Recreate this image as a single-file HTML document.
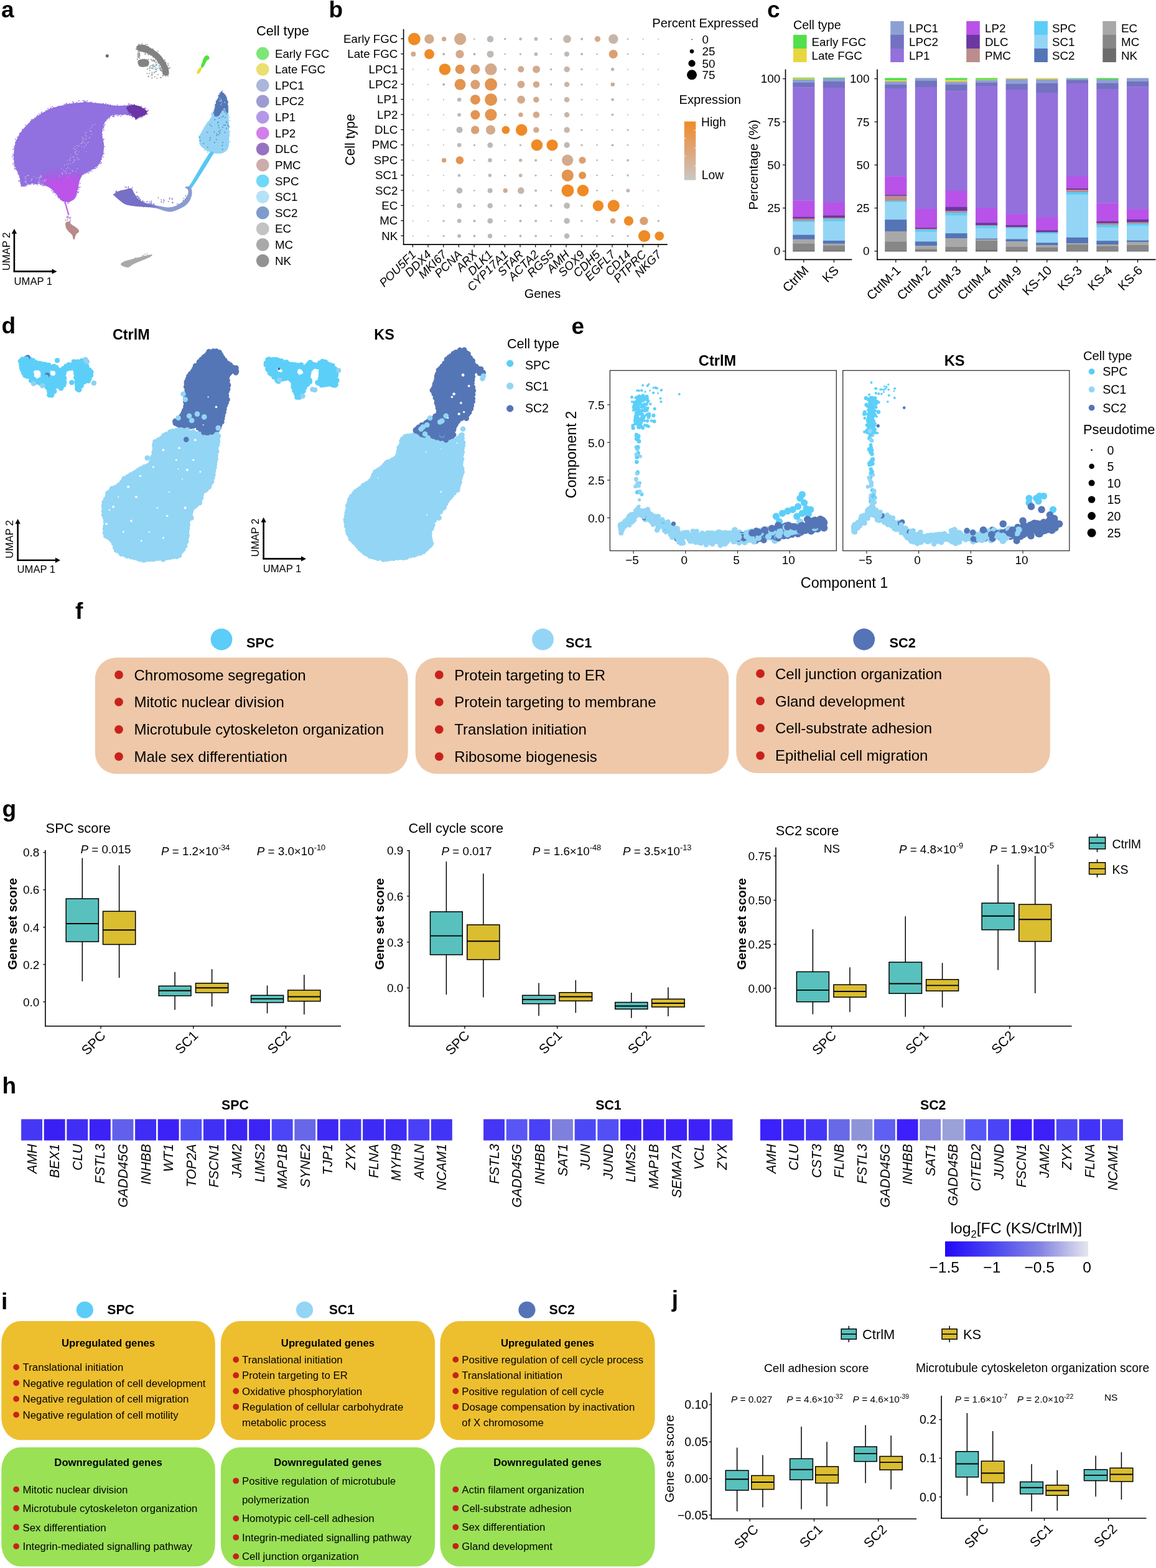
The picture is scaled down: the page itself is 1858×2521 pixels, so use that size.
<!DOCTYPE html>
<html><head><meta charset="utf-8"><title>Figure</title>
<style>html,body{margin:0;padding:0;background:#fff;} svg{display:block;}</style>
</head><body>
<svg width="1858" height="2521" viewBox="0 0 1858 2521" font-family="'Liberation Sans', Arial, sans-serif">
<rect x="0" y="0" width="1858" height="2521" fill="#fff"/>
<text x="2.00" y="28.30" font-size="37.00" font-weight="bold">a</text>
<text x="412.00" y="56.50" font-size="21.80">Cell type</text>
<circle cx="422.20" cy="86.00" r="10.40" fill="#7de678"/>
<text x="442.00" y="92.60" font-size="18.70">Early FGC</text>
<circle cx="422.20" cy="111.62" r="10.40" fill="#ebdf70"/>
<text x="442.00" y="118.22" font-size="18.70">Late FGC</text>
<circle cx="422.20" cy="137.24" r="10.40" fill="#aab6da"/>
<text x="442.00" y="143.84" font-size="18.70">LPC1</text>
<circle cx="422.20" cy="162.86" r="10.40" fill="#9d9bd2"/>
<text x="442.00" y="169.46" font-size="18.70">LPC2</text>
<circle cx="422.20" cy="188.48" r="10.40" fill="#b398e8"/>
<text x="442.00" y="195.08" font-size="18.70">LP1</text>
<circle cx="422.20" cy="214.10" r="10.40" fill="#d27fe9"/>
<text x="442.00" y="220.70" font-size="18.70">LP2</text>
<circle cx="422.20" cy="239.72" r="10.40" fill="#9572bf"/>
<text x="442.00" y="246.32" font-size="18.70">DLC</text>
<circle cx="422.20" cy="265.34" r="10.40" fill="#cdacac"/>
<text x="442.00" y="271.94" font-size="18.70">PMC</text>
<circle cx="422.20" cy="290.96" r="10.40" fill="#6ed8f8"/>
<text x="442.00" y="297.56" font-size="18.70">SPC</text>
<circle cx="422.20" cy="316.58" r="10.40" fill="#b4e2f7"/>
<text x="442.00" y="323.18" font-size="18.70">SC1</text>
<circle cx="422.20" cy="342.20" r="10.40" fill="#7f9bcb"/>
<text x="442.00" y="348.80" font-size="18.70">SC2</text>
<circle cx="422.20" cy="367.82" r="10.40" fill="#c3c3c3"/>
<text x="442.00" y="374.42" font-size="18.70">EC</text>
<circle cx="422.20" cy="393.44" r="10.40" fill="#a9a9a9"/>
<text x="442.00" y="400.04" font-size="18.70">MC</text>
<circle cx="422.20" cy="419.06" r="10.40" fill="#929292"/>
<text x="442.00" y="425.66" font-size="18.70">NK</text>
<line x1="22.90" y1="436.40" x2="22.90" y2="373.80" stroke="#000" stroke-width="2.6"/>
<line x1="21.60" y1="436.40" x2="85.50" y2="436.40" stroke="#000" stroke-width="2.6"/>
<path d="M18.7,375.8 L22.9,367.8 L27.1,375.8 Z" fill="#000"/>
<path d="M83.5,432.2 L91.5,436.4 L83.5,440.6 Z" fill="#000"/>
<text x="22.60" y="457.50" font-size="16.60">UMAP 1</text>
<text x="15.80" y="404.20" font-size="16.60" text-anchor="middle" transform="rotate(-90.00 15.80 404.20)">UMAP 2</text>
<defs><linearGradient id="lp2g" x1="0" y1="0" x2="0" y2="1"><stop offset="0" stop-color="#b952e8" stop-opacity="0"/><stop offset="0.35" stop-color="#b952e8" stop-opacity="0.55"/><stop offset="0.6" stop-color="#bb52e8" stop-opacity="1"/><stop offset="1" stop-color="#bd52e8" stop-opacity="1"/></linearGradient><linearGradient id="lpcg" x1="0" y1="0" x2="1" y2="0"><stop offset="0" stop-color="#7670c6"/><stop offset="0.45" stop-color="#7670c6"/><stop offset="0.62" stop-color="#8a9bd0"/><stop offset="1" stop-color="#8a9dd0"/></linearGradient><filter id="blur1"><feGaussianBlur stdDeviation="2.5"/></filter></defs>
<path d="M22.0,250.0 C22.1,245.7 22.7,240.3 23.5,236.0 C24.3,231.7 24.9,228.5 27.0,224.0 C29.1,219.5 33.0,213.3 36.2,209.0 C39.4,204.7 42.9,201.1 46.0,198.0 C49.1,194.9 51.8,192.9 55.1,190.4 C58.4,187.9 62.1,185.4 66.0,183.0 C69.9,180.6 74.7,178.0 78.7,176.2 C82.7,174.4 86.1,173.2 90.0,172.0 C93.9,170.8 98.3,170.0 102.3,169.1 C106.3,168.2 110.1,167.2 114.0,166.5 C117.9,165.8 122.1,165.5 125.9,165.2 C129.7,164.9 133.1,164.6 137.0,164.6 C140.9,164.6 145.5,164.9 149.5,165.2 C153.5,165.5 157.1,165.8 161.0,166.3 C164.9,166.8 168.4,167.7 173.1,168.3 C177.8,168.9 183.9,169.8 188.9,170.0 C193.9,170.2 198.8,169.7 203.0,169.5 C207.2,169.3 209.8,168.1 214.0,168.8 C218.2,169.5 224.5,172.1 228.2,173.8 C231.9,175.6 235.2,177.7 236.0,179.3 C236.8,180.9 234.7,182.2 233.0,183.5 C231.3,184.8 228.1,185.8 226.0,187.0 C223.9,188.2 222.5,190.3 220.3,190.4 C218.1,190.5 215.6,188.5 213.0,187.5 C210.4,186.5 207.7,185.0 205.0,184.5 C202.3,184.0 199.9,184.5 196.7,184.5 C193.5,184.5 189.1,184.2 186.0,184.5 C182.9,184.8 180.3,185.2 178.0,186.5 C175.7,187.8 173.8,189.8 172.0,192.0 C170.2,194.2 168.3,196.8 167.0,200.0 C165.7,203.2 164.3,207.3 164.0,211.0 C163.7,214.7 164.5,218.5 165.0,222.0 C165.5,225.5 166.8,228.5 167.0,232.0 C167.2,235.5 167.0,239.5 166.5,243.0 C166.0,246.5 165.2,249.5 164.0,253.0 C162.8,256.5 161.2,261.0 159.0,264.0 C156.8,267.0 153.9,269.0 151.0,271.0 C148.1,273.0 144.6,274.3 141.6,276.0 C138.6,277.7 135.3,278.7 133.0,281.0 C130.7,283.3 129.2,287.0 128.0,290.0 C126.8,293.0 126.8,295.7 126.0,299.0 C125.2,302.3 124.6,306.6 123.5,310.0 C122.4,313.4 121.3,317.1 119.6,319.4 C117.8,321.7 115.1,322.8 113.0,323.6 C110.9,324.5 109.2,324.6 107.0,324.5 C104.8,324.4 102.0,324.1 100.0,323.0 C98.0,321.9 96.7,320.0 95.0,318.0 C93.3,316.0 92.0,313.3 90.0,311.0 C88.0,308.7 85.4,305.9 83.0,304.0 C80.6,302.1 78.2,300.8 75.5,299.5 C72.8,298.2 69.6,297.2 67.0,296.5 C64.4,295.8 62.6,295.4 59.8,295.2 C57.0,295.0 53.0,295.1 50.0,295.5 C47.0,295.9 44.3,296.8 42.0,297.5 C39.7,298.2 37.7,299.8 36.2,299.5 C34.7,299.2 33.7,297.9 33.0,296.0 C32.3,294.1 32.4,290.4 32.0,288.0 C31.6,285.6 31.5,284.3 30.5,281.6 C29.5,278.9 27.2,275.3 26.0,272.0 C24.8,268.7 23.7,265.7 23.0,262.0 C22.3,258.3 21.9,254.3 22.0,250.0 Z" fill="#9170df"/>
<g fill="#9170df"><circle cx="182.9" cy="170.8" r="0.9"/><circle cx="35.8" cy="207.8" r="0.9"/><circle cx="31.8" cy="215.6" r="0.9"/><circle cx="227.4" cy="186.8" r="0.9"/><circle cx="232.3" cy="183.4" r="0.9"/><circle cx="116.8" cy="163.7" r="0.9"/><circle cx="162.1" cy="222.9" r="0.9"/><circle cx="29.1" cy="220.9" r="0.9"/><circle cx="72.6" cy="180.6" r="0.9"/><circle cx="92.9" cy="315.6" r="0.9"/><circle cx="160.4" cy="259.7" r="0.9"/><circle cx="34.5" cy="213.4" r="0.9"/><circle cx="141.7" cy="275.9" r="0.9"/><circle cx="164.8" cy="226.3" r="0.9"/><circle cx="101.4" cy="322.4" r="0.9"/><circle cx="162.1" cy="218.7" r="0.9"/><circle cx="125.1" cy="302.6" r="0.9"/><circle cx="55.9" cy="189.6" r="0.9"/><circle cx="75.7" cy="177.6" r="0.9"/><circle cx="149.6" cy="270.1" r="0.9"/><circle cx="60.5" cy="297.3" r="0.9"/><circle cx="165.6" cy="230.7" r="0.9"/><circle cx="83.3" cy="302.8" r="0.9"/><circle cx="153.5" cy="271.2" r="0.9"/><circle cx="161.8" cy="263.1" r="0.9"/><circle cx="156.0" cy="167.2" r="0.9"/><circle cx="22.8" cy="236.1" r="0.9"/><circle cx="59.4" cy="189.7" r="0.9"/><circle cx="63.7" cy="185.9" r="0.9"/><circle cx="65.0" cy="296.6" r="0.9"/><circle cx="167.8" cy="202.1" r="0.9"/><circle cx="68.1" cy="298.3" r="0.9"/><circle cx="206.1" cy="167.3" r="0.9"/><circle cx="75.9" cy="178.8" r="0.9"/><circle cx="123.6" cy="165.4" r="0.9"/><circle cx="145.1" cy="165.0" r="0.9"/><circle cx="207.3" cy="167.7" r="0.9"/><circle cx="135.4" cy="278.4" r="0.9"/><circle cx="147.7" cy="275.1" r="0.9"/><circle cx="112.2" cy="322.3" r="0.9"/><circle cx="223.7" cy="172.7" r="0.9"/><circle cx="163.1" cy="256.0" r="0.9"/><circle cx="110.7" cy="168.4" r="0.9"/><circle cx="31.1" cy="218.5" r="0.9"/><circle cx="49.5" cy="195.2" r="0.9"/><circle cx="61.4" cy="295.1" r="0.9"/><circle cx="136.5" cy="165.6" r="0.9"/><circle cx="62.7" cy="183.5" r="0.9"/><circle cx="207.9" cy="185.8" r="0.9"/><circle cx="49.4" cy="195.5" r="0.9"/><circle cx="87.2" cy="308.2" r="0.9"/><circle cx="28.8" cy="279.4" r="0.9"/><circle cx="168.6" cy="200.2" r="0.9"/><circle cx="24.7" cy="261.9" r="0.9"/><circle cx="142.2" cy="165.5" r="0.9"/><circle cx="113.0" cy="321.8" r="0.9"/><circle cx="185.9" cy="172.0" r="0.9"/><circle cx="24.2" cy="257.5" r="0.9"/><circle cx="91.3" cy="312.0" r="0.9"/><circle cx="176.7" cy="187.8" r="0.9"/><circle cx="24.3" cy="233.7" r="0.9"/><circle cx="137.5" cy="278.8" r="0.9"/><circle cx="35.2" cy="287.6" r="0.9"/><circle cx="207.5" cy="170.1" r="0.9"/><circle cx="103.2" cy="170.8" r="0.9"/><circle cx="46.6" cy="295.3" r="0.9"/><circle cx="157.1" cy="265.3" r="0.9"/><circle cx="155.2" cy="267.8" r="0.9"/><circle cx="122.0" cy="311.7" r="0.9"/><circle cx="103.8" cy="326.1" r="0.9"/><circle cx="23.6" cy="268.3" r="0.9"/><circle cx="30.4" cy="281.1" r="0.9"/><circle cx="64.1" cy="187.7" r="0.9"/><circle cx="97.3" cy="320.8" r="0.9"/><circle cx="22.4" cy="261.3" r="0.9"/><circle cx="166.3" cy="203.4" r="0.9"/><circle cx="23.9" cy="266.7" r="0.9"/><circle cx="29.8" cy="291.0" r="0.9"/><circle cx="88.4" cy="310.2" r="0.9"/><circle cx="162.7" cy="168.3" r="0.9"/><circle cx="141.0" cy="165.2" r="0.9"/><circle cx="39.1" cy="299.3" r="0.9"/><circle cx="166.6" cy="223.9" r="0.9"/><circle cx="34.0" cy="298.9" r="0.9"/><circle cx="175.6" cy="190.2" r="0.9"/><circle cx="96.7" cy="171.0" r="0.9"/><circle cx="85.8" cy="173.1" r="0.9"/><circle cx="164.1" cy="209.4" r="0.9"/><circle cx="165.1" cy="206.8" r="0.9"/><circle cx="164.2" cy="211.3" r="0.9"/><circle cx="113.3" cy="322.2" r="0.9"/><circle cx="121.7" cy="316.6" r="0.9"/><circle cx="165.0" cy="242.7" r="0.9"/><circle cx="134.5" cy="279.7" r="0.9"/><circle cx="203.0" cy="183.8" r="0.9"/><circle cx="61.6" cy="295.0" r="0.9"/><circle cx="166.7" cy="209.0" r="0.9"/><circle cx="68.9" cy="183.0" r="0.9"/><circle cx="37.1" cy="208.5" r="0.9"/><circle cx="149.4" cy="269.5" r="0.9"/><circle cx="77.0" cy="175.0" r="0.9"/><circle cx="73.6" cy="178.0" r="0.9"/><circle cx="118.0" cy="165.8" r="0.9"/><circle cx="197.8" cy="184.3" r="0.9"/><circle cx="80.1" cy="175.8" r="0.9"/><circle cx="191.7" cy="171.0" r="0.9"/><circle cx="128.6" cy="294.8" r="0.9"/><circle cx="224.3" cy="188.8" r="0.9"/><circle cx="164.3" cy="249.7" r="0.9"/><circle cx="23.6" cy="256.0" r="0.9"/><circle cx="51.2" cy="194.0" r="0.9"/><circle cx="111.1" cy="324.6" r="0.9"/><circle cx="235.2" cy="182.0" r="0.9"/><circle cx="142.9" cy="167.2" r="0.9"/><circle cx="164.3" cy="216.2" r="0.9"/><circle cx="31.5" cy="214.6" r="0.9"/><circle cx="38.7" cy="207.4" r="0.9"/><circle cx="100.2" cy="322.3" r="0.9"/><circle cx="35.9" cy="209.9" r="0.9"/><circle cx="188.6" cy="168.9" r="0.9"/><circle cx="148.1" cy="166.2" r="0.9"/><circle cx="129.1" cy="165.5" r="0.9"/><circle cx="30.0" cy="220.8" r="0.9"/><circle cx="170.2" cy="166.7" r="0.9"/><circle cx="187.8" cy="185.6" r="0.9"/><circle cx="23.2" cy="238.9" r="0.9"/><circle cx="124.7" cy="301.0" r="0.9"/><circle cx="203.7" cy="184.3" r="0.9"/><circle cx="89.8" cy="313.3" r="0.9"/><circle cx="83.2" cy="306.4" r="0.9"/><circle cx="139.9" cy="277.5" r="0.9"/><circle cx="85.0" cy="304.7" r="0.9"/><circle cx="230.8" cy="176.1" r="0.9"/><circle cx="65.9" cy="185.3" r="0.9"/><circle cx="139.6" cy="165.2" r="0.9"/><circle cx="82.5" cy="301.5" r="0.9"/><circle cx="155.8" cy="166.9" r="0.9"/><circle cx="213.1" cy="188.4" r="0.9"/><circle cx="147.5" cy="164.1" r="0.9"/><circle cx="166.5" cy="205.7" r="0.9"/><circle cx="172.9" cy="168.3" r="0.9"/><circle cx="216.3" cy="170.4" r="0.9"/><circle cx="105.2" cy="168.4" r="0.9"/><circle cx="145.8" cy="165.7" r="0.9"/><circle cx="28.0" cy="224.6" r="0.9"/><circle cx="123.6" cy="164.5" r="0.9"/><circle cx="121.6" cy="310.1" r="0.9"/><circle cx="58.1" cy="296.0" r="0.9"/><circle cx="24.0" cy="261.2" r="0.9"/><circle cx="162.8" cy="261.6" r="0.9"/><circle cx="49.5" cy="294.0" r="0.9"/><circle cx="94.6" cy="317.3" r="0.9"/><circle cx="185.8" cy="182.8" r="0.9"/><circle cx="85.7" cy="307.7" r="0.9"/><circle cx="141.0" cy="275.3" r="0.9"/><circle cx="25.9" cy="231.7" r="0.9"/><circle cx="52.2" cy="192.1" r="0.9"/><circle cx="162.9" cy="250.7" r="0.9"/><circle cx="196.4" cy="184.5" r="0.9"/><circle cx="121.7" cy="310.5" r="0.9"/><circle cx="155.9" cy="269.3" r="0.9"/><circle cx="138.1" cy="165.1" r="0.9"/><circle cx="126.6" cy="301.0" r="0.9"/><circle cx="22.6" cy="265.1" r="0.9"/><circle cx="199.6" cy="182.5" r="0.9"/><circle cx="165.5" cy="245.1" r="0.9"/><circle cx="73.5" cy="181.1" r="0.9"/><circle cx="169.5" cy="167.7" r="0.9"/><circle cx="32.8" cy="216.1" r="0.9"/><circle cx="135.8" cy="278.1" r="0.9"/><circle cx="176.0" cy="187.4" r="0.9"/><circle cx="58.8" cy="187.8" r="0.9"/><circle cx="23.7" cy="263.5" r="0.9"/><circle cx="214.0" cy="184.2" r="0.9"/><circle cx="218.0" cy="190.4" r="0.9"/><circle cx="31.2" cy="284.3" r="0.9"/><circle cx="67.2" cy="180.2" r="0.9"/><circle cx="66.1" cy="182.0" r="0.9"/><circle cx="53.9" cy="294.5" r="0.9"/><circle cx="47.1" cy="296.2" r="0.9"/><circle cx="20.8" cy="247.8" r="0.9"/><circle cx="169.0" cy="168.4" r="0.9"/><circle cx="177.0" cy="168.7" r="0.9"/><circle cx="123.0" cy="311.4" r="0.9"/><circle cx="32.2" cy="291.8" r="0.9"/><circle cx="159.8" cy="167.2" r="0.9"/><circle cx="21.0" cy="250.1" r="0.9"/><circle cx="229.9" cy="185.4" r="0.9"/><circle cx="50.3" cy="193.9" r="0.9"/><circle cx="32.1" cy="289.8" r="0.9"/><circle cx="181.1" cy="187.0" r="0.9"/><circle cx="29.9" cy="275.0" r="0.9"/><circle cx="166.2" cy="252.3" r="0.9"/><circle cx="165.9" cy="203.2" r="0.9"/><circle cx="123.5" cy="301.5" r="0.9"/><circle cx="160.0" cy="262.1" r="0.9"/><circle cx="33.8" cy="295.3" r="0.9"/><circle cx="193.6" cy="171.8" r="0.9"/><circle cx="23.7" cy="266.6" r="0.9"/><circle cx="166.3" cy="166.9" r="0.9"/><circle cx="85.4" cy="174.6" r="0.9"/><circle cx="41.5" cy="297.4" r="0.9"/><circle cx="43.6" cy="297.4" r="0.9"/><circle cx="69.4" cy="181.8" r="0.9"/><circle cx="193.9" cy="170.4" r="0.9"/><circle cx="138.5" cy="163.6" r="0.9"/><circle cx="121.8" cy="312.0" r="0.9"/><circle cx="173.0" cy="191.1" r="0.9"/><circle cx="32.9" cy="216.8" r="0.9"/><circle cx="60.1" cy="185.7" r="0.9"/><circle cx="69.2" cy="298.2" r="0.9"/><circle cx="133.7" cy="165.6" r="0.9"/><circle cx="30.3" cy="275.7" r="0.9"/><circle cx="25.5" cy="236.8" r="0.9"/><circle cx="46.9" cy="296.1" r="0.9"/><circle cx="19.7" cy="251.8" r="0.9"/><circle cx="90.6" cy="306.7" r="0.9"/><circle cx="135.4" cy="165.2" r="0.9"/><circle cx="173.4" cy="186.7" r="0.9"/><circle cx="125.7" cy="292.5" r="0.9"/><circle cx="213.2" cy="187.6" r="0.9"/><circle cx="109.4" cy="327.1" r="0.9"/><circle cx="159.6" cy="262.9" r="0.9"/><circle cx="135.6" cy="163.1" r="0.9"/><circle cx="56.2" cy="191.3" r="0.9"/><circle cx="164.8" cy="225.0" r="0.9"/><circle cx="167.9" cy="235.7" r="0.9"/><circle cx="213.4" cy="186.5" r="0.9"/><circle cx="55.1" cy="295.5" r="0.9"/><circle cx="135.9" cy="164.3" r="0.9"/><circle cx="173.1" cy="168.3" r="0.9"/><circle cx="145.1" cy="274.1" r="0.9"/><circle cx="150.8" cy="271.1" r="0.9"/><circle cx="24.8" cy="230.1" r="0.9"/><circle cx="142.3" cy="278.2" r="0.9"/><circle cx="123.8" cy="304.9" r="0.9"/><circle cx="24.1" cy="270.8" r="0.9"/><circle cx="124.1" cy="167.6" r="0.9"/><circle cx="165.3" cy="166.3" r="0.9"/><circle cx="97.2" cy="171.7" r="0.9"/><circle cx="151.8" cy="270.7" r="0.9"/><circle cx="225.6" cy="176.0" r="0.9"/><circle cx="70.9" cy="180.7" r="0.9"/><circle cx="226.9" cy="171.0" r="0.9"/><circle cx="128.5" cy="301.0" r="0.9"/><circle cx="186.4" cy="172.4" r="0.9"/><circle cx="125.5" cy="309.7" r="0.9"/><circle cx="215.2" cy="170.3" r="0.9"/><circle cx="87.1" cy="173.5" r="0.9"/><circle cx="199.7" cy="169.5" r="0.9"/><circle cx="26.3" cy="273.1" r="0.9"/><circle cx="90.8" cy="310.0" r="0.9"/><circle cx="28.0" cy="220.5" r="0.9"/><circle cx="35.3" cy="299.2" r="0.9"/><circle cx="49.2" cy="296.3" r="0.9"/><circle cx="93.8" cy="315.9" r="0.9"/><circle cx="28.4" cy="229.6" r="0.9"/><circle cx="140.1" cy="162.0" r="0.9"/><circle cx="190.9" cy="173.2" r="0.9"/><circle cx="165.7" cy="247.6" r="0.9"/><circle cx="177.2" cy="168.9" r="0.9"/><circle cx="123.1" cy="313.9" r="0.9"/><circle cx="32.0" cy="284.2" r="0.9"/><circle cx="206.0" cy="183.6" r="0.9"/><circle cx="220.7" cy="172.5" r="0.9"/><circle cx="192.2" cy="184.1" r="0.9"/><circle cx="97.4" cy="318.2" r="0.9"/><circle cx="113.8" cy="321.8" r="0.9"/><circle cx="177.7" cy="170.7" r="0.9"/><circle cx="40.5" cy="207.0" r="0.9"/><circle cx="134.4" cy="164.9" r="0.9"/><circle cx="163.8" cy="208.9" r="0.9"/><circle cx="57.3" cy="295.2" r="0.9"/><circle cx="43.2" cy="203.5" r="0.9"/><circle cx="128.6" cy="287.6" r="0.9"/><circle cx="233.7" cy="179.2" r="0.9"/><circle cx="124.5" cy="308.8" r="0.9"/><circle cx="60.0" cy="186.5" r="0.9"/><circle cx="162.8" cy="215.9" r="0.9"/><circle cx="104.2" cy="169.7" r="0.9"/><circle cx="78.1" cy="176.1" r="0.9"/><circle cx="180.1" cy="171.9" r="0.9"/><circle cx="183.1" cy="187.6" r="0.9"/><circle cx="157.3" cy="265.9" r="0.9"/><circle cx="204.2" cy="182.2" r="0.9"/><circle cx="38.4" cy="299.4" r="0.9"/><circle cx="59.7" cy="191.4" r="0.9"/><circle cx="166.6" cy="224.0" r="0.9"/><circle cx="66.1" cy="296.8" r="0.9"/><circle cx="112.5" cy="323.6" r="0.9"/><circle cx="166.3" cy="231.9" r="0.9"/><circle cx="210.5" cy="169.7" r="0.9"/><circle cx="137.3" cy="163.6" r="0.9"/><circle cx="108.0" cy="168.2" r="0.9"/><circle cx="144.3" cy="275.8" r="0.9"/><circle cx="107.3" cy="166.5" r="0.9"/><circle cx="34.9" cy="213.6" r="0.9"/><circle cx="165.5" cy="203.7" r="0.9"/><circle cx="82.3" cy="173.4" r="0.9"/><circle cx="155.5" cy="168.9" r="0.9"/><circle cx="173.5" cy="168.0" r="0.9"/><circle cx="238.2" cy="177.0" r="0.9"/><circle cx="207.5" cy="171.2" r="0.9"/><circle cx="109.7" cy="168.2" r="0.9"/><circle cx="233.0" cy="182.6" r="0.9"/><circle cx="55.9" cy="295.5" r="0.9"/><circle cx="21.2" cy="240.2" r="0.9"/><circle cx="41.7" cy="299.1" r="0.9"/><circle cx="210.5" cy="169.0" r="0.9"/><circle cx="153.7" cy="165.5" r="0.9"/><circle cx="50.8" cy="192.1" r="0.9"/><circle cx="25.7" cy="271.0" r="0.9"/><circle cx="32.6" cy="283.9" r="0.9"/><circle cx="31.8" cy="217.5" r="0.9"/><circle cx="41.7" cy="295.5" r="0.9"/><circle cx="81.0" cy="174.5" r="0.9"/><circle cx="232.3" cy="173.7" r="0.9"/><circle cx="94.6" cy="172.3" r="0.9"/><circle cx="176.3" cy="188.1" r="0.9"/><circle cx="133.5" cy="162.0" r="0.9"/><circle cx="24.8" cy="223.9" r="0.9"/><circle cx="26.6" cy="226.0" r="0.9"/><circle cx="165.1" cy="234.1" r="0.9"/><circle cx="169.3" cy="168.8" r="0.9"/><circle cx="230.5" cy="183.2" r="0.9"/><circle cx="226.1" cy="188.3" r="0.9"/><circle cx="194.1" cy="186.7" r="0.9"/><circle cx="109.8" cy="324.2" r="0.9"/><circle cx="204.7" cy="184.9" r="0.9"/><circle cx="229.7" cy="186.5" r="0.9"/><circle cx="182.9" cy="186.2" r="0.9"/><circle cx="40.9" cy="201.2" r="0.9"/><circle cx="181.8" cy="186.4" r="0.9"/><circle cx="216.2" cy="169.1" r="0.9"/><circle cx="74.5" cy="298.4" r="0.9"/><circle cx="93.9" cy="318.1" r="0.9"/><circle cx="195.2" cy="183.7" r="0.9"/><circle cx="84.3" cy="171.5" r="0.9"/><circle cx="33.3" cy="213.4" r="0.9"/><circle cx="80.7" cy="175.1" r="0.9"/><circle cx="93.3" cy="315.5" r="0.9"/><circle cx="35.0" cy="298.9" r="0.9"/><circle cx="183.5" cy="185.4" r="0.9"/><circle cx="95.4" cy="173.7" r="0.9"/><circle cx="143.8" cy="274.7" r="0.9"/><circle cx="108.7" cy="325.5" r="0.9"/><circle cx="160.5" cy="259.1" r="0.9"/><circle cx="162.7" cy="205.9" r="0.9"/><circle cx="53.0" cy="193.6" r="0.9"/><circle cx="225.6" cy="171.8" r="0.9"/><circle cx="21.4" cy="255.4" r="0.9"/><circle cx="118.3" cy="320.0" r="0.9"/><circle cx="126.3" cy="308.4" r="0.9"/><circle cx="135.7" cy="161.8" r="0.9"/><circle cx="165.3" cy="225.2" r="0.9"/><circle cx="22.8" cy="249.0" r="0.9"/><circle cx="164.6" cy="245.6" r="0.9"/><circle cx="49.4" cy="296.5" r="0.9"/><circle cx="156.9" cy="265.9" r="0.9"/><circle cx="202.3" cy="170.3" r="0.9"/><circle cx="118.2" cy="165.0" r="0.9"/><circle cx="106.2" cy="167.0" r="0.9"/><circle cx="67.4" cy="182.3" r="0.9"/><circle cx="76.1" cy="179.4" r="0.9"/><circle cx="64.1" cy="294.6" r="0.9"/><circle cx="146.6" cy="165.1" r="0.9"/><circle cx="162.9" cy="213.1" r="0.9"/><circle cx="223.3" cy="189.0" r="0.9"/><circle cx="135.1" cy="164.5" r="0.9"/><circle cx="170.1" cy="194.3" r="0.9"/><circle cx="32.3" cy="215.2" r="0.9"/><circle cx="166.4" cy="204.4" r="0.9"/><circle cx="103.2" cy="167.7" r="0.9"/><circle cx="161.1" cy="259.3" r="0.9"/><circle cx="172.7" cy="168.6" r="0.9"/><circle cx="53.0" cy="293.4" r="0.9"/><circle cx="23.6" cy="244.3" r="0.9"/><circle cx="208.8" cy="184.5" r="0.9"/><circle cx="121.5" cy="166.3" r="0.9"/><circle cx="25.3" cy="228.0" r="0.9"/><circle cx="135.9" cy="278.3" r="0.9"/><circle cx="144.5" cy="164.6" r="0.9"/><circle cx="104.3" cy="324.0" r="0.9"/><circle cx="161.6" cy="260.1" r="0.9"/><circle cx="59.4" cy="295.3" r="0.9"/><circle cx="126.9" cy="162.0" r="0.9"/><circle cx="122.4" cy="311.6" r="0.9"/><circle cx="185.0" cy="172.4" r="0.9"/><circle cx="163.0" cy="252.0" r="0.9"/><circle cx="20.9" cy="263.6" r="0.9"/><circle cx="134.2" cy="279.7" r="0.9"/><circle cx="125.6" cy="295.6" r="0.9"/><circle cx="111.7" cy="166.6" r="0.9"/><circle cx="39.7" cy="298.6" r="0.9"/><circle cx="53.2" cy="192.3" r="0.9"/><circle cx="70.8" cy="180.7" r="0.9"/><circle cx="134.7" cy="277.7" r="0.9"/><circle cx="126.6" cy="304.2" r="0.9"/><circle cx="207.6" cy="167.1" r="0.9"/><circle cx="53.8" cy="296.5" r="0.9"/><circle cx="38.0" cy="298.9" r="0.9"/><circle cx="108.5" cy="168.0" r="0.9"/><circle cx="78.4" cy="299.1" r="0.9"/><circle cx="88.0" cy="308.9" r="0.9"/><circle cx="50.7" cy="196.8" r="0.9"/><circle cx="107.2" cy="169.1" r="0.9"/><circle cx="23.4" cy="238.0" r="0.9"/><circle cx="127.1" cy="291.5" r="0.9"/><circle cx="23.5" cy="272.0" r="0.9"/><circle cx="167.0" cy="246.6" r="0.9"/><circle cx="225.5" cy="186.2" r="0.9"/><circle cx="130.2" cy="284.3" r="0.9"/><circle cx="71.4" cy="298.6" r="0.9"/><circle cx="87.6" cy="173.2" r="0.9"/><circle cx="120.1" cy="318.6" r="0.9"/><circle cx="190.8" cy="184.6" r="0.9"/><circle cx="94.0" cy="170.8" r="0.9"/><circle cx="85.5" cy="309.8" r="0.9"/><circle cx="157.3" cy="167.9" r="0.9"/><circle cx="189.8" cy="185.7" r="0.9"/></g>
<defs><linearGradient id="lp2g2" x1="0" y1="0" x2="0" y2="1"><stop offset="0" stop-color="#b952e8" stop-opacity="0"/><stop offset="0.28" stop-color="#b952e8" stop-opacity="0.6"/><stop offset="0.5" stop-color="#bb52e8" stop-opacity="1"/><stop offset="1" stop-color="#bd52e8" stop-opacity="1"/></linearGradient></defs>
<defs><clipPath id="blobclip"><path d="M22.0,250.0 C22.1,245.7 22.7,240.3 23.5,236.0 C24.3,231.7 24.9,228.5 27.0,224.0 C29.1,219.5 33.0,213.3 36.2,209.0 C39.4,204.7 42.9,201.1 46.0,198.0 C49.1,194.9 51.8,192.9 55.1,190.4 C58.4,187.9 62.1,185.4 66.0,183.0 C69.9,180.6 74.7,178.0 78.7,176.2 C82.7,174.4 86.1,173.2 90.0,172.0 C93.9,170.8 98.3,170.0 102.3,169.1 C106.3,168.2 110.1,167.2 114.0,166.5 C117.9,165.8 122.1,165.5 125.9,165.2 C129.7,164.9 133.1,164.6 137.0,164.6 C140.9,164.6 145.5,164.9 149.5,165.2 C153.5,165.5 157.1,165.8 161.0,166.3 C164.9,166.8 168.4,167.7 173.1,168.3 C177.8,168.9 183.9,169.8 188.9,170.0 C193.9,170.2 198.8,169.7 203.0,169.5 C207.2,169.3 209.8,168.1 214.0,168.8 C218.2,169.5 224.5,172.1 228.2,173.8 C231.9,175.6 235.2,177.7 236.0,179.3 C236.8,180.9 234.7,182.2 233.0,183.5 C231.3,184.8 228.1,185.8 226.0,187.0 C223.9,188.2 222.5,190.3 220.3,190.4 C218.1,190.5 215.6,188.5 213.0,187.5 C210.4,186.5 207.7,185.0 205.0,184.5 C202.3,184.0 199.9,184.5 196.7,184.5 C193.5,184.5 189.1,184.2 186.0,184.5 C182.9,184.8 180.3,185.2 178.0,186.5 C175.7,187.8 173.8,189.8 172.0,192.0 C170.2,194.2 168.3,196.8 167.0,200.0 C165.7,203.2 164.3,207.3 164.0,211.0 C163.7,214.7 164.5,218.5 165.0,222.0 C165.5,225.5 166.8,228.5 167.0,232.0 C167.2,235.5 167.0,239.5 166.5,243.0 C166.0,246.5 165.2,249.5 164.0,253.0 C162.8,256.5 161.2,261.0 159.0,264.0 C156.8,267.0 153.9,269.0 151.0,271.0 C148.1,273.0 144.6,274.3 141.6,276.0 C138.6,277.7 135.3,278.7 133.0,281.0 C130.7,283.3 129.2,287.0 128.0,290.0 C126.8,293.0 126.8,295.7 126.0,299.0 C125.2,302.3 124.6,306.6 123.5,310.0 C122.4,313.4 121.3,317.1 119.6,319.4 C117.8,321.7 115.1,322.8 113.0,323.6 C110.9,324.5 109.2,324.6 107.0,324.5 C104.8,324.4 102.0,324.1 100.0,323.0 C98.0,321.9 96.7,320.0 95.0,318.0 C93.3,316.0 92.0,313.3 90.0,311.0 C88.0,308.7 85.4,305.9 83.0,304.0 C80.6,302.1 78.2,300.8 75.5,299.5 C72.8,298.2 69.6,297.2 67.0,296.5 C64.4,295.8 62.6,295.4 59.8,295.2 C57.0,295.0 53.0,295.1 50.0,295.5 C47.0,295.9 44.3,296.8 42.0,297.5 C39.7,298.2 37.7,299.8 36.2,299.5 C34.7,299.2 33.7,297.9 33.0,296.0 C32.3,294.1 32.4,290.4 32.0,288.0 C31.6,285.6 31.5,284.3 30.5,281.6 C29.5,278.9 27.2,275.3 26.0,272.0 C24.8,268.7 23.7,265.7 23.0,262.0 C22.3,258.3 21.9,254.3 22.0,250.0 Z"/></clipPath><filter id="blur3" x="-20%" y="-20%" width="140%" height="140%"><feGaussianBlur stdDeviation="3.2"/></filter></defs>
<g clip-path="url(#blobclip)"><path d="M66.0,283.0 C67.3,279.8 73.7,277.9 78.0,276.0 C82.3,274.1 87.3,272.6 92.0,271.5 C96.7,270.4 101.7,269.7 106.0,269.5 C110.3,269.3 114.3,269.6 118.0,270.5 C121.7,271.4 125.4,273.2 128.0,275.0 C130.6,276.8 133.5,278.5 133.5,281.0 C133.5,283.5 129.2,287.0 128.0,290.0 C126.8,293.0 126.8,295.7 126.0,299.0 C125.2,302.3 124.6,306.6 123.5,310.0 C122.4,313.4 121.3,317.1 119.6,319.4 C117.8,321.7 115.1,322.8 113.0,323.6 C110.9,324.5 109.2,324.6 107.0,324.5 C104.8,324.4 102.0,324.1 100.0,323.0 C98.0,321.9 96.7,320.0 95.0,318.0 C93.3,316.0 92.0,313.3 90.0,311.0 C88.0,308.7 85.3,305.9 83.0,304.0 C80.7,302.1 78.2,301.0 76.0,299.5 C73.8,298.0 71.7,297.8 70.0,295.0 C68.3,292.2 64.7,286.2 66.0,283.0 Z" fill="url(#lp2g2)" filter="url(#blur3)"/><path d="M80.0,300.0 C81.2,296.7 89.2,292.5 95.0,290.0 C100.8,287.5 109.7,285.0 115.0,285.0 C120.3,285.0 125.6,285.8 127.0,290.0 C128.4,294.2 125.8,304.3 123.5,310.0 C121.2,315.7 116.9,321.8 113.0,324.0 C109.1,326.2 104.2,325.3 100.0,323.0 C95.8,320.7 91.3,313.8 88.0,310.0 C84.7,306.2 78.8,303.3 80.0,300.0 Z" fill="#bd52e8" filter="url(#blur3)"/></g>
<circle cx="147.78" cy="203.96" r="0.70" fill="#ffffff" opacity="0.55"/>
<circle cx="107.40" cy="264.58" r="0.70" fill="#ffffff" opacity="0.55"/>
<circle cx="121.64" cy="243.57" r="0.70" fill="#ffffff" opacity="0.55"/>
<circle cx="146.55" cy="211.17" r="0.70" fill="#ffffff" opacity="0.55"/>
<circle cx="138.80" cy="232.21" r="0.70" fill="#ffffff" opacity="0.55"/>
<circle cx="117.41" cy="252.23" r="0.70" fill="#ffffff" opacity="0.55"/>
<circle cx="132.35" cy="225.18" r="0.70" fill="#ffffff" opacity="0.55"/>
<circle cx="112.41" cy="258.15" r="0.70" fill="#ffffff" opacity="0.55"/>
<circle cx="131.23" cy="235.45" r="0.70" fill="#ffffff" opacity="0.55"/>
<circle cx="103.53" cy="265.44" r="0.70" fill="#ffffff" opacity="0.55"/>
<circle cx="133.54" cy="221.80" r="0.70" fill="#ffffff" opacity="0.55"/>
<circle cx="124.95" cy="255.30" r="0.70" fill="#ffffff" opacity="0.55"/>
<circle cx="105.99" cy="279.06" r="0.70" fill="#ffffff" opacity="0.55"/>
<circle cx="132.13" cy="219.90" r="0.70" fill="#ffffff" opacity="0.55"/>
<circle cx="144.37" cy="220.50" r="0.70" fill="#ffffff" opacity="0.55"/>
<circle cx="130.74" cy="230.71" r="0.70" fill="#ffffff" opacity="0.55"/>
<circle cx="138.66" cy="243.86" r="0.70" fill="#ffffff" opacity="0.55"/>
<circle cx="123.84" cy="270.94" r="0.70" fill="#ffffff" opacity="0.55"/>
<circle cx="134.19" cy="222.68" r="0.70" fill="#ffffff" opacity="0.55"/>
<circle cx="109.70" cy="263.28" r="0.70" fill="#ffffff" opacity="0.55"/>
<circle cx="138.65" cy="218.88" r="0.70" fill="#ffffff" opacity="0.55"/>
<circle cx="138.67" cy="222.36" r="0.70" fill="#ffffff" opacity="0.55"/>
<circle cx="132.01" cy="229.49" r="0.70" fill="#ffffff" opacity="0.55"/>
<circle cx="121.22" cy="240.92" r="0.70" fill="#ffffff" opacity="0.55"/>
<circle cx="138.86" cy="213.26" r="0.70" fill="#ffffff" opacity="0.55"/>
<circle cx="117.39" cy="261.38" r="0.70" fill="#ffffff" opacity="0.55"/>
<circle cx="121.27" cy="245.69" r="0.70" fill="#ffffff" opacity="0.55"/>
<circle cx="136.78" cy="213.14" r="0.70" fill="#ffffff" opacity="0.55"/>
<circle cx="108.28" cy="257.62" r="0.70" fill="#ffffff" opacity="0.55"/>
<circle cx="112.56" cy="255.10" r="0.70" fill="#ffffff" opacity="0.55"/>
<circle cx="132.78" cy="228.40" r="0.70" fill="#ffffff" opacity="0.55"/>
<circle cx="130.62" cy="230.83" r="0.70" fill="#ffffff" opacity="0.55"/>
<circle cx="118.52" cy="260.62" r="0.70" fill="#ffffff" opacity="0.55"/>
<circle cx="123.53" cy="237.87" r="0.70" fill="#ffffff" opacity="0.55"/>
<circle cx="119.12" cy="257.67" r="0.70" fill="#ffffff" opacity="0.55"/>
<circle cx="118.15" cy="252.48" r="0.70" fill="#ffffff" opacity="0.55"/>
<circle cx="126.88" cy="243.97" r="0.70" fill="#ffffff" opacity="0.55"/>
<circle cx="127.47" cy="255.86" r="0.70" fill="#ffffff" opacity="0.55"/>
<circle cx="100.68" cy="279.97" r="0.70" fill="#ffffff" opacity="0.55"/>
<circle cx="113.59" cy="248.94" r="0.70" fill="#ffffff" opacity="0.55"/>
<circle cx="118.37" cy="238.76" r="0.70" fill="#ffffff" opacity="0.55"/>
<circle cx="113.64" cy="253.23" r="0.70" fill="#ffffff" opacity="0.55"/>
<circle cx="137.49" cy="217.23" r="0.70" fill="#ffffff" opacity="0.55"/>
<circle cx="122.23" cy="276.05" r="0.70" fill="#ffffff" opacity="0.55"/>
<circle cx="135.98" cy="234.83" r="0.70" fill="#ffffff" opacity="0.55"/>
<circle cx="135.20" cy="237.41" r="0.70" fill="#ffffff" opacity="0.55"/>
<circle cx="127.48" cy="234.23" r="0.70" fill="#ffffff" opacity="0.55"/>
<circle cx="138.06" cy="234.33" r="0.70" fill="#ffffff" opacity="0.55"/>
<circle cx="99.54" cy="279.60" r="0.70" fill="#ffffff" opacity="0.55"/>
<circle cx="107.24" cy="271.29" r="0.70" fill="#ffffff" opacity="0.55"/>
<circle cx="145.05" cy="206.36" r="0.70" fill="#ffffff" opacity="0.55"/>
<circle cx="111.98" cy="256.98" r="0.70" fill="#ffffff" opacity="0.55"/>
<circle cx="143.25" cy="222.03" r="0.70" fill="#ffffff" opacity="0.55"/>
<circle cx="121.91" cy="247.75" r="0.70" fill="#ffffff" opacity="0.55"/>
<circle cx="124.86" cy="248.51" r="0.70" fill="#ffffff" opacity="0.55"/>
<circle cx="146.09" cy="210.97" r="0.70" fill="#ffffff" opacity="0.55"/>
<circle cx="106.94" cy="277.88" r="0.70" fill="#ffffff" opacity="0.55"/>
<circle cx="134.46" cy="226.72" r="0.70" fill="#ffffff" opacity="0.55"/>
<circle cx="149.15" cy="201.22" r="0.70" fill="#ffffff" opacity="0.55"/>
<circle cx="135.92" cy="230.01" r="0.70" fill="#ffffff" opacity="0.55"/>
<circle cx="123.80" cy="233.71" r="0.70" fill="#ffffff" opacity="0.55"/>
<circle cx="140.73" cy="229.74" r="0.70" fill="#ffffff" opacity="0.55"/>
<circle cx="152.26" cy="199.97" r="0.70" fill="#ffffff" opacity="0.55"/>
<circle cx="116.79" cy="275.01" r="0.70" fill="#ffffff" opacity="0.55"/>
<circle cx="119.10" cy="255.72" r="0.70" fill="#ffffff" opacity="0.55"/>
<circle cx="100.30" cy="277.99" r="0.70" fill="#ffffff" opacity="0.55"/>
<circle cx="147.20" cy="215.97" r="0.70" fill="#ffffff" opacity="0.55"/>
<circle cx="109.55" cy="269.47" r="0.70" fill="#ffffff" opacity="0.55"/>
<circle cx="105.58" cy="274.40" r="0.70" fill="#ffffff" opacity="0.55"/>
<circle cx="98.67" cy="270.80" r="0.70" fill="#ffffff" opacity="0.55"/>
<circle cx="123.50" cy="253.03" r="0.70" fill="#ffffff" opacity="0.55"/>
<circle cx="110.55" cy="279.37" r="0.70" fill="#ffffff" opacity="0.55"/>
<circle cx="123.19" cy="242.10" r="0.70" fill="#ffffff" opacity="0.55"/>
<circle cx="102.18" cy="274.29" r="0.70" fill="#ffffff" opacity="0.55"/>
<circle cx="142.02" cy="228.21" r="0.70" fill="#ffffff" opacity="0.55"/>
<circle cx="144.34" cy="210.25" r="0.70" fill="#ffffff" opacity="0.55"/>
<circle cx="119.20" cy="244.38" r="0.70" fill="#ffffff" opacity="0.55"/>
<circle cx="116.43" cy="274.43" r="0.70" fill="#ffffff" opacity="0.55"/>
<circle cx="119.77" cy="239.60" r="0.70" fill="#ffffff" opacity="0.55"/>
<circle cx="104.29" cy="275.93" r="0.70" fill="#ffffff" opacity="0.55"/>
<circle cx="108.30" cy="285.10" r="0.70" fill="#ffffff" opacity="0.55"/>
<circle cx="124.94" cy="257.11" r="0.70" fill="#ffffff" opacity="0.55"/>
<circle cx="119.94" cy="257.74" r="0.70" fill="#ffffff" opacity="0.55"/>
<circle cx="95.17" cy="283.15" r="0.70" fill="#ffffff" opacity="0.55"/>
<circle cx="112.90" cy="278.49" r="0.70" fill="#ffffff" opacity="0.55"/>
<circle cx="113.48" cy="263.47" r="0.70" fill="#ffffff" opacity="0.55"/>
<circle cx="125.66" cy="235.27" r="0.70" fill="#ffffff" opacity="0.55"/>
<circle cx="112.78" cy="271.83" r="0.70" fill="#ffffff" opacity="0.55"/>
<circle cx="120.05" cy="235.67" r="0.70" fill="#ffffff" opacity="0.55"/>
<circle cx="137.74" cy="223.94" r="0.70" fill="#ffffff" opacity="0.55"/>
<circle cx="57.63" cy="286.08" r="0.70" fill="#ffffff" opacity="0.5"/>
<circle cx="57.72" cy="296.62" r="0.70" fill="#ffffff" opacity="0.5"/>
<circle cx="62.91" cy="293.88" r="0.70" fill="#ffffff" opacity="0.5"/>
<circle cx="51.58" cy="286.76" r="0.70" fill="#ffffff" opacity="0.5"/>
<circle cx="50.47" cy="290.80" r="0.70" fill="#ffffff" opacity="0.5"/>
<circle cx="62.22" cy="293.76" r="0.70" fill="#ffffff" opacity="0.5"/>
<circle cx="41.40" cy="292.84" r="0.70" fill="#ffffff" opacity="0.5"/>
<circle cx="71.00" cy="290.18" r="0.70" fill="#ffffff" opacity="0.5"/>
<circle cx="41.74" cy="286.51" r="0.70" fill="#ffffff" opacity="0.5"/>
<circle cx="40.22" cy="284.85" r="0.70" fill="#ffffff" opacity="0.5"/>
<circle cx="72.25" cy="291.13" r="0.70" fill="#ffffff" opacity="0.5"/>
<circle cx="63.03" cy="293.84" r="0.70" fill="#ffffff" opacity="0.5"/>
<circle cx="71.84" cy="291.18" r="0.70" fill="#ffffff" opacity="0.5"/>
<circle cx="61.58" cy="291.40" r="0.70" fill="#ffffff" opacity="0.5"/>
<circle cx="64.37" cy="290.94" r="0.70" fill="#ffffff" opacity="0.5"/>
<circle cx="63.83" cy="285.19" r="0.70" fill="#ffffff" opacity="0.5"/>
<circle cx="63.35" cy="288.87" r="0.70" fill="#ffffff" opacity="0.5"/>
<circle cx="66.69" cy="283.52" r="0.70" fill="#ffffff" opacity="0.5"/>
<circle cx="46.35" cy="282.55" r="0.70" fill="#ffffff" opacity="0.5"/>
<circle cx="67.11" cy="295.71" r="0.70" fill="#ffffff" opacity="0.5"/>
<circle cx="62.95" cy="287.53" r="0.70" fill="#ffffff" opacity="0.5"/>
<circle cx="68.79" cy="293.80" r="0.70" fill="#ffffff" opacity="0.5"/>
<circle cx="59.67" cy="285.87" r="0.70" fill="#ffffff" opacity="0.5"/>
<circle cx="50.57" cy="288.33" r="0.70" fill="#ffffff" opacity="0.5"/>
<circle cx="51.15" cy="288.46" r="0.70" fill="#ffffff" opacity="0.5"/>
<circle cx="62.46" cy="296.01" r="0.70" fill="#ffffff" opacity="0.5"/>
<circle cx="41.91" cy="290.51" r="0.70" fill="#ffffff" opacity="0.5"/>
<circle cx="41.38" cy="283.78" r="0.70" fill="#ffffff" opacity="0.5"/>
<circle cx="68.36" cy="290.63" r="0.70" fill="#ffffff" opacity="0.5"/>
<circle cx="72.15" cy="288.70" r="0.70" fill="#ffffff" opacity="0.5"/>
<circle cx="40.49" cy="287.81" r="0.70" fill="#ffffff" opacity="0.5"/>
<circle cx="60.72" cy="296.07" r="0.70" fill="#ffffff" opacity="0.5"/>
<circle cx="74.33" cy="289.13" r="0.70" fill="#ffffff" opacity="0.5"/>
<circle cx="54.43" cy="283.53" r="0.70" fill="#ffffff" opacity="0.5"/>
<circle cx="62.56" cy="285.18" r="0.70" fill="#ffffff" opacity="0.5"/>
<circle cx="45.31" cy="282.23" r="0.70" fill="#ffffff" opacity="0.5"/>
<circle cx="40.17" cy="292.26" r="0.70" fill="#ffffff" opacity="0.5"/>
<circle cx="44.26" cy="296.50" r="0.70" fill="#ffffff" opacity="0.5"/>
<circle cx="43.08" cy="295.04" r="0.70" fill="#ffffff" opacity="0.5"/>
<circle cx="44.51" cy="282.27" r="0.70" fill="#ffffff" opacity="0.5"/>
<circle cx="65.18" cy="285.63" r="0.70" fill="#ffffff" opacity="0.5"/>
<circle cx="65.67" cy="284.81" r="0.70" fill="#ffffff" opacity="0.5"/>
<circle cx="41.75" cy="293.61" r="0.70" fill="#ffffff" opacity="0.5"/>
<circle cx="64.97" cy="294.83" r="0.70" fill="#ffffff" opacity="0.5"/>
<circle cx="65.54" cy="283.26" r="0.70" fill="#ffffff" opacity="0.5"/>
<circle cx="62.00" cy="292.64" r="0.70" fill="#ffffff" opacity="0.5"/>
<circle cx="56.12" cy="295.99" r="0.70" fill="#ffffff" opacity="0.5"/>
<circle cx="48.89" cy="296.46" r="0.70" fill="#ffffff" opacity="0.5"/>
<circle cx="65.10" cy="282.17" r="0.70" fill="#ffffff" opacity="0.5"/>
<circle cx="40.52" cy="291.76" r="0.70" fill="#ffffff" opacity="0.5"/>
<path d="M204.0,172.5 C204.8,171.2 208.2,170.6 210.0,170.0 C211.8,169.4 213.0,168.8 215.0,168.8 C217.0,168.8 219.7,169.5 222.0,170.2 C224.3,170.9 227.0,172.1 229.0,173.2 C231.0,174.2 232.8,175.4 234.0,176.5 C235.2,177.6 236.1,178.8 236.2,180.0 C236.3,181.2 235.7,182.9 234.5,184.0 C233.3,185.1 230.8,185.8 229.0,186.5 C227.2,187.2 224.9,187.2 223.5,188.0 C222.1,188.8 221.5,191.1 220.5,191.5 C219.5,191.9 218.6,191.4 217.5,190.5 C216.4,189.6 215.4,187.5 214.0,186.0 C212.6,184.5 210.5,182.9 209.0,181.5 C207.5,180.1 205.8,179.0 205.0,177.5 C204.2,176.0 203.2,173.8 204.0,172.5 Z" fill="#6c35a5"/>
<g fill="#6c35a5"><circle cx="213.1" cy="184.9" r="0.8"/><circle cx="218.1" cy="191.8" r="0.8"/><circle cx="235.5" cy="184.1" r="0.8"/><circle cx="226.5" cy="187.4" r="0.8"/><circle cx="215.7" cy="168.0" r="0.8"/><circle cx="222.0" cy="188.2" r="0.8"/><circle cx="234.4" cy="174.1" r="0.8"/><circle cx="213.6" cy="186.1" r="0.8"/><circle cx="210.2" cy="170.3" r="0.8"/><circle cx="211.1" cy="185.1" r="0.8"/><circle cx="205.0" cy="173.2" r="0.8"/><circle cx="226.6" cy="173.9" r="0.8"/><circle cx="232.7" cy="174.8" r="0.8"/><circle cx="207.8" cy="179.3" r="0.8"/><circle cx="204.0" cy="173.5" r="0.8"/><circle cx="227.8" cy="185.1" r="0.8"/><circle cx="208.2" cy="169.6" r="0.8"/><circle cx="208.5" cy="181.4" r="0.8"/><circle cx="210.8" cy="181.2" r="0.8"/><circle cx="206.2" cy="179.3" r="0.8"/><circle cx="229.8" cy="185.6" r="0.8"/><circle cx="216.7" cy="188.4" r="0.8"/><circle cx="224.8" cy="186.5" r="0.8"/><circle cx="220.5" cy="171.6" r="0.8"/><circle cx="213.5" cy="186.1" r="0.8"/><circle cx="213.1" cy="184.4" r="0.8"/><circle cx="229.2" cy="185.6" r="0.8"/><circle cx="230.7" cy="185.3" r="0.8"/><circle cx="219.3" cy="170.2" r="0.8"/><circle cx="218.4" cy="192.0" r="0.8"/><circle cx="234.1" cy="177.5" r="0.8"/><circle cx="208.4" cy="171.0" r="0.8"/><circle cx="211.1" cy="168.1" r="0.8"/><circle cx="215.6" cy="168.5" r="0.8"/><circle cx="232.4" cy="185.1" r="0.8"/><circle cx="204.9" cy="172.4" r="0.8"/><circle cx="228.4" cy="188.4" r="0.8"/><circle cx="237.3" cy="178.7" r="0.8"/><circle cx="213.0" cy="184.3" r="0.8"/><circle cx="207.1" cy="171.9" r="0.8"/><circle cx="211.7" cy="170.3" r="0.8"/><circle cx="206.7" cy="182.2" r="0.8"/><circle cx="208.0" cy="179.7" r="0.8"/><circle cx="236.3" cy="178.9" r="0.8"/><circle cx="223.2" cy="170.7" r="0.8"/><circle cx="204.2" cy="175.2" r="0.8"/><circle cx="237.2" cy="183.1" r="0.8"/><circle cx="204.2" cy="173.5" r="0.8"/><circle cx="223.1" cy="173.0" r="0.8"/><circle cx="207.2" cy="179.3" r="0.8"/><circle cx="213.9" cy="184.9" r="0.8"/><circle cx="204.8" cy="173.9" r="0.8"/><circle cx="217.2" cy="187.8" r="0.8"/><circle cx="226.3" cy="171.7" r="0.8"/><circle cx="211.9" cy="170.2" r="0.8"/><circle cx="213.2" cy="169.2" r="0.8"/><circle cx="224.0" cy="171.8" r="0.8"/><circle cx="204.8" cy="171.4" r="0.8"/><circle cx="207.4" cy="171.0" r="0.8"/><circle cx="206.7" cy="176.2" r="0.8"/></g>
<line x1="104.50" y1="325.00" x2="110.50" y2="346.00" stroke="#c56ce6" stroke-width="2.4"/>
<g fill="#b887c8"><circle cx="109.3" cy="349.2" r="0.8"/><circle cx="106.9" cy="349.5" r="0.8"/><circle cx="111.7" cy="357.1" r="0.8"/><circle cx="112.5" cy="355.4" r="0.8"/><circle cx="113.8" cy="349.7" r="0.8"/><circle cx="112.6" cy="357.9" r="0.8"/><circle cx="111.6" cy="350.6" r="0.8"/><circle cx="112.8" cy="349.4" r="0.8"/><circle cx="109.5" cy="349.1" r="0.8"/><circle cx="108.5" cy="353.8" r="0.8"/><circle cx="108.9" cy="347.9" r="0.8"/><circle cx="110.7" cy="349.1" r="0.8"/><circle cx="112.5" cy="351.1" r="0.8"/><circle cx="108.7" cy="349.2" r="0.8"/><circle cx="108.0" cy="351.5" r="0.8"/><circle cx="107.4" cy="348.0" r="0.8"/><circle cx="108.2" cy="349.8" r="0.8"/><circle cx="112.5" cy="352.3" r="0.8"/><circle cx="105.2" cy="353.4" r="0.8"/><circle cx="113.5" cy="354.3" r="0.8"/><circle cx="111.1" cy="356.6" r="0.8"/><circle cx="105.8" cy="354.4" r="0.8"/><circle cx="109.5" cy="349.9" r="0.8"/><circle cx="112.5" cy="356.8" r="0.8"/><circle cx="108.9" cy="353.9" r="0.8"/></g>
<path d="M105.5,358.0 C106.3,356.4 109.4,356.0 111.0,356.5 C112.6,357.0 113.5,359.8 115.0,361.0 C116.5,362.2 118.2,362.8 120.0,364.0 C121.8,365.2 124.3,367.1 125.5,368.5 C126.7,369.9 127.4,371.2 127.0,372.5 C126.6,373.8 124.0,374.8 123.0,376.0 C122.0,377.2 121.6,378.5 121.0,380.0 C120.4,381.5 120.1,384.3 119.5,385.0 C118.9,385.7 118.1,385.2 117.5,384.0 C116.9,382.8 117.2,380.0 116.0,378.0 C114.8,376.0 111.7,374.0 110.0,372.0 C108.3,370.0 106.8,368.3 106.0,366.0 C105.2,363.7 104.7,359.6 105.5,358.0 Z" fill="#b98a8a"/>
<path d="M219.5,74.5 C220.3,73.3 223.1,72.4 225.0,72.0 C226.9,71.6 228.8,71.5 231.0,72.0 C233.2,72.5 235.5,73.5 238.0,74.8 C240.5,76.0 243.3,77.7 246.0,79.5 C248.7,81.3 251.9,83.3 254.4,85.6 C256.9,87.8 259.1,90.5 261.0,93.0 C262.9,95.5 264.5,97.9 266.0,100.5 C267.5,103.1 269.1,105.9 270.0,108.5 C270.9,111.1 271.4,114.0 271.5,116.0 C271.6,118.0 271.9,119.8 270.5,120.5 C269.1,121.2 264.7,121.8 263.0,120.5 C261.3,119.2 261.3,115.4 260.5,113.0 C259.7,110.6 259.2,108.4 258.0,106.0 C256.8,103.6 254.8,100.8 253.0,98.5 C251.2,96.2 249.2,93.8 247.0,92.0 C244.8,90.2 242.3,88.8 240.0,87.5 C237.7,86.2 235.2,85.2 233.0,84.5 C230.8,83.8 228.8,83.4 227.0,83.0 C225.2,82.6 223.7,82.7 222.5,82.0 C221.3,81.3 220.5,80.2 220.0,79.0 C219.5,77.8 218.7,75.7 219.5,74.5 Z" fill="#828282"/>
<path d="M222.0,97.5 C223.2,96.2 226.7,95.3 229.0,95.0 C231.3,94.7 234.2,94.8 236.0,95.5 C237.8,96.2 239.1,97.4 239.5,99.0 C239.9,100.6 239.8,103.6 238.5,105.0 C237.2,106.4 234.2,107.2 232.0,107.5 C229.8,107.8 226.7,107.8 225.0,107.0 C223.3,106.2 222.5,104.6 222.0,103.0 C221.5,101.4 220.8,98.8 222.0,97.5 Z" fill="#838383"/>
<g fill="#838383"><circle cx="262.0" cy="117.6" r="0.9"/><circle cx="249.1" cy="98.0" r="0.9"/><circle cx="228.1" cy="70.7" r="0.9"/><circle cx="239.1" cy="85.2" r="0.9"/><circle cx="223.2" cy="72.5" r="0.9"/><circle cx="233.5" cy="85.8" r="0.9"/><circle cx="238.7" cy="87.9" r="0.9"/><circle cx="265.6" cy="100.0" r="0.9"/><circle cx="267.4" cy="121.1" r="0.9"/><circle cx="236.6" cy="71.6" r="0.9"/><circle cx="233.4" cy="87.4" r="0.9"/><circle cx="266.5" cy="100.9" r="0.9"/><circle cx="235.3" cy="84.2" r="0.9"/><circle cx="268.2" cy="120.1" r="0.9"/><circle cx="223.5" cy="72.9" r="0.9"/><circle cx="246.5" cy="80.0" r="0.9"/><circle cx="242.0" cy="88.5" r="0.9"/><circle cx="254.6" cy="101.0" r="0.9"/><circle cx="259.3" cy="113.7" r="0.9"/><circle cx="256.8" cy="102.2" r="0.9"/><circle cx="253.7" cy="98.7" r="0.9"/><circle cx="269.8" cy="117.8" r="0.9"/><circle cx="236.7" cy="75.0" r="0.9"/><circle cx="262.0" cy="115.1" r="0.9"/><circle cx="262.3" cy="117.6" r="0.9"/><circle cx="241.6" cy="87.0" r="0.9"/><circle cx="270.2" cy="105.2" r="0.9"/><circle cx="270.0" cy="102.4" r="0.9"/><circle cx="263.0" cy="97.3" r="0.9"/><circle cx="273.0" cy="108.7" r="0.9"/><circle cx="228.7" cy="80.3" r="0.9"/><circle cx="223.3" cy="71.6" r="0.9"/><circle cx="224.2" cy="84.1" r="0.9"/><circle cx="258.0" cy="111.2" r="0.9"/><circle cx="228.0" cy="72.8" r="0.9"/><circle cx="225.2" cy="76.4" r="0.9"/><circle cx="248.7" cy="90.9" r="0.9"/><circle cx="244.8" cy="86.8" r="0.9"/><circle cx="223.6" cy="71.3" r="0.9"/><circle cx="256.0" cy="105.4" r="0.9"/><circle cx="224.8" cy="81.9" r="0.9"/><circle cx="265.5" cy="122.1" r="0.9"/><circle cx="257.2" cy="91.8" r="0.9"/><circle cx="233.9" cy="72.2" r="0.9"/><circle cx="269.9" cy="122.3" r="0.9"/><circle cx="267.5" cy="121.2" r="0.9"/><circle cx="238.3" cy="76.8" r="0.9"/><circle cx="258.1" cy="90.4" r="0.9"/><circle cx="266.2" cy="118.6" r="0.9"/><circle cx="261.9" cy="118.1" r="0.9"/><circle cx="251.6" cy="99.8" r="0.9"/><circle cx="259.0" cy="112.9" r="0.9"/><circle cx="253.4" cy="86.5" r="0.9"/><circle cx="266.4" cy="101.5" r="0.9"/><circle cx="264.9" cy="96.7" r="0.9"/><circle cx="262.2" cy="120.6" r="0.9"/><circle cx="218.9" cy="79.1" r="0.9"/><circle cx="245.3" cy="78.7" r="0.9"/><circle cx="271.7" cy="110.3" r="0.9"/><circle cx="270.2" cy="108.9" r="0.9"/><circle cx="253.5" cy="82.4" r="0.9"/><circle cx="241.0" cy="78.3" r="0.9"/><circle cx="254.2" cy="101.7" r="0.9"/><circle cx="238.2" cy="87.7" r="0.9"/><circle cx="250.3" cy="93.6" r="0.9"/><circle cx="244.6" cy="87.6" r="0.9"/><circle cx="238.3" cy="74.8" r="0.9"/><circle cx="246.2" cy="91.9" r="0.9"/><circle cx="219.3" cy="79.2" r="0.9"/><circle cx="247.2" cy="89.6" r="0.9"/></g>
<circle cx="245.87" cy="107.38" r="0.90" fill="#8a8a8a"/>
<circle cx="247.91" cy="116.58" r="0.90" fill="#8a8a8a"/>
<circle cx="243.62" cy="105.28" r="0.90" fill="#8a8a8a"/>
<circle cx="250.44" cy="105.07" r="0.90" fill="#8a8a8a"/>
<circle cx="244.37" cy="118.76" r="0.90" fill="#8a8a8a"/>
<circle cx="258.09" cy="108.98" r="0.90" fill="#8a8a8a"/>
<circle cx="247.54" cy="98.26" r="0.90" fill="#8a8a8a"/>
<circle cx="243.90" cy="96.93" r="0.90" fill="#8a8a8a"/>
<circle cx="250.96" cy="111.77" r="0.90" fill="#8a8a8a"/>
<circle cx="238.29" cy="123.29" r="0.90" fill="#8a8a8a"/>
<circle cx="244.42" cy="120.68" r="0.90" fill="#8a8a8a"/>
<circle cx="257.79" cy="124.60" r="0.90" fill="#8a8a8a"/>
<circle cx="241.31" cy="106.50" r="0.90" fill="#8a8a8a"/>
<circle cx="259.67" cy="92.36" r="0.90" fill="#8a8a8a"/>
<circle cx="237.23" cy="111.21" r="0.90" fill="#8a8a8a"/>
<circle cx="248.93" cy="123.29" r="0.90" fill="#8a8a8a"/>
<circle cx="256.11" cy="110.31" r="0.90" fill="#8a8a8a"/>
<circle cx="261.96" cy="109.59" r="0.90" fill="#8a8a8a"/>
<circle cx="249.45" cy="115.30" r="0.90" fill="#8a8a8a"/>
<circle cx="246.13" cy="104.16" r="0.90" fill="#8a8a8a"/>
<circle cx="251.46" cy="103.94" r="0.90" fill="#8a8a8a"/>
<circle cx="260.65" cy="115.00" r="0.90" fill="#8a8a8a"/>
<circle cx="249.66" cy="95.36" r="0.90" fill="#8a8a8a"/>
<circle cx="245.73" cy="105.63" r="0.90" fill="#8a8a8a"/>
<circle cx="250.59" cy="111.52" r="0.90" fill="#8a8a8a"/>
<circle cx="258.88" cy="124.79" r="0.90" fill="#8a8a8a"/>
<circle cx="248.65" cy="106.97" r="0.90" fill="#8a8a8a"/>
<circle cx="252.24" cy="125.87" r="0.90" fill="#8a8a8a"/>
<circle cx="244.93" cy="110.02" r="0.90" fill="#8a8a8a"/>
<circle cx="257.21" cy="97.80" r="0.90" fill="#8a8a8a"/>
<circle cx="244.27" cy="125.27" r="0.90" fill="#8a8a8a"/>
<circle cx="257.48" cy="109.43" r="0.90" fill="#8a8a8a"/>
<circle cx="238.87" cy="122.41" r="0.90" fill="#8a8a8a"/>
<circle cx="253.94" cy="119.90" r="0.90" fill="#8a8a8a"/>
<circle cx="261.75" cy="122.20" r="0.90" fill="#8a8a8a"/>
<circle cx="246.94" cy="97.32" r="0.90" fill="#8a8a8a"/>
<circle cx="243.54" cy="109.39" r="0.90" fill="#8a8a8a"/>
<circle cx="249.13" cy="98.40" r="0.90" fill="#8a8a8a"/>
<circle cx="240.74" cy="113.42" r="0.90" fill="#8a8a8a"/>
<circle cx="251.68" cy="104.01" r="0.90" fill="#8a8a8a"/>
<circle cx="261.84" cy="113.64" r="0.90" fill="#8a8a8a"/>
<circle cx="237.10" cy="105.99" r="0.90" fill="#8a8a8a"/>
<circle cx="256.48" cy="102.43" r="0.90" fill="#8a8a8a"/>
<circle cx="253.96" cy="92.13" r="0.90" fill="#8a8a8a"/>
<circle cx="243.92" cy="120.63" r="0.90" fill="#8a8a8a"/>
<circle cx="251.24" cy="114.72" r="0.90" fill="#8a8a8a"/>
<circle cx="241.11" cy="108.93" r="0.90" fill="#8a8a8a"/>
<circle cx="250.38" cy="101.04" r="0.90" fill="#8a8a8a"/>
<circle cx="252.82" cy="110.07" r="0.90" fill="#8a8a8a"/>
<circle cx="261.92" cy="111.53" r="0.90" fill="#8a8a8a"/>
<circle cx="246.69" cy="96.13" r="0.90" fill="#8a8a8a"/>
<circle cx="240.08" cy="117.82" r="0.90" fill="#8a8a8a"/>
<circle cx="238.77" cy="95.40" r="0.90" fill="#8a8a8a"/>
<circle cx="240.43" cy="109.76" r="0.90" fill="#8a8a8a"/>
<circle cx="257.40" cy="112.84" r="0.90" fill="#8a8a8a"/>
<circle cx="256.97" cy="94.11" r="0.90" fill="#8a8a8a"/>
<circle cx="236.32" cy="118.20" r="0.90" fill="#8a8a8a"/>
<circle cx="244.39" cy="116.33" r="0.90" fill="#8a8a8a"/>
<circle cx="245.20" cy="97.76" r="0.90" fill="#8a8a8a"/>
<circle cx="242.93" cy="95.38" r="0.90" fill="#8a8a8a"/>
<circle cx="224.12" cy="90.57" r="1.00" fill="#868686"/>
<circle cx="221.90" cy="88.85" r="1.00" fill="#868686"/>
<circle cx="222.04" cy="83.71" r="1.00" fill="#868686"/>
<circle cx="224.06" cy="90.57" r="1.00" fill="#868686"/>
<circle cx="224.34" cy="88.72" r="1.00" fill="#868686"/>
<circle cx="222.98" cy="86.24" r="1.00" fill="#868686"/>
<circle cx="220.68" cy="95.10" r="1.00" fill="#868686"/>
<circle cx="223.92" cy="87.09" r="1.00" fill="#868686"/>
<circle cx="224.10" cy="93.61" r="1.00" fill="#868686"/>
<circle cx="221.71" cy="90.83" r="1.00" fill="#868686"/>
<circle cx="224.34" cy="89.44" r="1.00" fill="#868686"/>
<circle cx="224.30" cy="86.16" r="1.00" fill="#868686"/>
<circle cx="222.06" cy="92.34" r="1.00" fill="#868686"/>
<circle cx="221.39" cy="87.02" r="1.00" fill="#868686"/>
<circle cx="256.38" cy="109.75" r="0.90" fill="#76c8ee"/>
<circle cx="255.31" cy="105.89" r="0.90" fill="#76c8ee"/>
<circle cx="247.26" cy="107.73" r="0.90" fill="#76c8ee"/>
<circle cx="247.43" cy="117.54" r="0.90" fill="#76c8ee"/>
<circle cx="248.78" cy="110.98" r="0.90" fill="#76c8ee"/>
<circle cx="246.49" cy="110.54" r="0.90" fill="#76c8ee"/>
<circle cx="250.01" cy="108.45" r="0.90" fill="#76c8ee"/>
<circle cx="245.85" cy="103.97" r="0.90" fill="#76c8ee"/>
<circle cx="255.74" cy="107.62" r="0.90" fill="#76c8ee"/>
<circle cx="248.18" cy="105.06" r="0.90" fill="#76c8ee"/>
<circle cx="172.30" cy="89.80" r="2.60" fill="#6e6e6e" transform="scale(1 1)"/>
<path d="M327.0,94.0 C327.9,92.4 329.6,89.8 331.0,89.2 C332.4,88.6 334.6,89.6 335.5,90.5 C336.4,91.4 336.9,93.4 336.5,94.5 C336.1,95.6 334.1,95.8 333.0,97.0 C331.9,98.2 331.0,100.2 330.0,102.0 C329.0,103.8 328.1,106.3 327.0,107.5 C325.9,108.7 324.1,109.6 323.5,109.0 C322.9,108.4 323.2,105.7 323.5,104.0 C323.8,102.3 324.9,100.7 325.5,99.0 C326.1,97.3 326.1,95.6 327.0,94.0 Z" fill="#55e040"/>
<path d="M321.5,108.5 C322.7,107.9 324.3,109.0 324.5,110.0 C324.7,111.0 323.3,113.1 322.5,114.5 C321.7,115.9 320.5,117.9 319.5,118.5 C318.5,119.1 316.8,118.8 316.5,118.0 C316.2,117.2 316.7,115.1 317.5,113.5 C318.3,111.9 320.3,109.1 321.5,108.5 Z" fill="#e2dc3a"/>
<path d="M356.0,147.5 C358.0,147.5 361.9,152.2 363.5,155.0 C365.1,157.7 365.1,160.8 365.7,164.1 C366.2,167.4 366.4,169.9 366.7,174.8 C367.1,179.7 367.5,187.7 367.8,193.5 C368.1,199.3 368.2,205.1 368.3,209.6 C368.4,214.0 368.5,215.8 368.3,220.3 C368.2,224.7 368.5,232.3 367.3,236.3 C366.0,240.3 363.2,242.6 360.8,244.4 C358.4,246.1 355.9,246.8 352.8,247.0 C349.7,247.3 345.2,246.6 342.1,246.0 C339.0,245.3 336.3,244.3 334.1,243.3 C331.9,242.3 330.5,241.4 328.7,240.1 C326.9,238.7 324.7,236.8 323.4,235.3 C322.0,233.7 321.2,233.5 320.7,231.0 C320.2,228.5 319.6,223.4 320.2,220.3 C320.7,217.2 322.5,214.9 323.9,212.2 C325.3,209.6 327.0,206.9 328.7,204.2 C330.4,201.5 332.3,198.9 334.1,196.2 C335.9,193.5 337.8,191.5 339.4,188.2 C341.0,184.9 342.4,180.4 343.7,176.4 C345.1,172.4 346.1,167.6 347.5,164.1 C348.8,160.5 350.3,157.7 351.7,155.0 C353.2,152.2 354.1,147.5 356.0,147.5 Z" fill="#94d3f4"/>
<g fill="#94d3f4"><circle cx="368.4" cy="212.7" r="0.9"/><circle cx="320.2" cy="220.1" r="0.9"/><circle cx="325.5" cy="211.1" r="0.9"/><circle cx="341.6" cy="184.8" r="0.9"/><circle cx="341.2" cy="183.3" r="0.9"/><circle cx="367.6" cy="228.2" r="0.9"/><circle cx="351.7" cy="158.4" r="0.9"/><circle cx="342.4" cy="247.0" r="0.9"/><circle cx="366.6" cy="175.0" r="0.9"/><circle cx="345.1" cy="168.9" r="0.9"/><circle cx="367.6" cy="203.0" r="0.9"/><circle cx="344.7" cy="176.4" r="0.9"/><circle cx="333.4" cy="244.5" r="0.9"/><circle cx="366.3" cy="235.7" r="0.9"/><circle cx="368.0" cy="219.2" r="0.9"/><circle cx="367.9" cy="186.1" r="0.9"/><circle cx="321.2" cy="220.7" r="0.9"/><circle cx="366.9" cy="231.2" r="0.9"/><circle cx="364.5" cy="160.7" r="0.9"/><circle cx="366.5" cy="173.8" r="0.9"/><circle cx="365.5" cy="239.3" r="0.9"/><circle cx="345.0" cy="172.9" r="0.9"/><circle cx="369.7" cy="211.0" r="0.9"/><circle cx="319.8" cy="220.6" r="0.9"/><circle cx="320.0" cy="220.2" r="0.9"/><circle cx="341.1" cy="182.5" r="0.9"/><circle cx="369.0" cy="189.2" r="0.9"/><circle cx="328.3" cy="204.6" r="0.9"/><circle cx="363.2" cy="154.8" r="0.9"/><circle cx="368.1" cy="217.3" r="0.9"/><circle cx="368.0" cy="218.6" r="0.9"/><circle cx="340.0" cy="182.5" r="0.9"/><circle cx="366.9" cy="206.0" r="0.9"/><circle cx="369.5" cy="228.2" r="0.9"/><circle cx="333.9" cy="196.6" r="0.9"/><circle cx="342.3" cy="179.6" r="0.9"/><circle cx="369.3" cy="204.0" r="0.9"/><circle cx="369.1" cy="193.9" r="0.9"/><circle cx="365.4" cy="164.1" r="0.9"/><circle cx="330.5" cy="201.5" r="0.9"/><circle cx="366.7" cy="165.5" r="0.9"/><circle cx="347.7" cy="161.0" r="0.9"/><circle cx="339.8" cy="184.5" r="0.9"/><circle cx="363.8" cy="156.5" r="0.9"/><circle cx="341.0" cy="245.3" r="0.9"/><circle cx="333.4" cy="199.6" r="0.9"/><circle cx="337.8" cy="191.6" r="0.9"/><circle cx="351.6" cy="153.0" r="0.9"/><circle cx="368.9" cy="204.6" r="0.9"/><circle cx="363.2" cy="242.5" r="0.9"/><circle cx="366.5" cy="175.7" r="0.9"/><circle cx="368.1" cy="202.5" r="0.9"/><circle cx="357.2" cy="245.5" r="0.9"/><circle cx="368.7" cy="215.9" r="0.9"/><circle cx="328.5" cy="241.9" r="0.9"/><circle cx="332.5" cy="241.8" r="0.9"/><circle cx="319.9" cy="218.6" r="0.9"/><circle cx="332.8" cy="198.0" r="0.9"/><circle cx="367.9" cy="214.3" r="0.9"/><circle cx="364.3" cy="159.4" r="0.9"/></g>
<path d="M356.0,147.5 C358.0,147.5 361.9,152.2 363.5,155.0 C365.1,157.7 365.1,160.8 365.7,164.1 C366.2,167.4 366.6,172.0 366.7,174.8 C366.8,177.6 367.2,180.8 366.2,180.7 C365.2,180.6 362.4,174.6 360.8,174.3 C359.2,173.9 358.1,176.6 356.6,178.5 C355.0,180.5 353.6,184.6 351.7,186.0 C349.9,187.5 346.6,188.0 345.3,187.1 C344.1,186.2 343.9,184.5 344.3,180.7 C344.6,176.8 346.2,168.4 347.5,164.1 C348.7,159.8 350.3,157.7 351.7,155.0 C353.2,152.2 354.1,147.5 356.0,147.5 Z" fill="#5676b5"/>
<g fill="#5676b5"><circle cx="344.5" cy="177.7" r="0.9"/><circle cx="365.6" cy="179.4" r="0.9"/><circle cx="365.4" cy="162.5" r="0.9"/><circle cx="355.6" cy="147.9" r="0.9"/><circle cx="346.2" cy="175.8" r="0.9"/><circle cx="362.9" cy="156.2" r="0.9"/><circle cx="365.6" cy="164.7" r="0.9"/><circle cx="351.0" cy="154.2" r="0.9"/><circle cx="352.2" cy="153.1" r="0.9"/><circle cx="366.5" cy="170.9" r="0.9"/><circle cx="346.7" cy="169.2" r="0.9"/><circle cx="364.7" cy="163.1" r="0.9"/><circle cx="352.8" cy="155.6" r="0.9"/><circle cx="347.5" cy="163.1" r="0.9"/><circle cx="366.0" cy="163.5" r="0.9"/><circle cx="363.3" cy="177.8" r="0.9"/><circle cx="347.6" cy="164.0" r="0.9"/><circle cx="349.1" cy="185.2" r="0.9"/><circle cx="346.5" cy="176.0" r="0.9"/><circle cx="354.7" cy="180.7" r="0.9"/><circle cx="366.3" cy="176.4" r="0.9"/><circle cx="345.0" cy="179.7" r="0.9"/><circle cx="354.6" cy="150.5" r="0.9"/><circle cx="359.4" cy="177.4" r="0.9"/><circle cx="357.1" cy="146.4" r="0.9"/><circle cx="346.0" cy="168.7" r="0.9"/><circle cx="343.6" cy="181.7" r="0.9"/><circle cx="365.0" cy="181.0" r="0.9"/><circle cx="347.8" cy="164.0" r="0.9"/><circle cx="365.6" cy="176.5" r="0.9"/><circle cx="365.6" cy="180.1" r="0.9"/><circle cx="364.3" cy="179.7" r="0.9"/><circle cx="352.6" cy="154.5" r="0.9"/><circle cx="352.9" cy="150.1" r="0.9"/><circle cx="360.1" cy="151.1" r="0.9"/><circle cx="364.8" cy="175.5" r="0.9"/><circle cx="355.5" cy="179.0" r="0.9"/><circle cx="365.9" cy="180.0" r="0.9"/><circle cx="365.3" cy="163.8" r="0.9"/><circle cx="362.2" cy="153.4" r="0.9"/></g>
<circle cx="352.65" cy="189.90" r="0.90" fill="#5676b5"/>
<circle cx="350.67" cy="196.29" r="0.90" fill="#5676b5"/>
<circle cx="345.46" cy="176.91" r="0.90" fill="#5676b5"/>
<circle cx="351.38" cy="176.83" r="0.90" fill="#5676b5"/>
<circle cx="363.62" cy="182.90" r="0.90" fill="#5676b5"/>
<circle cx="351.61" cy="181.74" r="0.90" fill="#5676b5"/>
<circle cx="352.34" cy="176.86" r="0.90" fill="#5676b5"/>
<circle cx="350.01" cy="197.30" r="0.90" fill="#5676b5"/>
<circle cx="363.68" cy="195.67" r="0.90" fill="#5676b5"/>
<circle cx="357.87" cy="204.55" r="0.90" fill="#5676b5"/>
<circle cx="358.14" cy="176.39" r="0.90" fill="#5676b5"/>
<circle cx="362.38" cy="188.85" r="0.90" fill="#5676b5"/>
<circle cx="351.96" cy="205.32" r="0.90" fill="#5676b5"/>
<circle cx="353.18" cy="181.16" r="0.90" fill="#5676b5"/>
<circle cx="354.23" cy="209.50" r="0.90" fill="#5676b5"/>
<circle cx="351.96" cy="211.45" r="0.90" fill="#5676b5"/>
<circle cx="363.96" cy="179.22" r="0.90" fill="#5676b5"/>
<circle cx="359.07" cy="186.68" r="0.90" fill="#5676b5"/>
<circle cx="359.78" cy="201.26" r="0.90" fill="#5676b5"/>
<circle cx="362.20" cy="177.28" r="0.90" fill="#5676b5"/>
<circle cx="366.97" cy="203.04" r="0.90" fill="#5676b5"/>
<circle cx="361.32" cy="176.86" r="0.90" fill="#5676b5"/>
<circle cx="366.09" cy="201.03" r="0.90" fill="#5676b5"/>
<circle cx="352.67" cy="176.88" r="0.90" fill="#5676b5"/>
<circle cx="361.23" cy="179.97" r="0.90" fill="#5676b5"/>
<circle cx="351.62" cy="184.47" r="0.90" fill="#5676b5"/>
<circle cx="356.80" cy="188.38" r="0.90" fill="#5676b5"/>
<circle cx="351.00" cy="201.65" r="0.90" fill="#5676b5"/>
<circle cx="361.52" cy="212.80" r="0.90" fill="#5676b5"/>
<circle cx="364.05" cy="206.42" r="0.90" fill="#5676b5"/>
<circle cx="361.91" cy="201.22" r="0.90" fill="#5676b5"/>
<circle cx="345.31" cy="192.46" r="0.90" fill="#5676b5"/>
<circle cx="353.82" cy="175.26" r="0.90" fill="#5676b5"/>
<circle cx="342.84" cy="181.30" r="0.90" fill="#5676b5"/>
<circle cx="364.87" cy="197.34" r="0.90" fill="#5676b5"/>
<circle cx="337.69" cy="221.52" r="0.90" fill="#5676b5"/>
<circle cx="348.28" cy="217.84" r="0.90" fill="#5676b5"/>
<circle cx="337.33" cy="200.28" r="0.90" fill="#5676b5"/>
<circle cx="348.38" cy="215.35" r="0.90" fill="#5676b5"/>
<circle cx="321.01" cy="221.13" r="0.90" fill="#5676b5"/>
<circle cx="327.15" cy="230.86" r="0.90" fill="#5676b5"/>
<circle cx="333.36" cy="212.57" r="0.90" fill="#5676b5"/>
<circle cx="344.50" cy="212.06" r="0.90" fill="#5676b5"/>
<circle cx="347.88" cy="224.29" r="0.90" fill="#5676b5"/>
<circle cx="321.67" cy="225.79" r="0.90" fill="#5676b5"/>
<circle cx="357.77" cy="240.13" r="0.90" fill="#5676b5"/>
<circle cx="357.94" cy="229.12" r="0.90" fill="#5676b5"/>
<circle cx="351.10" cy="216.69" r="0.90" fill="#5676b5"/>
<circle cx="333.80" cy="236.58" r="0.90" fill="#5676b5"/>
<circle cx="353.39" cy="213.98" r="0.90" fill="#5676b5"/>
<circle cx="357.40" cy="234.02" r="0.90" fill="#5676b5"/>
<circle cx="344.94" cy="229.22" r="0.90" fill="#5676b5"/>
<circle cx="337.17" cy="225.33" r="0.90" fill="#5676b5"/>
<circle cx="339.89" cy="202.78" r="0.90" fill="#5676b5"/>
<circle cx="355.37" cy="162.52" r="0.80" fill="#9fd6f4"/>
<circle cx="361.88" cy="164.74" r="0.80" fill="#9fd6f4"/>
<circle cx="355.67" cy="161.41" r="0.80" fill="#9fd6f4"/>
<circle cx="354.35" cy="162.89" r="0.80" fill="#9fd6f4"/>
<circle cx="353.36" cy="158.10" r="0.80" fill="#9fd6f4"/>
<circle cx="360.71" cy="164.34" r="0.80" fill="#9fd6f4"/>
<circle cx="356.46" cy="165.96" r="0.80" fill="#9fd6f4"/>
<circle cx="355.02" cy="160.36" r="0.80" fill="#9fd6f4"/>
<circle cx="352.66" cy="162.22" r="0.80" fill="#9fd6f4"/>
<circle cx="355.08" cy="168.17" r="0.80" fill="#9fd6f4"/>
<path d="M303.5,300.5 C303.6,298.9 306.2,295.9 308.0,293.0 C309.8,290.1 311.8,286.7 314.0,283.0 C316.2,279.3 318.8,274.7 321.0,271.0 C323.2,267.3 325.0,264.2 327.0,261.0 C329.0,257.8 331.1,254.3 333.0,251.5 C334.9,248.7 336.8,245.0 338.5,244.0 C340.2,243.0 343.3,244.0 343.5,245.5 C343.7,247.0 341.2,250.1 339.5,253.0 C337.8,255.9 335.7,259.5 333.5,263.0 C331.3,266.5 328.9,270.2 326.5,274.0 C324.1,277.8 321.4,282.2 319.0,286.0 C316.6,289.8 313.9,293.8 312.0,296.5 C310.1,299.2 308.9,301.8 307.5,302.5 C306.1,303.2 303.4,302.1 303.5,300.5 Z" fill="#57c7f5"/>
<path d="M183.2,312.3 C184.0,310.9 187.2,308.7 190.0,307.5 C192.8,306.3 196.5,305.8 200.0,305.0 C203.5,304.2 208.1,302.0 210.8,303.0 C213.5,304.0 214.1,308.2 216.0,311.0 C217.9,313.8 219.7,317.5 222.5,320.0 C225.3,322.5 228.9,324.4 233.0,326.0 C237.1,327.6 242.7,328.5 247.2,329.5 C251.7,330.5 256.1,331.3 260.0,332.0 C263.9,332.7 266.9,333.6 270.4,333.5 C273.9,333.4 277.6,332.8 281.0,331.5 C284.4,330.2 288.1,328.2 291.0,326.0 C293.9,323.8 296.6,321.2 298.5,318.5 C300.4,315.8 302.0,312.3 302.5,310.0 C303.0,307.7 302.4,306.0 301.5,304.5 C300.6,303.0 296.9,301.8 297.3,301.0 C297.7,300.2 302.1,299.2 303.8,299.5 C305.5,299.8 306.7,300.9 307.5,303.0 C308.3,305.1 308.9,308.8 308.5,312.0 C308.1,315.2 306.8,319.4 305.0,322.5 C303.2,325.6 301.0,328.2 298.0,330.5 C295.0,332.8 290.8,334.8 287.0,336.5 C283.2,338.2 278.8,340.1 275.0,340.5 C271.2,340.9 268.2,340.0 264.0,339.0 C259.8,338.0 254.8,335.5 250.0,334.5 C245.2,333.5 239.8,333.4 235.0,333.0 C230.2,332.6 225.3,332.4 221.0,332.0 C216.7,331.6 212.4,331.1 209.0,330.5 C205.6,329.9 203.5,329.7 200.7,328.3 C197.9,326.9 194.6,324.1 192.0,322.0 C189.4,319.9 186.5,317.6 185.0,316.0 C183.5,314.4 182.4,313.7 183.2,312.3 Z" fill="url(#lpcg)"/>
<g fill="#7670c6"><circle cx="247.1" cy="328.2" r="0.9"/><circle cx="193.3" cy="314.8" r="0.9"/><circle cx="201.2" cy="300.6" r="0.9"/><circle cx="223.6" cy="318.1" r="0.9"/><circle cx="203.7" cy="318.2" r="0.9"/><circle cx="196.9" cy="317.7" r="0.9"/><circle cx="186.8" cy="311.9" r="0.9"/><circle cx="224.5" cy="325.5" r="0.9"/><circle cx="206.4" cy="300.5" r="0.9"/><circle cx="233.1" cy="328.8" r="0.9"/><circle cx="187.6" cy="313.1" r="0.9"/><circle cx="211.0" cy="318.0" r="0.9"/><circle cx="202.0" cy="307.4" r="0.9"/><circle cx="197.3" cy="313.1" r="0.9"/><circle cx="209.5" cy="306.9" r="0.9"/><circle cx="229.0" cy="327.2" r="0.9"/><circle cx="223.5" cy="319.3" r="0.9"/><circle cx="187.1" cy="307.1" r="0.9"/><circle cx="239.8" cy="327.0" r="0.9"/><circle cx="241.9" cy="327.4" r="0.9"/><circle cx="244.2" cy="328.4" r="0.9"/><circle cx="236.3" cy="324.7" r="0.9"/><circle cx="195.6" cy="307.3" r="0.9"/><circle cx="218.8" cy="323.1" r="0.9"/><circle cx="228.7" cy="324.4" r="0.9"/><circle cx="243.1" cy="326.4" r="0.9"/><circle cx="220.7" cy="316.0" r="0.9"/><circle cx="223.4" cy="319.2" r="0.9"/><circle cx="219.9" cy="309.2" r="0.9"/><circle cx="235.0" cy="329.2" r="0.9"/><circle cx="191.6" cy="314.7" r="0.9"/><circle cx="236.5" cy="324.2" r="0.9"/><circle cx="225.5" cy="320.7" r="0.9"/><circle cx="217.3" cy="321.6" r="0.9"/><circle cx="203.0" cy="305.9" r="0.9"/><circle cx="246.9" cy="333.6" r="0.9"/><circle cx="225.1" cy="322.2" r="0.9"/><circle cx="220.6" cy="321.4" r="0.9"/><circle cx="186.9" cy="308.3" r="0.9"/><circle cx="182.5" cy="313.0" r="0.9"/><circle cx="222.7" cy="316.9" r="0.9"/><circle cx="221.1" cy="316.3" r="0.9"/><circle cx="223.0" cy="323.5" r="0.9"/><circle cx="229.4" cy="323.0" r="0.9"/><circle cx="239.3" cy="331.1" r="0.9"/><circle cx="189.7" cy="313.2" r="0.9"/><circle cx="214.1" cy="310.8" r="0.9"/><circle cx="213.8" cy="309.5" r="0.9"/><circle cx="230.5" cy="332.3" r="0.9"/><circle cx="210.4" cy="303.6" r="0.9"/><circle cx="203.3" cy="316.1" r="0.9"/><circle cx="218.4" cy="319.9" r="0.9"/><circle cx="216.3" cy="318.2" r="0.9"/><circle cx="203.2" cy="301.5" r="0.9"/><circle cx="231.5" cy="324.4" r="0.9"/><circle cx="212.6" cy="302.0" r="0.9"/><circle cx="214.6" cy="319.4" r="0.9"/><circle cx="203.9" cy="317.3" r="0.9"/><circle cx="190.6" cy="314.1" r="0.9"/><circle cx="185.4" cy="310.9" r="0.9"/><circle cx="220.8" cy="322.9" r="0.9"/><circle cx="228.8" cy="325.2" r="0.9"/><circle cx="193.5" cy="310.9" r="0.9"/><circle cx="187.6" cy="313.4" r="0.9"/><circle cx="211.7" cy="319.5" r="0.9"/><circle cx="242.9" cy="330.7" r="0.9"/><circle cx="203.2" cy="306.7" r="0.9"/><circle cx="220.4" cy="315.2" r="0.9"/><circle cx="241.8" cy="329.5" r="0.9"/><circle cx="206.4" cy="302.6" r="0.9"/><circle cx="218.3" cy="322.0" r="0.9"/><circle cx="217.9" cy="320.3" r="0.9"/><circle cx="223.6" cy="325.5" r="0.9"/><circle cx="199.2" cy="314.9" r="0.9"/><circle cx="206.6" cy="304.6" r="0.9"/><circle cx="186.0" cy="308.6" r="0.9"/><circle cx="244.3" cy="329.0" r="0.9"/><circle cx="224.8" cy="321.6" r="0.9"/><circle cx="243.3" cy="323.3" r="0.9"/><circle cx="200.2" cy="314.8" r="0.9"/></g>
<circle cx="259.10" cy="321.29" r="0.90" fill="#7d7ec8"/>
<circle cx="298.38" cy="320.81" r="0.90" fill="#7d7ec8"/>
<circle cx="263.12" cy="321.15" r="0.90" fill="#7d7ec8"/>
<circle cx="248.58" cy="329.98" r="0.90" fill="#7d7ec8"/>
<circle cx="240.32" cy="324.12" r="0.90" fill="#7d7ec8"/>
<circle cx="295.58" cy="318.82" r="0.90" fill="#7d7ec8"/>
<circle cx="276.65" cy="320.65" r="0.90" fill="#7d7ec8"/>
<circle cx="254.45" cy="317.98" r="0.90" fill="#7d7ec8"/>
<circle cx="246.97" cy="327.65" r="0.90" fill="#7d7ec8"/>
<circle cx="287.04" cy="328.63" r="0.90" fill="#7d7ec8"/>
<circle cx="242.97" cy="325.41" r="0.90" fill="#7d7ec8"/>
<circle cx="259.46" cy="324.69" r="0.90" fill="#7d7ec8"/>
<circle cx="272.94" cy="319.73" r="0.90" fill="#7d7ec8"/>
<circle cx="298.30" cy="315.01" r="0.90" fill="#7d7ec8"/>
<circle cx="284.77" cy="327.80" r="0.90" fill="#7d7ec8"/>
<circle cx="270.61" cy="323.88" r="0.90" fill="#7d7ec8"/>
<circle cx="299.68" cy="318.52" r="0.90" fill="#7d7ec8"/>
<circle cx="277.77" cy="326.15" r="0.90" fill="#7d7ec8"/>
<circle cx="262.73" cy="325.68" r="0.90" fill="#7d7ec8"/>
<circle cx="263.61" cy="322.89" r="0.90" fill="#7d7ec8"/>
<circle cx="276.77" cy="325.16" r="0.90" fill="#7d7ec8"/>
<circle cx="259.33" cy="324.43" r="0.90" fill="#7d7ec8"/>
<circle cx="272.58" cy="318.35" r="0.90" fill="#7d7ec8"/>
<circle cx="276.75" cy="318.97" r="0.90" fill="#7d7ec8"/>
<circle cx="294.52" cy="322.10" r="0.90" fill="#7d7ec8"/>
<path d="M194.1,425.0 C194.1,423.7 196.8,421.7 199.0,420.5 C201.2,419.3 204.2,418.8 207.0,418.0 C209.8,417.2 212.8,416.3 216.0,415.5 C219.2,414.7 222.7,413.8 226.0,413.0 C229.3,412.2 232.9,411.1 236.0,410.5 C239.1,409.9 243.1,409.1 244.3,409.3 C245.5,409.6 244.7,410.8 243.0,412.0 C241.3,413.2 237.2,415.1 234.0,416.5 C230.8,417.9 227.3,419.1 224.0,420.5 C220.7,421.9 216.9,423.4 214.0,425.0 C211.1,426.6 209.0,429.2 206.5,429.8 C204.0,430.4 201.1,429.3 199.0,428.5 C196.9,427.7 194.1,426.3 194.1,425.0 Z" fill="#a9a9a9"/>
<g fill="#a9a9a9"><circle cx="221.2" cy="417.1" r="0.9"/><circle cx="217.5" cy="418.4" r="0.9"/><circle cx="241.0" cy="411.8" r="0.9"/><circle cx="213.5" cy="420.8" r="0.9"/><circle cx="210.4" cy="420.6" r="0.9"/><circle cx="214.3" cy="418.4" r="0.9"/><circle cx="195.4" cy="423.8" r="0.9"/><circle cx="213.6" cy="420.6" r="0.9"/><circle cx="219.6" cy="415.7" r="0.9"/><circle cx="212.8" cy="419.4" r="0.9"/><circle cx="197.6" cy="422.8" r="0.9"/><circle cx="224.0" cy="417.2" r="0.9"/><circle cx="215.0" cy="418.6" r="0.9"/><circle cx="225.9" cy="417.6" r="0.9"/><circle cx="216.1" cy="416.2" r="0.9"/><circle cx="232.9" cy="411.6" r="0.9"/><circle cx="239.4" cy="413.5" r="0.9"/><circle cx="223.0" cy="418.6" r="0.9"/><circle cx="217.8" cy="414.6" r="0.9"/><circle cx="232.4" cy="414.2" r="0.9"/><circle cx="236.8" cy="408.5" r="0.9"/><circle cx="232.5" cy="412.2" r="0.9"/><circle cx="230.2" cy="410.7" r="0.9"/><circle cx="233.1" cy="408.6" r="0.9"/><circle cx="227.4" cy="413.6" r="0.9"/><circle cx="203.3" cy="426.7" r="0.9"/><circle cx="222.3" cy="418.7" r="0.9"/><circle cx="228.8" cy="413.9" r="0.9"/><circle cx="230.0" cy="411.3" r="0.9"/><circle cx="204.3" cy="421.9" r="0.9"/></g>
<text x="528.50" y="27.60" font-size="37.00" font-weight="bold">b</text>
<line x1="648.60" y1="46.80" x2="648.60" y2="393.80" stroke="#000" stroke-width="1.6"/>
<line x1="647.80" y1="393.10" x2="1072.80" y2="393.10" stroke="#000" stroke-width="1.6"/>
<line x1="644.20" y1="62.30" x2="648.60" y2="62.30" stroke="#000" stroke-width="1.2"/>
<text x="639.30" y="68.90" font-size="18.70" text-anchor="end">Early FGC</text>
<line x1="644.20" y1="86.67" x2="648.60" y2="86.67" stroke="#000" stroke-width="1.2"/>
<text x="639.30" y="93.27" font-size="18.70" text-anchor="end">Late FGC</text>
<line x1="644.20" y1="111.04" x2="648.60" y2="111.04" stroke="#000" stroke-width="1.2"/>
<text x="639.30" y="117.64" font-size="18.70" text-anchor="end">LPC1</text>
<line x1="644.20" y1="135.41" x2="648.60" y2="135.41" stroke="#000" stroke-width="1.2"/>
<text x="639.30" y="142.01" font-size="18.70" text-anchor="end">LPC2</text>
<line x1="644.20" y1="159.78" x2="648.60" y2="159.78" stroke="#000" stroke-width="1.2"/>
<text x="639.30" y="166.38" font-size="18.70" text-anchor="end">LP1</text>
<line x1="644.20" y1="184.15" x2="648.60" y2="184.15" stroke="#000" stroke-width="1.2"/>
<text x="639.30" y="190.75" font-size="18.70" text-anchor="end">LP2</text>
<line x1="644.20" y1="208.52" x2="648.60" y2="208.52" stroke="#000" stroke-width="1.2"/>
<text x="639.30" y="215.12" font-size="18.70" text-anchor="end">DLC</text>
<line x1="644.20" y1="232.89" x2="648.60" y2="232.89" stroke="#000" stroke-width="1.2"/>
<text x="639.30" y="239.49" font-size="18.70" text-anchor="end">PMC</text>
<line x1="644.20" y1="257.26" x2="648.60" y2="257.26" stroke="#000" stroke-width="1.2"/>
<text x="639.30" y="263.86" font-size="18.70" text-anchor="end">SPC</text>
<line x1="644.20" y1="281.63" x2="648.60" y2="281.63" stroke="#000" stroke-width="1.2"/>
<text x="639.30" y="288.23" font-size="18.70" text-anchor="end">SC1</text>
<line x1="644.20" y1="306.00" x2="648.60" y2="306.00" stroke="#000" stroke-width="1.2"/>
<text x="639.30" y="312.60" font-size="18.70" text-anchor="end">SC2</text>
<line x1="644.20" y1="330.37" x2="648.60" y2="330.37" stroke="#000" stroke-width="1.2"/>
<text x="639.30" y="336.97" font-size="18.70" text-anchor="end">EC</text>
<line x1="644.20" y1="354.74" x2="648.60" y2="354.74" stroke="#000" stroke-width="1.2"/>
<text x="639.30" y="361.34" font-size="18.70" text-anchor="end">MC</text>
<line x1="644.20" y1="379.11" x2="648.60" y2="379.11" stroke="#000" stroke-width="1.2"/>
<text x="639.30" y="385.71" font-size="18.70" text-anchor="end">NK</text>
<line x1="663.40" y1="393.10" x2="663.40" y2="397.60" stroke="#000" stroke-width="1.2"/>
<text x="669.70" y="410.20" font-size="19.00" text-anchor="end" font-style="italic" transform="rotate(-45.00 669.70 410.20)">POU5F1</text>
<line x1="688.06" y1="393.10" x2="688.06" y2="397.60" stroke="#000" stroke-width="1.2"/>
<text x="694.36" y="410.20" font-size="19.00" text-anchor="end" font-style="italic" transform="rotate(-45.00 694.36 410.20)">DDX4</text>
<line x1="712.72" y1="393.10" x2="712.72" y2="397.60" stroke="#000" stroke-width="1.2"/>
<text x="719.02" y="410.20" font-size="19.00" text-anchor="end" font-style="italic" transform="rotate(-45.00 719.02 410.20)">MKI67</text>
<line x1="737.38" y1="393.10" x2="737.38" y2="397.60" stroke="#000" stroke-width="1.2"/>
<text x="743.68" y="410.20" font-size="19.00" text-anchor="end" font-style="italic" transform="rotate(-45.00 743.68 410.20)">PCNA</text>
<line x1="762.04" y1="393.10" x2="762.04" y2="397.60" stroke="#000" stroke-width="1.2"/>
<text x="768.34" y="410.20" font-size="19.00" text-anchor="end" font-style="italic" transform="rotate(-45.00 768.34 410.20)">ARX</text>
<line x1="786.70" y1="393.10" x2="786.70" y2="397.60" stroke="#000" stroke-width="1.2"/>
<text x="793.00" y="410.20" font-size="19.00" text-anchor="end" font-style="italic" transform="rotate(-45.00 793.00 410.20)">DLK1</text>
<line x1="811.36" y1="393.10" x2="811.36" y2="397.60" stroke="#000" stroke-width="1.2"/>
<text x="817.66" y="410.20" font-size="19.00" text-anchor="end" font-style="italic" transform="rotate(-45.00 817.66 410.20)">CYP17A1</text>
<line x1="836.02" y1="393.10" x2="836.02" y2="397.60" stroke="#000" stroke-width="1.2"/>
<text x="842.32" y="410.20" font-size="19.00" text-anchor="end" font-style="italic" transform="rotate(-45.00 842.32 410.20)">STAR</text>
<line x1="860.68" y1="393.10" x2="860.68" y2="397.60" stroke="#000" stroke-width="1.2"/>
<text x="866.98" y="410.20" font-size="19.00" text-anchor="end" font-style="italic" transform="rotate(-45.00 866.98 410.20)">ACTA2</text>
<line x1="885.34" y1="393.10" x2="885.34" y2="397.60" stroke="#000" stroke-width="1.2"/>
<text x="891.64" y="410.20" font-size="19.00" text-anchor="end" font-style="italic" transform="rotate(-45.00 891.64 410.20)">RGS5</text>
<line x1="910.00" y1="393.10" x2="910.00" y2="397.60" stroke="#000" stroke-width="1.2"/>
<text x="916.30" y="410.20" font-size="19.00" text-anchor="end" font-style="italic" transform="rotate(-45.00 916.30 410.20)">AMH</text>
<line x1="934.66" y1="393.10" x2="934.66" y2="397.60" stroke="#000" stroke-width="1.2"/>
<text x="940.96" y="410.20" font-size="19.00" text-anchor="end" font-style="italic" transform="rotate(-45.00 940.96 410.20)">SOX9</text>
<line x1="959.32" y1="393.10" x2="959.32" y2="397.60" stroke="#000" stroke-width="1.2"/>
<text x="965.62" y="410.20" font-size="19.00" text-anchor="end" font-style="italic" transform="rotate(-45.00 965.62 410.20)">CDH5</text>
<line x1="983.98" y1="393.10" x2="983.98" y2="397.60" stroke="#000" stroke-width="1.2"/>
<text x="990.28" y="410.20" font-size="19.00" text-anchor="end" font-style="italic" transform="rotate(-45.00 990.28 410.20)">EGFL7</text>
<line x1="1008.64" y1="393.10" x2="1008.64" y2="397.60" stroke="#000" stroke-width="1.2"/>
<text x="1014.94" y="410.20" font-size="19.00" text-anchor="end" font-style="italic" transform="rotate(-45.00 1014.94 410.20)">CD14</text>
<line x1="1033.30" y1="393.10" x2="1033.30" y2="397.60" stroke="#000" stroke-width="1.2"/>
<text x="1039.60" y="410.20" font-size="19.00" text-anchor="end" font-style="italic" transform="rotate(-45.00 1039.60 410.20)">PTPRC</text>
<line x1="1057.96" y1="393.10" x2="1057.96" y2="397.60" stroke="#000" stroke-width="1.2"/>
<text x="1064.26" y="410.20" font-size="19.00" text-anchor="end" font-style="italic" transform="rotate(-45.00 1064.26 410.20)">NKG7</text>
<text x="872.00" y="478.80" font-size="19.90" text-anchor="middle">Genes</text>
<text x="570.30" y="224.50" font-size="21.30" text-anchor="middle" transform="rotate(-90.00 570.30 224.50)">Cell type</text>
<circle cx="665.80" cy="62.70" r="10.00" fill="#ef8a25"/>
<circle cx="689.88" cy="62.70" r="7.60" fill="#d3aa8c"/>
<circle cx="713.61" cy="62.70" r="3.70" fill="#d3aa8c"/>
<circle cx="739.68" cy="62.70" r="9.60" fill="#d3aa8c"/>
<circle cx="762.35" cy="62.70" r="1.30" fill="#b8b2b0"/>
<circle cx="787.97" cy="62.70" r="5.30" fill="#bdb9b7"/>
<circle cx="811.77" cy="62.70" r="1.70" fill="#b8b2b0"/>
<circle cx="836.60" cy="62.70" r="2.40" fill="#c6b6aa"/>
<circle cx="861.38" cy="62.70" r="2.90" fill="#c6b6aa"/>
<circle cx="885.72" cy="62.70" r="1.60" fill="#b8b2b0"/>
<circle cx="911.54" cy="62.70" r="6.40" fill="#c6b6aa"/>
<circle cx="935.14" cy="62.70" r="2.00" fill="#b8b2b0"/>
<circle cx="960.45" cy="62.70" r="4.70" fill="#d3aa8c"/>
<circle cx="985.83" cy="62.70" r="7.70" fill="#c6b6aa"/>
<circle cx="1008.95" cy="62.70" r="1.30" fill="#b8b2b0"/>
<circle cx="1033.54" cy="62.70" r="1.00" fill="#b8b2b0"/>
<circle cx="1058.20" cy="62.70" r="1.00" fill="#b8b2b0"/>
<circle cx="664.36" cy="87.07" r="4.00" fill="#d3aa8c"/>
<circle cx="689.98" cy="87.07" r="8.00" fill="#ef8a25"/>
<circle cx="713.20" cy="87.07" r="2.00" fill="#b8b2b0"/>
<circle cx="738.99" cy="87.07" r="6.70" fill="#d3aa8c"/>
<circle cx="762.52" cy="87.07" r="2.00" fill="#b8b2b0"/>
<circle cx="788.04" cy="87.07" r="5.60" fill="#bdb9b7"/>
<circle cx="811.67" cy="87.07" r="1.30" fill="#b8b2b0"/>
<circle cx="836.40" cy="87.07" r="1.60" fill="#b8b2b0"/>
<circle cx="861.38" cy="87.07" r="2.90" fill="#c6b6aa"/>
<circle cx="885.65" cy="87.07" r="1.30" fill="#b8b2b0"/>
<circle cx="910.96" cy="87.07" r="4.00" fill="#bdb9b7"/>
<circle cx="935.14" cy="87.07" r="2.00" fill="#b8b2b0"/>
<circle cx="959.63" cy="87.07" r="1.30" fill="#b8b2b0"/>
<circle cx="985.68" cy="87.07" r="7.10" fill="#dba072"/>
<circle cx="1008.95" cy="87.07" r="1.30" fill="#b8b2b0"/>
<circle cx="1033.61" cy="87.07" r="1.30" fill="#b8b2b0"/>
<circle cx="1058.20" cy="87.07" r="1.00" fill="#b8b2b0"/>
<circle cx="663.64" cy="111.44" r="1.00" fill="#b8b2b0"/>
<circle cx="688.30" cy="111.44" r="1.00" fill="#b8b2b0"/>
<circle cx="714.95" cy="111.44" r="9.30" fill="#ef8a25"/>
<circle cx="739.20" cy="111.44" r="7.60" fill="#e3944f"/>
<circle cx="763.86" cy="111.44" r="7.60" fill="#dba072"/>
<circle cx="789.00" cy="111.44" r="9.60" fill="#d3aa8c"/>
<circle cx="811.74" cy="111.44" r="1.60" fill="#b8b2b0"/>
<circle cx="837.24" cy="111.44" r="5.10" fill="#d3aa8c"/>
<circle cx="862.12" cy="111.44" r="6.00" fill="#d3aa8c"/>
<circle cx="885.75" cy="111.44" r="1.70" fill="#b8b2b0"/>
<circle cx="911.13" cy="111.44" r="4.70" fill="#c6b6aa"/>
<circle cx="935.04" cy="111.44" r="1.60" fill="#b8b2b0"/>
<circle cx="959.56" cy="111.44" r="1.00" fill="#b8b2b0"/>
<circle cx="984.63" cy="111.44" r="2.70" fill="#bdb9b7"/>
<circle cx="1008.88" cy="111.44" r="1.00" fill="#b8b2b0"/>
<circle cx="1033.54" cy="111.44" r="1.00" fill="#b8b2b0"/>
<circle cx="1058.20" cy="111.44" r="1.00" fill="#b8b2b0"/>
<circle cx="663.64" cy="135.81" r="1.00" fill="#b8b2b0"/>
<circle cx="688.30" cy="135.81" r="1.00" fill="#b8b2b0"/>
<circle cx="713.20" cy="135.81" r="2.00" fill="#b8b2b0"/>
<circle cx="739.54" cy="135.81" r="9.00" fill="#e3944f"/>
<circle cx="763.86" cy="135.81" r="7.60" fill="#dba072"/>
<circle cx="789.10" cy="135.81" r="10.00" fill="#e3944f"/>
<circle cx="811.74" cy="135.81" r="1.60" fill="#b8b2b0"/>
<circle cx="837.46" cy="135.81" r="6.00" fill="#d3aa8c"/>
<circle cx="861.95" cy="135.81" r="5.30" fill="#d3aa8c"/>
<circle cx="885.75" cy="135.81" r="1.70" fill="#b8b2b0"/>
<circle cx="911.03" cy="135.81" r="4.30" fill="#c6b6aa"/>
<circle cx="935.04" cy="135.81" r="1.60" fill="#b8b2b0"/>
<circle cx="959.56" cy="135.81" r="1.00" fill="#b8b2b0"/>
<circle cx="984.77" cy="135.81" r="3.30" fill="#d3aa8c"/>
<circle cx="1008.88" cy="135.81" r="1.00" fill="#b8b2b0"/>
<circle cx="1033.54" cy="135.81" r="1.00" fill="#b8b2b0"/>
<circle cx="1058.20" cy="135.81" r="1.00" fill="#b8b2b0"/>
<circle cx="663.64" cy="160.18" r="1.00" fill="#b8b2b0"/>
<circle cx="688.30" cy="160.18" r="1.00" fill="#b8b2b0"/>
<circle cx="712.96" cy="160.18" r="1.00" fill="#b8b2b0"/>
<circle cx="738.17" cy="160.18" r="3.30" fill="#bdb9b7"/>
<circle cx="763.96" cy="160.18" r="8.00" fill="#e3944f"/>
<circle cx="789.10" cy="160.18" r="10.00" fill="#e3944f"/>
<circle cx="811.74" cy="160.18" r="1.60" fill="#b8b2b0"/>
<circle cx="837.56" cy="160.18" r="6.40" fill="#d3aa8c"/>
<circle cx="861.81" cy="160.18" r="4.70" fill="#d3aa8c"/>
<circle cx="885.65" cy="160.18" r="1.30" fill="#b8b2b0"/>
<circle cx="911.03" cy="160.18" r="4.30" fill="#c6b6aa"/>
<circle cx="934.97" cy="160.18" r="1.30" fill="#b8b2b0"/>
<circle cx="959.56" cy="160.18" r="1.00" fill="#b8b2b0"/>
<circle cx="984.56" cy="160.18" r="2.40" fill="#c6b6aa"/>
<circle cx="1008.88" cy="160.18" r="1.00" fill="#b8b2b0"/>
<circle cx="1033.54" cy="160.18" r="1.00" fill="#b8b2b0"/>
<circle cx="1058.20" cy="160.18" r="1.00" fill="#b8b2b0"/>
<circle cx="663.64" cy="184.55" r="1.00" fill="#b8b2b0"/>
<circle cx="688.30" cy="184.55" r="1.00" fill="#b8b2b0"/>
<circle cx="712.96" cy="184.55" r="1.00" fill="#b8b2b0"/>
<circle cx="738.08" cy="184.55" r="2.90" fill="#bdb9b7"/>
<circle cx="763.86" cy="184.55" r="7.60" fill="#e3944f"/>
<circle cx="789.00" cy="184.55" r="9.60" fill="#e3944f"/>
<circle cx="811.74" cy="184.55" r="1.60" fill="#b8b2b0"/>
<circle cx="836.91" cy="184.55" r="3.70" fill="#d3aa8c"/>
<circle cx="861.95" cy="184.55" r="5.30" fill="#d3aa8c"/>
<circle cx="885.65" cy="184.55" r="1.30" fill="#b8b2b0"/>
<circle cx="911.03" cy="184.55" r="4.30" fill="#c6b6aa"/>
<circle cx="934.97" cy="184.55" r="1.30" fill="#b8b2b0"/>
<circle cx="959.56" cy="184.55" r="1.00" fill="#b8b2b0"/>
<circle cx="984.46" cy="184.55" r="2.00" fill="#c6b6aa"/>
<circle cx="1008.88" cy="184.55" r="1.00" fill="#b8b2b0"/>
<circle cx="1033.54" cy="184.55" r="1.00" fill="#b8b2b0"/>
<circle cx="1058.20" cy="184.55" r="1.00" fill="#b8b2b0"/>
<circle cx="663.64" cy="208.92" r="1.00" fill="#b8b2b0"/>
<circle cx="688.30" cy="208.92" r="1.00" fill="#b8b2b0"/>
<circle cx="712.96" cy="208.92" r="1.00" fill="#b8b2b0"/>
<circle cx="738.60" cy="208.92" r="5.10" fill="#bdb9b7"/>
<circle cx="763.65" cy="208.92" r="6.70" fill="#dba072"/>
<circle cx="788.52" cy="208.92" r="7.60" fill="#d3aa8c"/>
<circle cx="812.90" cy="208.92" r="6.40" fill="#ef8a25"/>
<circle cx="838.25" cy="208.92" r="9.30" fill="#ef8a25"/>
<circle cx="861.81" cy="208.92" r="4.70" fill="#d3aa8c"/>
<circle cx="885.65" cy="208.92" r="1.30" fill="#b8b2b0"/>
<circle cx="911.13" cy="208.92" r="4.70" fill="#c6b6aa"/>
<circle cx="935.04" cy="208.92" r="1.60" fill="#b8b2b0"/>
<circle cx="959.56" cy="208.92" r="1.00" fill="#b8b2b0"/>
<circle cx="984.29" cy="208.92" r="1.30" fill="#b8b2b0"/>
<circle cx="1009.02" cy="208.92" r="1.60" fill="#b8b2b0"/>
<circle cx="1033.54" cy="208.92" r="1.00" fill="#b8b2b0"/>
<circle cx="1058.20" cy="208.92" r="1.00" fill="#b8b2b0"/>
<circle cx="663.64" cy="233.29" r="1.00" fill="#b8b2b0"/>
<circle cx="688.30" cy="233.29" r="1.00" fill="#b8b2b0"/>
<circle cx="712.96" cy="233.29" r="1.00" fill="#b8b2b0"/>
<circle cx="738.17" cy="233.29" r="3.30" fill="#bdb9b7"/>
<circle cx="762.42" cy="233.29" r="1.60" fill="#b8b2b0"/>
<circle cx="787.76" cy="233.29" r="4.40" fill="#bdb9b7"/>
<circle cx="811.67" cy="233.29" r="1.30" fill="#b8b2b0"/>
<circle cx="836.40" cy="233.29" r="1.60" fill="#b8b2b0"/>
<circle cx="862.91" cy="233.29" r="9.30" fill="#ef8a25"/>
<circle cx="887.52" cy="233.29" r="9.10" fill="#ef8a25"/>
<circle cx="911.13" cy="233.29" r="4.70" fill="#bdb9b7"/>
<circle cx="935.04" cy="233.29" r="1.60" fill="#b8b2b0"/>
<circle cx="959.63" cy="233.29" r="1.30" fill="#b8b2b0"/>
<circle cx="984.44" cy="233.29" r="1.90" fill="#b8b2b0"/>
<circle cx="1008.95" cy="233.29" r="1.30" fill="#b8b2b0"/>
<circle cx="1033.54" cy="233.29" r="1.00" fill="#b8b2b0"/>
<circle cx="1058.20" cy="233.29" r="1.00" fill="#b8b2b0"/>
<circle cx="663.64" cy="257.66" r="1.00" fill="#b8b2b0"/>
<circle cx="688.30" cy="257.66" r="1.00" fill="#b8b2b0"/>
<circle cx="713.61" cy="257.66" r="3.70" fill="#dba072"/>
<circle cx="738.89" cy="257.66" r="6.30" fill="#e3944f"/>
<circle cx="762.35" cy="257.66" r="1.30" fill="#b8b2b0"/>
<circle cx="787.49" cy="257.66" r="3.30" fill="#bdb9b7"/>
<circle cx="811.67" cy="257.66" r="1.30" fill="#b8b2b0"/>
<circle cx="836.67" cy="257.66" r="2.70" fill="#c6b6aa"/>
<circle cx="861.16" cy="257.66" r="2.00" fill="#b8b2b0"/>
<circle cx="885.65" cy="257.66" r="1.30" fill="#b8b2b0"/>
<circle cx="912.18" cy="257.66" r="9.10" fill="#d3aa8c"/>
<circle cx="936.00" cy="257.66" r="5.60" fill="#dba072"/>
<circle cx="959.63" cy="257.66" r="1.30" fill="#b8b2b0"/>
<circle cx="984.29" cy="257.66" r="1.30" fill="#b8b2b0"/>
<circle cx="1009.10" cy="257.66" r="1.90" fill="#b8b2b0"/>
<circle cx="1033.54" cy="257.66" r="1.00" fill="#b8b2b0"/>
<circle cx="1058.20" cy="257.66" r="1.00" fill="#b8b2b0"/>
<circle cx="663.64" cy="282.03" r="1.00" fill="#b8b2b0"/>
<circle cx="688.30" cy="282.03" r="1.00" fill="#b8b2b0"/>
<circle cx="712.96" cy="282.03" r="1.00" fill="#b8b2b0"/>
<circle cx="737.96" cy="282.03" r="2.40" fill="#bdb9b7"/>
<circle cx="762.28" cy="282.03" r="1.00" fill="#b8b2b0"/>
<circle cx="787.35" cy="282.03" r="2.70" fill="#bdb9b7"/>
<circle cx="811.74" cy="282.03" r="1.60" fill="#b8b2b0"/>
<circle cx="836.72" cy="282.03" r="2.90" fill="#c6b6aa"/>
<circle cx="861.06" cy="282.03" r="1.60" fill="#b8b2b0"/>
<circle cx="885.65" cy="282.03" r="1.30" fill="#b8b2b0"/>
<circle cx="912.30" cy="282.03" r="9.60" fill="#e3944f"/>
<circle cx="936.10" cy="282.03" r="6.00" fill="#e3944f"/>
<circle cx="959.63" cy="282.03" r="1.30" fill="#b8b2b0"/>
<circle cx="984.29" cy="282.03" r="1.30" fill="#b8b2b0"/>
<circle cx="1009.05" cy="282.03" r="1.70" fill="#b8b2b0"/>
<circle cx="1033.54" cy="282.03" r="1.00" fill="#b8b2b0"/>
<circle cx="1058.20" cy="282.03" r="1.00" fill="#b8b2b0"/>
<circle cx="663.64" cy="306.40" r="1.00" fill="#b8b2b0"/>
<circle cx="688.30" cy="306.40" r="1.00" fill="#b8b2b0"/>
<circle cx="712.96" cy="306.40" r="1.00" fill="#b8b2b0"/>
<circle cx="738.56" cy="306.40" r="4.90" fill="#bdb9b7"/>
<circle cx="762.35" cy="306.40" r="1.30" fill="#b8b2b0"/>
<circle cx="787.66" cy="306.40" r="4.00" fill="#bdb9b7"/>
<circle cx="812.25" cy="306.40" r="3.70" fill="#d3aa8c"/>
<circle cx="837.29" cy="306.40" r="5.30" fill="#c6b6aa"/>
<circle cx="861.14" cy="306.40" r="1.90" fill="#b8b2b0"/>
<circle cx="885.65" cy="306.40" r="1.30" fill="#b8b2b0"/>
<circle cx="912.40" cy="306.40" r="10.00" fill="#ef8a25"/>
<circle cx="936.89" cy="306.40" r="9.30" fill="#ef8a25"/>
<circle cx="959.63" cy="306.40" r="1.30" fill="#b8b2b0"/>
<circle cx="984.29" cy="306.40" r="1.30" fill="#b8b2b0"/>
<circle cx="1009.34" cy="306.40" r="2.90" fill="#c6b6aa"/>
<circle cx="1033.54" cy="306.40" r="1.00" fill="#b8b2b0"/>
<circle cx="1058.20" cy="306.40" r="1.00" fill="#b8b2b0"/>
<circle cx="663.64" cy="330.77" r="1.00" fill="#b8b2b0"/>
<circle cx="688.30" cy="330.77" r="1.00" fill="#b8b2b0"/>
<circle cx="713.03" cy="330.77" r="1.30" fill="#b8b2b0"/>
<circle cx="738.34" cy="330.77" r="4.00" fill="#bdb9b7"/>
<circle cx="762.42" cy="330.77" r="1.60" fill="#b8b2b0"/>
<circle cx="787.73" cy="330.77" r="4.30" fill="#bdb9b7"/>
<circle cx="811.67" cy="330.77" r="1.30" fill="#b8b2b0"/>
<circle cx="836.50" cy="330.77" r="2.00" fill="#b8b2b0"/>
<circle cx="861.16" cy="330.77" r="2.00" fill="#c6b6aa"/>
<circle cx="885.80" cy="330.77" r="1.90" fill="#b8b2b0"/>
<circle cx="911.18" cy="330.77" r="4.90" fill="#bdb9b7"/>
<circle cx="935.04" cy="330.77" r="1.60" fill="#b8b2b0"/>
<circle cx="961.41" cy="330.77" r="8.70" fill="#ef8a25"/>
<circle cx="986.28" cy="330.77" r="9.60" fill="#ef8a25"/>
<circle cx="1008.95" cy="330.77" r="1.30" fill="#b8b2b0"/>
<circle cx="1033.54" cy="330.77" r="1.00" fill="#b8b2b0"/>
<circle cx="1058.20" cy="330.77" r="1.00" fill="#b8b2b0"/>
<circle cx="663.64" cy="355.14" r="1.00" fill="#b8b2b0"/>
<circle cx="688.30" cy="355.14" r="1.00" fill="#b8b2b0"/>
<circle cx="713.10" cy="355.14" r="1.60" fill="#b8b2b0"/>
<circle cx="738.17" cy="355.14" r="3.30" fill="#bdb9b7"/>
<circle cx="762.52" cy="355.14" r="2.00" fill="#b8b2b0"/>
<circle cx="787.73" cy="355.14" r="4.30" fill="#bdb9b7"/>
<circle cx="811.67" cy="355.14" r="1.30" fill="#b8b2b0"/>
<circle cx="836.50" cy="355.14" r="2.00" fill="#b8b2b0"/>
<circle cx="861.16" cy="355.14" r="2.00" fill="#c6b6aa"/>
<circle cx="885.65" cy="355.14" r="1.30" fill="#b8b2b0"/>
<circle cx="911.13" cy="355.14" r="4.70" fill="#bdb9b7"/>
<circle cx="935.04" cy="355.14" r="1.60" fill="#b8b2b0"/>
<circle cx="959.63" cy="355.14" r="1.30" fill="#b8b2b0"/>
<circle cx="985.01" cy="355.14" r="4.30" fill="#d3aa8c"/>
<circle cx="1010.46" cy="355.14" r="7.60" fill="#ef8a25"/>
<circle cx="1034.91" cy="355.14" r="6.70" fill="#dba072"/>
<circle cx="1058.34" cy="355.14" r="1.60" fill="#b8b2b0"/>
<circle cx="663.64" cy="379.51" r="1.00" fill="#b8b2b0"/>
<circle cx="688.30" cy="379.51" r="1.00" fill="#b8b2b0"/>
<circle cx="713.10" cy="379.51" r="1.60" fill="#b8b2b0"/>
<circle cx="738.08" cy="379.51" r="2.90" fill="#bdb9b7"/>
<circle cx="762.50" cy="379.51" r="1.90" fill="#b8b2b0"/>
<circle cx="787.59" cy="379.51" r="3.70" fill="#bdb9b7"/>
<circle cx="811.67" cy="379.51" r="1.30" fill="#b8b2b0"/>
<circle cx="836.48" cy="379.51" r="1.90" fill="#b8b2b0"/>
<circle cx="861.14" cy="379.51" r="1.90" fill="#c6b6aa"/>
<circle cx="885.65" cy="379.51" r="1.30" fill="#b8b2b0"/>
<circle cx="911.03" cy="379.51" r="4.30" fill="#bdb9b7"/>
<circle cx="935.04" cy="379.51" r="1.60" fill="#b8b2b0"/>
<circle cx="959.63" cy="379.51" r="1.30" fill="#b8b2b0"/>
<circle cx="984.36" cy="379.51" r="1.60" fill="#b8b2b0"/>
<circle cx="1009.02" cy="379.51" r="1.60" fill="#b8b2b0"/>
<circle cx="1035.60" cy="379.51" r="9.60" fill="#ef8a25"/>
<circle cx="1059.71" cy="379.51" r="7.30" fill="#ef8a25"/>
<text x="1048.30" y="43.80" font-size="20.20">Percent Expressed</text>
<circle cx="1112.00" cy="63.50" r="0.80" fill="#000"/>
<text x="1128.60" y="70.20" font-size="18.80">0</text>
<circle cx="1112.00" cy="82.60" r="3.30" fill="#000"/>
<text x="1128.60" y="89.30" font-size="18.80">25</text>
<circle cx="1112.00" cy="101.90" r="5.60" fill="#000"/>
<text x="1128.60" y="108.60" font-size="18.80">50</text>
<circle cx="1112.00" cy="120.30" r="8.00" fill="#000"/>
<text x="1128.60" y="127.00" font-size="18.80">75</text>
<text x="1091.60" y="166.50" font-size="20.10">Expression</text>
<defs><linearGradient id="expg" x1="0" y1="0" x2="0" y2="1"><stop offset="0" stop-color="#f08b26"/><stop offset="0.5" stop-color="#dfa579"/><stop offset="1" stop-color="#c9c7c5"/></linearGradient></defs>
<rect x="1099.80" y="195.30" width="18.50" height="94.30" fill="url(#expg)"/>
<line x1="1115.30" y1="209.30" x2="1118.30" y2="209.30" stroke="#fff" stroke-width="0.8"/>
<line x1="1099.80" y1="222.30" x2="1102.80" y2="222.30" stroke="#fff" stroke-width="0.8"/>
<line x1="1115.30" y1="238.10" x2="1118.30" y2="238.10" stroke="#fff" stroke-width="0.8"/>
<line x1="1099.80" y1="251.20" x2="1102.80" y2="251.20" stroke="#fff" stroke-width="0.8"/>
<line x1="1115.30" y1="266.80" x2="1118.30" y2="266.80" stroke="#fff" stroke-width="0.8"/>
<text x="1127.00" y="203.10" font-size="19.30">High</text>
<text x="1127.80" y="287.60" font-size="19.30">Low</text>
<text x="1233.00" y="27.60" font-size="37.00" font-weight="bold">c</text>
<text x="1275.00" y="46.60" font-size="19.70">Cell type</text>
<rect x="1275.00" y="56.00" width="21.60" height="22.00" fill="#52e04a"/>
<text x="1304.50" y="73.70" font-size="18.80">Early FGC</text>
<rect x="1275.00" y="78.00" width="21.60" height="22.00" fill="#e8d640"/>
<text x="1304.50" y="95.70" font-size="18.80">Late FGC</text>
<rect x="1431.20" y="34.00" width="21.60" height="22.00" fill="#8da0d2"/>
<text x="1461.00" y="51.70" font-size="18.80">LPC1</text>
<rect x="1431.20" y="56.00" width="21.60" height="22.00" fill="#7272c0"/>
<text x="1461.00" y="73.70" font-size="18.80">LPC2</text>
<rect x="1431.20" y="78.00" width="21.60" height="22.00" fill="#9370db"/>
<text x="1461.00" y="95.70" font-size="18.80">LP1</text>
<rect x="1553.20" y="34.00" width="21.60" height="22.00" fill="#b952e8"/>
<text x="1583.00" y="51.70" font-size="18.80">LP2</text>
<rect x="1553.20" y="56.00" width="21.60" height="22.00" fill="#6b37a1"/>
<text x="1583.00" y="73.70" font-size="18.80">DLC</text>
<rect x="1553.20" y="78.00" width="21.60" height="22.00" fill="#bb8d8d"/>
<text x="1583.00" y="95.70" font-size="18.80">PMC</text>
<rect x="1662.30" y="34.00" width="21.60" height="22.00" fill="#5bcdf8"/>
<text x="1691.00" y="51.70" font-size="18.80">SPC</text>
<rect x="1662.30" y="56.00" width="21.60" height="22.00" fill="#94d5f5"/>
<text x="1691.00" y="73.70" font-size="18.80">SC1</text>
<rect x="1662.30" y="78.00" width="21.60" height="22.00" fill="#5474b6"/>
<text x="1691.00" y="95.70" font-size="18.80">SC2</text>
<rect x="1772.30" y="34.00" width="21.60" height="22.00" fill="#a8a8a8"/>
<text x="1802.00" y="51.70" font-size="18.80">EC</text>
<rect x="1772.30" y="56.00" width="21.60" height="22.00" fill="#878787"/>
<text x="1802.00" y="73.70" font-size="18.80">MC</text>
<rect x="1772.30" y="78.00" width="21.60" height="22.00" fill="#6b6b6b"/>
<text x="1802.00" y="95.70" font-size="18.80">NK</text>
<line x1="1262.50" y1="111.50" x2="1262.50" y2="418.20" stroke="#000" stroke-width="1.6"/>
<line x1="1261.70" y1="417.40" x2="1369.30" y2="417.40" stroke="#000" stroke-width="1.6"/>
<line x1="1410.00" y1="111.50" x2="1410.00" y2="418.20" stroke="#000" stroke-width="1.6"/>
<line x1="1409.20" y1="417.40" x2="1857.50" y2="417.40" stroke="#000" stroke-width="1.6"/>
<line x1="1258.00" y1="403.80" x2="1262.50" y2="403.80" stroke="#000" stroke-width="1.2"/>
<line x1="1405.50" y1="403.80" x2="1410.00" y2="403.80" stroke="#000" stroke-width="1.2"/>
<text x="1254.30" y="410.40" font-size="18.90" text-anchor="end">0</text>
<text x="1397.50" y="410.40" font-size="18.90" text-anchor="end">0</text>
<line x1="1258.00" y1="334.50" x2="1262.50" y2="334.50" stroke="#000" stroke-width="1.2"/>
<line x1="1405.50" y1="334.50" x2="1410.00" y2="334.50" stroke="#000" stroke-width="1.2"/>
<text x="1254.30" y="341.10" font-size="18.90" text-anchor="end">25</text>
<text x="1397.50" y="341.10" font-size="18.90" text-anchor="end">25</text>
<line x1="1258.00" y1="265.20" x2="1262.50" y2="265.20" stroke="#000" stroke-width="1.2"/>
<line x1="1405.50" y1="265.20" x2="1410.00" y2="265.20" stroke="#000" stroke-width="1.2"/>
<text x="1254.30" y="271.80" font-size="18.90" text-anchor="end">50</text>
<text x="1397.50" y="271.80" font-size="18.90" text-anchor="end">50</text>
<line x1="1258.00" y1="195.90" x2="1262.50" y2="195.90" stroke="#000" stroke-width="1.2"/>
<line x1="1405.50" y1="195.90" x2="1410.00" y2="195.90" stroke="#000" stroke-width="1.2"/>
<text x="1254.30" y="202.50" font-size="18.90" text-anchor="end">75</text>
<text x="1397.50" y="202.50" font-size="18.90" text-anchor="end">75</text>
<line x1="1258.00" y1="126.60" x2="1262.50" y2="126.60" stroke="#000" stroke-width="1.2"/>
<line x1="1405.50" y1="126.60" x2="1410.00" y2="126.60" stroke="#000" stroke-width="1.2"/>
<text x="1254.30" y="133.20" font-size="18.90" text-anchor="end">100</text>
<text x="1397.50" y="133.20" font-size="18.90" text-anchor="end">100</text>
<text x="1218.40" y="265.00" font-size="20.90" text-anchor="middle" transform="rotate(-90.00 1218.40 265.00)">Percentage (%)</text>
<rect x="1274.20" y="124.80" width="35.20" height="1.35" fill="#52e04a"/>
<rect x="1274.20" y="125.90" width="35.20" height="2.05" fill="#e8d640"/>
<rect x="1274.20" y="127.70" width="35.20" height="5.35" fill="#8da0d2"/>
<rect x="1274.20" y="132.80" width="35.20" height="7.85" fill="#7272c0"/>
<rect x="1274.20" y="140.40" width="35.20" height="182.25" fill="#9370db"/>
<rect x="1274.20" y="322.40" width="35.20" height="26.55" fill="#b952e8"/>
<rect x="1274.20" y="348.70" width="35.20" height="3.15" fill="#6b37a1"/>
<rect x="1274.20" y="351.60" width="35.20" height="3.75" fill="#bb8d8d"/>
<rect x="1274.20" y="355.10" width="35.20" height="2.55" fill="#5bcdf8"/>
<rect x="1274.20" y="357.40" width="35.20" height="20.35" fill="#94d5f5"/>
<rect x="1274.20" y="377.50" width="35.20" height="7.45" fill="#5474b6"/>
<rect x="1274.20" y="384.70" width="35.20" height="7.25" fill="#a8a8a8"/>
<rect x="1274.20" y="391.70" width="35.20" height="11.45" fill="#878787"/>
<rect x="1274.20" y="402.90" width="35.20" height="1.55" fill="#6b6b6b"/>
<line x1="1291.80" y1="417.40" x2="1291.80" y2="422.00" stroke="#000" stroke-width="1.2"/>
<text x="1300.80" y="436.00" font-size="20.50" text-anchor="end" transform="rotate(-45.00 1300.80 436.00)">CtrlM</text>
<rect x="1322.80" y="124.60" width="35.20" height="1.55" fill="#52e04a"/>
<rect x="1322.80" y="125.90" width="35.20" height="5.35" fill="#8da0d2"/>
<rect x="1322.80" y="131.00" width="35.20" height="10.05" fill="#7272c0"/>
<rect x="1322.80" y="140.80" width="35.20" height="185.25" fill="#9370db"/>
<rect x="1322.80" y="325.80" width="35.20" height="20.65" fill="#b952e8"/>
<rect x="1322.80" y="346.20" width="35.20" height="4.05" fill="#6b37a1"/>
<rect x="1322.80" y="350.00" width="35.20" height="2.55" fill="#bb8d8d"/>
<rect x="1322.80" y="352.30" width="35.20" height="3.75" fill="#5bcdf8"/>
<rect x="1322.80" y="355.80" width="35.20" height="31.35" fill="#94d5f5"/>
<rect x="1322.80" y="386.90" width="35.20" height="5.05" fill="#5474b6"/>
<rect x="1322.80" y="391.70" width="35.20" height="3.45" fill="#a8a8a8"/>
<rect x="1322.80" y="394.90" width="35.20" height="8.25" fill="#878787"/>
<rect x="1322.80" y="402.90" width="35.20" height="1.55" fill="#6b6b6b"/>
<line x1="1340.40" y1="417.40" x2="1340.40" y2="422.00" stroke="#000" stroke-width="1.2"/>
<text x="1349.40" y="436.00" font-size="20.50" text-anchor="end" transform="rotate(-45.00 1349.40 436.00)">KS</text>
<rect x="1422.20" y="125.40" width="35.20" height="4.05" fill="#52e04a"/>
<rect x="1422.20" y="129.20" width="35.20" height="2.05" fill="#e8d640"/>
<rect x="1422.20" y="131.00" width="35.20" height="5.15" fill="#8da0d2"/>
<rect x="1422.20" y="135.90" width="35.20" height="6.25" fill="#7272c0"/>
<rect x="1422.20" y="141.90" width="35.20" height="141.95" fill="#9370db"/>
<rect x="1422.20" y="283.60" width="35.20" height="29.85" fill="#b952e8"/>
<rect x="1422.20" y="313.20" width="35.20" height="1.85" fill="#6b37a1"/>
<rect x="1422.20" y="314.80" width="35.20" height="8.65" fill="#bb8d8d"/>
<rect x="1422.20" y="323.20" width="35.20" height="2.45" fill="#5bcdf8"/>
<rect x="1422.20" y="325.40" width="35.20" height="27.95" fill="#94d5f5"/>
<rect x="1422.20" y="353.10" width="35.20" height="19.05" fill="#5474b6"/>
<rect x="1422.20" y="371.90" width="35.20" height="16.65" fill="#a8a8a8"/>
<rect x="1422.20" y="388.30" width="35.20" height="14.45" fill="#878787"/>
<rect x="1422.20" y="402.50" width="35.20" height="1.95" fill="#6b6b6b"/>
<line x1="1439.80" y1="417.40" x2="1439.80" y2="422.00" stroke="#000" stroke-width="1.2"/>
<text x="1448.80" y="436.00" font-size="20.50" text-anchor="end" transform="rotate(-45.00 1448.80 436.00)">CtrlM-1</text>
<rect x="1470.80" y="125.40" width="35.20" height="4.75" fill="#8da0d2"/>
<rect x="1470.80" y="129.90" width="35.20" height="10.25" fill="#7272c0"/>
<rect x="1470.80" y="139.90" width="35.20" height="196.05" fill="#9370db"/>
<rect x="1470.80" y="335.70" width="35.20" height="30.65" fill="#b952e8"/>
<rect x="1470.80" y="366.10" width="35.20" height="2.05" fill="#6b37a1"/>
<rect x="1470.80" y="367.90" width="35.20" height="1.85" fill="#bb8d8d"/>
<rect x="1470.80" y="369.50" width="35.20" height="3.45" fill="#5bcdf8"/>
<rect x="1470.80" y="372.70" width="35.20" height="15.85" fill="#94d5f5"/>
<rect x="1470.80" y="388.30" width="35.20" height="7.25" fill="#5474b6"/>
<rect x="1470.80" y="395.30" width="35.20" height="5.15" fill="#a8a8a8"/>
<rect x="1470.80" y="400.20" width="35.20" height="2.55" fill="#878787"/>
<rect x="1470.80" y="402.50" width="35.20" height="1.95" fill="#6b6b6b"/>
<line x1="1488.40" y1="417.40" x2="1488.40" y2="422.00" stroke="#000" stroke-width="1.2"/>
<text x="1497.40" y="436.00" font-size="20.50" text-anchor="end" transform="rotate(-45.00 1497.40 436.00)">CtrlM-2</text>
<rect x="1519.40" y="125.40" width="35.20" height="3.45" fill="#52e04a"/>
<rect x="1519.40" y="128.60" width="35.20" height="2.95" fill="#e8d640"/>
<rect x="1519.40" y="131.30" width="35.20" height="4.85" fill="#8da0d2"/>
<rect x="1519.40" y="135.90" width="35.20" height="10.55" fill="#7272c0"/>
<rect x="1519.40" y="146.20" width="35.20" height="160.95" fill="#9370db"/>
<rect x="1519.40" y="306.90" width="35.20" height="26.05" fill="#b952e8"/>
<rect x="1519.40" y="332.70" width="35.20" height="6.75" fill="#6b37a1"/>
<rect x="1519.40" y="339.20" width="35.20" height="3.15" fill="#bb8d8d"/>
<rect x="1519.40" y="342.10" width="35.20" height="4.75" fill="#5bcdf8"/>
<rect x="1519.40" y="346.60" width="35.20" height="28.75" fill="#94d5f5"/>
<rect x="1519.40" y="375.10" width="35.20" height="8.25" fill="#5474b6"/>
<rect x="1519.40" y="383.10" width="35.20" height="14.15" fill="#a8a8a8"/>
<rect x="1519.40" y="397.00" width="35.20" height="6.25" fill="#878787"/>
<rect x="1519.40" y="403.00" width="35.20" height="1.45" fill="#6b6b6b"/>
<line x1="1537.00" y1="417.40" x2="1537.00" y2="422.00" stroke="#000" stroke-width="1.2"/>
<text x="1546.00" y="436.00" font-size="20.50" text-anchor="end" transform="rotate(-45.00 1546.00 436.00)">CtrlM-3</text>
<rect x="1568.00" y="125.50" width="35.20" height="2.55" fill="#52e04a"/>
<rect x="1568.00" y="127.80" width="35.20" height="1.25" fill="#e8d640"/>
<rect x="1568.00" y="128.80" width="35.20" height="4.25" fill="#8da0d2"/>
<rect x="1568.00" y="132.80" width="35.20" height="5.35" fill="#7272c0"/>
<rect x="1568.00" y="137.90" width="35.20" height="197.05" fill="#9370db"/>
<rect x="1568.00" y="334.70" width="35.20" height="23.65" fill="#b952e8"/>
<rect x="1568.00" y="358.10" width="35.20" height="4.05" fill="#6b37a1"/>
<rect x="1568.00" y="361.90" width="35.20" height="1.65" fill="#bb8d8d"/>
<rect x="1568.00" y="363.30" width="35.20" height="3.75" fill="#5bcdf8"/>
<rect x="1568.00" y="366.80" width="35.20" height="16.95" fill="#94d5f5"/>
<rect x="1568.00" y="383.50" width="35.20" height="1.65" fill="#5474b6"/>
<rect x="1568.00" y="384.90" width="35.20" height="2.35" fill="#a8a8a8"/>
<rect x="1568.00" y="387.00" width="35.20" height="14.85" fill="#878787"/>
<rect x="1568.00" y="401.60" width="35.20" height="2.85" fill="#6b6b6b"/>
<line x1="1585.60" y1="417.40" x2="1585.60" y2="422.00" stroke="#000" stroke-width="1.2"/>
<text x="1594.60" y="436.00" font-size="20.50" text-anchor="end" transform="rotate(-45.00 1594.60 436.00)">CtrlM-4</text>
<rect x="1616.60" y="125.50" width="35.20" height="1.85" fill="#e8d640"/>
<rect x="1616.60" y="127.10" width="35.20" height="7.75" fill="#8da0d2"/>
<rect x="1616.60" y="134.60" width="35.20" height="9.45" fill="#7272c0"/>
<rect x="1616.60" y="143.80" width="35.20" height="200.55" fill="#9370db"/>
<rect x="1616.60" y="344.10" width="35.20" height="18.05" fill="#b952e8"/>
<rect x="1616.60" y="361.90" width="35.20" height="3.45" fill="#6b37a1"/>
<rect x="1616.60" y="365.10" width="35.20" height="0.95" fill="#bb8d8d"/>
<rect x="1616.60" y="365.80" width="35.20" height="1.95" fill="#5bcdf8"/>
<rect x="1616.60" y="367.50" width="35.20" height="17.15" fill="#94d5f5"/>
<rect x="1616.60" y="384.40" width="35.20" height="4.15" fill="#5474b6"/>
<rect x="1616.60" y="388.30" width="35.20" height="8.65" fill="#a8a8a8"/>
<rect x="1616.60" y="396.70" width="35.20" height="6.55" fill="#878787"/>
<rect x="1616.60" y="403.00" width="35.20" height="1.45" fill="#6b6b6b"/>
<line x1="1634.20" y1="417.40" x2="1634.20" y2="422.00" stroke="#000" stroke-width="1.2"/>
<text x="1643.20" y="436.00" font-size="20.50" text-anchor="end" transform="rotate(-45.00 1643.20 436.00)">CtrlM-9</text>
<rect x="1665.20" y="125.50" width="35.20" height="2.25" fill="#e8d640"/>
<rect x="1665.20" y="127.50" width="35.20" height="6.65" fill="#8da0d2"/>
<rect x="1665.20" y="133.90" width="35.20" height="15.25" fill="#7272c0"/>
<rect x="1665.20" y="148.90" width="35.20" height="200.45" fill="#9370db"/>
<rect x="1665.20" y="349.10" width="35.20" height="21.25" fill="#b952e8"/>
<rect x="1665.20" y="370.10" width="35.20" height="3.65" fill="#6b37a1"/>
<rect x="1665.20" y="373.50" width="35.20" height="0.65" fill="#bb8d8d"/>
<rect x="1665.20" y="373.90" width="35.20" height="2.15" fill="#5bcdf8"/>
<rect x="1665.20" y="375.80" width="35.20" height="14.65" fill="#94d5f5"/>
<rect x="1665.20" y="390.20" width="35.20" height="4.05" fill="#5474b6"/>
<rect x="1665.20" y="394.00" width="35.20" height="4.05" fill="#a8a8a8"/>
<rect x="1665.20" y="397.80" width="35.20" height="5.65" fill="#878787"/>
<rect x="1665.20" y="403.20" width="35.20" height="1.25" fill="#6b6b6b"/>
<line x1="1682.80" y1="417.40" x2="1682.80" y2="422.00" stroke="#000" stroke-width="1.2"/>
<text x="1691.80" y="436.00" font-size="20.50" text-anchor="end" transform="rotate(-45.00 1691.80 436.00)">KS-10</text>
<rect x="1713.80" y="125.50" width="35.20" height="1.15" fill="#52e04a"/>
<rect x="1713.80" y="126.40" width="35.20" height="2.65" fill="#8da0d2"/>
<rect x="1713.80" y="128.80" width="35.20" height="5.35" fill="#7272c0"/>
<rect x="1713.80" y="133.90" width="35.20" height="150.25" fill="#9370db"/>
<rect x="1713.80" y="283.90" width="35.20" height="19.35" fill="#b952e8"/>
<rect x="1713.80" y="303.00" width="35.20" height="2.25" fill="#6b37a1"/>
<rect x="1713.80" y="305.00" width="35.20" height="4.25" fill="#bb8d8d"/>
<rect x="1713.80" y="309.00" width="35.20" height="4.05" fill="#5bcdf8"/>
<rect x="1713.80" y="312.80" width="35.20" height="69.25" fill="#94d5f5"/>
<rect x="1713.80" y="381.80" width="35.20" height="9.55" fill="#5474b6"/>
<rect x="1713.80" y="391.10" width="35.20" height="2.25" fill="#a8a8a8"/>
<rect x="1713.80" y="393.10" width="35.20" height="10.35" fill="#878787"/>
<rect x="1713.80" y="403.20" width="35.20" height="1.25" fill="#6b6b6b"/>
<line x1="1731.40" y1="417.40" x2="1731.40" y2="422.00" stroke="#000" stroke-width="1.2"/>
<text x="1740.40" y="436.00" font-size="20.50" text-anchor="end" transform="rotate(-45.00 1740.40 436.00)">KS-3</text>
<rect x="1762.40" y="125.50" width="35.20" height="2.55" fill="#52e04a"/>
<rect x="1762.40" y="127.80" width="35.20" height="6.15" fill="#8da0d2"/>
<rect x="1762.40" y="133.70" width="35.20" height="9.45" fill="#7272c0"/>
<rect x="1762.40" y="142.90" width="35.20" height="183.75" fill="#9370db"/>
<rect x="1762.40" y="326.40" width="35.20" height="29.25" fill="#b952e8"/>
<rect x="1762.40" y="355.40" width="35.20" height="3.65" fill="#6b37a1"/>
<rect x="1762.40" y="358.80" width="35.20" height="3.15" fill="#bb8d8d"/>
<rect x="1762.40" y="361.70" width="35.20" height="4.25" fill="#5bcdf8"/>
<rect x="1762.40" y="365.70" width="35.20" height="21.65" fill="#94d5f5"/>
<rect x="1762.40" y="387.10" width="35.20" height="6.25" fill="#5474b6"/>
<rect x="1762.40" y="393.10" width="35.20" height="3.05" fill="#a8a8a8"/>
<rect x="1762.40" y="395.90" width="35.20" height="7.55" fill="#878787"/>
<rect x="1762.40" y="403.20" width="35.20" height="1.25" fill="#6b6b6b"/>
<line x1="1780.00" y1="417.40" x2="1780.00" y2="422.00" stroke="#000" stroke-width="1.2"/>
<text x="1789.00" y="436.00" font-size="20.50" text-anchor="end" transform="rotate(-45.00 1789.00 436.00)">KS-4</text>
<rect x="1811.00" y="125.50" width="35.20" height="5.75" fill="#8da0d2"/>
<rect x="1811.00" y="131.00" width="35.20" height="8.65" fill="#7272c0"/>
<rect x="1811.00" y="139.40" width="35.20" height="196.95" fill="#9370db"/>
<rect x="1811.00" y="336.10" width="35.20" height="16.85" fill="#b952e8"/>
<rect x="1811.00" y="352.70" width="35.20" height="5.05" fill="#6b37a1"/>
<rect x="1811.00" y="357.50" width="35.20" height="2.45" fill="#bb8d8d"/>
<rect x="1811.00" y="359.70" width="35.20" height="3.45" fill="#5bcdf8"/>
<rect x="1811.00" y="362.90" width="35.20" height="23.85" fill="#94d5f5"/>
<rect x="1811.00" y="386.50" width="35.20" height="2.75" fill="#5474b6"/>
<rect x="1811.00" y="389.00" width="35.20" height="5.25" fill="#a8a8a8"/>
<rect x="1811.00" y="394.00" width="35.20" height="9.45" fill="#878787"/>
<rect x="1811.00" y="403.20" width="35.20" height="1.25" fill="#6b6b6b"/>
<line x1="1828.60" y1="417.40" x2="1828.60" y2="422.00" stroke="#000" stroke-width="1.2"/>
<text x="1837.60" y="436.00" font-size="20.50" text-anchor="end" transform="rotate(-45.00 1837.60 436.00)">KS-6</text>
<text x="2.50" y="536.00" font-size="37.00" font-weight="bold">d</text>
<text x="210.80" y="545.70" font-size="23.40" text-anchor="middle" font-weight="bold">CtrlM</text>
<text x="617.50" y="545.70" font-size="23.40" text-anchor="middle" font-weight="bold">KS</text>
<text x="814.90" y="560.00" font-size="21.60">Cell type</text>
<circle cx="819.70" cy="584.30" r="5.60" fill="#5bcdf8"/>
<text x="843.90" y="594.20" font-size="19.60">SPC</text>
<circle cx="819.70" cy="620.60" r="5.60" fill="#94d5f5"/>
<text x="843.90" y="627.80" font-size="19.60">SC1</text>
<circle cx="819.70" cy="656.90" r="5.60" fill="#5474b6"/>
<text x="843.90" y="662.70" font-size="19.60">SC2</text>
<line x1="28.60" y1="900.80" x2="28.60" y2="840.20" stroke="#000" stroke-width="2.6"/>
<line x1="27.30" y1="900.80" x2="91.00" y2="900.80" stroke="#000" stroke-width="2.6"/>
<path d="M24.4,842.2 L28.6,834.2 L32.8,842.2 Z" fill="#000"/>
<path d="M89.0,896.6 L97.0,900.8 L89.0,905.0 Z" fill="#000"/>
<text x="27.60" y="921.40" font-size="16.60">UMAP 1</text>
<text x="20.50" y="867.00" font-size="16.60" text-anchor="middle" transform="rotate(-90.00 20.50 867.00)">UMAP 2</text>
<line x1="423.60" y1="898.40" x2="423.60" y2="837.80" stroke="#000" stroke-width="2.6"/>
<line x1="422.30" y1="898.40" x2="486.00" y2="898.40" stroke="#000" stroke-width="2.6"/>
<path d="M419.4,839.8 L423.6,831.8 L427.8,839.8 Z" fill="#000"/>
<path d="M484.0,894.2 L492.0,898.4 L484.0,902.6 Z" fill="#000"/>
<text x="422.80" y="920.10" font-size="16.60">UMAP 1</text>
<text x="415.50" y="864.50" font-size="16.60" text-anchor="middle" transform="rotate(-90.00 415.50 864.50)">UMAP 2</text>
<g fill="#5ccff9"><path d="M33.0,580.7 L33.3,587.2 L36.5,594.3 L36.5,594.3 L38.9,599.9 L43.5,606.1 L49.1,610.8 L53.6,613.8 L59.0,615.4 L64.7,617.0 L70.5,617.8 L70.8,617.9 L71.1,618.0 L71.4,618.2 L71.7,618.3 L72.0,618.5 L76.2,621.9 L76.5,622.1 L76.7,622.3 L76.9,622.6 L77.0,622.8 L77.2,623.1 L77.3,623.4 L77.3,623.7 L77.4,624.0 L78.2,629.5 L80.2,634.8 L82.3,635.9 L84.3,634.3 L86.4,628.7 L87.2,622.3 L87.2,622.0 L87.3,621.7 L87.4,621.4 L87.6,621.1 L87.7,620.9 L87.9,620.6 L88.1,620.4 L88.4,620.2 L88.6,620.0 L88.9,619.8 L89.2,619.7 L89.5,619.6 L89.8,619.6 L90.1,619.5 L90.4,619.5 L90.7,619.5 L91.1,619.6 L91.4,619.7 L91.7,619.8 L91.9,619.9 L92.2,620.1 L97.1,623.6 L99.2,623.2 L101.9,617.9 L103.9,613.9 L102.5,608.2 L102.4,607.8 L102.4,607.5 L102.4,600.7 L102.4,600.4 L102.4,600.1 L102.5,599.8 L102.6,599.5 L102.7,599.2 L105.3,594.2 L105.4,593.9 L105.6,593.6 L105.8,593.4 L106.0,593.2 L106.3,593.0 L106.6,592.8 L106.8,592.7 L107.1,592.6 L112.2,590.9 L112.5,590.8 L112.8,590.7 L113.2,590.7 L113.5,590.7 L113.8,590.7 L114.1,590.8 L120.0,592.5 L120.3,592.6 L120.6,592.8 L120.9,592.9 L121.2,593.1 L121.4,593.3 L121.6,593.5 L121.8,593.8 L122.0,594.1 L122.1,594.4 L122.2,594.7 L122.3,595.0 L123.1,599.2 L123.2,599.5 L123.2,599.9 L123.2,600.2 L122.4,607.4 L123.2,613.6 L124.4,618.5 L124.4,618.8 L124.5,619.1 L124.8,625.6 L125.7,626.4 L127.6,625.5 L129.7,619.9 L129.9,619.6 L130.0,619.2 L133.4,614.2 L133.6,613.9 L133.9,613.7 L134.1,613.4 L134.4,613.3 L134.6,613.1 L134.9,613.0 L135.2,612.9 L135.6,612.8 L135.9,612.7 L140.9,612.4 L144.2,609.9 L145.2,604.4 L145.9,598.0 L143.8,594.3 L139.1,590.4 L138.9,590.2 L138.7,590.0 L138.5,589.7 L138.4,589.5 L138.2,589.2 L138.1,588.9 L138.0,588.6 L138.0,588.3 L138.0,588.0 L138.0,587.6 L138.7,581.1 L136.1,579.4 L131.4,579.7 L124.9,580.9 L117.8,582.5 L111.5,586.4 L111.3,586.6 L111.0,586.7 L110.7,586.8 L105.6,588.3 L101.1,592.8 L97.7,596.2 L97.5,596.4 L97.2,596.6 L96.9,596.7 L96.6,596.9 L96.4,597.0 L96.0,597.0 L95.7,597.1 L95.4,597.1 L95.1,597.1 L94.8,597.0 L94.5,597.0 L94.2,596.9 L93.9,596.7 L93.6,596.6 L93.4,596.4 L93.2,596.2 L92.9,595.9 L92.8,595.7 L91.8,594.3 L93.4,599.8 L93.5,600.1 L93.5,600.4 L93.5,600.8 L93.5,601.1 L93.5,601.4 L93.4,601.7 L93.3,602.0 L93.1,602.3 L90.1,607.4 L90.0,607.6 L89.8,607.9 L89.5,608.1 L89.3,608.3 L89.0,608.5 L88.8,608.6 L88.5,608.8 L88.2,608.9 L87.9,608.9 L87.6,609.0 L87.2,609.0 L86.9,608.9 L81.0,608.1 L80.7,608.0 L80.4,607.9 L80.1,607.8 L79.9,607.7 L79.6,607.5 L79.4,607.4 L79.1,607.1 L78.9,606.9 L78.8,606.7 L78.6,606.4 L78.5,606.1 L76.4,601.1 L76.3,600.8 L76.2,600.5 L76.1,600.2 L76.1,599.9 L76.1,599.6 L76.2,599.3 L77.0,594.2 L77.1,593.9 L77.2,593.6 L77.3,593.3 L77.5,593.0 L77.7,592.8 L77.9,592.5 L78.1,592.3 L78.4,592.1 L78.6,591.9 L78.9,591.8 L79.2,591.7 L79.5,591.6 L79.8,591.6 L80.2,591.5 L88.6,591.5 L89.0,591.6 L89.3,591.6 L89.6,591.7 L89.9,591.8 L90.2,591.9 L90.3,592.0 L89.8,591.3 L85.9,589.3 L78.8,587.7 L72.1,586.9 L71.9,586.9 L71.6,586.8 L63.1,584.3 L62.8,584.1 L52.7,579.9 L52.3,579.7 L46.8,576.6 L41.5,575.2 L35.5,577.9 L33.0,580.7 Z M50.7,594.3 L50.8,594.0 L50.9,593.7 L51.0,593.5 L51.1,593.2 L51.3,592.9 L51.5,592.7 L51.7,592.5 L51.9,592.2 L52.1,592.1 L52.4,591.9 L52.7,591.8 L53.0,591.7 L53.3,591.6 L53.6,591.6 L53.9,591.5 L64.9,591.5 L65.2,591.6 L65.6,591.6 L65.9,591.7 L66.2,591.8 L66.4,591.9 L66.7,592.1 L67.0,592.3 L67.2,592.5 L67.4,592.8 L67.6,593.0 L67.8,593.3 L67.9,593.6 L68.0,593.9 L70.1,601.5 L70.2,601.8 L70.2,602.1 L70.2,602.5 L70.2,602.8 L70.1,603.1 L70.1,603.4 L69.9,603.7 L69.8,604.0 L65.6,611.2 L65.4,611.5 L65.2,611.7 L65.0,611.9 L64.7,612.1 L64.5,612.3 L64.2,612.4 L63.9,612.6 L63.6,612.7 L63.3,612.7 L63.0,612.8 L62.7,612.8 L62.4,612.8 L55.6,611.9 L55.3,611.9 L55.0,611.8 L54.7,611.7 L54.5,611.5 L54.2,611.4 L54.0,611.2 L53.7,611.0 L53.5,610.7 L53.3,610.5 L53.2,610.2 L53.1,609.9 L50.1,602.7 L50.0,602.4 L49.9,602.1 L49.9,601.8 L49.9,601.5 L49.9,601.1 L50.7,594.3 Z " fill-rule="evenodd"/><circle cx="32.9" cy="580.8" r="4.1"/><circle cx="34.2" cy="587.1" r="4.1"/><circle cx="34.9" cy="590.9" r="4.1"/><circle cx="35.9" cy="594.3" r="4.1"/><circle cx="36.8" cy="594.9" r="4.1"/><circle cx="38.1" cy="599.5" r="4.1"/><circle cx="40.4" cy="603.6" r="4.1"/><circle cx="43.9" cy="605.2" r="4.1"/><circle cx="50.0" cy="611.8" r="4.1"/><circle cx="53.9" cy="614.1" r="4.1"/><circle cx="58.3" cy="614.4" r="4.1"/><circle cx="64.8" cy="616.2" r="4.1"/><circle cx="69.8" cy="617.3" r="4.1"/><circle cx="69.8" cy="617.8" r="4.1"/><circle cx="71.0" cy="618.7" r="4.1"/><circle cx="71.5" cy="618.4" r="4.1"/><circle cx="71.7" cy="618.6" r="4.1"/><circle cx="71.9" cy="618.1" r="4.1"/><circle cx="77.2" cy="622.9" r="4.1"/><circle cx="77.1" cy="622.5" r="4.1"/><circle cx="76.3" cy="621.8" r="4.1"/><circle cx="76.4" cy="621.7" r="4.1"/><circle cx="77.5" cy="622.6" r="4.1"/><circle cx="77.8" cy="622.9" r="4.1"/><circle cx="78.2" cy="624.1" r="4.1"/><circle cx="76.3" cy="623.1" r="4.1"/><circle cx="78.2" cy="623.9" r="4.1"/><circle cx="79.2" cy="629.3" r="4.1"/><circle cx="79.3" cy="635.1" r="4.1"/><circle cx="82.9" cy="635.4" r="4.1"/><circle cx="83.4" cy="634.0" r="4.1"/><circle cx="87.3" cy="629.2" r="4.1"/><circle cx="86.4" cy="621.8" r="4.1"/><circle cx="86.4" cy="621.1" r="4.1"/><circle cx="87.9" cy="621.1" r="4.1"/><circle cx="87.5" cy="621.3" r="4.1"/><circle cx="86.9" cy="621.6" r="4.1"/><circle cx="87.0" cy="621.1" r="4.1"/><circle cx="87.2" cy="620.5" r="4.1"/><circle cx="87.6" cy="619.9" r="4.1"/><circle cx="89.3" cy="620.8" r="4.1"/><circle cx="88.2" cy="620.8" r="4.1"/><circle cx="88.3" cy="619.6" r="4.1"/><circle cx="89.9" cy="620.0" r="4.1"/><circle cx="88.7" cy="620.6" r="4.1"/><circle cx="89.2" cy="619.1" r="4.1"/><circle cx="90.7" cy="619.2" r="4.1"/><circle cx="90.0" cy="618.7" r="4.1"/><circle cx="89.9" cy="619.7" r="4.1"/><circle cx="90.5" cy="619.8" r="4.1"/><circle cx="91.1" cy="619.6" r="4.1"/><circle cx="92.6" cy="619.8" r="4.1"/><circle cx="92.1" cy="620.7" r="4.1"/><circle cx="91.6" cy="619.4" r="4.1"/><circle cx="97.9" cy="624.2" r="4.1"/><circle cx="98.7" cy="622.6" r="4.1"/><circle cx="102.4" cy="618.8" r="4.1"/><circle cx="103.3" cy="614.8" r="4.1"/><circle cx="103.3" cy="608.4" r="4.1"/><circle cx="102.3" cy="607.1" r="4.1"/><circle cx="101.5" cy="608.4" r="4.1"/><circle cx="101.9" cy="601.1" r="4.1"/><circle cx="101.9" cy="601.0" r="4.1"/><circle cx="102.6" cy="599.7" r="4.1"/><circle cx="101.9" cy="600.2" r="4.1"/><circle cx="101.7" cy="599.0" r="4.1"/><circle cx="102.8" cy="600.0" r="4.1"/><circle cx="105.5" cy="593.7" r="4.1"/><circle cx="106.3" cy="593.3" r="4.1"/><circle cx="104.6" cy="593.2" r="4.1"/><circle cx="105.7" cy="592.5" r="4.1"/><circle cx="105.4" cy="592.9" r="4.1"/><circle cx="106.4" cy="592.2" r="4.1"/><circle cx="106.3" cy="593.6" r="4.1"/><circle cx="107.8" cy="593.0" r="4.1"/><circle cx="107.5" cy="592.7" r="4.1"/><circle cx="111.5" cy="589.9" r="4.1"/><circle cx="111.6" cy="591.6" r="4.1"/><circle cx="113.2" cy="591.6" r="4.1"/><circle cx="112.2" cy="591.0" r="4.1"/><circle cx="113.4" cy="591.2" r="4.1"/><circle cx="113.4" cy="591.7" r="4.1"/><circle cx="113.2" cy="590.9" r="4.1"/><circle cx="120.5" cy="593.3" r="4.1"/><circle cx="120.8" cy="593.0" r="4.1"/><circle cx="121.2" cy="593.6" r="4.1"/><circle cx="120.6" cy="593.3" r="4.1"/><circle cx="122.0" cy="593.8" r="4.1"/><circle cx="121.2" cy="593.9" r="4.1"/><circle cx="122.3" cy="593.7" r="4.1"/><circle cx="122.1" cy="593.6" r="4.1"/><circle cx="122.1" cy="594.3" r="4.1"/><circle cx="121.3" cy="594.6" r="4.1"/><circle cx="123.2" cy="595.4" r="4.1"/><circle cx="122.7" cy="594.7" r="4.1"/><circle cx="123.6" cy="599.4" r="4.1"/><circle cx="123.1" cy="600.2" r="4.1"/><circle cx="122.4" cy="600.4" r="4.1"/><circle cx="122.2" cy="600.4" r="4.1"/><circle cx="122.3" cy="606.9" r="4.1"/><circle cx="123.5" cy="613.6" r="4.1"/><circle cx="124.6" cy="619.4" r="4.1"/><circle cx="123.9" cy="617.9" r="4.1"/><circle cx="124.1" cy="619.5" r="4.1"/><circle cx="124.2" cy="624.9" r="4.1"/><circle cx="126.5" cy="626.8" r="4.1"/><circle cx="127.5" cy="626.3" r="4.1"/><circle cx="129.4" cy="620.2" r="4.1"/><circle cx="129.3" cy="619.4" r="4.1"/><circle cx="130.7" cy="620.1" r="4.1"/><circle cx="134.2" cy="613.9" r="4.1"/><circle cx="133.8" cy="613.5" r="4.1"/><circle cx="133.1" cy="613.7" r="4.1"/><circle cx="134.8" cy="614.1" r="4.1"/><circle cx="134.8" cy="614.2" r="4.1"/><circle cx="134.2" cy="612.4" r="4.1"/><circle cx="134.8" cy="612.5" r="4.1"/><circle cx="134.7" cy="612.7" r="4.1"/><circle cx="135.8" cy="612.8" r="4.1"/><circle cx="135.5" cy="613.4" r="4.1"/><circle cx="141.8" cy="612.3" r="4.1"/><circle cx="143.4" cy="608.9" r="4.1"/><circle cx="146.0" cy="603.5" r="4.1"/><circle cx="146.4" cy="598.1" r="4.1"/><circle cx="143.4" cy="594.9" r="4.1"/><circle cx="138.2" cy="589.7" r="4.1"/><circle cx="138.8" cy="589.3" r="4.1"/><circle cx="139.4" cy="589.5" r="4.1"/><circle cx="137.8" cy="588.8" r="4.1"/><circle cx="138.6" cy="589.4" r="4.1"/><circle cx="138.5" cy="589.5" r="4.1"/><circle cx="138.7" cy="589.8" r="4.1"/><circle cx="138.4" cy="588.0" r="4.1"/><circle cx="138.0" cy="587.6" r="4.1"/><circle cx="137.0" cy="587.9" r="4.1"/><circle cx="138.4" cy="587.0" r="4.1"/><circle cx="138.2" cy="580.8" r="4.1"/><circle cx="136.5" cy="579.4" r="4.1"/><circle cx="131.7" cy="580.2" r="4.1"/><circle cx="124.7" cy="581.5" r="4.1"/><circle cx="118.7" cy="581.7" r="4.1"/><circle cx="112.4" cy="586.9" r="4.1"/><circle cx="110.5" cy="586.5" r="4.1"/><circle cx="111.2" cy="587.5" r="4.1"/><circle cx="110.5" cy="586.9" r="4.1"/><circle cx="106.3" cy="588.9" r="4.1"/><circle cx="102.0" cy="592.7" r="4.1"/><circle cx="98.0" cy="595.6" r="4.1"/><circle cx="97.9" cy="597.0" r="4.1"/><circle cx="97.5" cy="597.0" r="4.1"/><circle cx="96.4" cy="597.5" r="4.1"/><circle cx="97.6" cy="597.8" r="4.1"/><circle cx="96.4" cy="597.5" r="4.1"/><circle cx="95.7" cy="597.9" r="4.1"/><circle cx="96.4" cy="596.8" r="4.1"/><circle cx="94.6" cy="597.0" r="4.1"/><circle cx="95.2" cy="597.6" r="4.1"/><circle cx="94.8" cy="596.1" r="4.1"/><circle cx="95.1" cy="596.1" r="4.1"/><circle cx="94.8" cy="596.2" r="4.1"/><circle cx="93.6" cy="597.3" r="4.1"/><circle cx="92.9" cy="595.9" r="4.1"/><circle cx="93.4" cy="596.8" r="4.1"/><circle cx="93.8" cy="596.5" r="4.1"/><circle cx="93.8" cy="595.9" r="4.1"/><circle cx="93.7" cy="594.8" r="4.1"/><circle cx="91.3" cy="594.4" r="4.1"/><circle cx="93.0" cy="600.3" r="4.1"/><circle cx="93.8" cy="600.2" r="4.1"/><circle cx="94.2" cy="600.6" r="4.1"/><circle cx="93.2" cy="600.5" r="4.1"/><circle cx="94.2" cy="601.9" r="4.1"/><circle cx="92.9" cy="602.1" r="4.1"/><circle cx="94.3" cy="601.8" r="4.1"/><circle cx="93.4" cy="601.4" r="4.1"/><circle cx="93.2" cy="602.3" r="4.1"/><circle cx="90.3" cy="606.4" r="4.1"/><circle cx="90.9" cy="607.7" r="4.1"/><circle cx="89.6" cy="608.5" r="4.1"/><circle cx="89.7" cy="608.1" r="4.1"/><circle cx="89.7" cy="607.4" r="4.1"/><circle cx="89.1" cy="608.3" r="4.1"/><circle cx="89.7" cy="609.5" r="4.1"/><circle cx="88.0" cy="608.7" r="4.1"/><circle cx="87.4" cy="608.7" r="4.1"/><circle cx="88.5" cy="609.7" r="4.1"/><circle cx="87.5" cy="608.6" r="4.1"/><circle cx="86.6" cy="609.2" r="4.1"/><circle cx="87.8" cy="608.2" r="4.1"/><circle cx="81.5" cy="607.1" r="4.1"/><circle cx="80.1" cy="607.5" r="4.1"/><circle cx="80.8" cy="607.6" r="4.1"/><circle cx="79.8" cy="608.1" r="4.1"/><circle cx="79.1" cy="608.2" r="4.1"/><circle cx="78.8" cy="607.6" r="4.1"/><circle cx="78.9" cy="606.7" r="4.1"/><circle cx="79.2" cy="607.0" r="4.1"/><circle cx="78.7" cy="606.7" r="4.1"/><circle cx="78.8" cy="606.0" r="4.1"/><circle cx="78.0" cy="606.7" r="4.1"/><circle cx="78.8" cy="606.2" r="4.1"/><circle cx="77.1" cy="601.3" r="4.1"/><circle cx="77.0" cy="600.2" r="4.1"/><circle cx="76.7" cy="601.1" r="4.1"/><circle cx="76.9" cy="599.8" r="4.1"/><circle cx="75.8" cy="600.7" r="4.1"/><circle cx="75.6" cy="600.6" r="4.1"/><circle cx="76.9" cy="598.6" r="4.1"/><circle cx="76.5" cy="594.7" r="4.1"/><circle cx="76.6" cy="593.1" r="4.1"/><circle cx="77.8" cy="593.4" r="4.1"/><circle cx="77.9" cy="592.6" r="4.1"/><circle cx="77.3" cy="593.4" r="4.1"/><circle cx="76.7" cy="592.2" r="4.1"/><circle cx="78.2" cy="593.3" r="4.1"/><circle cx="79.0" cy="591.5" r="4.1"/><circle cx="78.4" cy="592.6" r="4.1"/><circle cx="78.6" cy="592.3" r="4.1"/><circle cx="78.3" cy="590.9" r="4.1"/><circle cx="78.4" cy="590.8" r="4.1"/><circle cx="79.6" cy="591.6" r="4.1"/><circle cx="80.0" cy="590.9" r="4.1"/><circle cx="79.5" cy="591.0" r="4.1"/><circle cx="85.1" cy="592.5" r="4.1"/><circle cx="89.5" cy="590.7" r="4.1"/><circle cx="88.1" cy="592.5" r="4.1"/><circle cx="89.2" cy="592.1" r="4.1"/><circle cx="89.2" cy="591.6" r="4.1"/><circle cx="89.9" cy="591.7" r="4.1"/><circle cx="90.4" cy="591.0" r="4.1"/><circle cx="90.7" cy="592.7" r="4.1"/><circle cx="89.2" cy="591.2" r="4.1"/><circle cx="86.3" cy="589.1" r="4.1"/><circle cx="78.2" cy="587.1" r="4.1"/><circle cx="72.2" cy="585.9" r="4.1"/><circle cx="72.7" cy="587.5" r="4.1"/><circle cx="72.0" cy="587.5" r="4.1"/><circle cx="67.6" cy="585.3" r="4.1"/><circle cx="63.3" cy="584.3" r="4.1"/><circle cx="63.8" cy="584.7" r="4.1"/><circle cx="57.3" cy="582.8" r="4.1"/><circle cx="53.2" cy="580.5" r="4.1"/><circle cx="52.9" cy="579.5" r="4.1"/><circle cx="47.6" cy="577.3" r="4.1"/><circle cx="41.9" cy="575.8" r="4.1"/><circle cx="36.0" cy="577.7" r="4.1"/><circle cx="51.2" cy="593.5" r="4.1"/><circle cx="50.5" cy="594.0" r="4.1"/><circle cx="49.9" cy="593.5" r="4.1"/><circle cx="51.2" cy="593.7" r="4.1"/><circle cx="50.6" cy="594.1" r="4.1"/><circle cx="51.6" cy="592.6" r="4.1"/><circle cx="51.8" cy="592.8" r="4.1"/><circle cx="51.7" cy="592.2" r="4.1"/><circle cx="52.9" cy="592.5" r="4.1"/><circle cx="52.6" cy="592.6" r="4.1"/><circle cx="53.4" cy="591.0" r="4.1"/><circle cx="52.9" cy="592.3" r="4.1"/><circle cx="52.5" cy="591.5" r="4.1"/><circle cx="52.4" cy="591.0" r="4.1"/><circle cx="53.3" cy="590.8" r="4.1"/><circle cx="53.4" cy="592.4" r="4.1"/><circle cx="59.5" cy="591.6" r="4.1"/><circle cx="65.8" cy="591.7" r="4.1"/><circle cx="66.2" cy="591.8" r="4.1"/><circle cx="66.2" cy="590.8" r="4.1"/><circle cx="66.1" cy="592.2" r="4.1"/><circle cx="65.3" cy="592.7" r="4.1"/><circle cx="65.8" cy="591.9" r="4.1"/><circle cx="66.1" cy="592.1" r="4.1"/><circle cx="67.2" cy="591.4" r="4.1"/><circle cx="68.1" cy="592.4" r="4.1"/><circle cx="67.5" cy="593.0" r="4.1"/><circle cx="67.3" cy="592.6" r="4.1"/><circle cx="68.1" cy="593.4" r="4.1"/><circle cx="67.5" cy="594.0" r="4.1"/><circle cx="67.6" cy="592.9" r="4.1"/><circle cx="68.5" cy="596.8" r="4.1"/><circle cx="69.4" cy="602.0" r="4.1"/><circle cx="70.0" cy="602.6" r="4.1"/><circle cx="70.7" cy="601.2" r="4.1"/><circle cx="71.2" cy="603.4" r="4.1"/><circle cx="69.4" cy="603.6" r="4.1"/><circle cx="70.0" cy="603.1" r="4.1"/><circle cx="71.0" cy="602.9" r="4.1"/><circle cx="70.0" cy="604.6" r="4.1"/><circle cx="70.2" cy="603.9" r="4.1"/><circle cx="68.6" cy="608.2" r="4.1"/><circle cx="65.8" cy="610.4" r="4.1"/><circle cx="65.6" cy="611.4" r="4.1"/><circle cx="64.6" cy="610.8" r="4.1"/><circle cx="65.0" cy="611.2" r="4.1"/><circle cx="64.6" cy="612.5" r="4.1"/><circle cx="64.4" cy="611.8" r="4.1"/><circle cx="64.4" cy="612.3" r="4.1"/><circle cx="64.5" cy="612.6" r="4.1"/><circle cx="64.6" cy="613.6" r="4.1"/><circle cx="63.8" cy="612.2" r="4.1"/><circle cx="62.2" cy="613.6" r="4.1"/><circle cx="63.3" cy="613.0" r="4.1"/><circle cx="62.1" cy="612.3" r="4.1"/><circle cx="56.0" cy="612.0" r="4.1"/><circle cx="55.5" cy="612.1" r="4.1"/><circle cx="55.5" cy="611.1" r="4.1"/><circle cx="54.2" cy="612.6" r="4.1"/><circle cx="55.3" cy="612.3" r="4.1"/><circle cx="53.3" cy="610.5" r="4.1"/><circle cx="53.5" cy="611.0" r="4.1"/><circle cx="54.0" cy="610.2" r="4.1"/><circle cx="53.6" cy="609.9" r="4.1"/><circle cx="52.5" cy="610.8" r="4.1"/><circle cx="53.3" cy="610.5" r="4.1"/><circle cx="52.8" cy="609.9" r="4.1"/><circle cx="51.0" cy="606.0" r="4.1"/><circle cx="50.6" cy="603.4" r="4.1"/><circle cx="49.1" cy="601.7" r="4.1"/><circle cx="50.5" cy="602.4" r="4.1"/><circle cx="50.4" cy="601.2" r="4.1"/><circle cx="49.7" cy="601.0" r="4.1"/><circle cx="50.5" cy="600.9" r="4.1"/></g>
<g fill="#5ccff9"><circle cx="92.0" cy="579.5" r="4.1"/><circle cx="115.3" cy="615.1" r="4.1"/></g>
<g fill="#8fd2f2"><circle cx="53.9" cy="616.8" r="4.1"/><circle cx="68.3" cy="620.2" r="4.1"/><circle cx="150.9" cy="615.9" r="4.1"/><circle cx="137.4" cy="578.2" r="4.1"/><circle cx="139.9" cy="581.6" r="4.1"/></g>
<g fill="#5576b6"><circle cx="44.6" cy="574.4" r="4.0"/><circle cx="75.9" cy="603.2" r="4.0"/></g>
<g fill="#5ccff9"><circle cx="42.9" cy="576.9" r="4.0"/><circle cx="74.2" cy="606.2" r="4.0"/></g>
<g fill="#5ccff9"><path d="M427.6,582.8 L427.9,586.5 L429.8,592.4 L434.5,598.7 L440.4,606.3 L440.4,606.4 L444.8,612.2 L448.1,612.9 L452.9,609.2 L453.1,609.0 L453.3,608.9 L453.6,608.7 L453.9,608.6 L454.1,608.6 L461.8,606.9 L462.1,606.8 L462.4,606.8 L462.7,606.8 L463.0,606.8 L463.3,606.9 L463.6,607.0 L463.8,607.1 L464.1,607.3 L468.3,609.8 L468.6,610.0 L468.8,610.2 L469.1,610.4 L469.3,610.6 L469.4,610.9 L469.6,611.2 L469.7,611.5 L469.8,611.8 L472.3,621.9 L475.6,633.4 L478.0,638.2 L481.2,638.2 L485.0,633.1 L488.2,623.4 L488.3,623.1 L488.5,622.8 L488.6,622.6 L488.8,622.4 L493.1,617.3 L493.2,617.1 L496.6,613.7 L496.9,613.5 L497.1,613.3 L497.4,613.1 L497.6,613.0 L497.8,612.9 L497.7,612.9 L497.5,612.7 L497.4,612.4 L497.2,612.1 L497.1,611.8 L497.0,611.5 L495.3,603.0 L495.3,602.7 L495.3,602.4 L495.3,602.1 L495.3,601.8 L495.4,601.5 L495.5,601.2 L498.9,592.3 L499.0,592.0 L499.2,591.8 L499.3,591.5 L499.6,591.3 L499.8,591.0 L500.1,590.8 L500.3,590.7 L500.6,590.5 L500.9,590.4 L501.2,590.3 L509.7,588.6 L510.0,588.6 L510.3,588.6 L510.7,588.6 L511.0,588.6 L511.3,588.7 L511.6,588.8 L511.8,589.0 L512.1,589.1 L512.4,589.3 L512.6,589.5 L512.8,589.8 L513.0,590.0 L513.2,590.3 L516.6,596.6 L516.7,596.9 L516.8,597.2 L516.9,597.5 L516.9,597.8 L516.9,598.1 L516.9,598.4 L516.1,608.2 L516.0,608.5 L516.0,608.7 L515.9,609.0 L515.7,609.3 L515.6,609.6 L515.4,609.8 L515.2,610.0 L510.7,615.0 L512.0,615.5 L512.2,615.6 L512.5,615.8 L512.8,616.0 L513.0,616.2 L516.3,619.5 L520.7,619.5 L527.3,618.7 L533.2,617.8 L533.5,617.8 L533.8,617.8 L534.1,617.8 L534.4,617.9 L534.7,618.0 L534.9,618.1 L535.2,618.2 L535.5,618.4 L535.7,618.6 L538.1,620.6 L539.9,618.2 L540.6,611.1 L539.0,604.8 L539.0,604.5 L538.9,604.2 L538.9,603.9 L539.0,603.6 L539.0,603.2 L539.1,602.9 L539.3,602.6 L542.2,596.8 L538.9,592.7 L533.5,588.1 L526.4,584.1 L519.2,581.6 L513.9,583.2 L508.4,587.2 L508.1,587.3 L507.9,587.5 L507.6,587.6 L507.3,587.7 L507.0,587.7 L506.7,587.8 L506.3,587.8 L506.0,587.7 L505.7,587.7 L505.4,587.6 L505.2,587.5 L504.9,587.3 L500.6,584.8 L500.5,584.7 L498.1,583.0 L495.3,585.1 L492.2,589.7 L492.1,589.9 L489.6,593.3 L489.4,593.5 L489.3,593.6 L491.0,596.5 L491.2,596.7 L491.3,597.0 L491.4,597.3 L491.5,597.7 L491.5,598.0 L491.5,598.3 L491.5,598.6 L491.4,598.9 L491.3,599.2 L491.2,599.5 L491.0,599.8 L487.6,605.3 L487.5,605.6 L487.3,605.8 L487.1,606.0 L486.8,606.2 L486.6,606.4 L486.3,606.5 L486.0,606.6 L485.7,606.7 L485.4,606.8 L485.1,606.8 L484.8,606.8 L484.5,606.8 L477.7,606.0 L477.4,605.9 L477.1,605.8 L476.8,605.7 L476.6,605.6 L476.3,605.4 L476.1,605.2 L475.8,605.0 L475.6,604.8 L475.5,604.5 L475.3,604.3 L475.2,604.0 L475.1,603.7 L475.0,603.4 L473.3,594.5 L473.3,594.2 L473.2,593.9 L473.3,593.5 L473.3,593.2 L473.4,592.9 L473.5,592.6 L473.7,592.3 L473.8,592.0 L474.0,591.8 L474.3,591.6 L474.5,591.4 L474.8,591.2 L475.0,591.0 L475.3,590.9 L475.7,590.8 L476.0,590.7 L484.1,589.5 L484.4,587.1 L483.2,586.3 L478.6,587.7 L478.3,587.7 L478.0,587.8 L477.7,587.8 L477.4,587.8 L468.9,586.9 L468.6,586.9 L468.3,586.8 L468.0,586.7 L459.6,583.3 L459.3,583.2 L452.9,580.0 L448.4,578.9 L439.4,578.5 L439.2,578.4 L438.9,578.4 L432.5,577.0 L430.1,578.4 L427.6,582.8 Z M441.0,590.5 L441.1,590.2 L441.1,589.9 L441.2,589.6 L441.3,589.3 L441.4,589.0 L441.6,588.7 L441.8,588.5 L442.0,588.2 L442.2,588.0 L442.5,587.8 L442.8,587.7 L443.1,587.5 L443.4,587.4 L443.7,587.4 L444.0,587.3 L444.3,587.3 L444.6,587.3 L444.9,587.4 L454.3,589.5 L454.6,589.6 L454.9,589.7 L455.1,589.8 L455.4,590.0 L455.6,590.2 L455.9,590.4 L456.1,590.6 L456.3,590.9 L456.4,591.2 L456.5,591.5 L456.6,591.7 L458.3,597.7 L458.4,598.0 L458.4,598.3 L458.5,598.6 L458.4,598.9 L458.4,599.2 L458.3,599.5 L458.2,599.8 L458.1,600.1 L457.9,600.4 L457.7,600.6 L457.5,600.8 L457.3,601.0 L457.0,601.2 L456.8,601.4 L456.5,601.5 L456.2,601.6 L455.9,601.7 L449.5,603.0 L449.2,603.0 L448.9,603.0 L448.6,603.0 L448.3,603.0 L448.0,602.9 L447.8,602.8 L447.5,602.7 L447.2,602.6 L447.0,602.4 L446.7,602.2 L442.1,598.0 L441.9,597.7 L441.6,597.5 L441.5,597.2 L441.3,596.9 L441.2,596.6 L441.1,596.3 L441.1,595.9 L441.0,595.6 L441.0,590.5 Z " fill-rule="evenodd"/><circle cx="427.9" cy="583.7" r="4.1"/><circle cx="427.6" cy="586.6" r="4.1"/><circle cx="430.2" cy="593.3" r="4.1"/><circle cx="432.0" cy="595.3" r="4.1"/><circle cx="433.7" cy="599.5" r="4.1"/><circle cx="436.6" cy="601.7" r="4.1"/><circle cx="440.5" cy="606.3" r="4.1"/><circle cx="440.8" cy="606.0" r="4.1"/><circle cx="445.4" cy="611.4" r="4.1"/><circle cx="447.5" cy="613.2" r="4.1"/><circle cx="452.0" cy="608.8" r="4.1"/><circle cx="453.5" cy="609.4" r="4.1"/><circle cx="452.9" cy="608.2" r="4.1"/><circle cx="453.3" cy="609.2" r="4.1"/><circle cx="453.6" cy="607.9" r="4.1"/><circle cx="454.6" cy="608.7" r="4.1"/><circle cx="458.8" cy="608.6" r="4.1"/><circle cx="462.6" cy="606.8" r="4.1"/><circle cx="462.7" cy="606.4" r="4.1"/><circle cx="462.0" cy="606.6" r="4.1"/><circle cx="463.5" cy="607.6" r="4.1"/><circle cx="462.5" cy="606.6" r="4.1"/><circle cx="463.0" cy="606.6" r="4.1"/><circle cx="463.3" cy="606.8" r="4.1"/><circle cx="463.2" cy="607.2" r="4.1"/><circle cx="464.7" cy="607.3" r="4.1"/><circle cx="469.0" cy="609.9" r="4.1"/><circle cx="468.0" cy="610.5" r="4.1"/><circle cx="469.6" cy="609.7" r="4.1"/><circle cx="468.1" cy="610.4" r="4.1"/><circle cx="469.4" cy="610.8" r="4.1"/><circle cx="470.4" cy="611.2" r="4.1"/><circle cx="470.2" cy="610.3" r="4.1"/><circle cx="469.8" cy="612.0" r="4.1"/><circle cx="469.0" cy="610.9" r="4.1"/><circle cx="471.5" cy="617.6" r="4.1"/><circle cx="471.5" cy="622.2" r="4.1"/><circle cx="473.3" cy="628.1" r="4.1"/><circle cx="475.9" cy="632.9" r="4.1"/><circle cx="477.4" cy="638.7" r="4.1"/><circle cx="481.2" cy="638.7" r="4.1"/><circle cx="484.8" cy="632.7" r="4.1"/><circle cx="487.6" cy="628.6" r="4.1"/><circle cx="488.2" cy="623.5" r="4.1"/><circle cx="488.8" cy="623.5" r="4.1"/><circle cx="489.3" cy="622.7" r="4.1"/><circle cx="489.3" cy="622.9" r="4.1"/><circle cx="489.5" cy="623.0" r="4.1"/><circle cx="493.7" cy="618.1" r="4.1"/><circle cx="494.2" cy="617.3" r="4.1"/><circle cx="496.7" cy="614.1" r="4.1"/><circle cx="497.5" cy="613.3" r="4.1"/><circle cx="496.9" cy="612.6" r="4.1"/><circle cx="497.8" cy="614.1" r="4.1"/><circle cx="497.4" cy="612.3" r="4.1"/><circle cx="497.2" cy="612.8" r="4.1"/><circle cx="497.3" cy="613.9" r="4.1"/><circle cx="496.7" cy="612.3" r="4.1"/><circle cx="496.6" cy="612.7" r="4.1"/><circle cx="497.8" cy="611.5" r="4.1"/><circle cx="496.2" cy="611.7" r="4.1"/><circle cx="497.2" cy="612.3" r="4.1"/><circle cx="495.3" cy="606.5" r="4.1"/><circle cx="494.7" cy="602.4" r="4.1"/><circle cx="494.8" cy="603.1" r="4.1"/><circle cx="495.5" cy="601.9" r="4.1"/><circle cx="494.7" cy="601.7" r="4.1"/><circle cx="494.7" cy="602.3" r="4.1"/><circle cx="495.0" cy="601.6" r="4.1"/><circle cx="496.1" cy="601.2" r="4.1"/><circle cx="496.7" cy="597.6" r="4.1"/><circle cx="499.7" cy="592.0" r="4.1"/><circle cx="499.1" cy="593.0" r="4.1"/><circle cx="499.1" cy="591.2" r="4.1"/><circle cx="498.4" cy="592.4" r="4.1"/><circle cx="500.2" cy="591.0" r="4.1"/><circle cx="499.9" cy="591.1" r="4.1"/><circle cx="499.6" cy="591.8" r="4.1"/><circle cx="500.6" cy="590.1" r="4.1"/><circle cx="499.6" cy="590.5" r="4.1"/><circle cx="500.7" cy="591.0" r="4.1"/><circle cx="501.7" cy="590.5" r="4.1"/><circle cx="504.8" cy="588.8" r="4.1"/><circle cx="509.4" cy="588.2" r="4.1"/><circle cx="510.8" cy="588.6" r="4.1"/><circle cx="510.6" cy="589.6" r="4.1"/><circle cx="510.2" cy="588.7" r="4.1"/><circle cx="510.3" cy="589.2" r="4.1"/><circle cx="510.3" cy="589.4" r="4.1"/><circle cx="512.3" cy="589.5" r="4.1"/><circle cx="511.0" cy="588.5" r="4.1"/><circle cx="512.6" cy="588.3" r="4.1"/><circle cx="512.3" cy="589.2" r="4.1"/><circle cx="513.5" cy="589.7" r="4.1"/><circle cx="513.5" cy="589.4" r="4.1"/><circle cx="513.6" cy="589.8" r="4.1"/><circle cx="514.0" cy="589.5" r="4.1"/><circle cx="517.2" cy="596.0" r="4.1"/><circle cx="516.8" cy="597.0" r="4.1"/><circle cx="516.1" cy="597.9" r="4.1"/><circle cx="516.5" cy="597.1" r="4.1"/><circle cx="516.1" cy="597.4" r="4.1"/><circle cx="516.9" cy="598.5" r="4.1"/><circle cx="516.6" cy="598.8" r="4.1"/><circle cx="515.7" cy="603.1" r="4.1"/><circle cx="516.0" cy="609.1" r="4.1"/><circle cx="516.7" cy="608.8" r="4.1"/><circle cx="515.0" cy="608.5" r="4.1"/><circle cx="516.3" cy="608.5" r="4.1"/><circle cx="515.9" cy="609.2" r="4.1"/><circle cx="514.6" cy="610.6" r="4.1"/><circle cx="516.0" cy="609.2" r="4.1"/><circle cx="515.5" cy="609.6" r="4.1"/><circle cx="510.4" cy="615.1" r="4.1"/><circle cx="511.5" cy="615.2" r="4.1"/><circle cx="512.0" cy="616.0" r="4.1"/><circle cx="512.0" cy="615.2" r="4.1"/><circle cx="513.2" cy="615.7" r="4.1"/><circle cx="513.9" cy="616.3" r="4.1"/><circle cx="516.8" cy="619.2" r="4.1"/><circle cx="521.4" cy="618.7" r="4.1"/><circle cx="526.6" cy="617.9" r="4.1"/><circle cx="533.5" cy="618.3" r="4.1"/><circle cx="532.8" cy="617.6" r="4.1"/><circle cx="534.5" cy="618.0" r="4.1"/><circle cx="533.3" cy="617.3" r="4.1"/><circle cx="533.7" cy="617.1" r="4.1"/><circle cx="534.5" cy="617.1" r="4.1"/><circle cx="535.8" cy="617.9" r="4.1"/><circle cx="535.2" cy="618.5" r="4.1"/><circle cx="536.0" cy="619.0" r="4.1"/><circle cx="535.5" cy="618.2" r="4.1"/><circle cx="538.0" cy="619.6" r="4.1"/><circle cx="539.7" cy="618.6" r="4.1"/><circle cx="541.5" cy="611.7" r="4.1"/><circle cx="539.3" cy="605.1" r="4.1"/><circle cx="538.0" cy="604.2" r="4.1"/><circle cx="538.6" cy="604.5" r="4.1"/><circle cx="538.1" cy="603.6" r="4.1"/><circle cx="539.0" cy="604.1" r="4.1"/><circle cx="539.7" cy="603.5" r="4.1"/><circle cx="538.4" cy="603.5" r="4.1"/><circle cx="540.1" cy="602.7" r="4.1"/><circle cx="541.9" cy="596.8" r="4.1"/><circle cx="538.2" cy="593.2" r="4.1"/><circle cx="534.5" cy="588.1" r="4.1"/><circle cx="530.4" cy="586.8" r="4.1"/><circle cx="525.8" cy="585.0" r="4.1"/><circle cx="523.0" cy="582.2" r="4.1"/><circle cx="518.3" cy="581.1" r="4.1"/><circle cx="514.1" cy="583.6" r="4.1"/><circle cx="508.0" cy="588.0" r="4.1"/><circle cx="507.8" cy="587.3" r="4.1"/><circle cx="507.1" cy="588.4" r="4.1"/><circle cx="506.8" cy="588.4" r="4.1"/><circle cx="507.4" cy="587.8" r="4.1"/><circle cx="507.1" cy="587.3" r="4.1"/><circle cx="507.5" cy="588.8" r="4.1"/><circle cx="507.0" cy="588.0" r="4.1"/><circle cx="505.3" cy="588.4" r="4.1"/><circle cx="505.3" cy="588.5" r="4.1"/><circle cx="504.9" cy="587.7" r="4.1"/><circle cx="505.8" cy="586.8" r="4.1"/><circle cx="505.0" cy="586.5" r="4.1"/><circle cx="499.7" cy="584.1" r="4.1"/><circle cx="501.4" cy="585.5" r="4.1"/><circle cx="498.4" cy="582.6" r="4.1"/><circle cx="495.7" cy="585.6" r="4.1"/><circle cx="492.0" cy="589.9" r="4.1"/><circle cx="492.7" cy="588.9" r="4.1"/><circle cx="489.0" cy="593.2" r="4.1"/><circle cx="488.7" cy="593.3" r="4.1"/><circle cx="489.4" cy="593.0" r="4.1"/><circle cx="491.1" cy="596.0" r="4.1"/><circle cx="491.3" cy="596.4" r="4.1"/><circle cx="491.6" cy="596.1" r="4.1"/><circle cx="491.7" cy="596.6" r="4.1"/><circle cx="492.4" cy="597.9" r="4.1"/><circle cx="491.4" cy="597.8" r="4.1"/><circle cx="491.7" cy="598.7" r="4.1"/><circle cx="492.0" cy="599.1" r="4.1"/><circle cx="491.4" cy="599.9" r="4.1"/><circle cx="492.0" cy="599.9" r="4.1"/><circle cx="491.0" cy="599.4" r="4.1"/><circle cx="491.2" cy="600.6" r="4.1"/><circle cx="487.7" cy="605.4" r="4.1"/><circle cx="487.3" cy="606.4" r="4.1"/><circle cx="486.9" cy="604.9" r="4.1"/><circle cx="487.5" cy="606.8" r="4.1"/><circle cx="487.3" cy="606.4" r="4.1"/><circle cx="487.1" cy="606.0" r="4.1"/><circle cx="486.5" cy="605.7" r="4.1"/><circle cx="485.3" cy="606.5" r="4.1"/><circle cx="485.7" cy="606.5" r="4.1"/><circle cx="484.5" cy="607.2" r="4.1"/><circle cx="485.2" cy="606.3" r="4.1"/><circle cx="484.4" cy="606.6" r="4.1"/><circle cx="484.0" cy="606.0" r="4.1"/><circle cx="478.6" cy="606.9" r="4.1"/><circle cx="477.8" cy="606.7" r="4.1"/><circle cx="477.0" cy="606.4" r="4.1"/><circle cx="476.3" cy="606.2" r="4.1"/><circle cx="476.7" cy="606.4" r="4.1"/><circle cx="475.5" cy="606.0" r="4.1"/><circle cx="475.3" cy="605.3" r="4.1"/><circle cx="476.7" cy="604.0" r="4.1"/><circle cx="475.1" cy="604.4" r="4.1"/><circle cx="475.1" cy="603.7" r="4.1"/><circle cx="476.1" cy="604.9" r="4.1"/><circle cx="475.0" cy="603.7" r="4.1"/><circle cx="475.2" cy="602.8" r="4.1"/><circle cx="474.1" cy="604.2" r="4.1"/><circle cx="473.8" cy="598.9" r="4.1"/><circle cx="474.2" cy="595.5" r="4.1"/><circle cx="473.2" cy="593.6" r="4.1"/><circle cx="472.8" cy="594.7" r="4.1"/><circle cx="474.1" cy="592.9" r="4.1"/><circle cx="474.0" cy="592.9" r="4.1"/><circle cx="473.3" cy="592.3" r="4.1"/><circle cx="474.3" cy="593.6" r="4.1"/><circle cx="473.1" cy="592.6" r="4.1"/><circle cx="473.2" cy="592.8" r="4.1"/><circle cx="473.1" cy="591.0" r="4.1"/><circle cx="474.7" cy="591.2" r="4.1"/><circle cx="475.3" cy="592.1" r="4.1"/><circle cx="475.2" cy="590.4" r="4.1"/><circle cx="475.4" cy="591.9" r="4.1"/><circle cx="475.2" cy="590.1" r="4.1"/><circle cx="475.1" cy="590.4" r="4.1"/><circle cx="476.4" cy="590.1" r="4.1"/><circle cx="479.4" cy="589.6" r="4.1"/><circle cx="484.4" cy="590.1" r="4.1"/><circle cx="484.2" cy="587.4" r="4.1"/><circle cx="484.0" cy="586.5" r="4.1"/><circle cx="478.0" cy="587.3" r="4.1"/><circle cx="479.2" cy="588.1" r="4.1"/><circle cx="477.6" cy="588.0" r="4.1"/><circle cx="476.9" cy="588.7" r="4.1"/><circle cx="477.3" cy="587.8" r="4.1"/><circle cx="473.2" cy="586.4" r="4.1"/><circle cx="469.1" cy="586.5" r="4.1"/><circle cx="468.1" cy="587.5" r="4.1"/><circle cx="467.5" cy="586.4" r="4.1"/><circle cx="468.6" cy="586.2" r="4.1"/><circle cx="463.4" cy="585.1" r="4.1"/><circle cx="458.9" cy="584.1" r="4.1"/><circle cx="460.3" cy="582.3" r="4.1"/><circle cx="452.8" cy="580.5" r="4.1"/><circle cx="448.2" cy="579.7" r="4.1"/><circle cx="443.9" cy="578.0" r="4.1"/><circle cx="439.5" cy="578.7" r="4.1"/><circle cx="438.9" cy="578.7" r="4.1"/><circle cx="439.4" cy="578.4" r="4.1"/><circle cx="432.5" cy="577.7" r="4.1"/><circle cx="430.4" cy="578.5" r="4.1"/><circle cx="441.9" cy="589.9" r="4.1"/><circle cx="441.6" cy="589.5" r="4.1"/><circle cx="441.3" cy="589.3" r="4.1"/><circle cx="441.1" cy="590.1" r="4.1"/><circle cx="441.9" cy="589.8" r="4.1"/><circle cx="440.9" cy="589.0" r="4.1"/><circle cx="441.0" cy="588.9" r="4.1"/><circle cx="441.8" cy="587.5" r="4.1"/><circle cx="442.2" cy="588.6" r="4.1"/><circle cx="442.4" cy="588.8" r="4.1"/><circle cx="441.9" cy="587.1" r="4.1"/><circle cx="441.8" cy="587.7" r="4.1"/><circle cx="442.9" cy="587.4" r="4.1"/><circle cx="442.9" cy="588.0" r="4.1"/><circle cx="442.8" cy="588.2" r="4.1"/><circle cx="444.1" cy="587.4" r="4.1"/><circle cx="444.9" cy="586.8" r="4.1"/><circle cx="443.9" cy="587.0" r="4.1"/><circle cx="444.0" cy="587.0" r="4.1"/><circle cx="449.8" cy="588.5" r="4.1"/><circle cx="453.8" cy="589.7" r="4.1"/><circle cx="453.7" cy="590.2" r="4.1"/><circle cx="454.2" cy="589.2" r="4.1"/><circle cx="454.5" cy="590.2" r="4.1"/><circle cx="456.1" cy="590.6" r="4.1"/><circle cx="454.8" cy="590.0" r="4.1"/><circle cx="455.6" cy="589.8" r="4.1"/><circle cx="457.0" cy="589.7" r="4.1"/><circle cx="456.2" cy="591.4" r="4.1"/><circle cx="457.4" cy="590.5" r="4.1"/><circle cx="456.4" cy="591.9" r="4.1"/><circle cx="455.7" cy="591.2" r="4.1"/><circle cx="459.1" cy="597.0" r="4.1"/><circle cx="458.2" cy="597.6" r="4.1"/><circle cx="458.3" cy="597.4" r="4.1"/><circle cx="457.5" cy="599.6" r="4.1"/><circle cx="459.0" cy="599.4" r="4.1"/><circle cx="457.8" cy="598.7" r="4.1"/><circle cx="458.4" cy="599.0" r="4.1"/><circle cx="458.1" cy="600.7" r="4.1"/><circle cx="457.8" cy="599.8" r="4.1"/><circle cx="458.9" cy="600.6" r="4.1"/><circle cx="456.8" cy="600.4" r="4.1"/><circle cx="457.8" cy="600.0" r="4.1"/><circle cx="457.0" cy="601.4" r="4.1"/><circle cx="457.8" cy="601.4" r="4.1"/><circle cx="457.5" cy="601.3" r="4.1"/><circle cx="456.3" cy="602.2" r="4.1"/><circle cx="455.9" cy="602.2" r="4.1"/><circle cx="455.3" cy="601.4" r="4.1"/><circle cx="448.9" cy="603.1" r="4.1"/><circle cx="448.6" cy="602.4" r="4.1"/><circle cx="448.4" cy="603.0" r="4.1"/><circle cx="448.2" cy="602.9" r="4.1"/><circle cx="449.3" cy="603.3" r="4.1"/><circle cx="448.8" cy="602.3" r="4.1"/><circle cx="447.5" cy="602.0" r="4.1"/><circle cx="447.9" cy="602.4" r="4.1"/><circle cx="446.8" cy="601.6" r="4.1"/><circle cx="446.3" cy="601.9" r="4.1"/><circle cx="446.5" cy="603.0" r="4.1"/><circle cx="442.5" cy="597.5" r="4.1"/><circle cx="441.6" cy="597.0" r="4.1"/><circle cx="442.5" cy="597.2" r="4.1"/><circle cx="442.0" cy="597.6" r="4.1"/><circle cx="442.1" cy="595.9" r="4.1"/><circle cx="440.8" cy="596.3" r="4.1"/><circle cx="440.3" cy="597.0" r="4.1"/><circle cx="440.7" cy="596.5" r="4.1"/><circle cx="441.1" cy="594.7" r="4.1"/></g>
<g fill="#3f5fa5"><circle cx="448.2" cy="593.1" r="2.0"/></g>
<g fill="#8fd2f2"><circle cx="448.9" cy="610.8" r="4.1"/><circle cx="502.3" cy="626.1" r="4.1"/><circle cx="506.1" cy="626.9" r="4.1"/><circle cx="486.6" cy="636.7" r="4.1"/><circle cx="544.2" cy="595.6" r="4.1"/></g>
<g fill="#93d5f5"><path d="M249.6,710.8 L248.1,726.9 L248.1,727.2 L248.0,727.5 L243.2,745.2 L243.1,745.5 L243.0,745.8 L242.8,746.1 L242.6,746.4 L242.4,746.6 L242.1,746.9 L241.9,747.1 L241.6,747.2 L241.3,747.4 L227.2,753.7 L216.2,761.5 L216.0,761.6 L215.7,761.8 L200.4,769.4 L192.9,780.0 L192.7,780.2 L192.5,780.4 L192.3,780.7 L192.0,780.8 L191.8,781.0 L191.5,781.1 L180.8,785.7 L173.8,792.8 L167.8,807.7 L166.3,822.6 L170.9,838.0 L171.0,838.4 L171.0,838.7 L171.1,839.0 L171.0,839.3 L171.0,839.6 L170.9,840.0 L168.0,850.3 L170.7,861.1 L180.9,868.4 L181.1,868.6 L181.4,868.8 L181.6,869.0 L181.8,869.3 L181.9,869.6 L182.1,869.9 L188.1,884.9 L199.6,892.1 L215.0,896.7 L230.5,899.8 L246.0,898.3 L246.3,898.2 L262.1,898.2 L277.7,895.1 L289.1,892.3 L294.6,882.5 L299.2,870.4 L300.7,854.9 L300.7,839.0 L300.8,838.7 L300.8,838.3 L300.9,838.0 L301.0,837.7 L305.7,826.8 L307.2,819.1 L307.3,818.7 L307.4,818.4 L307.6,818.1 L307.8,817.8 L308.0,817.5 L308.3,817.3 L308.5,817.0 L320.4,808.2 L323.3,794.9 L323.4,794.6 L323.5,794.3 L323.6,794.0 L323.8,793.8 L324.0,793.5 L324.2,793.3 L335.1,782.4 L339.4,773.7 L342.6,758.1 L345.7,742.2 L347.3,726.3 L347.3,726.2 L349.3,710.2 L349.3,709.8 L351.2,701.2 L349.1,695.3 L344.8,698.8 L344.5,699.0 L344.3,699.1 L344.0,699.3 L343.6,699.4 L343.3,699.5 L343.0,699.5 L342.7,699.5 L342.3,699.5 L334.4,698.7 L318.4,697.9 L318.2,697.9 L317.9,697.8 L301.9,694.6 L301.7,694.6 L289.5,691.5 L277.7,693.0 L267.3,697.5 L254.8,706.9 L249.6,710.8 Z " fill-rule="evenodd"/><circle cx="249.4" cy="710.2" r="4.3"/><circle cx="248.2" cy="715.5" r="4.3"/><circle cx="248.8" cy="720.6" r="4.3"/><circle cx="247.7" cy="726.8" r="4.3"/><circle cx="248.2" cy="726.5" r="4.3"/><circle cx="248.4" cy="727.0" r="4.3"/><circle cx="247.3" cy="732.3" r="4.3"/><circle cx="244.9" cy="735.8" r="4.3"/><circle cx="244.0" cy="741.2" r="4.3"/><circle cx="243.0" cy="745.0" r="4.3"/><circle cx="243.8" cy="744.9" r="4.3"/><circle cx="242.5" cy="745.5" r="4.3"/><circle cx="242.2" cy="745.2" r="4.3"/><circle cx="241.7" cy="746.6" r="4.3"/><circle cx="242.5" cy="747.2" r="4.3"/><circle cx="243.1" cy="746.5" r="4.3"/><circle cx="242.2" cy="747.9" r="4.3"/><circle cx="241.0" cy="747.6" r="4.3"/><circle cx="241.6" cy="748.3" r="4.3"/><circle cx="237.3" cy="749.0" r="4.3"/><circle cx="232.1" cy="750.8" r="4.3"/><circle cx="227.0" cy="753.5" r="4.3"/><circle cx="222.6" cy="756.0" r="4.3"/><circle cx="219.5" cy="758.9" r="4.3"/><circle cx="215.8" cy="760.8" r="4.3"/><circle cx="215.8" cy="761.6" r="4.3"/><circle cx="215.1" cy="762.1" r="4.3"/><circle cx="210.1" cy="763.5" r="4.3"/><circle cx="205.2" cy="766.7" r="4.3"/><circle cx="199.7" cy="769.6" r="4.3"/><circle cx="198.3" cy="773.1" r="4.3"/><circle cx="195.8" cy="775.5" r="4.3"/><circle cx="192.7" cy="779.7" r="4.3"/><circle cx="191.8" cy="780.0" r="4.3"/><circle cx="191.6" cy="780.4" r="4.3"/><circle cx="192.4" cy="780.6" r="4.3"/><circle cx="191.7" cy="780.3" r="4.3"/><circle cx="190.8" cy="780.7" r="4.3"/><circle cx="192.3" cy="781.3" r="4.3"/><circle cx="185.7" cy="783.7" r="4.3"/><circle cx="180.2" cy="785.6" r="4.3"/><circle cx="177.5" cy="790.1" r="4.3"/><circle cx="173.5" cy="792.9" r="4.3"/><circle cx="172.7" cy="798.3" r="4.3"/><circle cx="170.0" cy="803.0" r="4.3"/><circle cx="167.6" cy="807.6" r="4.3"/><circle cx="166.8" cy="813.3" r="4.3"/><circle cx="167.6" cy="817.4" r="4.3"/><circle cx="167.1" cy="821.7" r="4.3"/><circle cx="167.1" cy="827.8" r="4.3"/><circle cx="169.0" cy="832.6" r="4.3"/><circle cx="171.9" cy="837.3" r="4.3"/><circle cx="170.4" cy="837.8" r="4.3"/><circle cx="171.4" cy="838.1" r="4.3"/><circle cx="170.1" cy="839.1" r="4.3"/><circle cx="170.8" cy="838.8" r="4.3"/><circle cx="171.0" cy="839.9" r="4.3"/><circle cx="171.0" cy="840.2" r="4.3"/><circle cx="169.6" cy="845.8" r="4.3"/><circle cx="168.9" cy="850.0" r="4.3"/><circle cx="169.0" cy="856.5" r="4.3"/><circle cx="170.3" cy="861.5" r="4.3"/><circle cx="174.5" cy="863.9" r="4.3"/><circle cx="178.4" cy="866.6" r="4.3"/><circle cx="180.2" cy="868.6" r="4.3"/><circle cx="181.1" cy="868.7" r="4.3"/><circle cx="181.1" cy="868.4" r="4.3"/><circle cx="182.1" cy="869.1" r="4.3"/><circle cx="181.2" cy="868.8" r="4.3"/><circle cx="181.6" cy="868.9" r="4.3"/><circle cx="182.1" cy="869.1" r="4.3"/><circle cx="183.2" cy="874.0" r="4.3"/><circle cx="185.3" cy="880.3" r="4.3"/><circle cx="187.3" cy="884.8" r="4.3"/><circle cx="192.5" cy="887.3" r="4.3"/><circle cx="195.1" cy="890.4" r="4.3"/><circle cx="200.3" cy="891.2" r="4.3"/><circle cx="204.2" cy="893.7" r="4.3"/><circle cx="210.5" cy="895.0" r="4.3"/><circle cx="215.5" cy="896.2" r="4.3"/><circle cx="220.6" cy="897.4" r="4.3"/><circle cx="225.0" cy="899.3" r="4.3"/><circle cx="231.1" cy="900.5" r="4.3"/><circle cx="235.8" cy="899.1" r="4.3"/><circle cx="241.2" cy="899.0" r="4.3"/><circle cx="246.7" cy="898.9" r="4.3"/><circle cx="245.6" cy="898.0" r="4.3"/><circle cx="251.9" cy="897.7" r="4.3"/><circle cx="256.2" cy="897.3" r="4.3"/><circle cx="262.2" cy="899.1" r="4.3"/><circle cx="268.2" cy="896.5" r="4.3"/><circle cx="272.9" cy="896.0" r="4.3"/><circle cx="278.0" cy="894.9" r="4.3"/><circle cx="284.3" cy="894.7" r="4.3"/><circle cx="288.2" cy="892.7" r="4.3"/><circle cx="291.1" cy="886.5" r="4.3"/><circle cx="294.2" cy="883.0" r="4.3"/><circle cx="297.1" cy="877.7" r="4.3"/><circle cx="297.3" cy="873.5" r="4.3"/><circle cx="299.3" cy="870.3" r="4.3"/><circle cx="299.5" cy="864.8" r="4.3"/><circle cx="300.8" cy="860.7" r="4.3"/><circle cx="300.3" cy="854.7" r="4.3"/><circle cx="301.0" cy="850.1" r="4.3"/><circle cx="301.7" cy="844.1" r="4.3"/><circle cx="301.1" cy="839.1" r="4.3"/><circle cx="301.4" cy="838.0" r="4.3"/><circle cx="300.2" cy="837.5" r="4.3"/><circle cx="301.8" cy="837.5" r="4.3"/><circle cx="301.0" cy="836.9" r="4.3"/><circle cx="303.0" cy="831.3" r="4.3"/><circle cx="305.8" cy="826.1" r="4.3"/><circle cx="306.7" cy="822.5" r="4.3"/><circle cx="306.7" cy="819.0" r="4.3"/><circle cx="307.1" cy="818.3" r="4.3"/><circle cx="306.5" cy="817.5" r="4.3"/><circle cx="308.4" cy="817.7" r="4.3"/><circle cx="306.9" cy="817.2" r="4.3"/><circle cx="308.0" cy="818.5" r="4.3"/><circle cx="307.7" cy="818.0" r="4.3"/><circle cx="308.5" cy="816.9" r="4.3"/><circle cx="313.1" cy="813.9" r="4.3"/><circle cx="315.5" cy="811.2" r="4.3"/><circle cx="320.7" cy="808.4" r="4.3"/><circle cx="320.9" cy="804.6" r="4.3"/><circle cx="323.1" cy="800.3" r="4.3"/><circle cx="323.2" cy="795.6" r="4.3"/><circle cx="323.8" cy="794.0" r="4.3"/><circle cx="322.6" cy="793.7" r="4.3"/><circle cx="322.9" cy="793.2" r="4.3"/><circle cx="323.5" cy="794.3" r="4.3"/><circle cx="323.6" cy="793.5" r="4.3"/><circle cx="323.2" cy="792.7" r="4.3"/><circle cx="328.8" cy="788.7" r="4.3"/><circle cx="331.5" cy="786.6" r="4.3"/><circle cx="335.7" cy="782.9" r="4.3"/><circle cx="337.0" cy="778.7" r="4.3"/><circle cx="340.1" cy="774.2" r="4.3"/><circle cx="341.4" cy="767.7" r="4.3"/><circle cx="342.4" cy="763.1" r="4.3"/><circle cx="343.0" cy="757.6" r="4.3"/><circle cx="344.4" cy="751.8" r="4.3"/><circle cx="344.8" cy="746.9" r="4.3"/><circle cx="345.5" cy="741.9" r="4.3"/><circle cx="346.6" cy="737.5" r="4.3"/><circle cx="346.5" cy="731.9" r="4.3"/><circle cx="347.0" cy="725.8" r="4.3"/><circle cx="348.1" cy="725.9" r="4.3"/><circle cx="347.2" cy="720.5" r="4.3"/><circle cx="349.1" cy="714.9" r="4.3"/><circle cx="349.7" cy="710.3" r="4.3"/><circle cx="349.7" cy="709.2" r="4.3"/><circle cx="349.5" cy="704.8" r="4.3"/><circle cx="350.9" cy="701.0" r="4.3"/><circle cx="348.1" cy="695.3" r="4.3"/><circle cx="344.6" cy="698.4" r="4.3"/><circle cx="344.6" cy="699.9" r="4.3"/><circle cx="343.7" cy="699.9" r="4.3"/><circle cx="343.6" cy="699.8" r="4.3"/><circle cx="342.9" cy="700.3" r="4.3"/><circle cx="343.2" cy="700.4" r="4.3"/><circle cx="342.4" cy="699.3" r="4.3"/><circle cx="343.1" cy="698.9" r="4.3"/><circle cx="341.9" cy="699.9" r="4.3"/><circle cx="339.3" cy="698.7" r="4.3"/><circle cx="333.8" cy="698.4" r="4.3"/><circle cx="330.1" cy="697.7" r="4.3"/><circle cx="324.0" cy="697.9" r="4.3"/><circle cx="318.7" cy="697.3" r="4.3"/><circle cx="318.4" cy="698.7" r="4.3"/><circle cx="318.6" cy="698.1" r="4.3"/><circle cx="312.6" cy="696.9" r="4.3"/><circle cx="306.5" cy="696.4" r="4.3"/><circle cx="302.2" cy="694.5" r="4.3"/><circle cx="302.0" cy="694.4" r="4.3"/><circle cx="297.4" cy="693.0" r="4.3"/><circle cx="293.8" cy="692.7" r="4.3"/><circle cx="289.5" cy="690.6" r="4.3"/><circle cx="283.9" cy="692.2" r="4.3"/><circle cx="277.9" cy="693.2" r="4.3"/><circle cx="273.4" cy="694.5" r="4.3"/><circle cx="267.3" cy="698.5" r="4.3"/><circle cx="263.6" cy="700.2" r="4.3"/><circle cx="259.4" cy="704.7" r="4.3"/><circle cx="254.6" cy="707.6" r="4.3"/></g>
<g fill="#fff"><circle cx="286.5" cy="753.9" r="1.0"/><circle cx="300.9" cy="755.5" r="2.0"/><circle cx="321.8" cy="758.7" r="1.4"/><circle cx="175.7" cy="819.7" r="1.2"/><circle cx="170.9" cy="842.2" r="1.8"/><circle cx="225.5" cy="765.2" r="1.6"/><circle cx="262.4" cy="723.4" r="1.9"/><circle cx="288.1" cy="720.2" r="1.8"/><circle cx="313.8" cy="707.4" r="1.8"/><circle cx="246.3" cy="750.7" r="1.5"/><circle cx="206.2" cy="782.8" r="2.0"/><circle cx="190.1" cy="798.9" r="1.0"/><circle cx="219.0" cy="798.9" r="1.9"/><circle cx="268.8" cy="829.4" r="1.7"/><circle cx="239.9" cy="855.1" r="1.2"/><circle cx="211.0" cy="837.4" r="1.8"/><circle cx="227.1" cy="869.5" r="1.4"/><circle cx="262.4" cy="864.7" r="1.5"/><circle cx="297.7" cy="816.5" r="1.9"/><circle cx="272.0" cy="790.8" r="1.1"/><circle cx="252.8" cy="816.5" r="1.2"/><circle cx="310.6" cy="739.5" r="1.6"/><circle cx="292.9" cy="770.0" r="1.0"/><circle cx="198.2" cy="855.1" r="1.5"/><circle cx="182.1" cy="814.9" r="1.8"/><circle cx="283.3" cy="739.5" r="1.4"/></g>
<g fill="#93d5f5"><circle cx="236.7" cy="736.3" r="4.3"/><circle cx="307.4" cy="832.6" r="4.3"/></g>
<g fill="#5576b6"><path d="M336.3,564.6 L314.8,589.0 L306.9,600.1 L301.0,609.0 L299.5,622.2 L301.1,633.0 L301.1,633.4 L301.1,633.7 L301.1,634.0 L301.0,634.4 L300.9,634.7 L300.8,635.0 L298.0,640.5 L299.5,652.3 L299.5,652.7 L299.5,653.0 L299.5,653.3 L299.4,653.7 L299.3,654.0 L299.2,654.3 L294.3,663.9 L294.2,664.1 L289.4,672.2 L289.2,672.5 L289.0,672.7 L288.8,672.9 L288.5,673.2 L288.2,673.3 L281.6,677.3 L281.3,679.8 L284.5,681.6 L291.9,683.1 L301.2,684.7 L310.6,684.7 L310.9,684.7 L311.3,684.8 L311.6,684.9 L321.3,688.1 L321.6,688.2 L321.9,688.4 L322.2,688.5 L322.5,688.8 L322.7,689.0 L322.9,689.3 L323.1,689.5 L326.9,695.9 L334.1,695.9 L346.0,692.2 L352.6,687.6 L355.5,677.5 L355.5,677.4 L358.7,667.9 L364.9,642.9 L363.4,630.7 L363.4,630.4 L363.4,630.0 L363.4,629.7 L363.5,629.3 L363.6,629.0 L367.2,620.4 L365.1,611.8 L365.0,611.5 L365.0,611.2 L365.0,610.8 L365.0,610.5 L365.1,610.2 L367.5,600.6 L367.6,600.2 L367.7,599.9 L367.9,599.6 L368.1,599.3 L368.3,599.1 L368.5,598.8 L368.8,598.6 L369.1,598.4 L369.4,598.3 L369.7,598.2 L370.0,598.1 L370.4,598.0 L370.7,598.0 L371.0,598.0 L371.4,598.0 L378.6,599.4 L381.0,597.3 L378.6,592.5 L370.6,587.4 L370.4,587.3 L361.6,580.8 L361.3,580.6 L361.0,580.4 L360.8,580.1 L360.6,579.8 L360.5,579.5 L356.0,569.9 L348.1,563.9 L336.3,564.6 Z " fill-rule="evenodd"/><circle cx="335.8" cy="565.2" r="4.3"/><circle cx="333.9" cy="568.6" r="4.3"/><circle cx="330.2" cy="572.4" r="4.3"/><circle cx="327.7" cy="574.4" r="4.3"/><circle cx="323.8" cy="577.7" r="4.3"/><circle cx="320.0" cy="581.7" r="4.3"/><circle cx="318.6" cy="586.2" r="4.3"/><circle cx="314.1" cy="588.4" r="4.3"/><circle cx="312.0" cy="593.4" r="4.3"/><circle cx="309.8" cy="597.2" r="4.3"/><circle cx="306.1" cy="601.1" r="4.3"/><circle cx="303.4" cy="604.8" r="4.3"/><circle cx="301.8" cy="609.5" r="4.3"/><circle cx="299.9" cy="613.7" r="4.3"/><circle cx="299.9" cy="616.8" r="4.3"/><circle cx="299.2" cy="621.8" r="4.3"/><circle cx="300.6" cy="627.2" r="4.3"/><circle cx="301.3" cy="633.4" r="4.3"/><circle cx="300.5" cy="632.6" r="4.3"/><circle cx="301.5" cy="633.6" r="4.3"/><circle cx="300.3" cy="633.3" r="4.3"/><circle cx="301.9" cy="634.6" r="4.3"/><circle cx="300.6" cy="634.1" r="4.3"/><circle cx="301.8" cy="635.4" r="4.3"/><circle cx="298.5" cy="640.2" r="4.3"/><circle cx="298.4" cy="646.2" r="4.3"/><circle cx="298.8" cy="652.6" r="4.3"/><circle cx="299.4" cy="653.3" r="4.3"/><circle cx="299.3" cy="652.9" r="4.3"/><circle cx="299.5" cy="654.2" r="4.3"/><circle cx="299.1" cy="654.1" r="4.3"/><circle cx="298.8" cy="654.1" r="4.3"/><circle cx="298.7" cy="655.0" r="4.3"/><circle cx="296.3" cy="659.8" r="4.3"/><circle cx="294.7" cy="663.8" r="4.3"/><circle cx="295.1" cy="663.9" r="4.3"/><circle cx="292.3" cy="668.4" r="4.3"/><circle cx="289.3" cy="671.3" r="4.3"/><circle cx="289.0" cy="672.0" r="4.3"/><circle cx="288.9" cy="673.6" r="4.3"/><circle cx="288.3" cy="673.3" r="4.3"/><circle cx="288.9" cy="672.6" r="4.3"/><circle cx="288.1" cy="672.6" r="4.3"/><circle cx="285.7" cy="674.8" r="4.3"/><circle cx="281.5" cy="677.0" r="4.3"/><circle cx="281.9" cy="680.5" r="4.3"/><circle cx="284.7" cy="681.7" r="4.3"/><circle cx="287.4" cy="683.2" r="4.3"/><circle cx="291.1" cy="682.9" r="4.3"/><circle cx="296.3" cy="684.4" r="4.3"/><circle cx="301.6" cy="684.4" r="4.3"/><circle cx="306.7" cy="685.6" r="4.3"/><circle cx="309.6" cy="685.0" r="4.3"/><circle cx="310.9" cy="684.4" r="4.3"/><circle cx="311.2" cy="684.4" r="4.3"/><circle cx="312.0" cy="685.1" r="4.3"/><circle cx="317.4" cy="687.4" r="4.3"/><circle cx="322.3" cy="687.9" r="4.3"/><circle cx="322.3" cy="688.5" r="4.3"/><circle cx="322.3" cy="689.3" r="4.3"/><circle cx="321.3" cy="688.5" r="4.3"/><circle cx="322.3" cy="689.1" r="4.3"/><circle cx="322.1" cy="690.0" r="4.3"/><circle cx="322.3" cy="689.0" r="4.3"/><circle cx="322.4" cy="689.3" r="4.3"/><circle cx="327.4" cy="695.1" r="4.3"/><circle cx="333.5" cy="696.2" r="4.3"/><circle cx="340.3" cy="694.6" r="4.3"/><circle cx="345.5" cy="692.8" r="4.3"/><circle cx="349.7" cy="690.5" r="4.3"/><circle cx="351.8" cy="687.5" r="4.3"/><circle cx="353.1" cy="683.3" r="4.3"/><circle cx="356.4" cy="678.3" r="4.3"/><circle cx="354.6" cy="677.1" r="4.3"/><circle cx="357.2" cy="672.7" r="4.3"/><circle cx="357.9" cy="668.4" r="4.3"/><circle cx="359.5" cy="662.9" r="4.3"/><circle cx="360.4" cy="658.0" r="4.3"/><circle cx="361.7" cy="652.1" r="4.3"/><circle cx="363.7" cy="647.5" r="4.3"/><circle cx="365.5" cy="642.4" r="4.3"/><circle cx="364.0" cy="635.9" r="4.3"/><circle cx="362.8" cy="630.6" r="4.3"/><circle cx="363.5" cy="630.3" r="4.3"/><circle cx="364.1" cy="629.2" r="4.3"/><circle cx="364.1" cy="629.0" r="4.3"/><circle cx="364.4" cy="629.4" r="4.3"/><circle cx="363.4" cy="629.2" r="4.3"/><circle cx="366.1" cy="625.6" r="4.3"/><circle cx="367.0" cy="619.4" r="4.3"/><circle cx="365.4" cy="616.7" r="4.3"/><circle cx="365.5" cy="612.3" r="4.3"/><circle cx="364.3" cy="611.6" r="4.3"/><circle cx="364.0" cy="610.4" r="4.3"/><circle cx="364.6" cy="611.8" r="4.3"/><circle cx="365.3" cy="611.2" r="4.3"/><circle cx="364.2" cy="610.0" r="4.3"/><circle cx="365.4" cy="604.9" r="4.3"/><circle cx="366.7" cy="601.4" r="4.3"/><circle cx="367.2" cy="600.2" r="4.3"/><circle cx="368.0" cy="600.7" r="4.3"/><circle cx="368.8" cy="599.8" r="4.3"/><circle cx="368.1" cy="600.1" r="4.3"/><circle cx="368.1" cy="598.7" r="4.3"/><circle cx="369.0" cy="598.3" r="4.3"/><circle cx="368.5" cy="598.5" r="4.3"/><circle cx="369.0" cy="598.2" r="4.3"/><circle cx="369.2" cy="598.2" r="4.3"/><circle cx="368.8" cy="598.8" r="4.3"/><circle cx="369.2" cy="598.1" r="4.3"/><circle cx="370.5" cy="597.8" r="4.3"/><circle cx="370.2" cy="597.2" r="4.3"/><circle cx="370.8" cy="597.6" r="4.3"/><circle cx="371.4" cy="597.5" r="4.3"/><circle cx="379.1" cy="599.3" r="4.3"/><circle cx="380.0" cy="597.1" r="4.3"/><circle cx="379.5" cy="591.5" r="4.3"/><circle cx="374.8" cy="590.9" r="4.3"/><circle cx="370.3" cy="587.6" r="4.3"/><circle cx="370.1" cy="586.9" r="4.3"/><circle cx="366.2" cy="584.2" r="4.3"/><circle cx="361.2" cy="580.8" r="4.3"/><circle cx="361.3" cy="581.1" r="4.3"/><circle cx="360.1" cy="579.6" r="4.3"/><circle cx="360.3" cy="579.7" r="4.3"/><circle cx="361.2" cy="579.7" r="4.3"/><circle cx="361.2" cy="579.3" r="4.3"/><circle cx="357.8" cy="575.1" r="4.3"/><circle cx="355.2" cy="570.8" r="4.3"/><circle cx="352.7" cy="566.5" r="4.3"/><circle cx="347.7" cy="564.5" r="4.3"/><circle cx="342.7" cy="564.5" r="4.3"/></g>
<g fill="#93d5f5"><circle cx="294.5" cy="633.5" r="4.3"/><circle cx="297.7" cy="642.3" r="4.3"/><circle cx="286.5" cy="672.0" r="4.3"/><circle cx="304.1" cy="668.8" r="4.3"/><circle cx="308.2" cy="676.0" r="4.3"/><circle cx="328.2" cy="670.4" r="4.3"/><circle cx="350.7" cy="688.1" r="4.3"/><circle cx="317.0" cy="665.6" r="4.3"/><circle cx="300.9" cy="691.3" r="4.3"/><circle cx="310.6" cy="694.5" r="4.3"/><circle cx="320.2" cy="700.9" r="4.3"/><circle cx="334.6" cy="704.1" r="4.3"/><circle cx="348.3" cy="698.5" r="4.3"/></g>
<g fill="#5576b6"><circle cx="299.3" cy="706.6" r="4.3"/><circle cx="317.0" cy="681.7" r="4.3"/><circle cx="281.7" cy="678.5" r="4.3"/><circle cx="291.3" cy="681.7" r="4.3"/></g>
<g fill="#fff"><circle cx="334.6" cy="638.3" r="1.1"/><circle cx="347.5" cy="654.4" r="1.8"/><circle cx="326.6" cy="683.3" r="1.0"/><circle cx="313.8" cy="689.7" r="1.6"/></g>
<g fill="#93d5f5"><path d="M647.3,705.0 L641.4,721.2 L638.2,735.4 L638.1,735.7 L638.0,736.0 L637.9,736.3 L637.7,736.6 L637.5,736.9 L637.2,737.1 L637.0,737.3 L636.7,737.5 L636.4,737.7 L636.1,737.8 L624.0,742.4 L614.8,751.5 L614.6,751.7 L614.4,751.9 L603.8,759.5 L596.1,773.2 L596.0,773.5 L595.8,773.7 L595.6,774.0 L595.4,774.2 L595.1,774.4 L594.9,774.5 L583.8,780.8 L574.6,788.2 L565.6,797.6 L561.1,808.4 L558.0,819.4 L556.4,830.5 L556.4,845.6 L559.4,857.6 L567.0,869.8 L579.5,882.4 L590.1,891.9 L602.0,895.9 L617.4,898.7 L633.0,897.3 L648.9,895.8 L664.5,893.1 L679.7,887.6 L688.4,879.8 L692.3,872.8 L689.4,859.7 L689.3,859.4 L689.3,859.1 L689.3,858.8 L689.4,858.5 L689.4,858.2 L689.5,857.9 L694.3,843.5 L694.4,843.2 L697.6,836.0 L697.7,836.0 L702.5,825.9 L702.7,825.6 L702.9,825.3 L703.1,825.1 L703.3,824.8 L703.6,824.6 L710.9,819.4 L715.3,810.1 L715.5,809.8 L715.7,809.5 L725.3,796.6 L725.5,796.3 L725.8,796.1 L734.7,788.1 L739.2,773.9 L742.3,758.6 L740.7,743.0 L740.7,742.7 L740.7,742.3 L742.3,726.3 L742.3,726.2 L744.1,711.1 L741.8,705.5 L741.7,705.2 L741.6,704.9 L741.5,704.6 L741.5,704.3 L741.5,704.0 L741.7,699.7 L739.0,704.3 L738.8,704.6 L738.6,704.8 L738.4,705.1 L738.1,705.3 L737.8,705.5 L737.5,705.6 L737.2,705.7 L736.9,705.8 L730.5,707.4 L730.0,707.5 L713.9,709.1 L713.6,709.1 L713.3,709.1 L697.2,707.5 L696.9,707.5 L696.6,707.4 L680.6,702.6 L666.9,699.6 L655.2,701.0 L647.3,705.0 Z " fill-rule="evenodd"/><circle cx="647.4" cy="705.8" r="4.3"/><circle cx="645.6" cy="709.4" r="4.3"/><circle cx="644.2" cy="716.3" r="4.3"/><circle cx="641.6" cy="720.2" r="4.3"/><circle cx="640.8" cy="725.7" r="4.3"/><circle cx="639.6" cy="731.6" r="4.3"/><circle cx="639.1" cy="734.5" r="4.3"/><circle cx="638.7" cy="735.6" r="4.3"/><circle cx="638.5" cy="735.8" r="4.3"/><circle cx="637.8" cy="736.2" r="4.3"/><circle cx="636.9" cy="736.3" r="4.3"/><circle cx="638.0" cy="736.0" r="4.3"/><circle cx="636.5" cy="737.8" r="4.3"/><circle cx="637.3" cy="737.4" r="4.3"/><circle cx="635.9" cy="736.8" r="4.3"/><circle cx="636.0" cy="738.6" r="4.3"/><circle cx="636.2" cy="738.7" r="4.3"/><circle cx="631.5" cy="739.2" r="4.3"/><circle cx="628.1" cy="741.6" r="4.3"/><circle cx="623.2" cy="743.1" r="4.3"/><circle cx="620.9" cy="744.5" r="4.3"/><circle cx="617.7" cy="748.2" r="4.3"/><circle cx="615.2" cy="752.4" r="4.3"/><circle cx="614.6" cy="752.1" r="4.3"/><circle cx="614.2" cy="752.4" r="4.3"/><circle cx="610.1" cy="754.9" r="4.3"/><circle cx="606.7" cy="757.1" r="4.3"/><circle cx="603.2" cy="759.1" r="4.3"/><circle cx="600.6" cy="763.7" r="4.3"/><circle cx="598.9" cy="768.7" r="4.3"/><circle cx="595.9" cy="773.4" r="4.3"/><circle cx="596.7" cy="773.2" r="4.3"/><circle cx="596.0" cy="773.7" r="4.3"/><circle cx="596.5" cy="773.6" r="4.3"/><circle cx="595.8" cy="773.6" r="4.3"/><circle cx="594.6" cy="774.8" r="4.3"/><circle cx="595.0" cy="774.0" r="4.3"/><circle cx="590.3" cy="777.3" r="4.3"/><circle cx="587.3" cy="779.2" r="4.3"/><circle cx="583.7" cy="781.1" r="4.3"/><circle cx="579.3" cy="785.5" r="4.3"/><circle cx="575.4" cy="788.1" r="4.3"/><circle cx="571.6" cy="790.8" r="4.3"/><circle cx="569.1" cy="793.7" r="4.3"/><circle cx="565.2" cy="798.3" r="4.3"/><circle cx="562.4" cy="803.4" r="4.3"/><circle cx="561.2" cy="808.5" r="4.3"/><circle cx="559.2" cy="813.2" r="4.3"/><circle cx="558.9" cy="820.0" r="4.3"/><circle cx="557.8" cy="824.2" r="4.3"/><circle cx="557.0" cy="829.9" r="4.3"/><circle cx="555.8" cy="835.6" r="4.3"/><circle cx="556.6" cy="839.8" r="4.3"/><circle cx="557.0" cy="845.8" r="4.3"/><circle cx="558.7" cy="852.5" r="4.3"/><circle cx="559.8" cy="857.4" r="4.3"/><circle cx="562.8" cy="862.1" r="4.3"/><circle cx="564.0" cy="866.5" r="4.3"/><circle cx="567.4" cy="869.3" r="4.3"/><circle cx="569.6" cy="872.0" r="4.3"/><circle cx="573.3" cy="875.6" r="4.3"/><circle cx="575.9" cy="878.7" r="4.3"/><circle cx="578.7" cy="882.4" r="4.3"/><circle cx="582.5" cy="885.1" r="4.3"/><circle cx="586.1" cy="888.8" r="4.3"/><circle cx="590.8" cy="891.2" r="4.3"/><circle cx="594.8" cy="894.0" r="4.3"/><circle cx="598.3" cy="894.7" r="4.3"/><circle cx="602.5" cy="896.0" r="4.3"/><circle cx="607.5" cy="897.7" r="4.3"/><circle cx="612.8" cy="897.3" r="4.3"/><circle cx="616.5" cy="899.5" r="4.3"/><circle cx="622.3" cy="898.8" r="4.3"/><circle cx="627.3" cy="897.6" r="4.3"/><circle cx="632.7" cy="897.7" r="4.3"/><circle cx="639.2" cy="896.8" r="4.3"/><circle cx="643.7" cy="896.0" r="4.3"/><circle cx="648.4" cy="896.7" r="4.3"/><circle cx="653.3" cy="895.8" r="4.3"/><circle cx="659.6" cy="893.1" r="4.3"/><circle cx="665.3" cy="892.3" r="4.3"/><circle cx="669.7" cy="890.5" r="4.3"/><circle cx="675.6" cy="889.1" r="4.3"/><circle cx="680.5" cy="886.7" r="4.3"/><circle cx="684.4" cy="882.9" r="4.3"/><circle cx="687.5" cy="880.0" r="4.3"/><circle cx="691.3" cy="876.7" r="4.3"/><circle cx="693.0" cy="873.4" r="4.3"/><circle cx="691.4" cy="867.6" r="4.3"/><circle cx="690.4" cy="863.5" r="4.3"/><circle cx="689.5" cy="859.4" r="4.3"/><circle cx="689.3" cy="858.8" r="4.3"/><circle cx="689.7" cy="858.9" r="4.3"/><circle cx="689.3" cy="858.0" r="4.3"/><circle cx="689.3" cy="858.6" r="4.3"/><circle cx="690.4" cy="858.3" r="4.3"/><circle cx="688.8" cy="857.5" r="4.3"/><circle cx="690.8" cy="853.5" r="4.3"/><circle cx="693.6" cy="849.3" r="4.3"/><circle cx="695.2" cy="844.4" r="4.3"/><circle cx="695.2" cy="844.1" r="4.3"/><circle cx="695.1" cy="839.6" r="4.3"/><circle cx="697.8" cy="836.4" r="4.3"/><circle cx="697.9" cy="836.2" r="4.3"/><circle cx="701.0" cy="830.1" r="4.3"/><circle cx="702.5" cy="826.8" r="4.3"/><circle cx="701.7" cy="824.8" r="4.3"/><circle cx="703.6" cy="826.2" r="4.3"/><circle cx="702.1" cy="824.1" r="4.3"/><circle cx="704.0" cy="825.2" r="4.3"/><circle cx="703.6" cy="824.8" r="4.3"/><circle cx="707.8" cy="822.6" r="4.3"/><circle cx="709.9" cy="818.5" r="4.3"/><circle cx="713.7" cy="815.7" r="4.3"/><circle cx="716.0" cy="809.9" r="4.3"/><circle cx="715.2" cy="809.5" r="4.3"/><circle cx="714.7" cy="810.1" r="4.3"/><circle cx="718.4" cy="805.4" r="4.3"/><circle cx="722.2" cy="800.6" r="4.3"/><circle cx="725.7" cy="796.5" r="4.3"/><circle cx="725.0" cy="797.1" r="4.3"/><circle cx="725.1" cy="795.4" r="4.3"/><circle cx="729.8" cy="792.1" r="4.3"/><circle cx="735.3" cy="787.8" r="4.3"/><circle cx="735.7" cy="783.7" r="4.3"/><circle cx="737.2" cy="778.7" r="4.3"/><circle cx="738.7" cy="774.7" r="4.3"/><circle cx="739.6" cy="768.3" r="4.3"/><circle cx="740.9" cy="763.4" r="4.3"/><circle cx="742.7" cy="758.9" r="4.3"/><circle cx="742.3" cy="753.5" r="4.3"/><circle cx="740.4" cy="748.7" r="4.3"/><circle cx="740.2" cy="742.5" r="4.3"/><circle cx="740.5" cy="743.7" r="4.3"/><circle cx="740.5" cy="742.1" r="4.3"/><circle cx="742.1" cy="738.0" r="4.3"/><circle cx="741.6" cy="730.9" r="4.3"/><circle cx="742.9" cy="726.8" r="4.3"/><circle cx="742.0" cy="726.8" r="4.3"/><circle cx="742.7" cy="720.7" r="4.3"/><circle cx="743.7" cy="716.6" r="4.3"/><circle cx="744.1" cy="711.7" r="4.3"/><circle cx="740.8" cy="705.5" r="4.3"/><circle cx="741.4" cy="704.3" r="4.3"/><circle cx="742.4" cy="704.2" r="4.3"/><circle cx="740.9" cy="705.3" r="4.3"/><circle cx="742.4" cy="705.1" r="4.3"/><circle cx="741.2" cy="704.8" r="4.3"/><circle cx="741.0" cy="700.2" r="4.3"/><circle cx="739.9" cy="703.7" r="4.3"/><circle cx="738.1" cy="704.9" r="4.3"/><circle cx="739.4" cy="705.3" r="4.3"/><circle cx="739.3" cy="705.0" r="4.3"/><circle cx="737.8" cy="704.5" r="4.3"/><circle cx="737.4" cy="706.3" r="4.3"/><circle cx="736.7" cy="705.0" r="4.3"/><circle cx="736.9" cy="704.8" r="4.3"/><circle cx="736.5" cy="705.2" r="4.3"/><circle cx="729.7" cy="707.5" r="4.3"/><circle cx="730.1" cy="707.7" r="4.3"/><circle cx="725.2" cy="708.1" r="4.3"/><circle cx="720.2" cy="707.8" r="4.3"/><circle cx="713.4" cy="708.3" r="4.3"/><circle cx="713.2" cy="709.7" r="4.3"/><circle cx="714.1" cy="709.1" r="4.3"/><circle cx="707.2" cy="708.3" r="4.3"/><circle cx="702.7" cy="707.6" r="4.3"/><circle cx="697.8" cy="708.5" r="4.3"/><circle cx="696.8" cy="707.7" r="4.3"/><circle cx="697.3" cy="707.3" r="4.3"/><circle cx="690.6" cy="706.7" r="4.3"/><circle cx="686.9" cy="703.3" r="4.3"/><circle cx="681.1" cy="702.4" r="4.3"/><circle cx="675.1" cy="700.9" r="4.3"/><circle cx="670.8" cy="701.1" r="4.3"/><circle cx="666.3" cy="698.6" r="4.3"/><circle cx="660.5" cy="700.9" r="4.3"/><circle cx="655.2" cy="701.3" r="4.3"/><circle cx="651.2" cy="702.4" r="4.3"/></g>
<g fill="#fff"><circle cx="607.6" cy="768.4" r="0.8"/><circle cx="684.7" cy="726.6" r="1.0"/><circle cx="708.8" cy="721.8" r="0.8"/><circle cx="734.5" cy="712.2" r="1.0"/><circle cx="659.0" cy="900.0" r="1.3"/><circle cx="686.3" cy="827.8" r="1.1"/><circle cx="708.8" cy="790.8" r="1.2"/></g>
<g fill="#93d5f5"><circle cx="726.4" cy="794.1" r="4.3"/><circle cx="705.6" cy="832.6" r="4.3"/></g>
<g fill="#5576b6"><path d="M728.4,568.8 L717.9,577.9 L711.7,588.6 L711.6,588.9 L711.4,589.1 L711.2,589.3 L705.4,595.1 L702.4,605.5 L699.2,618.3 L699.2,618.5 L699.1,618.8 L694.9,628.5 L700.5,638.2 L700.6,638.5 L700.8,638.8 L700.9,639.2 L700.9,639.5 L702.5,652.0 L705.6,661.3 L705.7,661.7 L705.7,662.0 L705.8,662.3 L705.7,662.7 L705.7,663.0 L705.6,663.3 L705.5,663.7 L705.4,664.0 L705.2,664.3 L705.0,664.5 L704.8,664.8 L699.9,669.6 L699.6,669.9 L699.3,670.1 L691.3,674.9 L683.3,679.7 L673.8,686.0 L667.8,690.5 L666.9,691.6 L668.9,693.2 L678.0,697.8 L686.8,700.7 L695.9,700.7 L696.2,700.8 L696.6,700.8 L696.9,700.9 L707.9,704.0 L716.7,705.5 L721.7,704.2 L729.3,698.5 L728.7,691.6 L728.7,691.3 L728.7,690.9 L728.7,690.6 L728.8,690.3 L728.9,689.9 L734.6,677.1 L734.7,676.8 L734.9,676.5 L735.1,676.3 L735.3,676.0 L735.5,675.8 L735.8,675.6 L740.6,672.4 L740.9,672.2 L741.2,672.1 L741.5,672.0 L741.8,671.9 L742.2,671.9 L742.5,671.8 L748.8,671.8 L752.4,667.0 L756.9,658.1 L759.2,645.9 L760.0,634.9 L760.7,622.5 L758.4,611.7 L758.4,611.4 L758.4,611.0 L758.4,610.6 L760.0,597.7 L760.1,597.4 L760.1,597.1 L760.3,596.8 L760.4,596.5 L760.6,596.2 L760.8,595.9 L761.1,595.7 L761.3,595.5 L761.6,595.3 L761.9,595.1 L762.2,595.0 L762.5,594.9 L762.9,594.8 L763.2,594.8 L763.5,594.8 L763.9,594.8 L764.2,594.9 L764.5,595.0 L764.8,595.1 L765.1,595.3 L765.4,595.4 L771.3,599.9 L775.0,600.8 L776.0,599.6 L772.2,594.3 L764.8,589.8 L764.6,589.7 L764.3,589.4 L764.1,589.2 L763.8,589.0 L763.7,588.7 L758.8,580.7 L758.8,580.6 L752.6,569.7 L745.9,563.0 L738.6,563.0 L728.4,568.8 Z " fill-rule="evenodd"/><circle cx="728.7" cy="568.5" r="4.3"/><circle cx="724.6" cy="572.6" r="4.3"/><circle cx="721.5" cy="574.7" r="4.3"/><circle cx="717.9" cy="577.8" r="4.3"/><circle cx="714.5" cy="584.1" r="4.3"/><circle cx="711.2" cy="589.5" r="4.3"/><circle cx="712.3" cy="589.6" r="4.3"/><circle cx="710.7" cy="589.1" r="4.3"/><circle cx="712.1" cy="588.9" r="4.3"/><circle cx="707.6" cy="592.7" r="4.3"/><circle cx="704.9" cy="595.3" r="4.3"/><circle cx="703.2" cy="601.2" r="4.3"/><circle cx="702.0" cy="604.7" r="4.3"/><circle cx="701.7" cy="609.4" r="4.3"/><circle cx="700.4" cy="614.0" r="4.3"/><circle cx="700.1" cy="618.3" r="4.3"/><circle cx="698.9" cy="617.5" r="4.3"/><circle cx="699.0" cy="618.3" r="4.3"/><circle cx="697.1" cy="623.9" r="4.3"/><circle cx="694.8" cy="627.6" r="4.3"/><circle cx="697.7" cy="633.3" r="4.3"/><circle cx="700.8" cy="639.2" r="4.3"/><circle cx="700.2" cy="638.4" r="4.3"/><circle cx="699.9" cy="639.4" r="4.3"/><circle cx="700.3" cy="639.8" r="4.3"/><circle cx="701.5" cy="639.0" r="4.3"/><circle cx="702.2" cy="643.7" r="4.3"/><circle cx="701.8" cy="647.9" r="4.3"/><circle cx="703.4" cy="652.0" r="4.3"/><circle cx="704.0" cy="656.2" r="4.3"/><circle cx="706.3" cy="661.3" r="4.3"/><circle cx="705.4" cy="661.0" r="4.3"/><circle cx="705.2" cy="662.7" r="4.3"/><circle cx="706.4" cy="663.3" r="4.3"/><circle cx="706.6" cy="663.0" r="4.3"/><circle cx="706.3" cy="663.4" r="4.3"/><circle cx="706.2" cy="663.9" r="4.3"/><circle cx="704.9" cy="664.3" r="4.3"/><circle cx="705.0" cy="663.5" r="4.3"/><circle cx="706.0" cy="663.3" r="4.3"/><circle cx="705.0" cy="664.2" r="4.3"/><circle cx="705.3" cy="665.0" r="4.3"/><circle cx="700.8" cy="670.5" r="4.3"/><circle cx="699.9" cy="669.0" r="4.3"/><circle cx="699.6" cy="669.3" r="4.3"/><circle cx="696.2" cy="673.3" r="4.3"/><circle cx="690.9" cy="674.3" r="4.3"/><circle cx="687.7" cy="677.8" r="4.3"/><circle cx="684.3" cy="680.0" r="4.3"/><circle cx="677.8" cy="683.3" r="4.3"/><circle cx="672.9" cy="686.8" r="4.3"/><circle cx="671.3" cy="688.9" r="4.3"/><circle cx="668.6" cy="690.7" r="4.3"/><circle cx="667.8" cy="691.9" r="4.3"/><circle cx="668.9" cy="693.0" r="4.3"/><circle cx="673.1" cy="694.6" r="4.3"/><circle cx="677.3" cy="698.4" r="4.3"/><circle cx="681.9" cy="699.6" r="4.3"/><circle cx="687.4" cy="701.1" r="4.3"/><circle cx="691.4" cy="700.4" r="4.3"/><circle cx="695.5" cy="700.1" r="4.3"/><circle cx="696.5" cy="701.1" r="4.3"/><circle cx="697.4" cy="700.5" r="4.3"/><circle cx="697.7" cy="701.7" r="4.3"/><circle cx="702.0" cy="703.4" r="4.3"/><circle cx="708.2" cy="705.0" r="4.3"/><circle cx="712.8" cy="704.4" r="4.3"/><circle cx="716.2" cy="705.5" r="4.3"/><circle cx="721.7" cy="703.3" r="4.3"/><circle cx="726.2" cy="701.5" r="4.3"/><circle cx="729.2" cy="699.0" r="4.3"/><circle cx="728.2" cy="691.0" r="4.3"/><circle cx="728.8" cy="690.7" r="4.3"/><circle cx="728.3" cy="690.1" r="4.3"/><circle cx="727.8" cy="690.3" r="4.3"/><circle cx="728.9" cy="691.2" r="4.3"/><circle cx="729.2" cy="689.8" r="4.3"/><circle cx="730.6" cy="685.1" r="4.3"/><circle cx="732.6" cy="682.3" r="4.3"/><circle cx="733.8" cy="677.0" r="4.3"/><circle cx="735.1" cy="677.3" r="4.3"/><circle cx="735.0" cy="676.8" r="4.3"/><circle cx="735.9" cy="677.1" r="4.3"/><circle cx="734.8" cy="676.1" r="4.3"/><circle cx="736.5" cy="675.9" r="4.3"/><circle cx="735.2" cy="676.2" r="4.3"/><circle cx="739.7" cy="671.7" r="4.3"/><circle cx="741.0" cy="671.8" r="4.3"/><circle cx="741.6" cy="672.6" r="4.3"/><circle cx="741.1" cy="672.5" r="4.3"/><circle cx="742.1" cy="672.3" r="4.3"/><circle cx="742.1" cy="671.7" r="4.3"/><circle cx="741.7" cy="671.8" r="4.3"/><circle cx="749.7" cy="672.6" r="4.3"/><circle cx="751.5" cy="666.2" r="4.3"/><circle cx="754.2" cy="662.9" r="4.3"/><circle cx="756.8" cy="657.3" r="4.3"/><circle cx="757.9" cy="652.1" r="4.3"/><circle cx="759.7" cy="645.7" r="4.3"/><circle cx="759.9" cy="640.8" r="4.3"/><circle cx="760.2" cy="634.0" r="4.3"/><circle cx="760.8" cy="627.9" r="4.3"/><circle cx="759.9" cy="622.5" r="4.3"/><circle cx="758.6" cy="616.3" r="4.3"/><circle cx="758.2" cy="611.7" r="4.3"/><circle cx="757.6" cy="612.3" r="4.3"/><circle cx="759.1" cy="610.9" r="4.3"/><circle cx="758.6" cy="610.2" r="4.3"/><circle cx="759.9" cy="605.6" r="4.3"/><circle cx="759.1" cy="601.5" r="4.3"/><circle cx="760.7" cy="597.8" r="4.3"/><circle cx="759.9" cy="597.2" r="4.3"/><circle cx="760.9" cy="596.6" r="4.3"/><circle cx="760.9" cy="597.2" r="4.3"/><circle cx="760.3" cy="596.2" r="4.3"/><circle cx="760.5" cy="596.1" r="4.3"/><circle cx="760.4" cy="596.2" r="4.3"/><circle cx="760.9" cy="595.3" r="4.3"/><circle cx="761.9" cy="595.4" r="4.3"/><circle cx="761.5" cy="596.0" r="4.3"/><circle cx="761.8" cy="594.9" r="4.3"/><circle cx="763.0" cy="595.9" r="4.3"/><circle cx="763.1" cy="594.7" r="4.3"/><circle cx="763.2" cy="595.3" r="4.3"/><circle cx="762.8" cy="595.2" r="4.3"/><circle cx="764.4" cy="595.1" r="4.3"/><circle cx="764.2" cy="594.7" r="4.3"/><circle cx="764.5" cy="594.3" r="4.3"/><circle cx="765.1" cy="595.0" r="4.3"/><circle cx="765.8" cy="594.8" r="4.3"/><circle cx="765.6" cy="594.3" r="4.3"/><circle cx="765.2" cy="596.0" r="4.3"/><circle cx="770.8" cy="600.1" r="4.3"/><circle cx="774.4" cy="600.6" r="4.3"/><circle cx="776.9" cy="599.0" r="4.3"/><circle cx="773.1" cy="593.4" r="4.3"/><circle cx="768.7" cy="592.7" r="4.3"/><circle cx="765.5" cy="589.6" r="4.3"/><circle cx="764.7" cy="590.1" r="4.3"/><circle cx="764.8" cy="589.9" r="4.3"/><circle cx="764.2" cy="588.7" r="4.3"/><circle cx="764.3" cy="589.1" r="4.3"/><circle cx="763.8" cy="589.7" r="4.3"/><circle cx="760.5" cy="585.2" r="4.3"/><circle cx="758.5" cy="581.1" r="4.3"/><circle cx="759.7" cy="580.1" r="4.3"/><circle cx="755.8" cy="575.2" r="4.3"/><circle cx="752.6" cy="569.1" r="4.3"/><circle cx="749.5" cy="567.2" r="4.3"/><circle cx="746.2" cy="562.6" r="4.3"/><circle cx="739.2" cy="562.9" r="4.3"/><circle cx="732.8" cy="566.2" r="4.3"/></g>
<g fill="#93d5f5"><circle cx="691.1" cy="672.0" r="4.3"/><circle cx="686.3" cy="683.3" r="4.3"/><circle cx="676.7" cy="689.7" r="4.3"/><circle cx="683.1" cy="697.7" r="4.3"/><circle cx="687.9" cy="704.1" r="4.3"/><circle cx="707.2" cy="678.5" r="4.3"/><circle cx="716.8" cy="668.8" r="4.3"/><circle cx="744.1" cy="689.7" r="4.3"/><circle cx="710.4" cy="699.3" r="4.3"/><circle cx="710.4" cy="676.8" r="4.3"/><circle cx="679.9" cy="686.5" r="4.3"/><circle cx="742.5" cy="699.3" r="4.3"/></g>
<g fill="#93d5f5"><circle cx="777.0" cy="604.6" r="4.3"/><circle cx="775.4" cy="608.6" r="4.3"/></g>
<g fill="#5576b6"><circle cx="716.8" cy="707.4" r="4.3"/><circle cx="710.4" cy="698.5" r="4.3"/><circle cx="699.1" cy="700.1" r="4.3"/></g>
<g fill="#fff"><circle cx="726.4" cy="638.3" r="1.8"/><circle cx="740.9" cy="647.9" r="1.8"/><circle cx="744.1" cy="603.0" r="2.4"/><circle cx="753.7" cy="620.6" r="1.9"/><circle cx="729.6" cy="633.5" r="2.3"/><circle cx="745.7" cy="662.4" r="1.6"/><circle cx="737.7" cy="665.6" r="2.1"/><circle cx="720.0" cy="672.0" r="1.3"/></g>
<text x="918.50" y="536.60" font-size="37.00" font-weight="bold">e</text>
<rect x="980.40" y="595.60" width="363.90" height="289.90" fill="none" stroke="#333" stroke-width="1.3"/>
<line x1="1018.10" y1="885.50" x2="1018.10" y2="890.00" stroke="#333" stroke-width="1.2"/>
<text x="1016.10" y="907.10" font-size="19.00" text-anchor="middle">−5</text>
<line x1="1101.80" y1="885.50" x2="1101.80" y2="890.00" stroke="#333" stroke-width="1.2"/>
<text x="1099.80" y="907.10" font-size="19.00" text-anchor="middle">0</text>
<line x1="1185.50" y1="885.50" x2="1185.50" y2="890.00" stroke="#333" stroke-width="1.2"/>
<text x="1183.50" y="907.10" font-size="19.00" text-anchor="middle">5</text>
<line x1="1269.20" y1="885.50" x2="1269.20" y2="890.00" stroke="#333" stroke-width="1.2"/>
<text x="1267.20" y="907.10" font-size="19.00" text-anchor="middle">10</text>
<rect x="1354.70" y="595.60" width="364.10" height="289.90" fill="none" stroke="#333" stroke-width="1.3"/>
<line x1="1392.90" y1="885.50" x2="1392.90" y2="890.00" stroke="#333" stroke-width="1.2"/>
<text x="1390.90" y="907.10" font-size="19.00" text-anchor="middle">−5</text>
<line x1="1476.60" y1="885.50" x2="1476.60" y2="890.00" stroke="#333" stroke-width="1.2"/>
<text x="1474.60" y="907.10" font-size="19.00" text-anchor="middle">0</text>
<line x1="1560.30" y1="885.50" x2="1560.30" y2="890.00" stroke="#333" stroke-width="1.2"/>
<text x="1558.30" y="907.10" font-size="19.00" text-anchor="middle">5</text>
<line x1="1644.00" y1="885.50" x2="1644.00" y2="890.00" stroke="#333" stroke-width="1.2"/>
<text x="1642.00" y="907.10" font-size="19.00" text-anchor="middle">10</text>
<line x1="976.00" y1="650.80" x2="980.40" y2="650.80" stroke="#333" stroke-width="1.2"/>
<text x="971.60" y="658.00" font-size="19.20" text-anchor="end">7.5</text>
<line x1="976.00" y1="711.40" x2="980.40" y2="711.40" stroke="#333" stroke-width="1.2"/>
<text x="971.60" y="718.60" font-size="19.20" text-anchor="end">5.0</text>
<line x1="976.00" y1="772.00" x2="980.40" y2="772.00" stroke="#333" stroke-width="1.2"/>
<text x="971.60" y="779.20" font-size="19.20" text-anchor="end">2.5</text>
<line x1="976.00" y1="832.60" x2="980.40" y2="832.60" stroke="#333" stroke-width="1.2"/>
<text x="971.60" y="839.80" font-size="19.20" text-anchor="end">0.0</text>
<text x="1153.00" y="587.60" font-size="23.60" text-anchor="middle" font-weight="bold">CtrlM</text>
<text x="1534.20" y="587.60" font-size="23.60" text-anchor="middle" font-weight="bold">KS</text>
<text x="926.00" y="731.00" font-size="23.40" text-anchor="middle" transform="rotate(-90.00 926.00 731.00)">Component 2</text>
<text x="1357.00" y="945.00" font-size="23.40" text-anchor="middle">Component 1</text>
<text x="1740.90" y="579.40" font-size="20.20">Cell type</text>
<circle cx="1754.60" cy="597.40" r="4.90" fill="#5bcdf8"/>
<text x="1772.20" y="604.40" font-size="19.60">SPC</text>
<circle cx="1754.60" cy="626.20" r="4.90" fill="#94d5f5"/>
<text x="1772.20" y="633.20" font-size="19.60">SC1</text>
<circle cx="1754.60" cy="655.60" r="4.90" fill="#5474b6"/>
<text x="1772.20" y="662.60" font-size="19.60">SC2</text>
<text x="1740.90" y="697.90" font-size="21.90">Pseudotime</text>
<circle cx="1754.60" cy="723.60" r="1.30" fill="#000"/>
<text x="1779.60" y="730.60" font-size="19.60">0</text>
<circle cx="1754.60" cy="749.80" r="4.30" fill="#000"/>
<text x="1779.60" y="756.80" font-size="19.60">5</text>
<circle cx="1754.60" cy="776.60" r="5.00" fill="#000"/>
<text x="1779.60" y="783.60" font-size="19.60">10</text>
<circle cx="1754.60" cy="803.10" r="5.70" fill="#000"/>
<text x="1779.60" y="810.10" font-size="19.60">15</text>
<circle cx="1754.60" cy="829.50" r="6.40" fill="#000"/>
<text x="1779.60" y="836.50" font-size="19.60">20</text>
<circle cx="1754.60" cy="856.80" r="7.00" fill="#000"/>
<text x="1779.60" y="863.80" font-size="19.60">25</text>
<g><circle cx="1020.1" cy="646.9" r="2.8" fill="#5ccff9"/><circle cx="1029.8" cy="640.3" r="3.1" fill="#5ccff9"/><circle cx="1019.7" cy="682.5" r="2.1" fill="#5ccff9"/><circle cx="1017.5" cy="660.0" r="1.8" fill="#5ccff9"/><circle cx="1026.4" cy="640.6" r="2.0" fill="#5ccff9"/><circle cx="1041.0" cy="646.8" r="2.0" fill="#5ccff9"/><circle cx="1051.6" cy="677.5" r="3.0" fill="#5ccff9"/><circle cx="1025.7" cy="673.3" r="2.6" fill="#5ccff9"/><circle cx="1024.2" cy="639.3" r="3.2" fill="#5ccff9"/><circle cx="1031.0" cy="641.8" r="2.0" fill="#5ccff9"/><circle cx="1026.7" cy="672.7" r="1.8" fill="#5ccff9"/><circle cx="1034.5" cy="653.0" r="2.9" fill="#5ccff9"/><circle cx="1021.6" cy="663.3" r="1.9" fill="#5ccff9"/><circle cx="1039.5" cy="637.6" r="3.0" fill="#5ccff9"/><circle cx="1033.8" cy="669.3" r="1.8" fill="#5ccff9"/><circle cx="1042.7" cy="685.9" r="2.1" fill="#5ccff9"/><circle cx="1034.1" cy="639.3" r="2.5" fill="#5ccff9"/><circle cx="1028.2" cy="648.0" r="2.9" fill="#5ccff9"/><circle cx="1034.4" cy="639.1" r="2.7" fill="#5ccff9"/><circle cx="1040.4" cy="640.5" r="2.6" fill="#5ccff9"/><circle cx="1029.4" cy="679.1" r="2.8" fill="#5ccff9"/><circle cx="1033.4" cy="636.4" r="3.2" fill="#5ccff9"/><circle cx="1021.0" cy="676.0" r="3.0" fill="#5ccff9"/><circle cx="1024.6" cy="664.6" r="1.9" fill="#5ccff9"/><circle cx="1026.7" cy="662.6" r="2.0" fill="#5ccff9"/><circle cx="1025.0" cy="650.2" r="2.7" fill="#5ccff9"/><circle cx="1040.8" cy="665.7" r="2.2" fill="#5ccff9"/><circle cx="1023.5" cy="664.8" r="3.0" fill="#5ccff9"/><circle cx="1030.7" cy="662.9" r="2.5" fill="#5ccff9"/><circle cx="1024.9" cy="673.2" r="2.0" fill="#5ccff9"/><circle cx="1015.6" cy="638.4" r="2.5" fill="#5ccff9"/><circle cx="1042.4" cy="670.7" r="2.9" fill="#5ccff9"/><circle cx="1028.6" cy="647.4" r="2.8" fill="#5ccff9"/><circle cx="1022.3" cy="653.8" r="2.3" fill="#5ccff9"/><circle cx="1024.6" cy="663.1" r="2.8" fill="#5ccff9"/><circle cx="1022.0" cy="673.1" r="2.7" fill="#5ccff9"/><circle cx="1037.4" cy="659.9" r="2.4" fill="#5ccff9"/><circle cx="1025.3" cy="645.8" r="2.9" fill="#5ccff9"/><circle cx="1021.7" cy="649.9" r="2.3" fill="#5ccff9"/><circle cx="1031.1" cy="644.4" r="2.8" fill="#5ccff9"/><circle cx="1037.2" cy="661.4" r="2.0" fill="#5ccff9"/><circle cx="1023.9" cy="644.8" r="2.5" fill="#5ccff9"/><circle cx="1036.7" cy="650.3" r="2.6" fill="#5ccff9"/><circle cx="1018.7" cy="653.7" r="2.7" fill="#5ccff9"/><circle cx="1032.2" cy="650.8" r="2.4" fill="#5ccff9"/><circle cx="1031.6" cy="654.5" r="2.7" fill="#5ccff9"/><circle cx="1035.9" cy="676.6" r="2.2" fill="#5ccff9"/><circle cx="1030.8" cy="678.9" r="2.5" fill="#5ccff9"/><circle cx="1036.4" cy="657.6" r="1.8" fill="#5ccff9"/><circle cx="1038.9" cy="667.2" r="2.0" fill="#5ccff9"/><circle cx="1027.9" cy="686.5" r="1.9" fill="#5ccff9"/><circle cx="1032.8" cy="660.0" r="3.1" fill="#5ccff9"/><circle cx="1027.7" cy="646.0" r="2.3" fill="#5ccff9"/><circle cx="1021.2" cy="681.0" r="2.6" fill="#5ccff9"/><circle cx="1037.5" cy="656.7" r="3.1" fill="#5ccff9"/><circle cx="1033.3" cy="688.3" r="2.7" fill="#5ccff9"/><circle cx="1029.8" cy="641.9" r="2.4" fill="#5ccff9"/><circle cx="1047.1" cy="676.6" r="2.3" fill="#5ccff9"/><circle cx="1052.2" cy="657.3" r="2.5" fill="#5ccff9"/><circle cx="1039.7" cy="666.7" r="2.5" fill="#5ccff9"/><circle cx="1024.4" cy="682.0" r="2.4" fill="#5ccff9"/><circle cx="1030.8" cy="673.1" r="3.0" fill="#5ccff9"/><circle cx="1031.4" cy="674.1" r="2.9" fill="#5ccff9"/><circle cx="1031.5" cy="675.6" r="3.2" fill="#5ccff9"/><circle cx="1023.9" cy="663.6" r="2.6" fill="#5ccff9"/><circle cx="1045.3" cy="649.6" r="2.2" fill="#5ccff9"/><circle cx="1021.5" cy="672.9" r="2.5" fill="#5ccff9"/><circle cx="1024.7" cy="669.6" r="2.6" fill="#5ccff9"/><circle cx="1029.1" cy="664.6" r="3.0" fill="#5ccff9"/><circle cx="1040.2" cy="659.9" r="2.4" fill="#5ccff9"/><circle cx="1019.1" cy="655.4" r="3.1" fill="#5ccff9"/><circle cx="1022.3" cy="668.3" r="3.0" fill="#5ccff9"/><circle cx="1041.5" cy="645.1" r="2.8" fill="#5ccff9"/><circle cx="1043.1" cy="665.8" r="3.1" fill="#5ccff9"/><circle cx="1029.0" cy="659.8" r="2.3" fill="#5ccff9"/><circle cx="1029.8" cy="680.4" r="2.9" fill="#5ccff9"/><circle cx="1028.7" cy="645.7" r="2.7" fill="#5ccff9"/><circle cx="1027.0" cy="687.0" r="3.2" fill="#5ccff9"/><circle cx="1032.9" cy="685.8" r="2.1" fill="#5ccff9"/><circle cx="1025.6" cy="654.7" r="2.8" fill="#5ccff9"/><circle cx="1039.7" cy="640.5" r="2.4" fill="#5ccff9"/><circle cx="1028.6" cy="680.0" r="1.9" fill="#5ccff9"/><circle cx="1040.2" cy="684.6" r="2.8" fill="#5ccff9"/><circle cx="1037.6" cy="642.6" r="2.2" fill="#5ccff9"/><circle cx="1021.2" cy="639.5" r="1.9" fill="#5ccff9"/><circle cx="1034.2" cy="652.0" r="2.5" fill="#5ccff9"/><circle cx="1041.4" cy="656.0" r="2.2" fill="#5ccff9"/><circle cx="1022.5" cy="649.3" r="2.0" fill="#5ccff9"/><circle cx="1039.0" cy="650.0" r="2.7" fill="#5ccff9"/><circle cx="1030.1" cy="683.9" r="1.9" fill="#5ccff9"/><circle cx="1030.1" cy="675.9" r="2.5" fill="#5ccff9"/><circle cx="1030.1" cy="671.5" r="1.8" fill="#5ccff9"/><circle cx="1025.4" cy="680.5" r="2.8" fill="#5ccff9"/><circle cx="1040.5" cy="676.7" r="2.7" fill="#5ccff9"/><circle cx="1026.7" cy="655.8" r="2.1" fill="#5ccff9"/><circle cx="1023.3" cy="671.0" r="2.3" fill="#5ccff9"/><circle cx="1023.7" cy="645.1" r="2.9" fill="#5ccff9"/><circle cx="1027.3" cy="665.8" r="2.5" fill="#5ccff9"/><circle cx="1020.5" cy="649.8" r="1.9" fill="#5ccff9"/><circle cx="1026.1" cy="686.6" r="3.0" fill="#5ccff9"/><circle cx="1017.8" cy="688.3" r="3.0" fill="#5ccff9"/><circle cx="1026.6" cy="656.1" r="2.5" fill="#5ccff9"/><circle cx="1027.8" cy="680.1" r="2.3" fill="#5ccff9"/><circle cx="1034.0" cy="642.5" r="2.2" fill="#5ccff9"/><circle cx="1027.7" cy="676.1" r="1.8" fill="#5ccff9"/><circle cx="1028.9" cy="640.2" r="3.1" fill="#5ccff9"/><circle cx="1023.0" cy="663.8" r="2.0" fill="#5ccff9"/><circle cx="1031.5" cy="653.5" r="2.8" fill="#5ccff9"/><circle cx="1031.7" cy="687.1" r="2.4" fill="#5ccff9"/><circle cx="1028.3" cy="637.6" r="2.2" fill="#5ccff9"/><circle cx="1021.9" cy="650.2" r="2.0" fill="#5ccff9"/><circle cx="1026.4" cy="675.8" r="3.1" fill="#5ccff9"/><circle cx="1026.8" cy="637.5" r="2.9" fill="#5ccff9"/><circle cx="1032.4" cy="667.0" r="3.2" fill="#5ccff9"/><circle cx="1036.7" cy="683.5" r="2.5" fill="#5ccff9"/><circle cx="1031.7" cy="639.6" r="1.9" fill="#5ccff9"/><circle cx="1024.3" cy="675.1" r="2.2" fill="#5ccff9"/><circle cx="1043.0" cy="685.7" r="2.1" fill="#5ccff9"/><circle cx="1028.4" cy="660.7" r="2.0" fill="#5ccff9"/><circle cx="1025.4" cy="660.1" r="2.6" fill="#5ccff9"/><circle cx="1027.7" cy="687.5" r="2.5" fill="#5ccff9"/><circle cx="1023.1" cy="658.6" r="2.7" fill="#5ccff9"/><circle cx="1024.1" cy="672.3" r="3.0" fill="#5ccff9"/><circle cx="1022.9" cy="676.7" r="1.9" fill="#5ccff9"/><circle cx="1031.3" cy="672.1" r="2.1" fill="#5ccff9"/><circle cx="1017.0" cy="684.0" r="2.6" fill="#5ccff9"/><circle cx="1031.7" cy="651.9" r="2.2" fill="#5ccff9"/><circle cx="1036.3" cy="668.9" r="2.2" fill="#5ccff9"/><circle cx="1025.7" cy="641.7" r="2.9" fill="#5ccff9"/><circle cx="1019.7" cy="658.4" r="2.9" fill="#5ccff9"/><circle cx="1019.1" cy="650.4" r="2.2" fill="#5ccff9"/><circle cx="1016.0" cy="646.0" r="2.0" fill="#5ccff9"/><circle cx="1028.2" cy="674.7" r="2.2" fill="#5ccff9"/><circle cx="1026.8" cy="685.1" r="2.6" fill="#5ccff9"/><circle cx="1027.1" cy="681.6" r="3.0" fill="#5ccff9"/><circle cx="1025.9" cy="638.9" r="2.1" fill="#5ccff9"/><circle cx="1032.8" cy="671.2" r="3.0" fill="#5ccff9"/><circle cx="1038.0" cy="650.5" r="2.0" fill="#5ccff9"/><circle cx="1024.3" cy="639.5" r="2.0" fill="#5ccff9"/><circle cx="1020.7" cy="671.8" r="2.4" fill="#5ccff9"/><circle cx="1021.0" cy="648.4" r="2.5" fill="#5ccff9"/><circle cx="1027.7" cy="637.8" r="1.9" fill="#5ccff9"/><circle cx="1027.6" cy="685.6" r="1.8" fill="#5ccff9"/><circle cx="1021.1" cy="658.3" r="3.0" fill="#5ccff9"/><circle cx="1034.0" cy="673.9" r="2.3" fill="#5ccff9"/><circle cx="1035.7" cy="649.2" r="2.1" fill="#5ccff9"/><circle cx="1034.6" cy="644.1" r="2.4" fill="#5ccff9"/><circle cx="1024.6" cy="680.9" r="2.5" fill="#5ccff9"/><circle cx="1028.4" cy="683.2" r="3.1" fill="#5ccff9"/><circle cx="1026.3" cy="678.0" r="2.3" fill="#5ccff9"/><circle cx="1021.8" cy="655.9" r="2.3" fill="#5ccff9"/><circle cx="1017.1" cy="687.8" r="2.6" fill="#5ccff9"/><circle cx="1035.0" cy="671.8" r="2.3" fill="#5ccff9"/><circle cx="1029.9" cy="663.6" r="2.4" fill="#5ccff9"/><circle cx="1034.2" cy="640.2" r="2.7" fill="#5ccff9"/><circle cx="1024.7" cy="660.4" r="2.3" fill="#5ccff9"/><circle cx="1024.1" cy="661.2" r="1.9" fill="#5ccff9"/><circle cx="1021.7" cy="669.8" r="2.9" fill="#5ccff9"/><circle cx="1037.7" cy="639.9" r="1.9" fill="#5ccff9"/><circle cx="1021.7" cy="649.1" r="3.1" fill="#5ccff9"/><circle cx="1031.3" cy="644.7" r="2.7" fill="#5ccff9"/><circle cx="1021.3" cy="677.5" r="3.1" fill="#5ccff9"/><circle cx="1026.5" cy="660.0" r="1.8" fill="#5ccff9"/><circle cx="1050.4" cy="668.0" r="3.1" fill="#5ccff9"/><circle cx="1043.7" cy="668.2" r="2.6" fill="#5ccff9"/><circle cx="1022.2" cy="651.1" r="3.0" fill="#5ccff9"/><circle cx="1026.6" cy="674.4" r="3.1" fill="#5ccff9"/><circle cx="1029.5" cy="679.6" r="2.9" fill="#5ccff9"/><circle cx="1025.9" cy="658.9" r="3.0" fill="#5ccff9"/><circle cx="1027.3" cy="650.4" r="2.4" fill="#5ccff9"/><circle cx="1042.9" cy="617.7" r="1.6" fill="#5ccff9"/><circle cx="1031.3" cy="627.8" r="2.2" fill="#5ccff9"/><circle cx="1026.9" cy="647.3" r="1.5" fill="#5ccff9"/><circle cx="1044.5" cy="627.9" r="1.5" fill="#5ccff9"/><circle cx="1027.0" cy="628.2" r="1.9" fill="#5ccff9"/><circle cx="1050.5" cy="623.6" r="1.4" fill="#5ccff9"/><circle cx="1040.8" cy="620.1" r="2.2" fill="#5ccff9"/><circle cx="1033.0" cy="619.5" r="1.9" fill="#5ccff9"/><circle cx="1061.5" cy="640.6" r="2.0" fill="#5ccff9"/><circle cx="1057.5" cy="632.2" r="1.5" fill="#5ccff9"/><circle cx="1027.2" cy="643.1" r="1.5" fill="#5ccff9"/><circle cx="1025.2" cy="627.5" r="1.5" fill="#5ccff9"/><circle cx="1053.6" cy="623.4" r="2.1" fill="#5ccff9"/><circle cx="1055.8" cy="624.2" r="2.1" fill="#5ccff9"/><circle cx="1063.0" cy="627.2" r="2.2" fill="#5ccff9"/><circle cx="1022.9" cy="644.9" r="1.5" fill="#5ccff9"/><circle cx="1027.8" cy="635.7" r="1.8" fill="#5ccff9"/><circle cx="1050.0" cy="623.2" r="1.5" fill="#5ccff9"/><circle cx="1037.0" cy="629.9" r="1.7" fill="#5ccff9"/><circle cx="1023.6" cy="628.1" r="1.7" fill="#5ccff9"/><circle cx="1050.1" cy="631.6" r="2.2" fill="#5ccff9"/><circle cx="1062.4" cy="645.9" r="2.0" fill="#5ccff9"/><circle cx="1024.5" cy="732.7" r="3.0" fill="#5ccff9"/><circle cx="1025.8" cy="730.6" r="2.9" fill="#93d5f5"/><circle cx="1023.6" cy="761.3" r="3.0" fill="#93d5f5"/><circle cx="1021.4" cy="782.0" r="3.2" fill="#93d5f5"/><circle cx="1026.0" cy="818.9" r="2.7" fill="#93d5f5"/><circle cx="1028.0" cy="790.5" r="3.2" fill="#5ccff9"/><circle cx="1022.9" cy="698.8" r="3.0" fill="#5ccff9"/><circle cx="1024.3" cy="721.2" r="3.5" fill="#5ccff9"/><circle cx="1026.3" cy="778.9" r="3.1" fill="#93d5f5"/><circle cx="1025.0" cy="758.9" r="2.9" fill="#5ccff9"/><circle cx="1022.7" cy="700.2" r="2.9" fill="#5ccff9"/><circle cx="1025.6" cy="702.7" r="3.2" fill="#5ccff9"/><circle cx="1024.6" cy="818.5" r="3.3" fill="#93d5f5"/><circle cx="1027.0" cy="709.4" r="3.4" fill="#5ccff9"/><circle cx="1030.7" cy="820.7" r="3.6" fill="#93d5f5"/><circle cx="1025.3" cy="719.3" r="3.8" fill="#93d5f5"/><circle cx="1025.7" cy="728.2" r="3.1" fill="#5ccff9"/><circle cx="1024.1" cy="700.4" r="3.1" fill="#5ccff9"/><circle cx="1025.7" cy="790.5" r="2.7" fill="#93d5f5"/><circle cx="1027.6" cy="803.6" r="2.7" fill="#93d5f5"/><circle cx="1028.1" cy="776.4" r="2.6" fill="#5ccff9"/><circle cx="1022.3" cy="718.9" r="2.8" fill="#93d5f5"/><circle cx="1031.5" cy="794.9" r="2.8" fill="#5ccff9"/><circle cx="1022.5" cy="770.2" r="3.5" fill="#93d5f5"/><circle cx="1025.0" cy="777.4" r="3.8" fill="#93d5f5"/><circle cx="1023.7" cy="735.1" r="2.7" fill="#5ccff9"/><circle cx="1023.4" cy="742.7" r="3.3" fill="#5ccff9"/><circle cx="1026.2" cy="701.2" r="3.3" fill="#5ccff9"/><circle cx="1024.2" cy="791.5" r="3.2" fill="#5ccff9"/><circle cx="1023.9" cy="734.7" r="3.5" fill="#5ccff9"/><circle cx="1022.0" cy="771.5" r="2.7" fill="#93d5f5"/><circle cx="1024.7" cy="761.0" r="3.1" fill="#5ccff9"/><circle cx="1026.5" cy="780.9" r="3.4" fill="#93d5f5"/><circle cx="1025.0" cy="706.5" r="3.2" fill="#5ccff9"/><circle cx="1029.3" cy="733.7" r="2.8" fill="#93d5f5"/><circle cx="1022.9" cy="705.6" r="3.1" fill="#5ccff9"/><circle cx="1022.8" cy="730.7" r="3.3" fill="#93d5f5"/><circle cx="1024.4" cy="718.7" r="3.0" fill="#5ccff9"/><circle cx="1023.5" cy="761.8" r="2.7" fill="#93d5f5"/><circle cx="1026.8" cy="814.0" r="2.8" fill="#93d5f5"/><circle cx="1024.7" cy="701.0" r="3.5" fill="#5ccff9"/><circle cx="1028.9" cy="791.7" r="3.4" fill="#93d5f5"/><circle cx="1008.0" cy="841.6" r="3.8" fill="#93d5f5"/><circle cx="1022.7" cy="826.3" r="3.9" fill="#93d5f5"/><circle cx="1023.4" cy="822.8" r="3.6" fill="#93d5f5"/><circle cx="1018.6" cy="826.9" r="4.1" fill="#93d5f5"/><circle cx="996.6" cy="845.2" r="4.0" fill="#93d5f5"/><circle cx="1022.6" cy="822.7" r="3.5" fill="#93d5f5"/><circle cx="1014.1" cy="829.1" r="4.1" fill="#93d5f5"/><circle cx="1014.8" cy="828.8" r="3.7" fill="#93d5f5"/><circle cx="1024.9" cy="821.1" r="4.2" fill="#93d5f5"/><circle cx="999.1" cy="848.2" r="3.6" fill="#93d5f5"/><circle cx="1010.2" cy="842.0" r="4.2" fill="#93d5f5"/><circle cx="998.4" cy="856.0" r="4.1" fill="#93d5f5"/><circle cx="1021.8" cy="821.0" r="3.8" fill="#93d5f5"/><circle cx="1005.3" cy="838.4" r="3.5" fill="#93d5f5"/><circle cx="1019.2" cy="835.9" r="4.0" fill="#93d5f5"/><circle cx="1001.0" cy="847.9" r="3.7" fill="#93d5f5"/><circle cx="1004.3" cy="841.4" r="3.6" fill="#93d5f5"/><circle cx="1007.0" cy="841.7" r="3.6" fill="#93d5f5"/><circle cx="1009.2" cy="842.4" r="3.7" fill="#93d5f5"/><circle cx="1000.5" cy="851.3" r="4.0" fill="#93d5f5"/><circle cx="1017.0" cy="834.8" r="4.4" fill="#93d5f5"/><circle cx="1000.7" cy="845.9" r="3.8" fill="#93d5f5"/><circle cx="1011.2" cy="844.0" r="4.1" fill="#93d5f5"/><circle cx="1016.3" cy="832.9" r="3.9" fill="#93d5f5"/><circle cx="1020.0" cy="825.7" r="3.6" fill="#93d5f5"/><circle cx="1004.1" cy="846.4" r="3.9" fill="#93d5f5"/><circle cx="1023.1" cy="824.4" r="4.1" fill="#93d5f5"/><circle cx="1025.2" cy="816.8" r="3.6" fill="#93d5f5"/><circle cx="1019.5" cy="828.6" r="4.1" fill="#93d5f5"/><circle cx="1021.8" cy="823.9" r="4.1" fill="#93d5f5"/><circle cx="997.8" cy="846.9" r="4.1" fill="#93d5f5"/><circle cx="1018.2" cy="829.8" r="3.8" fill="#93d5f5"/><circle cx="1008.6" cy="839.9" r="3.6" fill="#93d5f5"/><circle cx="1017.9" cy="828.0" r="3.9" fill="#93d5f5"/><circle cx="1022.5" cy="821.7" r="3.7" fill="#93d5f5"/><circle cx="1024.8" cy="821.1" r="4.3" fill="#93d5f5"/><circle cx="1023.3" cy="825.5" r="3.9" fill="#93d5f5"/><circle cx="1003.2" cy="844.9" r="3.5" fill="#93d5f5"/><circle cx="1013.4" cy="834.6" r="4.0" fill="#93d5f5"/><circle cx="1024.5" cy="820.9" r="4.4" fill="#93d5f5"/><circle cx="1010.4" cy="832.3" r="3.6" fill="#93d5f5"/><circle cx="1012.5" cy="831.3" r="3.6" fill="#93d5f5"/><circle cx="1026.1" cy="824.6" r="3.8" fill="#93d5f5"/><circle cx="1012.9" cy="835.7" r="4.5" fill="#93d5f5"/><circle cx="1009.2" cy="837.4" r="4.4" fill="#93d5f5"/><circle cx="1007.8" cy="835.7" r="4.1" fill="#93d5f5"/><circle cx="1024.0" cy="826.1" r="4.0" fill="#93d5f5"/><circle cx="1000.5" cy="841.7" r="3.6" fill="#93d5f5"/><circle cx="1024.6" cy="826.2" r="4.4" fill="#93d5f5"/><circle cx="1013.6" cy="833.1" r="4.0" fill="#93d5f5"/><circle cx="1004.9" cy="843.1" r="4.0" fill="#93d5f5"/><circle cx="1019.2" cy="830.9" r="4.1" fill="#93d5f5"/><circle cx="1000.4" cy="846.1" r="4.2" fill="#93d5f5"/><circle cx="999.4" cy="843.4" r="4.5" fill="#93d5f5"/><circle cx="1000.4" cy="847.0" r="3.9" fill="#93d5f5"/><circle cx="1015.0" cy="831.1" r="4.4" fill="#93d5f5"/><circle cx="1001.3" cy="847.4" r="4.1" fill="#93d5f5"/><circle cx="1003.9" cy="845.7" r="3.9" fill="#93d5f5"/><circle cx="997.9" cy="850.7" r="4.3" fill="#93d5f5"/><circle cx="1006.5" cy="843.2" r="4.1" fill="#93d5f5"/><circle cx="1015.6" cy="839.2" r="4.4" fill="#93d5f5"/><circle cx="1004.8" cy="842.6" r="3.8" fill="#93d5f5"/><circle cx="1022.8" cy="821.8" r="3.9" fill="#93d5f5"/><circle cx="1025.8" cy="818.4" r="3.6" fill="#93d5f5"/><circle cx="1016.1" cy="831.1" r="3.5" fill="#93d5f5"/><circle cx="1024.8" cy="828.1" r="3.8" fill="#93d5f5"/><circle cx="1022.0" cy="827.1" r="4.3" fill="#93d5f5"/><circle cx="1016.7" cy="833.9" r="3.8" fill="#93d5f5"/><circle cx="1018.4" cy="834.7" r="4.1" fill="#93d5f5"/><circle cx="1020.3" cy="827.1" r="3.7" fill="#93d5f5"/><circle cx="1011.2" cy="830.0" r="4.3" fill="#93d5f5"/><circle cx="1021.6" cy="825.6" r="3.5" fill="#93d5f5"/><circle cx="1012.5" cy="836.9" r="3.7" fill="#93d5f5"/><circle cx="1025.7" cy="821.0" r="4.4" fill="#93d5f5"/><circle cx="1003.5" cy="842.0" r="3.9" fill="#93d5f5"/><circle cx="1015.8" cy="836.3" r="3.7" fill="#93d5f5"/><circle cx="1004.6" cy="838.1" r="4.1" fill="#93d5f5"/><circle cx="1018.7" cy="828.2" r="4.0" fill="#93d5f5"/><circle cx="1009.4" cy="840.3" r="3.9" fill="#93d5f5"/><circle cx="1014.3" cy="827.6" r="4.3" fill="#93d5f5"/><circle cx="1009.7" cy="838.5" r="3.8" fill="#93d5f5"/><circle cx="1021.7" cy="826.7" r="3.6" fill="#93d5f5"/><circle cx="998.1" cy="844.0" r="3.6" fill="#93d5f5"/><circle cx="1010.1" cy="837.0" r="3.9" fill="#93d5f5"/><circle cx="1020.5" cy="831.1" r="3.5" fill="#93d5f5"/><circle cx="1020.3" cy="826.3" r="4.3" fill="#93d5f5"/><circle cx="1015.1" cy="829.8" r="4.2" fill="#93d5f5"/><circle cx="1022.0" cy="829.5" r="4.1" fill="#93d5f5"/><circle cx="996.9" cy="843.1" r="3.7" fill="#93d5f5"/><circle cx="998.3" cy="857.2" r="3.8" fill="#93d5f5"/><circle cx="1033.2" cy="826.0" r="3.5" fill="#93d5f5"/><circle cx="1055.2" cy="836.6" r="4.2" fill="#93d5f5"/><circle cx="1052.5" cy="830.5" r="4.2" fill="#93d5f5"/><circle cx="1041.0" cy="819.1" r="4.0" fill="#93d5f5"/><circle cx="1053.8" cy="832.0" r="4.2" fill="#93d5f5"/><circle cx="1084.1" cy="855.1" r="4.3" fill="#93d5f5"/><circle cx="1084.8" cy="848.9" r="4.2" fill="#93d5f5"/><circle cx="1070.5" cy="851.9" r="4.2" fill="#93d5f5"/><circle cx="1056.2" cy="837.2" r="4.2" fill="#93d5f5"/><circle cx="1078.0" cy="848.2" r="4.0" fill="#93d5f5"/><circle cx="1082.7" cy="856.5" r="3.9" fill="#93d5f5"/><circle cx="1036.1" cy="824.8" r="3.5" fill="#93d5f5"/><circle cx="1036.4" cy="828.7" r="4.0" fill="#93d5f5"/><circle cx="1090.6" cy="858.9" r="3.8" fill="#93d5f5"/><circle cx="1088.4" cy="856.1" r="3.6" fill="#93d5f5"/><circle cx="1066.8" cy="843.9" r="4.0" fill="#93d5f5"/><circle cx="1080.3" cy="863.9" r="4.0" fill="#93d5f5"/><circle cx="1037.9" cy="824.2" r="3.9" fill="#93d5f5"/><circle cx="1081.6" cy="853.9" r="3.6" fill="#93d5f5"/><circle cx="1062.4" cy="838.6" r="4.2" fill="#93d5f5"/><circle cx="1066.3" cy="838.5" r="3.8" fill="#93d5f5"/><circle cx="1083.8" cy="851.4" r="3.8" fill="#93d5f5"/><circle cx="1071.9" cy="844.2" r="4.1" fill="#93d5f5"/><circle cx="1087.8" cy="854.1" r="3.5" fill="#93d5f5"/><circle cx="1060.8" cy="846.8" r="3.8" fill="#93d5f5"/><circle cx="1056.6" cy="838.0" r="4.2" fill="#93d5f5"/><circle cx="1042.8" cy="831.0" r="4.4" fill="#93d5f5"/><circle cx="1046.0" cy="830.5" r="3.8" fill="#93d5f5"/><circle cx="1089.8" cy="855.6" r="4.2" fill="#93d5f5"/><circle cx="1057.4" cy="837.2" r="4.4" fill="#93d5f5"/><circle cx="1048.4" cy="836.1" r="3.6" fill="#93d5f5"/><circle cx="1041.7" cy="834.8" r="3.8" fill="#93d5f5"/><circle cx="1081.5" cy="858.8" r="4.3" fill="#93d5f5"/><circle cx="1064.6" cy="844.0" r="4.2" fill="#93d5f5"/><circle cx="1067.7" cy="850.1" r="3.9" fill="#93d5f5"/><circle cx="1085.3" cy="853.8" r="3.9" fill="#93d5f5"/><circle cx="1066.9" cy="847.9" r="4.2" fill="#93d5f5"/><circle cx="1029.2" cy="823.8" r="4.3" fill="#93d5f5"/><circle cx="1087.1" cy="856.0" r="3.8" fill="#93d5f5"/><circle cx="1070.4" cy="846.7" r="4.0" fill="#93d5f5"/><circle cx="1037.3" cy="830.8" r="4.4" fill="#93d5f5"/><circle cx="1082.8" cy="848.7" r="4.3" fill="#93d5f5"/><circle cx="1038.3" cy="832.0" r="3.6" fill="#93d5f5"/><circle cx="1085.7" cy="856.3" r="4.3" fill="#93d5f5"/><circle cx="1089.6" cy="854.8" r="4.5" fill="#93d5f5"/><circle cx="1035.2" cy="827.6" r="4.2" fill="#93d5f5"/><circle cx="1057.1" cy="839.9" r="4.4" fill="#93d5f5"/><circle cx="1053.4" cy="834.1" r="4.1" fill="#93d5f5"/><circle cx="1055.8" cy="842.5" r="3.5" fill="#93d5f5"/><circle cx="1081.3" cy="857.7" r="3.7" fill="#93d5f5"/><circle cx="1059.9" cy="846.1" r="4.3" fill="#93d5f5"/><circle cx="1047.0" cy="835.9" r="4.1" fill="#93d5f5"/><circle cx="1037.3" cy="825.8" r="3.8" fill="#93d5f5"/><circle cx="1061.7" cy="842.8" r="3.7" fill="#93d5f5"/><circle cx="1092.7" cy="860.4" r="3.5" fill="#93d5f5"/><circle cx="1034.6" cy="828.8" r="4.5" fill="#93d5f5"/><circle cx="1047.3" cy="833.3" r="4.5" fill="#93d5f5"/><circle cx="1076.0" cy="849.2" r="4.3" fill="#5576b6"/><circle cx="1043.5" cy="829.1" r="3.7" fill="#93d5f5"/><circle cx="1074.7" cy="846.8" r="3.5" fill="#93d5f5"/><circle cx="1046.9" cy="827.5" r="4.2" fill="#93d5f5"/><circle cx="1087.5" cy="865.7" r="3.9" fill="#93d5f5"/><circle cx="1064.9" cy="844.4" r="4.0" fill="#93d5f5"/><circle cx="1034.5" cy="824.1" r="3.7" fill="#93d5f5"/><circle cx="1051.1" cy="830.3" r="4.2" fill="#93d5f5"/><circle cx="1066.1" cy="846.4" r="3.9" fill="#93d5f5"/><circle cx="1047.7" cy="839.9" r="3.8" fill="#93d5f5"/><circle cx="1036.5" cy="833.8" r="4.1" fill="#93d5f5"/><circle cx="1041.7" cy="825.8" r="3.7" fill="#93d5f5"/><circle cx="1071.0" cy="847.7" r="3.8" fill="#93d5f5"/><circle cx="1075.4" cy="847.6" r="4.1" fill="#93d5f5"/><circle cx="1073.7" cy="839.0" r="4.0" fill="#93d5f5"/><circle cx="1084.8" cy="861.5" r="3.7" fill="#93d5f5"/><circle cx="1057.7" cy="845.1" r="3.6" fill="#93d5f5"/><circle cx="1076.1" cy="854.2" r="4.3" fill="#93d5f5"/><circle cx="1046.7" cy="828.4" r="4.1" fill="#93d5f5"/><circle cx="1070.4" cy="849.0" r="4.1" fill="#93d5f5"/><circle cx="1069.6" cy="843.4" r="3.9" fill="#93d5f5"/><circle cx="1064.0" cy="842.8" r="4.0" fill="#5ccff9"/><circle cx="1046.2" cy="830.5" r="3.8" fill="#93d5f5"/><circle cx="1037.3" cy="835.7" r="3.9" fill="#93d5f5"/><circle cx="1073.0" cy="842.9" r="3.5" fill="#93d5f5"/><circle cx="1041.8" cy="831.9" r="3.8" fill="#93d5f5"/><circle cx="1058.6" cy="830.2" r="3.6" fill="#93d5f5"/><circle cx="1071.1" cy="849.0" r="4.3" fill="#93d5f5"/><circle cx="1090.5" cy="865.3" r="3.5" fill="#93d5f5"/><circle cx="1060.3" cy="843.6" r="3.9" fill="#93d5f5"/><circle cx="1067.7" cy="849.6" r="4.2" fill="#93d5f5"/><circle cx="1088.4" cy="860.6" r="3.7" fill="#93d5f5"/><circle cx="1067.6" cy="853.1" r="3.6" fill="#93d5f5"/><circle cx="1077.0" cy="850.7" r="4.2" fill="#93d5f5"/><circle cx="1077.7" cy="846.4" r="4.4" fill="#93d5f5"/><circle cx="1056.1" cy="852.4" r="4.2" fill="#93d5f5"/><circle cx="1090.5" cy="866.0" r="4.3" fill="#93d5f5"/><circle cx="1070.1" cy="855.6" r="3.6" fill="#93d5f5"/><circle cx="1059.0" cy="842.6" r="4.2" fill="#93d5f5"/><circle cx="1090.6" cy="857.0" r="3.9" fill="#93d5f5"/><circle cx="1087.6" cy="866.7" r="3.8" fill="#5576b6"/><circle cx="1078.0" cy="859.3" r="4.4" fill="#93d5f5"/><circle cx="1074.3" cy="851.3" r="4.0" fill="#5ccff9"/><circle cx="1070.5" cy="849.0" r="4.0" fill="#5ccff9"/><circle cx="1029.3" cy="822.8" r="4.4" fill="#93d5f5"/><circle cx="1045.0" cy="834.6" r="4.2" fill="#93d5f5"/><circle cx="1064.5" cy="835.4" r="4.0" fill="#93d5f5"/><circle cx="1048.5" cy="834.3" r="3.6" fill="#93d5f5"/><circle cx="1036.4" cy="822.0" r="4.3" fill="#93d5f5"/><circle cx="1089.5" cy="861.5" r="4.1" fill="#93d5f5"/><circle cx="1058.5" cy="837.3" r="4.0" fill="#93d5f5"/><circle cx="1044.5" cy="826.3" r="3.9" fill="#93d5f5"/><circle cx="1077.8" cy="845.4" r="4.4" fill="#93d5f5"/><circle cx="1047.7" cy="832.2" r="3.9" fill="#93d5f5"/><circle cx="1026.7" cy="821.1" r="4.5" fill="#93d5f5"/><circle cx="1074.4" cy="850.7" r="3.8" fill="#93d5f5"/><circle cx="1057.7" cy="848.5" r="4.4" fill="#93d5f5"/><circle cx="1036.5" cy="820.5" r="3.6" fill="#93d5f5"/><circle cx="1055.0" cy="838.6" r="4.0" fill="#93d5f5"/><circle cx="1047.3" cy="828.1" r="4.3" fill="#93d5f5"/><circle cx="1042.8" cy="832.3" r="3.6" fill="#93d5f5"/><circle cx="1042.4" cy="823.5" r="4.2" fill="#93d5f5"/><circle cx="1071.5" cy="848.3" r="3.9" fill="#93d5f5"/><circle cx="1036.3" cy="824.1" r="3.5" fill="#93d5f5"/><circle cx="1071.6" cy="847.8" r="3.7" fill="#93d5f5"/><circle cx="1047.5" cy="836.7" r="4.0" fill="#93d5f5"/><circle cx="1031.1" cy="823.2" r="4.4" fill="#93d5f5"/><circle cx="1065.2" cy="846.3" r="4.4" fill="#93d5f5"/><circle cx="1089.2" cy="851.7" r="3.6" fill="#93d5f5"/><circle cx="1055.0" cy="834.6" r="3.7" fill="#93d5f5"/><circle cx="1030.7" cy="828.7" r="3.7" fill="#93d5f5"/><circle cx="1056.3" cy="830.6" r="4.3" fill="#93d5f5"/><circle cx="1035.4" cy="832.4" r="4.0" fill="#5576b6"/><circle cx="1085.8" cy="861.0" r="4.4" fill="#93d5f5"/><circle cx="1082.5" cy="842.0" r="3.6" fill="#5576b6"/><circle cx="1045.2" cy="837.9" r="3.5" fill="#93d5f5"/><circle cx="1049.7" cy="843.6" r="3.7" fill="#93d5f5"/><circle cx="1041.5" cy="834.4" r="3.9" fill="#93d5f5"/><circle cx="1089.9" cy="860.0" r="4.3" fill="#93d5f5"/><circle cx="1088.9" cy="849.1" r="3.7" fill="#93d5f5"/><circle cx="1076.0" cy="849.0" r="4.1" fill="#93d5f5"/><circle cx="1058.3" cy="841.0" r="3.7" fill="#93d5f5"/><circle cx="1034.0" cy="830.2" r="4.5" fill="#93d5f5"/><circle cx="1312.7" cy="847.5" r="6.0" fill="#5576b6"/><circle cx="1272.8" cy="849.3" r="5.6" fill="#5576b6"/><circle cx="1128.6" cy="857.2" r="4.2" fill="#93d5f5"/><circle cx="1196.8" cy="868.2" r="4.9" fill="#93d5f5"/><circle cx="1239.3" cy="862.1" r="5.3" fill="#5576b6"/><circle cx="1231.8" cy="856.2" r="5.2" fill="#93d5f5"/><circle cx="1203.5" cy="863.2" r="4.9" fill="#93d5f5"/><circle cx="1191.9" cy="866.4" r="4.8" fill="#93d5f5"/><circle cx="1308.0" cy="850.0" r="5.9" fill="#5576b6"/><circle cx="1256.4" cy="860.3" r="5.4" fill="#5576b6"/><circle cx="1186.8" cy="861.7" r="4.8" fill="#93d5f5"/><circle cx="1166.0" cy="862.5" r="4.6" fill="#93d5f5"/><circle cx="1094.6" cy="858.8" r="3.9" fill="#93d5f5"/><circle cx="1191.3" cy="861.0" r="4.8" fill="#93d5f5"/><circle cx="1302.6" cy="847.8" r="5.9" fill="#93d5f5"/><circle cx="1131.8" cy="867.5" r="4.2" fill="#93d5f5"/><circle cx="1240.4" cy="861.7" r="5.3" fill="#93d5f5"/><circle cx="1256.0" cy="847.5" r="5.4" fill="#5576b6"/><circle cx="1284.9" cy="851.9" r="5.7" fill="#5576b6"/><circle cx="1164.5" cy="857.5" r="4.6" fill="#93d5f5"/><circle cx="1166.4" cy="856.9" r="4.6" fill="#93d5f5"/><circle cx="1221.0" cy="860.7" r="5.1" fill="#93d5f5"/><circle cx="1150.3" cy="862.1" r="4.4" fill="#93d5f5"/><circle cx="1229.7" cy="858.2" r="5.2" fill="#93d5f5"/><circle cx="1235.0" cy="851.0" r="5.2" fill="#93d5f5"/><circle cx="1187.9" cy="872.4" r="4.8" fill="#93d5f5"/><circle cx="1176.1" cy="862.4" r="4.7" fill="#93d5f5"/><circle cx="1313.9" cy="850.3" r="6.0" fill="#5576b6"/><circle cx="1265.1" cy="860.1" r="5.5" fill="#5576b6"/><circle cx="1115.5" cy="866.7" r="4.1" fill="#93d5f5"/><circle cx="1260.9" cy="856.7" r="5.5" fill="#93d5f5"/><circle cx="1264.9" cy="852.7" r="5.5" fill="#93d5f5"/><circle cx="1179.8" cy="857.6" r="4.7" fill="#93d5f5"/><circle cx="1246.1" cy="852.9" r="5.3" fill="#93d5f5"/><circle cx="1152.9" cy="858.0" r="4.4" fill="#93d5f5"/><circle cx="1227.3" cy="859.3" r="5.2" fill="#93d5f5"/><circle cx="1142.3" cy="864.8" r="4.3" fill="#93d5f5"/><circle cx="1159.7" cy="868.2" r="4.5" fill="#93d5f5"/><circle cx="1217.8" cy="867.6" r="5.1" fill="#93d5f5"/><circle cx="1206.4" cy="866.9" r="5.0" fill="#93d5f5"/><circle cx="1236.6" cy="863.2" r="5.2" fill="#93d5f5"/><circle cx="1179.7" cy="860.7" r="4.7" fill="#5576b6"/><circle cx="1128.5" cy="868.9" r="4.2" fill="#93d5f5"/><circle cx="1204.1" cy="855.9" r="4.9" fill="#93d5f5"/><circle cx="1165.5" cy="867.6" r="4.6" fill="#93d5f5"/><circle cx="1188.9" cy="856.2" r="4.8" fill="#93d5f5"/><circle cx="1094.6" cy="873.7" r="3.9" fill="#93d5f5"/><circle cx="1134.0" cy="866.5" r="4.3" fill="#93d5f5"/><circle cx="1214.2" cy="856.8" r="5.0" fill="#93d5f5"/><circle cx="1239.9" cy="861.2" r="5.3" fill="#93d5f5"/><circle cx="1168.5" cy="864.9" r="4.6" fill="#93d5f5"/><circle cx="1105.0" cy="863.7" r="4.0" fill="#93d5f5"/><circle cx="1122.9" cy="861.0" r="4.2" fill="#93d5f5"/><circle cx="1266.6" cy="844.3" r="5.5" fill="#5576b6"/><circle cx="1145.6" cy="872.6" r="4.4" fill="#93d5f5"/><circle cx="1302.0" cy="837.9" r="5.9" fill="#5576b6"/><circle cx="1249.0" cy="858.5" r="5.4" fill="#93d5f5"/><circle cx="1228.4" cy="852.3" r="5.2" fill="#5576b6"/><circle cx="1232.3" cy="853.4" r="5.2" fill="#5576b6"/><circle cx="1136.2" cy="866.0" r="4.3" fill="#93d5f5"/><circle cx="1099.7" cy="861.0" r="3.9" fill="#93d5f5"/><circle cx="1204.9" cy="861.0" r="4.9" fill="#5576b6"/><circle cx="1220.5" cy="861.6" r="5.1" fill="#93d5f5"/><circle cx="1212.8" cy="863.9" r="5.0" fill="#93d5f5"/><circle cx="1224.4" cy="863.2" r="5.1" fill="#93d5f5"/><circle cx="1111.2" cy="869.4" r="4.0" fill="#93d5f5"/><circle cx="1292.7" cy="848.6" r="5.8" fill="#5576b6"/><circle cx="1232.1" cy="859.5" r="5.2" fill="#93d5f5"/><circle cx="1253.9" cy="858.3" r="5.4" fill="#93d5f5"/><circle cx="1256.0" cy="854.9" r="5.4" fill="#5576b6"/><circle cx="1152.3" cy="870.6" r="4.4" fill="#93d5f5"/><circle cx="1138.0" cy="856.7" r="4.3" fill="#93d5f5"/><circle cx="1319.3" cy="842.2" r="6.0" fill="#5576b6"/><circle cx="1179.7" cy="860.0" r="4.7" fill="#93d5f5"/><circle cx="1249.8" cy="858.5" r="5.4" fill="#5576b6"/><circle cx="1140.7" cy="858.5" r="4.3" fill="#93d5f5"/><circle cx="1189.4" cy="860.1" r="4.8" fill="#93d5f5"/><circle cx="1150.2" cy="865.5" r="4.4" fill="#93d5f5"/><circle cx="1113.5" cy="870.0" r="4.1" fill="#93d5f5"/><circle cx="1285.7" cy="839.1" r="5.7" fill="#93d5f5"/><circle cx="1252.6" cy="855.2" r="5.4" fill="#5576b6"/><circle cx="1147.3" cy="859.8" r="4.4" fill="#93d5f5"/><circle cx="1127.6" cy="867.0" r="4.2" fill="#93d5f5"/><circle cx="1148.5" cy="868.8" r="4.4" fill="#93d5f5"/><circle cx="1115.4" cy="866.6" r="4.1" fill="#93d5f5"/><circle cx="1148.7" cy="863.4" r="4.4" fill="#93d5f5"/><circle cx="1151.4" cy="857.4" r="4.4" fill="#93d5f5"/><circle cx="1142.1" cy="872.5" r="4.3" fill="#93d5f5"/><circle cx="1199.8" cy="857.7" r="4.9" fill="#93d5f5"/><circle cx="1149.5" cy="867.2" r="4.4" fill="#93d5f5"/><circle cx="1175.2" cy="857.7" r="4.7" fill="#93d5f5"/><circle cx="1095.8" cy="869.8" r="3.9" fill="#93d5f5"/><circle cx="1186.9" cy="866.1" r="4.8" fill="#5576b6"/><circle cx="1198.8" cy="857.2" r="4.9" fill="#93d5f5"/><circle cx="1313.4" cy="847.2" r="6.0" fill="#5576b6"/><circle cx="1324.3" cy="848.7" r="6.0" fill="#5576b6"/><circle cx="1197.0" cy="871.9" r="4.9" fill="#93d5f5"/><circle cx="1229.6" cy="858.9" r="5.2" fill="#5576b6"/><circle cx="1245.2" cy="869.0" r="5.3" fill="#93d5f5"/><circle cx="1323.5" cy="841.9" r="6.0" fill="#93d5f5"/><circle cx="1098.7" cy="861.7" r="3.9" fill="#93d5f5"/><circle cx="1220.2" cy="858.2" r="5.1" fill="#5576b6"/><circle cx="1112.2" cy="865.1" r="4.1" fill="#93d5f5"/><circle cx="1264.2" cy="852.4" r="5.5" fill="#5576b6"/><circle cx="1127.8" cy="866.4" r="4.2" fill="#93d5f5"/><circle cx="1241.9" cy="860.8" r="5.3" fill="#93d5f5"/><circle cx="1259.8" cy="856.0" r="5.5" fill="#5576b6"/><circle cx="1178.1" cy="866.1" r="4.7" fill="#93d5f5"/><circle cx="1303.7" cy="853.9" r="5.9" fill="#5576b6"/><circle cx="1107.9" cy="862.1" r="4.0" fill="#93d5f5"/><circle cx="1224.8" cy="858.8" r="5.1" fill="#5576b6"/><circle cx="1177.4" cy="865.8" r="4.7" fill="#93d5f5"/><circle cx="1187.6" cy="856.8" r="4.8" fill="#93d5f5"/><circle cx="1169.6" cy="865.8" r="4.6" fill="#93d5f5"/><circle cx="1126.3" cy="866.0" r="4.2" fill="#93d5f5"/><circle cx="1293.1" cy="847.8" r="5.8" fill="#5576b6"/><circle cx="1229.4" cy="863.4" r="5.2" fill="#93d5f5"/><circle cx="1130.1" cy="861.0" r="4.2" fill="#93d5f5"/><circle cx="1205.8" cy="859.4" r="5.0" fill="#93d5f5"/><circle cx="1239.8" cy="855.2" r="5.3" fill="#5576b6"/><circle cx="1144.7" cy="868.0" r="4.4" fill="#93d5f5"/><circle cx="1199.6" cy="865.4" r="4.9" fill="#93d5f5"/><circle cx="1236.4" cy="857.3" r="5.2" fill="#93d5f5"/><circle cx="1221.1" cy="862.8" r="5.1" fill="#93d5f5"/><circle cx="1145.9" cy="864.0" r="4.4" fill="#93d5f5"/><circle cx="1249.2" cy="847.9" r="5.4" fill="#5576b6"/><circle cx="1204.3" cy="864.2" r="4.9" fill="#5576b6"/><circle cx="1314.4" cy="843.6" r="6.0" fill="#5576b6"/><circle cx="1122.1" cy="865.2" r="4.2" fill="#93d5f5"/><circle cx="1271.6" cy="857.4" r="5.6" fill="#93d5f5"/><circle cx="1137.4" cy="865.6" r="4.3" fill="#93d5f5"/><circle cx="1229.3" cy="863.5" r="5.2" fill="#93d5f5"/><circle cx="1244.9" cy="855.4" r="5.3" fill="#93d5f5"/><circle cx="1124.5" cy="861.3" r="4.2" fill="#93d5f5"/><circle cx="1322.3" cy="837.3" r="6.0" fill="#5576b6"/><circle cx="1253.9" cy="859.7" r="5.4" fill="#93d5f5"/><circle cx="1273.1" cy="853.9" r="5.6" fill="#5576b6"/><circle cx="1307.1" cy="850.6" r="5.9" fill="#5576b6"/><circle cx="1106.0" cy="858.6" r="4.0" fill="#93d5f5"/><circle cx="1309.2" cy="837.1" r="5.9" fill="#5576b6"/><circle cx="1113.3" cy="866.9" r="4.1" fill="#93d5f5"/><circle cx="1143.3" cy="868.4" r="4.4" fill="#93d5f5"/><circle cx="1272.9" cy="853.6" r="5.6" fill="#5576b6"/><circle cx="1181.8" cy="867.0" r="4.7" fill="#93d5f5"/><circle cx="1165.3" cy="874.3" r="4.6" fill="#93d5f5"/><circle cx="1120.3" cy="862.7" r="4.1" fill="#93d5f5"/><circle cx="1281.9" cy="856.2" r="5.7" fill="#93d5f5"/><circle cx="1105.1" cy="857.6" r="4.0" fill="#93d5f5"/><circle cx="1178.3" cy="868.0" r="4.7" fill="#93d5f5"/><circle cx="1237.3" cy="859.0" r="5.3" fill="#93d5f5"/><circle cx="1147.1" cy="862.8" r="4.4" fill="#93d5f5"/><circle cx="1278.0" cy="856.1" r="5.6" fill="#5576b6"/><circle cx="1141.6" cy="860.3" r="4.3" fill="#93d5f5"/><circle cx="1321.0" cy="846.3" r="6.0" fill="#5576b6"/><circle cx="1216.8" cy="863.6" r="5.1" fill="#93d5f5"/><circle cx="1316.4" cy="845.1" r="6.0" fill="#5576b6"/><circle cx="1151.0" cy="866.4" r="4.4" fill="#93d5f5"/><circle cx="1246.8" cy="863.7" r="5.3" fill="#5576b6"/><circle cx="1272.8" cy="859.2" r="5.6" fill="#5576b6"/><circle cx="1128.9" cy="859.4" r="4.2" fill="#93d5f5"/><circle cx="1118.1" cy="854.8" r="4.1" fill="#93d5f5"/><circle cx="1145.1" cy="874.4" r="4.4" fill="#93d5f5"/><circle cx="1289.3" cy="849.5" r="5.8" fill="#5576b6"/><circle cx="1119.6" cy="861.2" r="4.1" fill="#93d5f5"/><circle cx="1182.2" cy="860.7" r="4.7" fill="#93d5f5"/><circle cx="1159.4" cy="861.9" r="4.5" fill="#93d5f5"/><circle cx="1315.3" cy="846.0" r="6.0" fill="#5576b6"/><circle cx="1168.4" cy="866.2" r="4.6" fill="#93d5f5"/><circle cx="1188.4" cy="864.7" r="4.8" fill="#93d5f5"/><circle cx="1266.1" cy="861.1" r="5.5" fill="#5576b6"/><circle cx="1124.2" cy="872.3" r="4.2" fill="#93d5f5"/><circle cx="1155.0" cy="855.7" r="4.5" fill="#93d5f5"/><circle cx="1192.3" cy="860.0" r="4.8" fill="#5576b6"/><circle cx="1092.6" cy="867.2" r="3.9" fill="#93d5f5"/><circle cx="1259.9" cy="861.6" r="5.5" fill="#5576b6"/><circle cx="1173.5" cy="861.1" r="4.6" fill="#93d5f5"/><circle cx="1098.1" cy="858.5" r="3.9" fill="#93d5f5"/><circle cx="1136.3" cy="866.6" r="4.3" fill="#93d5f5"/><circle cx="1208.2" cy="860.9" r="5.0" fill="#5576b6"/><circle cx="1282.5" cy="858.3" r="5.7" fill="#5576b6"/><circle cx="1121.0" cy="865.0" r="4.1" fill="#93d5f5"/><circle cx="1179.4" cy="870.6" r="4.7" fill="#93d5f5"/><circle cx="1157.9" cy="876.4" r="4.5" fill="#93d5f5"/><circle cx="1311.1" cy="840.6" r="6.0" fill="#5576b6"/><circle cx="1323.7" cy="842.6" r="6.0" fill="#5576b6"/><circle cx="1128.8" cy="861.8" r="4.2" fill="#93d5f5"/><circle cx="1223.2" cy="856.9" r="5.1" fill="#93d5f5"/><circle cx="1314.0" cy="848.9" r="6.0" fill="#5576b6"/><circle cx="1141.7" cy="860.7" r="4.3" fill="#93d5f5"/><circle cx="1323.3" cy="847.3" r="6.0" fill="#5576b6"/><circle cx="1232.4" cy="858.9" r="5.2" fill="#5576b6"/><circle cx="1165.2" cy="868.7" r="4.6" fill="#93d5f5"/><circle cx="1212.7" cy="854.4" r="5.0" fill="#93d5f5"/><circle cx="1236.2" cy="859.1" r="5.2" fill="#5576b6"/><circle cx="1196.0" cy="865.7" r="4.9" fill="#93d5f5"/><circle cx="1301.7" cy="851.5" r="5.9" fill="#5576b6"/><circle cx="1273.0" cy="854.0" r="5.6" fill="#5576b6"/><circle cx="1204.2" cy="868.0" r="4.9" fill="#93d5f5"/><circle cx="1136.7" cy="861.4" r="4.3" fill="#93d5f5"/><circle cx="1285.2" cy="851.4" r="5.7" fill="#5576b6"/><circle cx="1094.2" cy="862.5" r="3.9" fill="#93d5f5"/><circle cx="1172.2" cy="857.3" r="4.6" fill="#93d5f5"/><circle cx="1126.9" cy="868.9" r="4.2" fill="#93d5f5"/><circle cx="1221.3" cy="866.2" r="5.1" fill="#93d5f5"/><circle cx="1088.9" cy="865.8" r="3.8" fill="#93d5f5"/><circle cx="1105.8" cy="860.7" r="4.0" fill="#93d5f5"/><circle cx="1249.7" cy="863.8" r="5.4" fill="#93d5f5"/><circle cx="1238.3" cy="862.5" r="5.3" fill="#5576b6"/><circle cx="1181.0" cy="851.9" r="4.7" fill="#93d5f5"/><circle cx="1281.6" cy="853.2" r="5.7" fill="#5576b6"/><circle cx="1169.5" cy="864.3" r="4.6" fill="#93d5f5"/><circle cx="1220.3" cy="863.2" r="5.1" fill="#93d5f5"/><circle cx="1101.7" cy="856.3" r="4.0" fill="#93d5f5"/><circle cx="1157.6" cy="869.9" r="4.5" fill="#93d5f5"/><circle cx="1115.9" cy="868.8" r="4.1" fill="#93d5f5"/><circle cx="1156.8" cy="864.9" r="4.5" fill="#93d5f5"/><circle cx="1191.1" cy="861.7" r="4.8" fill="#93d5f5"/><circle cx="1117.8" cy="862.3" r="4.1" fill="#93d5f5"/><circle cx="1318.3" cy="835.1" r="6.0" fill="#5576b6"/><circle cx="1116.9" cy="861.8" r="4.1" fill="#93d5f5"/><circle cx="1208.1" cy="855.7" r="5.0" fill="#5576b6"/><circle cx="1158.9" cy="861.7" r="4.5" fill="#93d5f5"/><circle cx="1287.7" cy="848.0" r="5.7" fill="#93d5f5"/><circle cx="1162.8" cy="859.4" r="4.5" fill="#93d5f5"/><circle cx="1146.7" cy="861.4" r="4.4" fill="#93d5f5"/><circle cx="1309.8" cy="848.5" r="5.9" fill="#5576b6"/><circle cx="1135.0" cy="868.4" r="4.3" fill="#93d5f5"/><circle cx="1233.6" cy="858.4" r="5.2" fill="#93d5f5"/><circle cx="1251.0" cy="865.3" r="5.4" fill="#5576b6"/><circle cx="1134.0" cy="865.0" r="4.3" fill="#93d5f5"/><circle cx="1152.3" cy="862.9" r="4.4" fill="#93d5f5"/><circle cx="1096.0" cy="861.1" r="3.9" fill="#93d5f5"/><circle cx="1315.2" cy="848.5" r="6.0" fill="#5576b6"/><circle cx="1253.2" cy="857.2" r="5.4" fill="#5576b6"/><circle cx="1184.0" cy="865.4" r="4.7" fill="#93d5f5"/><circle cx="1188.5" cy="863.8" r="4.8" fill="#93d5f5"/><circle cx="1170.6" cy="864.9" r="4.6" fill="#93d5f5"/><circle cx="1204.6" cy="863.3" r="4.9" fill="#5576b6"/><circle cx="1118.2" cy="872.1" r="4.1" fill="#93d5f5"/><circle cx="1287.6" cy="848.1" r="5.7" fill="#5576b6"/><circle cx="1316.6" cy="843.2" r="6.0" fill="#5576b6"/><circle cx="1275.5" cy="850.1" r="5.6" fill="#5576b6"/><circle cx="1163.2" cy="857.3" r="4.5" fill="#93d5f5"/><circle cx="1144.0" cy="856.9" r="4.4" fill="#93d5f5"/><circle cx="1254.4" cy="851.1" r="5.4" fill="#5576b6"/><circle cx="1219.2" cy="858.6" r="5.1" fill="#93d5f5"/><circle cx="1276.7" cy="848.4" r="5.6" fill="#5576b6"/><circle cx="1098.3" cy="873.0" r="3.9" fill="#93d5f5"/><circle cx="1094.7" cy="868.6" r="3.9" fill="#93d5f5"/><circle cx="1285.1" cy="854.2" r="5.7" fill="#5576b6"/><circle cx="1252.1" cy="860.6" r="5.4" fill="#93d5f5"/><circle cx="1140.1" cy="858.3" r="4.3" fill="#93d5f5"/><circle cx="1200.0" cy="864.2" r="4.9" fill="#93d5f5"/><circle cx="1200.2" cy="861.9" r="4.9" fill="#93d5f5"/><circle cx="1287.2" cy="855.8" r="5.7" fill="#5576b6"/><circle cx="1144.5" cy="864.9" r="4.4" fill="#93d5f5"/><circle cx="1305.7" cy="845.2" r="5.9" fill="#5576b6"/><circle cx="1107.3" cy="864.9" r="4.0" fill="#93d5f5"/><circle cx="1169.1" cy="862.7" r="4.6" fill="#93d5f5"/><circle cx="1306.0" cy="838.7" r="5.9" fill="#5576b6"/><circle cx="1178.2" cy="868.2" r="4.7" fill="#93d5f5"/><circle cx="1132.3" cy="869.6" r="4.3" fill="#93d5f5"/><circle cx="1222.5" cy="853.6" r="5.1" fill="#93d5f5"/><circle cx="1285.2" cy="851.7" r="5.7" fill="#5576b6"/><circle cx="1207.8" cy="857.3" r="5.0" fill="#93d5f5"/><circle cx="1133.0" cy="870.6" r="4.3" fill="#93d5f5"/><circle cx="1157.4" cy="864.0" r="4.5" fill="#93d5f5"/><circle cx="1241.0" cy="856.1" r="5.3" fill="#93d5f5"/><circle cx="1227.6" cy="868.4" r="5.2" fill="#5576b6"/><circle cx="1227.4" cy="858.4" r="5.2" fill="#93d5f5"/><circle cx="1167.0" cy="862.0" r="4.6" fill="#93d5f5"/><circle cx="1261.3" cy="853.5" r="5.5" fill="#5576b6"/><circle cx="1282.1" cy="850.6" r="5.7" fill="#5576b6"/><circle cx="1150.7" cy="864.8" r="4.4" fill="#93d5f5"/><circle cx="1095.2" cy="865.4" r="3.9" fill="#93d5f5"/><circle cx="1213.8" cy="856.4" r="5.0" fill="#93d5f5"/><circle cx="1113.9" cy="858.8" r="4.1" fill="#93d5f5"/><circle cx="1215.6" cy="853.2" r="5.0" fill="#5576b6"/><circle cx="1299.7" cy="842.3" r="5.9" fill="#5576b6"/><circle cx="1176.1" cy="865.1" r="4.7" fill="#93d5f5"/><circle cx="1222.0" cy="860.6" r="5.1" fill="#5576b6"/><circle cx="1183.7" cy="858.1" r="4.7" fill="#93d5f5"/><circle cx="1179.8" cy="865.2" r="4.7" fill="#93d5f5"/><circle cx="1186.8" cy="861.6" r="4.8" fill="#93d5f5"/><circle cx="1270.9" cy="853.8" r="5.6" fill="#5576b6"/><circle cx="1262.6" cy="853.3" r="5.5" fill="#5576b6"/><circle cx="1169.9" cy="859.2" r="4.6" fill="#93d5f5"/><circle cx="1119.1" cy="868.3" r="4.1" fill="#93d5f5"/><circle cx="1227.0" cy="853.9" r="5.2" fill="#93d5f5"/><circle cx="1184.6" cy="865.6" r="4.8" fill="#5576b6"/><circle cx="1168.9" cy="864.1" r="4.6" fill="#93d5f5"/><circle cx="1303.4" cy="845.6" r="5.9" fill="#5576b6"/><circle cx="1119.8" cy="854.3" r="4.1" fill="#93d5f5"/><circle cx="1159.6" cy="857.5" r="4.5" fill="#93d5f5"/><circle cx="1137.6" cy="859.7" r="4.3" fill="#93d5f5"/><circle cx="1105.2" cy="864.2" r="4.0" fill="#93d5f5"/><circle cx="1119.6" cy="862.7" r="4.1" fill="#93d5f5"/><circle cx="1214.4" cy="869.6" r="5.0" fill="#5576b6"/><circle cx="1257.7" cy="849.2" r="5.5" fill="#5576b6"/><circle cx="1299.0" cy="844.4" r="5.8" fill="#5576b6"/><circle cx="1263.1" cy="858.1" r="5.5" fill="#5576b6"/><circle cx="1190.0" cy="861.9" r="4.8" fill="#93d5f5"/><circle cx="1217.4" cy="866.8" r="5.1" fill="#5576b6"/><circle cx="1233.5" cy="860.3" r="5.2" fill="#5576b6"/><circle cx="1211.7" cy="860.1" r="5.0" fill="#5576b6"/><circle cx="1157.1" cy="856.1" r="4.5" fill="#93d5f5"/><circle cx="1159.0" cy="866.6" r="4.5" fill="#93d5f5"/><circle cx="1299.3" cy="848.4" r="5.8" fill="#5576b6"/><circle cx="1139.4" cy="871.1" r="4.3" fill="#93d5f5"/><circle cx="1301.5" cy="842.2" r="5.9" fill="#5576b6"/><circle cx="1167.4" cy="864.7" r="4.6" fill="#93d5f5"/><circle cx="1286.4" cy="850.2" r="5.7" fill="#93d5f5"/><circle cx="1284.4" cy="855.4" r="5.7" fill="#5576b6"/><circle cx="1221.1" cy="866.2" r="5.1" fill="#5576b6"/><circle cx="1309.4" cy="848.2" r="5.9" fill="#93d5f5"/><circle cx="1234.8" cy="859.0" r="5.2" fill="#5576b6"/><circle cx="1288.0" cy="854.1" r="5.7" fill="#93d5f5"/><circle cx="1163.0" cy="867.8" r="4.5" fill="#93d5f5"/><circle cx="1223.0" cy="857.8" r="5.1" fill="#93d5f5"/><circle cx="1135.7" cy="858.0" r="4.3" fill="#93d5f5"/><circle cx="1126.7" cy="873.3" r="4.2" fill="#93d5f5"/><circle cx="1288.7" cy="854.2" r="5.7" fill="#5576b6"/><circle cx="1277.5" cy="854.0" r="5.6" fill="#93d5f5"/><circle cx="1149.4" cy="860.3" r="4.4" fill="#93d5f5"/><circle cx="1222.4" cy="854.4" r="5.1" fill="#93d5f5"/><circle cx="1298.2" cy="846.0" r="5.8" fill="#5576b6"/><circle cx="1300.5" cy="838.1" r="5.9" fill="#5576b6"/><circle cx="1279.7" cy="849.3" r="5.7" fill="#5576b6"/><circle cx="1227.1" cy="858.0" r="5.2" fill="#5576b6"/><circle cx="1266.2" cy="857.1" r="5.5" fill="#93d5f5"/><circle cx="1142.1" cy="869.2" r="4.3" fill="#93d5f5"/><circle cx="1287.4" cy="851.5" r="5.7" fill="#5576b6"/><circle cx="1272.4" cy="855.1" r="5.6" fill="#93d5f5"/><circle cx="1123.2" cy="863.5" r="4.2" fill="#93d5f5"/><circle cx="1095.4" cy="865.9" r="3.9" fill="#93d5f5"/><circle cx="1310.5" cy="844.5" r="6.0" fill="#5576b6"/><circle cx="1257.2" cy="856.0" r="5.4" fill="#5576b6"/><circle cx="1117.2" cy="864.3" r="4.1" fill="#93d5f5"/><circle cx="1196.2" cy="861.6" r="4.9" fill="#93d5f5"/><circle cx="1163.0" cy="862.1" r="4.5" fill="#93d5f5"/><circle cx="1191.6" cy="862.9" r="4.8" fill="#93d5f5"/><circle cx="1132.9" cy="868.4" r="4.3" fill="#93d5f5"/><circle cx="1098.4" cy="856.4" r="3.9" fill="#93d5f5"/><circle cx="1200.2" cy="866.0" r="4.9" fill="#93d5f5"/><circle cx="1265.2" cy="860.5" r="5.5" fill="#5576b6"/><circle cx="1182.8" cy="865.7" r="4.7" fill="#93d5f5"/><circle cx="1131.1" cy="866.4" r="4.2" fill="#93d5f5"/><circle cx="1292.2" cy="846.3" r="5.8" fill="#5576b6"/><circle cx="1262.3" cy="845.6" r="5.5" fill="#5576b6"/><circle cx="1264.0" cy="851.8" r="5.5" fill="#5576b6"/><circle cx="1230.9" cy="857.7" r="5.2" fill="#5576b6"/><circle cx="1178.8" cy="866.0" r="4.7" fill="#93d5f5"/><circle cx="1268.3" cy="850.3" r="5.6" fill="#93d5f5"/><circle cx="1156.5" cy="862.2" r="4.5" fill="#93d5f5"/><circle cx="1293.4" cy="846.8" r="5.8" fill="#5576b6"/><circle cx="1265.7" cy="858.7" r="5.5" fill="#93d5f5"/><circle cx="1133.1" cy="865.8" r="4.3" fill="#93d5f5"/><circle cx="1211.6" cy="870.4" r="5.0" fill="#93d5f5"/><circle cx="1319.6" cy="835.6" r="6.0" fill="#5576b6"/><circle cx="1299.2" cy="847.9" r="5.8" fill="#5576b6"/><circle cx="1207.5" cy="856.8" r="5.0" fill="#5576b6"/><circle cx="1167.4" cy="858.8" r="4.6" fill="#93d5f5"/><circle cx="1206.9" cy="865.9" r="5.0" fill="#93d5f5"/><circle cx="1161.7" cy="869.9" r="4.5" fill="#93d5f5"/><circle cx="1164.5" cy="867.6" r="4.6" fill="#93d5f5"/><circle cx="1208.1" cy="854.8" r="5.0" fill="#93d5f5"/><circle cx="1283.4" cy="853.2" r="5.7" fill="#93d5f5"/><circle cx="1093.2" cy="859.7" r="3.9" fill="#93d5f5"/><circle cx="1294.3" cy="852.8" r="5.8" fill="#5576b6"/><circle cx="1193.2" cy="863.6" r="4.8" fill="#5576b6"/><circle cx="1171.0" cy="862.6" r="4.6" fill="#93d5f5"/><circle cx="1091.0" cy="871.5" r="3.9" fill="#93d5f5"/><circle cx="1107.0" cy="866.5" r="4.0" fill="#93d5f5"/><circle cx="1250.8" cy="849.8" r="5.4" fill="#5576b6"/><circle cx="1264.6" cy="857.4" r="5.5" fill="#93d5f5"/><circle cx="1218.9" cy="865.0" r="5.1" fill="#93d5f5"/><circle cx="1149.4" cy="863.7" r="4.4" fill="#93d5f5"/><circle cx="1237.0" cy="862.3" r="5.3" fill="#5576b6"/><circle cx="1294.9" cy="846.8" r="5.8" fill="#5576b6"/><circle cx="1202.2" cy="856.6" r="4.9" fill="#93d5f5"/><circle cx="1134.9" cy="875.8" r="4.3" fill="#93d5f5"/><circle cx="1140.0" cy="867.5" r="4.3" fill="#93d5f5"/><circle cx="1113.6" cy="854.1" r="4.1" fill="#93d5f5"/><circle cx="1097.6" cy="864.4" r="3.9" fill="#93d5f5"/><circle cx="1225.1" cy="857.2" r="5.1" fill="#5576b6"/><circle cx="1239.5" cy="851.0" r="5.3" fill="#93d5f5"/><circle cx="1253.3" cy="856.7" r="5.4" fill="#93d5f5"/><circle cx="1157.8" cy="861.2" r="4.5" fill="#93d5f5"/><circle cx="1263.0" cy="848.1" r="5.5" fill="#93d5f5"/><circle cx="1183.6" cy="860.9" r="4.7" fill="#93d5f5"/><circle cx="1166.2" cy="861.0" r="4.6" fill="#93d5f5"/><circle cx="1207.1" cy="863.0" r="5.0" fill="#93d5f5"/><circle cx="1223.0" cy="856.9" r="5.1" fill="#93d5f5"/><circle cx="1180.2" cy="853.0" r="4.7" fill="#93d5f5"/><circle cx="1097.5" cy="858.0" r="3.9" fill="#93d5f5"/><circle cx="1195.4" cy="865.6" r="4.9" fill="#5576b6"/><circle cx="1275.5" cy="846.6" r="5.6" fill="#93d5f5"/><circle cx="1199.9" cy="862.4" r="4.9" fill="#93d5f5"/><circle cx="1287.5" cy="845.6" r="5.7" fill="#5576b6"/><circle cx="1096.6" cy="867.5" r="3.9" fill="#93d5f5"/><circle cx="1109.2" cy="870.3" r="4.0" fill="#93d5f5"/><circle cx="1171.1" cy="865.9" r="4.6" fill="#93d5f5"/><circle cx="1090.6" cy="868.8" r="3.9" fill="#93d5f5"/><circle cx="1253.5" cy="854.4" r="5.4" fill="#93d5f5"/><circle cx="1294.0" cy="848.9" r="5.8" fill="#5576b6"/><circle cx="1274.6" cy="846.6" r="5.6" fill="#5576b6"/><circle cx="1166.9" cy="866.1" r="4.6" fill="#93d5f5"/><circle cx="1186.2" cy="864.7" r="4.8" fill="#93d5f5"/><circle cx="1104.6" cy="855.8" r="4.0" fill="#93d5f5"/><circle cx="1168.9" cy="870.2" r="4.6" fill="#93d5f5"/><circle cx="1320.5" cy="842.0" r="6.0" fill="#5576b6"/><circle cx="1321.7" cy="842.0" r="6.0" fill="#5576b6"/><circle cx="1286.2" cy="852.9" r="5.7" fill="#5576b6"/><circle cx="1208.1" cy="865.0" r="5.0" fill="#93d5f5"/><circle cx="1136.0" cy="858.7" r="4.3" fill="#93d5f5"/><circle cx="1235.1" cy="863.0" r="5.2" fill="#93d5f5"/><circle cx="1309.9" cy="836.3" r="5.9" fill="#5576b6"/><circle cx="1187.8" cy="863.2" r="4.8" fill="#93d5f5"/><circle cx="1265.6" cy="847.3" r="5.5" fill="#5576b6"/><circle cx="1240.0" cy="855.6" r="5.3" fill="#93d5f5"/><circle cx="1091.8" cy="633.8" r="2.0" fill="#5ccff9"/><circle cx="1289.3" cy="795.0" r="5.6" fill="#5ccff9"/><circle cx="1285.9" cy="801.1" r="5.6" fill="#5ccff9"/><circle cx="1292.6" cy="808.4" r="5.6" fill="#5ccff9"/><circle cx="1282.6" cy="814.4" r="5.6" fill="#5ccff9"/><circle cx="1296.0" cy="818.1" r="5.6" fill="#5ccff9"/><circle cx="1289.3" cy="825.3" r="5.6" fill="#5ccff9"/><circle cx="1274.2" cy="819.3" r="5.6" fill="#5ccff9"/><circle cx="1265.9" cy="821.7" r="5.6" fill="#5ccff9"/><circle cx="1257.5" cy="825.3" r="5.6" fill="#5ccff9"/><circle cx="1247.4" cy="830.2" r="5.6" fill="#5ccff9"/><circle cx="1280.9" cy="830.2" r="5.6" fill="#5ccff9"/><circle cx="1299.3" cy="826.5" r="5.6" fill="#5ccff9"/><circle cx="1252.5" cy="838.7" r="5.6" fill="#5ccff9"/><circle cx="1302.7" cy="819.3" r="5.6" fill="#5ccff9"/><circle cx="1297.7" cy="835.0" r="5.8" fill="#5576b6"/><circle cx="1307.7" cy="837.4" r="5.8" fill="#5576b6"/><circle cx="1316.1" cy="842.3" r="5.8" fill="#5576b6"/><circle cx="1324.4" cy="839.9" r="5.8" fill="#5576b6"/><circle cx="1302.7" cy="845.9" r="5.8" fill="#5576b6"/><circle cx="1289.3" cy="844.7" r="5.8" fill="#5576b6"/><circle cx="1277.6" cy="847.1" r="5.8" fill="#5576b6"/><circle cx="1267.5" cy="844.7" r="5.8" fill="#5576b6"/><circle cx="1250.8" cy="844.7" r="5.8" fill="#5576b6"/><circle cx="1240.7" cy="849.6" r="5.8" fill="#5576b6"/><circle cx="1229.0" cy="852.0" r="5.8" fill="#5576b6"/><circle cx="1219.0" cy="855.6" r="5.8" fill="#5576b6"/><circle cx="1208.9" cy="856.8" r="5.8" fill="#5576b6"/></g>
<g><circle cx="1396.0" cy="688.8" r="3.0" fill="#5ccff9"/><circle cx="1401.5" cy="696.5" r="2.5" fill="#5ccff9"/><circle cx="1402.0" cy="664.6" r="2.7" fill="#5ccff9"/><circle cx="1399.3" cy="694.5" r="2.3" fill="#5ccff9"/><circle cx="1399.0" cy="654.7" r="2.0" fill="#5ccff9"/><circle cx="1395.5" cy="683.0" r="2.0" fill="#5ccff9"/><circle cx="1389.8" cy="662.5" r="2.9" fill="#5ccff9"/><circle cx="1400.0" cy="674.5" r="2.8" fill="#5ccff9"/><circle cx="1403.6" cy="657.6" r="2.8" fill="#5ccff9"/><circle cx="1402.8" cy="672.3" r="1.9" fill="#5ccff9"/><circle cx="1400.1" cy="680.5" r="2.9" fill="#5ccff9"/><circle cx="1403.6" cy="685.3" r="3.0" fill="#5ccff9"/><circle cx="1401.6" cy="674.8" r="2.5" fill="#5ccff9"/><circle cx="1399.4" cy="695.5" r="2.4" fill="#5ccff9"/><circle cx="1402.3" cy="662.1" r="2.0" fill="#5ccff9"/><circle cx="1399.2" cy="663.2" r="3.1" fill="#5ccff9"/><circle cx="1400.6" cy="692.0" r="2.6" fill="#5ccff9"/><circle cx="1401.0" cy="695.8" r="1.9" fill="#5ccff9"/><circle cx="1389.9" cy="672.4" r="2.4" fill="#5ccff9"/><circle cx="1400.6" cy="659.7" r="1.9" fill="#5ccff9"/><circle cx="1397.9" cy="661.4" r="3.1" fill="#5ccff9"/><circle cx="1399.0" cy="693.7" r="2.6" fill="#5ccff9"/><circle cx="1398.3" cy="681.2" r="3.2" fill="#5ccff9"/><circle cx="1398.8" cy="638.8" r="2.0" fill="#5ccff9"/><circle cx="1397.3" cy="683.1" r="2.7" fill="#5ccff9"/><circle cx="1389.4" cy="694.4" r="2.3" fill="#5ccff9"/><circle cx="1397.6" cy="651.8" r="1.9" fill="#5ccff9"/><circle cx="1394.9" cy="676.7" r="3.0" fill="#5ccff9"/><circle cx="1396.0" cy="673.5" r="3.2" fill="#5ccff9"/><circle cx="1397.8" cy="663.4" r="1.8" fill="#5ccff9"/><circle cx="1401.7" cy="671.6" r="2.1" fill="#5ccff9"/><circle cx="1396.4" cy="671.0" r="2.3" fill="#5ccff9"/><circle cx="1406.0" cy="690.9" r="2.9" fill="#5ccff9"/><circle cx="1403.9" cy="695.4" r="2.9" fill="#5ccff9"/><circle cx="1402.4" cy="655.6" r="2.1" fill="#5ccff9"/><circle cx="1395.3" cy="653.9" r="2.4" fill="#5ccff9"/><circle cx="1401.9" cy="673.5" r="2.3" fill="#5ccff9"/><circle cx="1412.4" cy="646.8" r="2.3" fill="#5ccff9"/><circle cx="1399.0" cy="647.8" r="2.2" fill="#5ccff9"/><circle cx="1397.9" cy="693.9" r="3.2" fill="#5ccff9"/><circle cx="1405.7" cy="639.5" r="2.6" fill="#5ccff9"/><circle cx="1410.5" cy="696.2" r="1.9" fill="#5ccff9"/><circle cx="1401.6" cy="661.3" r="3.2" fill="#5ccff9"/><circle cx="1404.9" cy="676.2" r="2.0" fill="#5ccff9"/><circle cx="1398.1" cy="691.8" r="2.6" fill="#5ccff9"/><circle cx="1399.5" cy="656.4" r="1.9" fill="#5ccff9"/><circle cx="1393.5" cy="652.4" r="2.3" fill="#5ccff9"/><circle cx="1402.6" cy="645.2" r="2.0" fill="#5ccff9"/><circle cx="1398.7" cy="645.6" r="2.5" fill="#5ccff9"/><circle cx="1392.6" cy="691.1" r="1.9" fill="#5ccff9"/><circle cx="1397.6" cy="660.2" r="1.9" fill="#5ccff9"/><circle cx="1399.9" cy="651.5" r="2.1" fill="#5ccff9"/><circle cx="1403.3" cy="670.3" r="2.6" fill="#5ccff9"/><circle cx="1400.7" cy="674.3" r="2.0" fill="#5ccff9"/><circle cx="1389.2" cy="665.7" r="3.1" fill="#5ccff9"/><circle cx="1401.7" cy="695.2" r="3.2" fill="#5ccff9"/><circle cx="1404.9" cy="666.4" r="2.6" fill="#5ccff9"/><circle cx="1396.7" cy="643.9" r="1.9" fill="#5ccff9"/><circle cx="1396.8" cy="679.4" r="2.8" fill="#5ccff9"/><circle cx="1395.9" cy="654.9" r="1.9" fill="#5ccff9"/><circle cx="1398.8" cy="668.3" r="2.7" fill="#5ccff9"/><circle cx="1395.5" cy="693.8" r="2.6" fill="#5ccff9"/><circle cx="1393.7" cy="683.4" r="3.0" fill="#5ccff9"/><circle cx="1407.3" cy="654.4" r="2.7" fill="#5ccff9"/><circle cx="1401.3" cy="662.1" r="2.7" fill="#5ccff9"/><circle cx="1399.5" cy="657.4" r="2.4" fill="#5ccff9"/><circle cx="1403.2" cy="661.5" r="2.1" fill="#5ccff9"/><circle cx="1401.7" cy="693.1" r="2.3" fill="#5ccff9"/><circle cx="1394.7" cy="695.3" r="2.9" fill="#5ccff9"/><circle cx="1401.5" cy="677.4" r="2.9" fill="#5ccff9"/><circle cx="1412.0" cy="662.5" r="3.2" fill="#5ccff9"/><circle cx="1401.1" cy="639.5" r="3.0" fill="#5ccff9"/><circle cx="1403.8" cy="683.4" r="2.9" fill="#5ccff9"/><circle cx="1403.1" cy="685.7" r="2.1" fill="#5ccff9"/><circle cx="1402.3" cy="642.3" r="3.2" fill="#5ccff9"/><circle cx="1402.0" cy="675.2" r="2.8" fill="#5ccff9"/><circle cx="1394.9" cy="675.4" r="2.7" fill="#5ccff9"/><circle cx="1401.6" cy="683.1" r="2.2" fill="#5ccff9"/><circle cx="1397.3" cy="671.3" r="3.1" fill="#5ccff9"/><circle cx="1400.1" cy="695.6" r="1.9" fill="#5ccff9"/><circle cx="1400.9" cy="682.2" r="3.0" fill="#5ccff9"/><circle cx="1398.9" cy="661.6" r="2.1" fill="#5ccff9"/><circle cx="1403.9" cy="679.4" r="2.9" fill="#5ccff9"/><circle cx="1401.8" cy="640.1" r="2.9" fill="#5ccff9"/><circle cx="1409.3" cy="645.9" r="3.1" fill="#5ccff9"/><circle cx="1394.2" cy="640.6" r="1.9" fill="#5ccff9"/><circle cx="1399.0" cy="661.7" r="2.5" fill="#5ccff9"/><circle cx="1403.7" cy="676.7" r="3.0" fill="#5ccff9"/><circle cx="1397.8" cy="680.8" r="2.4" fill="#5ccff9"/><circle cx="1402.3" cy="661.3" r="2.6" fill="#5ccff9"/><circle cx="1397.6" cy="673.5" r="2.3" fill="#5ccff9"/><circle cx="1401.5" cy="686.9" r="2.6" fill="#5ccff9"/><circle cx="1403.2" cy="658.5" r="2.0" fill="#5ccff9"/><circle cx="1407.3" cy="660.5" r="2.3" fill="#5ccff9"/><circle cx="1394.4" cy="652.5" r="3.0" fill="#5ccff9"/><circle cx="1402.5" cy="654.2" r="2.1" fill="#5ccff9"/><circle cx="1396.3" cy="695.7" r="2.6" fill="#5ccff9"/><circle cx="1399.3" cy="669.5" r="3.0" fill="#5ccff9"/><circle cx="1396.5" cy="666.9" r="1.9" fill="#5ccff9"/><circle cx="1408.4" cy="655.1" r="2.2" fill="#5ccff9"/><circle cx="1398.7" cy="696.2" r="3.1" fill="#5ccff9"/><circle cx="1400.1" cy="694.4" r="2.0" fill="#5ccff9"/><circle cx="1401.5" cy="648.9" r="3.2" fill="#5ccff9"/><circle cx="1402.2" cy="659.1" r="2.4" fill="#5ccff9"/><circle cx="1404.7" cy="689.0" r="2.8" fill="#5ccff9"/><circle cx="1396.8" cy="676.0" r="2.2" fill="#5ccff9"/><circle cx="1398.5" cy="686.2" r="2.7" fill="#5ccff9"/><circle cx="1404.6" cy="646.3" r="2.6" fill="#5ccff9"/><circle cx="1407.5" cy="695.7" r="2.5" fill="#5ccff9"/><circle cx="1400.9" cy="646.5" r="2.7" fill="#5ccff9"/><circle cx="1407.0" cy="681.0" r="2.0" fill="#5ccff9"/><circle cx="1396.1" cy="670.6" r="2.8" fill="#5ccff9"/><circle cx="1400.9" cy="653.3" r="2.3" fill="#5ccff9"/><circle cx="1404.6" cy="661.9" r="2.6" fill="#5ccff9"/><circle cx="1401.4" cy="686.0" r="2.9" fill="#5ccff9"/><circle cx="1400.0" cy="657.9" r="1.9" fill="#5ccff9"/><circle cx="1402.6" cy="665.3" r="3.1" fill="#5ccff9"/><circle cx="1402.8" cy="684.3" r="2.1" fill="#5ccff9"/><circle cx="1398.5" cy="647.6" r="3.2" fill="#5ccff9"/><circle cx="1395.9" cy="642.4" r="2.8" fill="#5ccff9"/><circle cx="1398.8" cy="649.8" r="2.4" fill="#5ccff9"/><circle cx="1400.5" cy="669.9" r="2.7" fill="#5ccff9"/><circle cx="1406.3" cy="643.5" r="3.1" fill="#5ccff9"/><circle cx="1399.1" cy="691.9" r="2.3" fill="#5ccff9"/><circle cx="1406.6" cy="640.5" r="2.1" fill="#5ccff9"/><circle cx="1395.3" cy="666.0" r="3.1" fill="#5ccff9"/><circle cx="1393.7" cy="640.1" r="2.0" fill="#5ccff9"/><circle cx="1398.7" cy="693.6" r="3.0" fill="#5ccff9"/><circle cx="1397.7" cy="648.4" r="2.2" fill="#5ccff9"/><circle cx="1398.9" cy="689.3" r="2.2" fill="#5ccff9"/><circle cx="1405.1" cy="651.5" r="2.4" fill="#5ccff9"/><circle cx="1401.5" cy="640.7" r="1.9" fill="#5ccff9"/><circle cx="1401.6" cy="663.4" r="2.1" fill="#5ccff9"/><circle cx="1402.7" cy="658.0" r="2.5" fill="#5ccff9"/><circle cx="1392.5" cy="650.9" r="3.1" fill="#5ccff9"/><circle cx="1396.0" cy="688.0" r="2.3" fill="#5ccff9"/><circle cx="1405.0" cy="680.2" r="2.5" fill="#5ccff9"/><circle cx="1399.3" cy="686.3" r="3.0" fill="#5ccff9"/><circle cx="1399.1" cy="640.8" r="2.5" fill="#5ccff9"/><circle cx="1398.9" cy="682.1" r="2.7" fill="#5ccff9"/><circle cx="1404.5" cy="696.0" r="2.1" fill="#5ccff9"/><circle cx="1399.1" cy="693.4" r="2.5" fill="#5ccff9"/><circle cx="1397.0" cy="684.9" r="1.8" fill="#5ccff9"/><circle cx="1408.9" cy="669.8" r="2.0" fill="#5ccff9"/><circle cx="1399.2" cy="686.5" r="2.7" fill="#5ccff9"/><circle cx="1403.5" cy="642.4" r="2.3" fill="#5ccff9"/><circle cx="1397.8" cy="643.6" r="2.6" fill="#5ccff9"/><circle cx="1397.3" cy="695.2" r="2.8" fill="#5ccff9"/><circle cx="1400.8" cy="695.7" r="3.0" fill="#5ccff9"/><circle cx="1401.8" cy="655.6" r="2.3" fill="#5ccff9"/><circle cx="1393.6" cy="692.5" r="2.8" fill="#5ccff9"/><circle cx="1397.8" cy="655.6" r="3.1" fill="#5ccff9"/><circle cx="1406.1" cy="667.3" r="3.0" fill="#5ccff9"/><circle cx="1402.7" cy="675.7" r="2.7" fill="#5ccff9"/><circle cx="1403.9" cy="666.9" r="3.1" fill="#5ccff9"/><circle cx="1397.8" cy="694.9" r="3.2" fill="#5ccff9"/><circle cx="1398.4" cy="680.1" r="2.9" fill="#5ccff9"/><circle cx="1405.2" cy="665.9" r="2.8" fill="#5ccff9"/><circle cx="1408.1" cy="649.1" r="2.8" fill="#5ccff9"/><circle cx="1406.3" cy="683.9" r="2.2" fill="#5ccff9"/><circle cx="1398.8" cy="641.4" r="2.4" fill="#5ccff9"/><circle cx="1400.9" cy="641.4" r="2.1" fill="#5ccff9"/><circle cx="1395.4" cy="659.4" r="2.4" fill="#5ccff9"/><circle cx="1393.7" cy="695.7" r="2.4" fill="#5ccff9"/><circle cx="1391.7" cy="640.2" r="3.1" fill="#5ccff9"/><circle cx="1407.6" cy="639.8" r="2.0" fill="#5ccff9"/><circle cx="1404.3" cy="696.4" r="2.0" fill="#5ccff9"/><circle cx="1401.2" cy="663.3" r="2.1" fill="#5ccff9"/><circle cx="1396.9" cy="680.9" r="3.2" fill="#5ccff9"/><circle cx="1397.5" cy="686.0" r="3.0" fill="#5ccff9"/><circle cx="1417.6" cy="625.9" r="1.5" fill="#5ccff9"/><circle cx="1427.8" cy="618.2" r="1.6" fill="#5ccff9"/><circle cx="1415.1" cy="626.2" r="1.8" fill="#5ccff9"/><circle cx="1428.1" cy="626.5" r="1.7" fill="#5ccff9"/><circle cx="1424.8" cy="622.1" r="1.8" fill="#5ccff9"/><circle cx="1420.6" cy="626.8" r="1.8" fill="#5ccff9"/><circle cx="1397.1" cy="634.5" r="2.0" fill="#5ccff9"/><circle cx="1426.8" cy="645.9" r="1.8" fill="#5ccff9"/><circle cx="1420.4" cy="630.3" r="1.5" fill="#5ccff9"/><circle cx="1423.2" cy="624.7" r="1.8" fill="#5ccff9"/><circle cx="1436.9" cy="628.8" r="1.4" fill="#5ccff9"/><circle cx="1406.3" cy="624.6" r="1.5" fill="#5ccff9"/><circle cx="1438.1" cy="624.7" r="2.0" fill="#5ccff9"/><circle cx="1400.9" cy="648.1" r="2.1" fill="#5ccff9"/><circle cx="1416.9" cy="633.4" r="1.8" fill="#5ccff9"/><circle cx="1428.9" cy="635.7" r="2.0" fill="#5ccff9"/><circle cx="1400.5" cy="615.1" r="2.0" fill="#5ccff9"/><circle cx="1407.8" cy="632.2" r="2.1" fill="#5ccff9"/><circle cx="1408.2" cy="624.7" r="2.1" fill="#5ccff9"/><circle cx="1437.9" cy="639.7" r="2.0" fill="#5ccff9"/><circle cx="1421.4" cy="620.9" r="1.5" fill="#5ccff9"/><circle cx="1412.3" cy="633.1" r="2.1" fill="#5ccff9"/><circle cx="1400.9" cy="762.9" r="3.7" fill="#93d5f5"/><circle cx="1400.0" cy="746.0" r="3.5" fill="#5ccff9"/><circle cx="1399.1" cy="705.6" r="2.7" fill="#5ccff9"/><circle cx="1401.8" cy="723.9" r="2.7" fill="#5ccff9"/><circle cx="1402.4" cy="699.7" r="3.0" fill="#93d5f5"/><circle cx="1404.0" cy="794.5" r="3.8" fill="#93d5f5"/><circle cx="1397.1" cy="722.5" r="3.5" fill="#5ccff9"/><circle cx="1402.2" cy="788.1" r="3.4" fill="#5ccff9"/><circle cx="1405.3" cy="790.1" r="2.6" fill="#5ccff9"/><circle cx="1399.4" cy="742.7" r="3.2" fill="#5ccff9"/><circle cx="1400.3" cy="742.4" r="3.6" fill="#5ccff9"/><circle cx="1400.2" cy="806.7" r="3.6" fill="#93d5f5"/><circle cx="1400.4" cy="775.8" r="3.0" fill="#5ccff9"/><circle cx="1399.2" cy="761.2" r="2.9" fill="#93d5f5"/><circle cx="1403.3" cy="763.5" r="2.9" fill="#93d5f5"/><circle cx="1396.7" cy="744.8" r="2.7" fill="#5ccff9"/><circle cx="1399.5" cy="715.5" r="2.9" fill="#5ccff9"/><circle cx="1403.3" cy="804.4" r="3.4" fill="#93d5f5"/><circle cx="1406.0" cy="800.3" r="3.5" fill="#5ccff9"/><circle cx="1401.5" cy="730.0" r="3.2" fill="#5ccff9"/><circle cx="1399.0" cy="767.9" r="3.2" fill="#5ccff9"/><circle cx="1404.9" cy="789.4" r="3.7" fill="#93d5f5"/><circle cx="1397.8" cy="746.9" r="3.5" fill="#5ccff9"/><circle cx="1397.3" cy="704.4" r="3.2" fill="#5ccff9"/><circle cx="1401.1" cy="708.5" r="3.0" fill="#5ccff9"/><circle cx="1401.6" cy="822.8" r="2.7" fill="#5ccff9"/><circle cx="1401.9" cy="824.1" r="3.6" fill="#93d5f5"/><circle cx="1399.7" cy="726.8" r="3.5" fill="#5ccff9"/><circle cx="1403.1" cy="799.1" r="3.1" fill="#93d5f5"/><circle cx="1396.9" cy="689.9" r="3.7" fill="#5ccff9"/><circle cx="1403.3" cy="797.0" r="3.6" fill="#5ccff9"/><circle cx="1402.9" cy="799.8" r="2.9" fill="#93d5f5"/><circle cx="1400.2" cy="775.8" r="3.5" fill="#93d5f5"/><circle cx="1399.6" cy="805.5" r="3.4" fill="#5ccff9"/><circle cx="1399.9" cy="707.6" r="3.3" fill="#93d5f5"/><circle cx="1399.0" cy="800.8" r="3.1" fill="#93d5f5"/><circle cx="1399.1" cy="727.5" r="2.8" fill="#5ccff9"/><circle cx="1400.2" cy="724.1" r="3.2" fill="#5ccff9"/><circle cx="1399.3" cy="781.4" r="2.8" fill="#93d5f5"/><circle cx="1397.4" cy="687.6" r="3.2" fill="#5ccff9"/><circle cx="1400.0" cy="796.6" r="3.5" fill="#93d5f5"/><circle cx="1400.3" cy="779.0" r="3.4" fill="#93d5f5"/><circle cx="1402.4" cy="806.6" r="3.6" fill="#93d5f5"/><circle cx="1401.4" cy="808.9" r="3.1" fill="#93d5f5"/><circle cx="1401.0" cy="694.7" r="3.6" fill="#5ccff9"/><circle cx="1399.3" cy="754.3" r="2.8" fill="#5ccff9"/><circle cx="1402.7" cy="815.7" r="3.3" fill="#93d5f5"/><circle cx="1402.3" cy="816.0" r="3.8" fill="#93d5f5"/><circle cx="1396.9" cy="768.0" r="3.5" fill="#93d5f5"/><circle cx="1405.2" cy="800.1" r="3.1" fill="#93d5f5"/><circle cx="1403.6" cy="817.7" r="2.9" fill="#5ccff9"/><circle cx="1400.1" cy="699.4" r="2.8" fill="#5ccff9"/><circle cx="1404.0" cy="810.8" r="2.7" fill="#93d5f5"/><circle cx="1400.3" cy="754.0" r="2.6" fill="#5ccff9"/><circle cx="1400.3" cy="759.9" r="3.1" fill="#5ccff9"/><circle cx="1400.7" cy="776.0" r="3.5" fill="#93d5f5"/><circle cx="1402.6" cy="738.7" r="3.7" fill="#5ccff9"/><circle cx="1401.1" cy="823.2" r="2.7" fill="#5ccff9"/><circle cx="1398.4" cy="772.6" r="3.0" fill="#93d5f5"/><circle cx="1401.2" cy="758.6" r="3.7" fill="#5ccff9"/><circle cx="1398.3" cy="693.1" r="3.7" fill="#93d5f5"/><circle cx="1403.6" cy="809.5" r="3.1" fill="#93d5f5"/><circle cx="1394.9" cy="782.6" r="3.2" fill="#93d5f5"/><circle cx="1400.7" cy="780.6" r="3.3" fill="#93d5f5"/><circle cx="1405.2" cy="800.2" r="3.0" fill="#93d5f5"/><circle cx="1403.3" cy="797.8" r="3.3" fill="#5ccff9"/><circle cx="1402.4" cy="745.4" r="3.3" fill="#5ccff9"/><circle cx="1398.4" cy="699.7" r="2.7" fill="#5ccff9"/><circle cx="1406.0" cy="807.6" r="3.2" fill="#93d5f5"/><circle cx="1399.9" cy="720.3" r="3.4" fill="#5ccff9"/><circle cx="1383.0" cy="836.6" r="3.6" fill="#93d5f5"/><circle cx="1372.7" cy="851.2" r="4.3" fill="#93d5f5"/><circle cx="1394.6" cy="823.5" r="3.7" fill="#93d5f5"/><circle cx="1382.1" cy="845.7" r="3.8" fill="#93d5f5"/><circle cx="1397.2" cy="821.6" r="4.2" fill="#93d5f5"/><circle cx="1390.3" cy="831.9" r="3.5" fill="#93d5f5"/><circle cx="1374.5" cy="847.2" r="4.0" fill="#93d5f5"/><circle cx="1372.1" cy="848.8" r="4.3" fill="#93d5f5"/><circle cx="1385.2" cy="839.3" r="4.3" fill="#93d5f5"/><circle cx="1374.3" cy="851.5" r="4.4" fill="#93d5f5"/><circle cx="1378.6" cy="848.9" r="4.2" fill="#93d5f5"/><circle cx="1387.5" cy="835.3" r="4.2" fill="#93d5f5"/><circle cx="1372.7" cy="854.6" r="4.1" fill="#93d5f5"/><circle cx="1374.4" cy="849.5" r="4.2" fill="#93d5f5"/><circle cx="1373.6" cy="848.3" r="4.5" fill="#93d5f5"/><circle cx="1376.0" cy="846.5" r="4.2" fill="#93d5f5"/><circle cx="1372.8" cy="852.2" r="4.1" fill="#93d5f5"/><circle cx="1393.4" cy="830.3" r="4.2" fill="#93d5f5"/><circle cx="1387.4" cy="835.0" r="3.6" fill="#93d5f5"/><circle cx="1378.3" cy="844.8" r="4.0" fill="#93d5f5"/><circle cx="1394.1" cy="825.5" r="4.0" fill="#93d5f5"/><circle cx="1380.9" cy="841.4" r="3.6" fill="#93d5f5"/><circle cx="1379.7" cy="842.5" r="4.3" fill="#93d5f5"/><circle cx="1380.7" cy="841.9" r="4.2" fill="#93d5f5"/><circle cx="1378.6" cy="844.7" r="3.5" fill="#93d5f5"/><circle cx="1389.3" cy="840.5" r="4.4" fill="#93d5f5"/><circle cx="1394.3" cy="823.5" r="4.3" fill="#93d5f5"/><circle cx="1376.0" cy="842.9" r="4.2" fill="#93d5f5"/><circle cx="1389.9" cy="830.2" r="4.4" fill="#93d5f5"/><circle cx="1373.4" cy="843.2" r="4.0" fill="#93d5f5"/><circle cx="1388.9" cy="829.1" r="4.4" fill="#93d5f5"/><circle cx="1381.2" cy="841.3" r="4.0" fill="#93d5f5"/><circle cx="1399.4" cy="816.2" r="3.6" fill="#93d5f5"/><circle cx="1401.3" cy="826.9" r="3.8" fill="#93d5f5"/><circle cx="1382.0" cy="838.0" r="4.1" fill="#93d5f5"/><circle cx="1385.0" cy="831.5" r="4.0" fill="#93d5f5"/><circle cx="1386.6" cy="837.6" r="4.2" fill="#93d5f5"/><circle cx="1379.0" cy="844.8" r="3.5" fill="#93d5f5"/><circle cx="1400.0" cy="816.5" r="4.3" fill="#93d5f5"/><circle cx="1384.0" cy="834.7" r="4.1" fill="#93d5f5"/><circle cx="1378.4" cy="842.8" r="4.2" fill="#93d5f5"/><circle cx="1394.3" cy="820.4" r="4.0" fill="#93d5f5"/><circle cx="1372.2" cy="849.5" r="3.8" fill="#93d5f5"/><circle cx="1390.0" cy="841.4" r="3.6" fill="#93d5f5"/><circle cx="1400.1" cy="822.0" r="4.2" fill="#93d5f5"/><circle cx="1391.5" cy="832.0" r="3.9" fill="#93d5f5"/><circle cx="1388.8" cy="828.6" r="4.0" fill="#93d5f5"/><circle cx="1400.3" cy="823.8" r="4.1" fill="#93d5f5"/><circle cx="1394.5" cy="833.3" r="4.3" fill="#93d5f5"/><circle cx="1386.2" cy="838.4" r="4.0" fill="#93d5f5"/><circle cx="1377.1" cy="849.1" r="3.9" fill="#93d5f5"/><circle cx="1373.1" cy="854.7" r="4.2" fill="#93d5f5"/><circle cx="1390.7" cy="832.8" r="4.4" fill="#93d5f5"/><circle cx="1393.1" cy="830.7" r="4.3" fill="#93d5f5"/><circle cx="1375.6" cy="847.9" r="3.5" fill="#93d5f5"/><circle cx="1400.5" cy="816.9" r="3.7" fill="#93d5f5"/><circle cx="1375.7" cy="846.5" r="4.1" fill="#93d5f5"/><circle cx="1390.8" cy="834.0" r="3.7" fill="#93d5f5"/><circle cx="1372.6" cy="852.6" r="4.3" fill="#93d5f5"/><circle cx="1374.3" cy="855.8" r="3.8" fill="#93d5f5"/><circle cx="1384.8" cy="830.3" r="4.3" fill="#93d5f5"/><circle cx="1400.3" cy="819.9" r="4.4" fill="#93d5f5"/><circle cx="1396.4" cy="827.2" r="4.4" fill="#93d5f5"/><circle cx="1371.4" cy="846.7" r="3.6" fill="#93d5f5"/><circle cx="1400.9" cy="814.2" r="3.9" fill="#93d5f5"/><circle cx="1378.5" cy="840.0" r="3.9" fill="#93d5f5"/><circle cx="1397.7" cy="825.3" r="4.3" fill="#93d5f5"/><circle cx="1381.6" cy="842.6" r="4.3" fill="#93d5f5"/><circle cx="1386.3" cy="833.2" r="3.9" fill="#93d5f5"/><circle cx="1401.0" cy="824.3" r="4.5" fill="#93d5f5"/><circle cx="1387.6" cy="839.6" r="4.2" fill="#93d5f5"/><circle cx="1379.3" cy="844.1" r="4.4" fill="#93d5f5"/><circle cx="1383.8" cy="834.0" r="4.4" fill="#93d5f5"/><circle cx="1398.9" cy="823.1" r="3.8" fill="#93d5f5"/><circle cx="1372.2" cy="855.1" r="3.8" fill="#93d5f5"/><circle cx="1381.8" cy="843.1" r="3.8" fill="#93d5f5"/><circle cx="1373.9" cy="853.3" r="3.9" fill="#93d5f5"/><circle cx="1396.6" cy="824.2" r="3.9" fill="#93d5f5"/><circle cx="1393.8" cy="828.1" r="4.0" fill="#93d5f5"/><circle cx="1378.2" cy="848.9" r="4.2" fill="#93d5f5"/><circle cx="1397.3" cy="818.2" r="4.5" fill="#93d5f5"/><circle cx="1388.7" cy="834.8" r="4.0" fill="#93d5f5"/><circle cx="1400.7" cy="821.7" r="4.4" fill="#93d5f5"/><circle cx="1389.1" cy="834.5" r="4.4" fill="#93d5f5"/><circle cx="1383.4" cy="842.5" r="4.1" fill="#93d5f5"/><circle cx="1397.7" cy="827.8" r="3.9" fill="#93d5f5"/><circle cx="1391.4" cy="829.3" r="4.4" fill="#93d5f5"/><circle cx="1392.0" cy="830.8" r="3.9" fill="#93d5f5"/><circle cx="1372.3" cy="853.0" r="3.7" fill="#93d5f5"/><circle cx="1386.4" cy="836.0" r="4.1" fill="#93d5f5"/><circle cx="1463.7" cy="864.5" r="3.5" fill="#93d5f5"/><circle cx="1423.3" cy="840.1" r="4.1" fill="#93d5f5"/><circle cx="1421.6" cy="836.4" r="3.7" fill="#93d5f5"/><circle cx="1463.7" cy="861.7" r="4.2" fill="#93d5f5"/><circle cx="1437.4" cy="849.9" r="4.1" fill="#93d5f5"/><circle cx="1454.1" cy="851.2" r="3.8" fill="#93d5f5"/><circle cx="1402.0" cy="822.6" r="4.0" fill="#93d5f5"/><circle cx="1426.3" cy="836.2" r="3.9" fill="#93d5f5"/><circle cx="1462.8" cy="864.9" r="4.5" fill="#5576b6"/><circle cx="1447.8" cy="851.8" r="4.1" fill="#93d5f5"/><circle cx="1468.2" cy="865.8" r="3.6" fill="#93d5f5"/><circle cx="1429.7" cy="839.3" r="3.9" fill="#5ccff9"/><circle cx="1421.6" cy="840.0" r="4.1" fill="#93d5f5"/><circle cx="1403.3" cy="828.2" r="3.9" fill="#93d5f5"/><circle cx="1444.1" cy="839.5" r="3.8" fill="#93d5f5"/><circle cx="1456.3" cy="861.4" r="4.3" fill="#93d5f5"/><circle cx="1446.0" cy="851.3" r="3.9" fill="#93d5f5"/><circle cx="1448.4" cy="853.1" r="3.8" fill="#93d5f5"/><circle cx="1450.5" cy="849.1" r="3.8" fill="#93d5f5"/><circle cx="1430.3" cy="837.1" r="4.4" fill="#93d5f5"/><circle cx="1404.9" cy="820.3" r="4.0" fill="#93d5f5"/><circle cx="1431.1" cy="841.5" r="3.5" fill="#93d5f5"/><circle cx="1441.1" cy="842.2" r="4.0" fill="#93d5f5"/><circle cx="1450.1" cy="849.8" r="3.5" fill="#93d5f5"/><circle cx="1428.9" cy="836.5" r="4.4" fill="#93d5f5"/><circle cx="1467.3" cy="853.5" r="4.1" fill="#5ccff9"/><circle cx="1410.0" cy="833.1" r="4.5" fill="#93d5f5"/><circle cx="1426.4" cy="838.0" r="4.4" fill="#93d5f5"/><circle cx="1454.7" cy="851.5" r="3.6" fill="#93d5f5"/><circle cx="1455.9" cy="849.6" r="4.1" fill="#93d5f5"/><circle cx="1409.2" cy="828.0" r="3.7" fill="#93d5f5"/><circle cx="1404.7" cy="823.5" r="3.7" fill="#93d5f5"/><circle cx="1459.0" cy="855.0" r="3.9" fill="#93d5f5"/><circle cx="1437.4" cy="840.5" r="4.4" fill="#5ccff9"/><circle cx="1410.1" cy="836.0" r="4.1" fill="#93d5f5"/><circle cx="1407.2" cy="822.9" r="4.2" fill="#5ccff9"/><circle cx="1407.9" cy="820.5" r="4.3" fill="#93d5f5"/><circle cx="1427.1" cy="833.5" r="4.1" fill="#93d5f5"/><circle cx="1431.0" cy="838.8" r="3.6" fill="#93d5f5"/><circle cx="1453.3" cy="850.0" r="4.2" fill="#5576b6"/><circle cx="1431.2" cy="839.8" r="4.3" fill="#93d5f5"/><circle cx="1465.6" cy="854.6" r="3.8" fill="#93d5f5"/><circle cx="1450.1" cy="839.2" r="4.3" fill="#5576b6"/><circle cx="1432.9" cy="846.0" r="3.7" fill="#93d5f5"/><circle cx="1467.9" cy="860.7" r="4.4" fill="#93d5f5"/><circle cx="1426.0" cy="827.5" r="3.5" fill="#93d5f5"/><circle cx="1460.0" cy="859.0" r="3.9" fill="#93d5f5"/><circle cx="1433.1" cy="841.3" r="3.8" fill="#93d5f5"/><circle cx="1436.3" cy="841.9" r="3.9" fill="#93d5f5"/><circle cx="1464.1" cy="864.6" r="4.2" fill="#93d5f5"/><circle cx="1405.2" cy="822.5" r="4.0" fill="#93d5f5"/><circle cx="1406.7" cy="829.0" r="4.2" fill="#93d5f5"/><circle cx="1412.6" cy="830.4" r="3.5" fill="#93d5f5"/><circle cx="1427.4" cy="839.1" r="3.7" fill="#93d5f5"/><circle cx="1423.3" cy="832.8" r="4.4" fill="#93d5f5"/><circle cx="1417.2" cy="836.0" r="4.2" fill="#93d5f5"/><circle cx="1449.5" cy="847.7" r="4.0" fill="#93d5f5"/><circle cx="1436.8" cy="843.7" r="3.8" fill="#5ccff9"/><circle cx="1453.3" cy="851.4" r="4.0" fill="#93d5f5"/><circle cx="1438.9" cy="847.8" r="4.1" fill="#93d5f5"/><circle cx="1437.7" cy="841.5" r="3.5" fill="#93d5f5"/><circle cx="1448.6" cy="856.6" r="4.0" fill="#93d5f5"/><circle cx="1437.5" cy="842.2" r="3.6" fill="#93d5f5"/><circle cx="1456.2" cy="857.1" r="3.5" fill="#93d5f5"/><circle cx="1438.1" cy="841.3" r="4.4" fill="#93d5f5"/><circle cx="1416.0" cy="833.4" r="4.4" fill="#5ccff9"/><circle cx="1438.5" cy="840.3" r="3.5" fill="#93d5f5"/><circle cx="1416.6" cy="828.3" r="3.6" fill="#93d5f5"/><circle cx="1464.4" cy="863.9" r="3.6" fill="#93d5f5"/><circle cx="1441.6" cy="845.9" r="4.2" fill="#93d5f5"/><circle cx="1459.0" cy="852.9" r="3.6" fill="#93d5f5"/><circle cx="1447.7" cy="852.6" r="3.6" fill="#93d5f5"/><circle cx="1449.5" cy="849.3" r="4.3" fill="#93d5f5"/><circle cx="1450.8" cy="851.7" r="3.9" fill="#93d5f5"/><circle cx="1406.9" cy="822.8" r="3.8" fill="#93d5f5"/><circle cx="1445.7" cy="841.6" r="3.7" fill="#5576b6"/><circle cx="1423.5" cy="833.4" r="3.9" fill="#93d5f5"/><circle cx="1413.1" cy="828.1" r="3.8" fill="#93d5f5"/><circle cx="1419.7" cy="828.3" r="3.5" fill="#93d5f5"/><circle cx="1455.2" cy="860.4" r="4.0" fill="#93d5f5"/><circle cx="1462.9" cy="868.7" r="3.6" fill="#93d5f5"/><circle cx="1459.4" cy="857.8" r="4.0" fill="#93d5f5"/><circle cx="1435.4" cy="842.7" r="4.2" fill="#93d5f5"/><circle cx="1420.3" cy="833.5" r="4.0" fill="#93d5f5"/><circle cx="1431.7" cy="838.1" r="4.0" fill="#93d5f5"/><circle cx="1463.7" cy="856.2" r="3.7" fill="#93d5f5"/><circle cx="1417.2" cy="829.2" r="4.4" fill="#5576b6"/><circle cx="1413.8" cy="828.8" r="4.0" fill="#93d5f5"/><circle cx="1430.6" cy="839.1" r="3.8" fill="#93d5f5"/><circle cx="1466.0" cy="856.0" r="4.4" fill="#93d5f5"/><circle cx="1446.4" cy="848.7" r="3.6" fill="#93d5f5"/><circle cx="1443.6" cy="850.2" r="3.9" fill="#93d5f5"/><circle cx="1437.5" cy="843.5" r="4.2" fill="#93d5f5"/><circle cx="1433.5" cy="833.3" r="3.9" fill="#93d5f5"/><circle cx="1464.9" cy="856.4" r="3.9" fill="#93d5f5"/><circle cx="1427.1" cy="843.5" r="4.2" fill="#93d5f5"/><circle cx="1459.7" cy="855.1" r="3.8" fill="#93d5f5"/><circle cx="1414.9" cy="823.4" r="4.0" fill="#93d5f5"/><circle cx="1454.8" cy="849.5" r="4.4" fill="#93d5f5"/><circle cx="1429.3" cy="830.7" r="3.6" fill="#93d5f5"/><circle cx="1454.3" cy="853.0" r="4.2" fill="#93d5f5"/><circle cx="1425.0" cy="836.0" r="3.9" fill="#93d5f5"/><circle cx="1440.7" cy="851.5" r="4.0" fill="#93d5f5"/><circle cx="1427.7" cy="835.9" r="4.3" fill="#93d5f5"/><circle cx="1460.9" cy="864.7" r="4.4" fill="#93d5f5"/><circle cx="1426.8" cy="834.0" r="4.0" fill="#93d5f5"/><circle cx="1429.3" cy="838.0" r="4.1" fill="#93d5f5"/><circle cx="1464.8" cy="857.6" r="4.4" fill="#93d5f5"/><circle cx="1454.0" cy="853.2" r="4.1" fill="#93d5f5"/><circle cx="1452.6" cy="857.6" r="3.5" fill="#93d5f5"/><circle cx="1460.9" cy="853.9" r="3.8" fill="#93d5f5"/><circle cx="1458.1" cy="864.8" r="3.9" fill="#93d5f5"/><circle cx="1429.5" cy="838.3" r="3.8" fill="#93d5f5"/><circle cx="1413.9" cy="825.5" r="4.3" fill="#93d5f5"/><circle cx="1436.8" cy="843.1" r="3.7" fill="#93d5f5"/><circle cx="1429.0" cy="834.1" r="4.2" fill="#93d5f5"/><circle cx="1451.7" cy="849.1" r="3.7" fill="#93d5f5"/><circle cx="1461.9" cy="856.1" r="3.5" fill="#93d5f5"/><circle cx="1424.9" cy="840.9" r="4.4" fill="#93d5f5"/><circle cx="1413.1" cy="836.7" r="4.2" fill="#93d5f5"/><circle cx="1441.2" cy="847.1" r="3.7" fill="#93d5f5"/><circle cx="1461.1" cy="855.6" r="4.1" fill="#5576b6"/><circle cx="1408.3" cy="820.6" r="4.2" fill="#93d5f5"/><circle cx="1463.9" cy="856.3" r="4.2" fill="#93d5f5"/><circle cx="1466.8" cy="860.5" r="4.3" fill="#93d5f5"/><circle cx="1438.8" cy="842.2" r="4.5" fill="#93d5f5"/><circle cx="1409.7" cy="830.4" r="4.0" fill="#93d5f5"/><circle cx="1438.0" cy="846.3" r="4.0" fill="#93d5f5"/><circle cx="1456.2" cy="860.6" r="4.2" fill="#93d5f5"/><circle cx="1435.0" cy="832.8" r="4.0" fill="#93d5f5"/><circle cx="1448.1" cy="849.0" r="3.8" fill="#93d5f5"/><circle cx="1406.3" cy="824.3" r="4.2" fill="#93d5f5"/><circle cx="1403.7" cy="822.9" r="3.9" fill="#93d5f5"/><circle cx="1449.6" cy="851.7" r="3.9" fill="#93d5f5"/><circle cx="1435.3" cy="842.5" r="4.0" fill="#93d5f5"/><circle cx="1402.0" cy="822.1" r="4.0" fill="#93d5f5"/><circle cx="1448.5" cy="843.2" r="3.8" fill="#93d5f5"/><circle cx="1403.3" cy="815.4" r="4.1" fill="#93d5f5"/><circle cx="1467.9" cy="857.8" r="4.0" fill="#93d5f5"/><circle cx="1453.7" cy="853.3" r="4.1" fill="#93d5f5"/><circle cx="1475.8" cy="863.9" r="4.0" fill="#93d5f5"/><circle cx="1654.9" cy="852.1" r="5.7" fill="#5576b6"/><circle cx="1530.2" cy="864.8" r="4.5" fill="#93d5f5"/><circle cx="1696.1" cy="844.7" r="6.0" fill="#5576b6"/><circle cx="1634.9" cy="860.1" r="5.5" fill="#5576b6"/><circle cx="1695.1" cy="843.6" r="6.0" fill="#5576b6"/><circle cx="1599.5" cy="861.0" r="5.1" fill="#5576b6"/><circle cx="1673.0" cy="845.9" r="5.8" fill="#5576b6"/><circle cx="1568.9" cy="860.6" r="4.8" fill="#93d5f5"/><circle cx="1678.7" cy="847.0" r="5.9" fill="#93d5f5"/><circle cx="1537.5" cy="866.0" r="4.5" fill="#93d5f5"/><circle cx="1476.2" cy="858.6" r="4.0" fill="#93d5f5"/><circle cx="1668.2" cy="857.0" r="5.8" fill="#5576b6"/><circle cx="1535.0" cy="866.8" r="4.5" fill="#93d5f5"/><circle cx="1558.4" cy="865.7" r="4.7" fill="#93d5f5"/><circle cx="1521.9" cy="863.7" r="4.4" fill="#93d5f5"/><circle cx="1619.1" cy="860.2" r="5.3" fill="#93d5f5"/><circle cx="1681.9" cy="845.6" r="5.9" fill="#93d5f5"/><circle cx="1652.8" cy="850.0" r="5.6" fill="#93d5f5"/><circle cx="1547.1" cy="865.0" r="4.6" fill="#93d5f5"/><circle cx="1557.6" cy="856.2" r="4.7" fill="#93d5f5"/><circle cx="1538.1" cy="866.3" r="4.5" fill="#93d5f5"/><circle cx="1513.1" cy="871.9" r="4.3" fill="#93d5f5"/><circle cx="1601.0" cy="857.0" r="5.1" fill="#93d5f5"/><circle cx="1564.1" cy="857.5" r="4.8" fill="#93d5f5"/><circle cx="1475.8" cy="861.1" r="4.0" fill="#93d5f5"/><circle cx="1536.8" cy="857.3" r="4.5" fill="#93d5f5"/><circle cx="1535.0" cy="868.2" r="4.5" fill="#93d5f5"/><circle cx="1491.4" cy="864.9" r="4.1" fill="#93d5f5"/><circle cx="1619.8" cy="855.1" r="5.3" fill="#5576b6"/><circle cx="1649.8" cy="852.7" r="5.6" fill="#5576b6"/><circle cx="1609.0" cy="862.1" r="5.2" fill="#93d5f5"/><circle cx="1491.9" cy="864.6" r="4.1" fill="#93d5f5"/><circle cx="1635.1" cy="859.0" r="5.5" fill="#5576b6"/><circle cx="1504.8" cy="868.3" r="4.2" fill="#93d5f5"/><circle cx="1511.9" cy="859.0" r="4.3" fill="#93d5f5"/><circle cx="1553.7" cy="857.0" r="4.7" fill="#93d5f5"/><circle cx="1483.8" cy="864.7" r="4.0" fill="#93d5f5"/><circle cx="1636.9" cy="857.3" r="5.5" fill="#5576b6"/><circle cx="1690.7" cy="852.6" r="6.0" fill="#5576b6"/><circle cx="1533.8" cy="864.5" r="4.5" fill="#93d5f5"/><circle cx="1612.9" cy="858.9" r="5.3" fill="#93d5f5"/><circle cx="1594.8" cy="851.9" r="5.1" fill="#5576b6"/><circle cx="1471.3" cy="869.8" r="3.9" fill="#93d5f5"/><circle cx="1688.4" cy="844.7" r="6.0" fill="#5576b6"/><circle cx="1464.5" cy="853.9" r="3.8" fill="#93d5f5"/><circle cx="1510.0" cy="866.4" r="4.3" fill="#93d5f5"/><circle cx="1465.6" cy="861.7" r="3.9" fill="#93d5f5"/><circle cx="1688.7" cy="848.9" r="6.0" fill="#5576b6"/><circle cx="1576.9" cy="858.1" r="4.9" fill="#93d5f5"/><circle cx="1675.0" cy="847.2" r="5.9" fill="#5576b6"/><circle cx="1534.1" cy="851.6" r="4.5" fill="#93d5f5"/><circle cx="1521.0" cy="863.6" r="4.4" fill="#93d5f5"/><circle cx="1670.5" cy="846.0" r="5.8" fill="#5576b6"/><circle cx="1645.4" cy="844.3" r="5.6" fill="#5576b6"/><circle cx="1611.9" cy="869.4" r="5.3" fill="#93d5f5"/><circle cx="1678.7" cy="850.9" r="5.9" fill="#5576b6"/><circle cx="1652.0" cy="857.9" r="5.6" fill="#93d5f5"/><circle cx="1490.8" cy="861.0" r="4.1" fill="#93d5f5"/><circle cx="1653.8" cy="853.6" r="5.7" fill="#5576b6"/><circle cx="1611.1" cy="863.2" r="5.2" fill="#93d5f5"/><circle cx="1624.0" cy="862.6" r="5.4" fill="#5576b6"/><circle cx="1587.2" cy="856.4" r="5.0" fill="#93d5f5"/><circle cx="1689.2" cy="850.8" r="6.0" fill="#5576b6"/><circle cx="1638.0" cy="859.6" r="5.5" fill="#93d5f5"/><circle cx="1665.7" cy="852.6" r="5.8" fill="#5576b6"/><circle cx="1474.0" cy="868.3" r="3.9" fill="#93d5f5"/><circle cx="1638.6" cy="852.4" r="5.5" fill="#5576b6"/><circle cx="1655.1" cy="856.3" r="5.7" fill="#5576b6"/><circle cx="1560.1" cy="863.3" r="4.8" fill="#93d5f5"/><circle cx="1504.1" cy="868.2" r="4.2" fill="#93d5f5"/><circle cx="1522.4" cy="864.5" r="4.4" fill="#93d5f5"/><circle cx="1634.2" cy="855.6" r="5.5" fill="#5576b6"/><circle cx="1694.4" cy="833.7" r="6.0" fill="#5576b6"/><circle cx="1675.9" cy="847.2" r="5.9" fill="#5576b6"/><circle cx="1588.9" cy="860.3" r="5.0" fill="#5576b6"/><circle cx="1672.8" cy="848.7" r="5.8" fill="#5576b6"/><circle cx="1633.5" cy="853.4" r="5.5" fill="#5576b6"/><circle cx="1532.6" cy="868.9" r="4.5" fill="#93d5f5"/><circle cx="1505.8" cy="868.2" r="4.2" fill="#93d5f5"/><circle cx="1536.4" cy="860.0" r="4.5" fill="#93d5f5"/><circle cx="1589.0" cy="854.6" r="5.0" fill="#93d5f5"/><circle cx="1626.3" cy="861.0" r="5.4" fill="#5576b6"/><circle cx="1498.3" cy="867.1" r="4.2" fill="#93d5f5"/><circle cx="1541.5" cy="856.6" r="4.6" fill="#93d5f5"/><circle cx="1608.1" cy="854.6" r="5.2" fill="#93d5f5"/><circle cx="1663.7" cy="852.0" r="5.7" fill="#5576b6"/><circle cx="1609.5" cy="862.8" r="5.2" fill="#5576b6"/><circle cx="1518.1" cy="858.1" r="4.4" fill="#93d5f5"/><circle cx="1681.7" cy="851.9" r="5.9" fill="#5576b6"/><circle cx="1485.1" cy="866.9" r="4.0" fill="#93d5f5"/><circle cx="1564.1" cy="870.7" r="4.8" fill="#93d5f5"/><circle cx="1517.4" cy="865.1" r="4.3" fill="#93d5f5"/><circle cx="1471.7" cy="861.9" r="3.9" fill="#93d5f5"/><circle cx="1535.4" cy="868.6" r="4.5" fill="#93d5f5"/><circle cx="1472.9" cy="864.1" r="3.9" fill="#93d5f5"/><circle cx="1585.8" cy="857.4" r="5.0" fill="#93d5f5"/><circle cx="1694.4" cy="842.0" r="6.0" fill="#5576b6"/><circle cx="1690.5" cy="844.7" r="6.0" fill="#5576b6"/><circle cx="1686.6" cy="837.1" r="6.0" fill="#5576b6"/><circle cx="1597.7" cy="852.7" r="5.1" fill="#93d5f5"/><circle cx="1567.4" cy="864.1" r="4.8" fill="#93d5f5"/><circle cx="1669.4" cy="844.4" r="5.8" fill="#5576b6"/><circle cx="1655.5" cy="844.2" r="5.7" fill="#5576b6"/><circle cx="1605.5" cy="856.5" r="5.2" fill="#93d5f5"/><circle cx="1503.2" cy="865.3" r="4.2" fill="#93d5f5"/><circle cx="1464.5" cy="866.0" r="3.8" fill="#93d5f5"/><circle cx="1487.7" cy="862.3" r="4.1" fill="#93d5f5"/><circle cx="1469.5" cy="859.0" r="3.9" fill="#93d5f5"/><circle cx="1608.0" cy="857.2" r="5.2" fill="#93d5f5"/><circle cx="1463.5" cy="868.1" r="3.8" fill="#93d5f5"/><circle cx="1626.9" cy="855.6" r="5.4" fill="#5576b6"/><circle cx="1554.6" cy="857.8" r="4.7" fill="#5576b6"/><circle cx="1679.3" cy="845.8" r="5.9" fill="#5576b6"/><circle cx="1646.6" cy="858.1" r="5.6" fill="#5576b6"/><circle cx="1566.9" cy="865.0" r="4.8" fill="#93d5f5"/><circle cx="1538.2" cy="864.4" r="4.5" fill="#93d5f5"/><circle cx="1612.4" cy="863.0" r="5.3" fill="#5576b6"/><circle cx="1685.2" cy="847.0" r="6.0" fill="#93d5f5"/><circle cx="1592.8" cy="861.1" r="5.1" fill="#5576b6"/><circle cx="1580.3" cy="859.3" r="5.0" fill="#93d5f5"/><circle cx="1535.7" cy="866.6" r="4.5" fill="#93d5f5"/><circle cx="1573.1" cy="864.9" r="4.9" fill="#93d5f5"/><circle cx="1677.1" cy="844.2" r="5.9" fill="#5576b6"/><circle cx="1633.9" cy="853.9" r="5.5" fill="#93d5f5"/><circle cx="1483.9" cy="868.8" r="4.0" fill="#93d5f5"/><circle cx="1530.3" cy="865.1" r="4.5" fill="#93d5f5"/><circle cx="1597.1" cy="860.7" r="5.1" fill="#93d5f5"/><circle cx="1554.2" cy="857.9" r="4.7" fill="#93d5f5"/><circle cx="1564.5" cy="866.4" r="4.8" fill="#93d5f5"/><circle cx="1640.8" cy="852.1" r="5.5" fill="#5576b6"/><circle cx="1577.8" cy="858.3" r="4.9" fill="#5576b6"/><circle cx="1531.0" cy="864.1" r="4.5" fill="#93d5f5"/><circle cx="1664.0" cy="841.6" r="5.8" fill="#5576b6"/><circle cx="1683.0" cy="841.6" r="5.9" fill="#5576b6"/><circle cx="1538.2" cy="865.9" r="4.5" fill="#93d5f5"/><circle cx="1534.9" cy="859.0" r="4.5" fill="#93d5f5"/><circle cx="1480.0" cy="864.5" r="4.0" fill="#93d5f5"/><circle cx="1504.4" cy="866.5" r="4.2" fill="#93d5f5"/><circle cx="1635.7" cy="847.5" r="5.5" fill="#5576b6"/><circle cx="1571.0" cy="864.2" r="4.9" fill="#93d5f5"/><circle cx="1567.7" cy="862.4" r="4.8" fill="#93d5f5"/><circle cx="1693.6" cy="845.8" r="6.0" fill="#5576b6"/><circle cx="1536.0" cy="873.5" r="4.5" fill="#93d5f5"/><circle cx="1507.2" cy="859.9" r="4.3" fill="#93d5f5"/><circle cx="1468.8" cy="871.5" r="3.9" fill="#93d5f5"/><circle cx="1486.3" cy="863.0" r="4.1" fill="#93d5f5"/><circle cx="1662.7" cy="844.5" r="5.7" fill="#5576b6"/><circle cx="1673.4" cy="842.6" r="5.8" fill="#5576b6"/><circle cx="1583.0" cy="865.9" r="5.0" fill="#5576b6"/><circle cx="1539.1" cy="862.5" r="4.6" fill="#93d5f5"/><circle cx="1642.6" cy="857.9" r="5.5" fill="#5576b6"/><circle cx="1530.3" cy="868.3" r="4.5" fill="#93d5f5"/><circle cx="1581.9" cy="853.4" r="5.0" fill="#93d5f5"/><circle cx="1575.4" cy="862.0" r="4.9" fill="#93d5f5"/><circle cx="1691.5" cy="843.3" r="6.0" fill="#5576b6"/><circle cx="1568.7" cy="863.9" r="4.8" fill="#5576b6"/><circle cx="1678.5" cy="853.2" r="5.9" fill="#5576b6"/><circle cx="1465.6" cy="868.3" r="3.9" fill="#93d5f5"/><circle cx="1699.1" cy="843.6" r="6.0" fill="#5576b6"/><circle cx="1629.9" cy="854.2" r="5.4" fill="#5576b6"/><circle cx="1656.1" cy="856.5" r="5.7" fill="#5576b6"/><circle cx="1576.1" cy="863.0" r="4.9" fill="#93d5f5"/><circle cx="1682.3" cy="847.3" r="5.9" fill="#5576b6"/><circle cx="1579.4" cy="859.1" r="4.9" fill="#5576b6"/><circle cx="1503.6" cy="860.0" r="4.2" fill="#93d5f5"/><circle cx="1687.9" cy="845.5" r="6.0" fill="#5576b6"/><circle cx="1620.6" cy="861.0" r="5.3" fill="#5576b6"/><circle cx="1692.1" cy="839.6" r="6.0" fill="#5576b6"/><circle cx="1690.5" cy="845.7" r="6.0" fill="#93d5f5"/><circle cx="1669.8" cy="855.4" r="5.8" fill="#5576b6"/><circle cx="1529.1" cy="853.4" r="4.5" fill="#93d5f5"/><circle cx="1569.9" cy="867.6" r="4.9" fill="#5576b6"/><circle cx="1637.6" cy="860.9" r="5.5" fill="#93d5f5"/><circle cx="1492.5" cy="864.3" r="4.1" fill="#93d5f5"/><circle cx="1573.3" cy="867.2" r="4.9" fill="#93d5f5"/><circle cx="1527.4" cy="861.1" r="4.4" fill="#93d5f5"/><circle cx="1486.4" cy="864.5" r="4.1" fill="#93d5f5"/><circle cx="1476.9" cy="872.0" r="4.0" fill="#93d5f5"/><circle cx="1624.0" cy="861.6" r="5.4" fill="#5576b6"/><circle cx="1479.1" cy="863.2" r="4.0" fill="#93d5f5"/><circle cx="1683.0" cy="840.7" r="5.9" fill="#5576b6"/><circle cx="1567.9" cy="861.3" r="4.8" fill="#93d5f5"/><circle cx="1502.7" cy="869.5" r="4.2" fill="#93d5f5"/><circle cx="1620.9" cy="856.3" r="5.3" fill="#5576b6"/><circle cx="1638.0" cy="853.2" r="5.5" fill="#5576b6"/><circle cx="1669.4" cy="858.1" r="5.8" fill="#5576b6"/><circle cx="1578.3" cy="868.3" r="4.9" fill="#93d5f5"/><circle cx="1658.0" cy="850.1" r="5.7" fill="#5576b6"/><circle cx="1518.5" cy="862.8" r="4.4" fill="#93d5f5"/><circle cx="1695.7" cy="848.7" r="6.0" fill="#5576b6"/><circle cx="1503.5" cy="866.0" r="4.2" fill="#93d5f5"/><circle cx="1562.8" cy="861.6" r="4.8" fill="#93d5f5"/><circle cx="1474.9" cy="869.2" r="3.9" fill="#93d5f5"/><circle cx="1595.5" cy="860.5" r="5.1" fill="#93d5f5"/><circle cx="1570.7" cy="864.4" r="4.9" fill="#93d5f5"/><circle cx="1478.7" cy="867.7" r="4.0" fill="#93d5f5"/><circle cx="1540.7" cy="868.1" r="4.6" fill="#93d5f5"/><circle cx="1486.5" cy="863.8" r="4.1" fill="#93d5f5"/><circle cx="1480.5" cy="872.0" r="4.0" fill="#93d5f5"/><circle cx="1689.7" cy="842.3" r="6.0" fill="#5576b6"/><circle cx="1696.5" cy="843.4" r="6.0" fill="#5576b6"/><circle cx="1691.5" cy="846.0" r="6.0" fill="#5576b6"/><circle cx="1603.5" cy="860.8" r="5.2" fill="#5576b6"/><circle cx="1525.1" cy="862.5" r="4.4" fill="#93d5f5"/><circle cx="1682.3" cy="848.6" r="5.9" fill="#93d5f5"/><circle cx="1478.3" cy="866.5" r="4.0" fill="#93d5f5"/><circle cx="1468.3" cy="861.4" r="3.9" fill="#93d5f5"/><circle cx="1495.6" cy="860.3" r="4.1" fill="#93d5f5"/><circle cx="1607.3" cy="863.4" r="5.2" fill="#5576b6"/><circle cx="1676.4" cy="851.8" r="5.9" fill="#5576b6"/><circle cx="1523.8" cy="863.5" r="4.4" fill="#93d5f5"/><circle cx="1686.0" cy="842.9" r="6.0" fill="#5576b6"/><circle cx="1606.8" cy="864.2" r="5.2" fill="#93d5f5"/><circle cx="1469.6" cy="870.5" r="3.9" fill="#93d5f5"/><circle cx="1534.9" cy="853.0" r="4.5" fill="#93d5f5"/><circle cx="1534.6" cy="864.8" r="4.5" fill="#93d5f5"/><circle cx="1614.3" cy="857.3" r="5.3" fill="#93d5f5"/><circle cx="1641.6" cy="855.2" r="5.5" fill="#5576b6"/><circle cx="1567.2" cy="863.6" r="4.8" fill="#93d5f5"/><circle cx="1464.8" cy="870.8" r="3.8" fill="#93d5f5"/><circle cx="1671.1" cy="850.8" r="5.8" fill="#5576b6"/><circle cx="1471.5" cy="862.4" r="3.9" fill="#93d5f5"/><circle cx="1571.6" cy="863.4" r="4.9" fill="#93d5f5"/><circle cx="1534.1" cy="862.8" r="4.5" fill="#93d5f5"/><circle cx="1536.8" cy="859.8" r="4.5" fill="#93d5f5"/><circle cx="1666.2" cy="848.6" r="5.8" fill="#5576b6"/><circle cx="1650.6" cy="854.1" r="5.6" fill="#5576b6"/><circle cx="1500.4" cy="868.2" r="4.2" fill="#93d5f5"/><circle cx="1583.5" cy="863.0" r="5.0" fill="#93d5f5"/><circle cx="1587.7" cy="861.0" r="5.0" fill="#93d5f5"/><circle cx="1549.8" cy="863.5" r="4.7" fill="#93d5f5"/><circle cx="1539.9" cy="862.9" r="4.6" fill="#93d5f5"/><circle cx="1642.4" cy="857.9" r="5.5" fill="#5576b6"/><circle cx="1548.9" cy="863.8" r="4.7" fill="#93d5f5"/><circle cx="1465.6" cy="865.7" r="3.9" fill="#93d5f5"/><circle cx="1513.7" cy="860.4" r="4.3" fill="#93d5f5"/><circle cx="1667.0" cy="845.3" r="5.8" fill="#5576b6"/><circle cx="1492.4" cy="864.4" r="4.1" fill="#93d5f5"/><circle cx="1563.3" cy="856.7" r="4.8" fill="#93d5f5"/><circle cx="1543.4" cy="863.3" r="4.6" fill="#93d5f5"/><circle cx="1607.1" cy="859.9" r="5.2" fill="#93d5f5"/><circle cx="1569.0" cy="859.5" r="4.8" fill="#93d5f5"/><circle cx="1584.1" cy="855.5" r="5.0" fill="#93d5f5"/><circle cx="1659.4" cy="850.5" r="5.7" fill="#5576b6"/><circle cx="1593.0" cy="868.4" r="5.1" fill="#93d5f5"/><circle cx="1638.2" cy="857.3" r="5.5" fill="#5576b6"/><circle cx="1551.1" cy="863.6" r="4.7" fill="#93d5f5"/><circle cx="1666.3" cy="852.4" r="5.8" fill="#5576b6"/><circle cx="1492.5" cy="869.9" r="4.1" fill="#93d5f5"/><circle cx="1615.6" cy="860.5" r="5.3" fill="#93d5f5"/><circle cx="1558.6" cy="861.6" r="4.7" fill="#93d5f5"/><circle cx="1656.4" cy="850.4" r="5.7" fill="#5576b6"/><circle cx="1497.5" cy="864.8" r="4.2" fill="#93d5f5"/><circle cx="1669.4" cy="849.6" r="5.8" fill="#5576b6"/><circle cx="1495.3" cy="862.7" r="4.1" fill="#93d5f5"/><circle cx="1657.0" cy="848.8" r="5.7" fill="#5576b6"/><circle cx="1652.1" cy="857.0" r="5.6" fill="#5576b6"/><circle cx="1612.4" cy="859.4" r="5.3" fill="#93d5f5"/><circle cx="1693.5" cy="843.1" r="6.0" fill="#93d5f5"/><circle cx="1552.5" cy="865.8" r="4.7" fill="#93d5f5"/><circle cx="1663.2" cy="843.6" r="5.7" fill="#93d5f5"/><circle cx="1503.4" cy="861.0" r="4.2" fill="#93d5f5"/><circle cx="1646.9" cy="852.3" r="5.6" fill="#5576b6"/><circle cx="1553.8" cy="862.2" r="4.7" fill="#5576b6"/><circle cx="1465.6" cy="865.4" r="3.9" fill="#93d5f5"/><circle cx="1671.5" cy="851.2" r="5.8" fill="#5576b6"/><circle cx="1671.2" cy="858.2" r="5.8" fill="#5576b6"/><circle cx="1582.6" cy="856.2" r="5.0" fill="#5576b6"/><circle cx="1585.2" cy="862.7" r="5.0" fill="#93d5f5"/><circle cx="1583.2" cy="859.4" r="5.0" fill="#93d5f5"/><circle cx="1482.4" cy="861.9" r="4.0" fill="#93d5f5"/><circle cx="1690.5" cy="847.0" r="6.0" fill="#5576b6"/><circle cx="1602.9" cy="856.9" r="5.2" fill="#5576b6"/><circle cx="1598.0" cy="854.7" r="5.1" fill="#93d5f5"/><circle cx="1684.5" cy="845.6" r="5.9" fill="#5576b6"/><circle cx="1543.7" cy="858.1" r="4.6" fill="#93d5f5"/><circle cx="1695.3" cy="842.2" r="6.0" fill="#5576b6"/><circle cx="1478.7" cy="866.0" r="4.0" fill="#93d5f5"/><circle cx="1623.7" cy="859.5" r="5.4" fill="#93d5f5"/><circle cx="1617.5" cy="864.1" r="5.3" fill="#93d5f5"/><circle cx="1672.1" cy="845.7" r="5.8" fill="#5576b6"/><circle cx="1547.5" cy="863.3" r="4.6" fill="#93d5f5"/><circle cx="1538.2" cy="864.1" r="4.5" fill="#93d5f5"/><circle cx="1541.8" cy="871.3" r="4.6" fill="#93d5f5"/><circle cx="1602.9" cy="857.0" r="5.2" fill="#5576b6"/><circle cx="1490.1" cy="863.4" r="4.1" fill="#93d5f5"/><circle cx="1517.6" cy="865.9" r="4.4" fill="#93d5f5"/><circle cx="1489.7" cy="862.8" r="4.1" fill="#93d5f5"/><circle cx="1516.8" cy="867.3" r="4.3" fill="#93d5f5"/><circle cx="1607.3" cy="861.3" r="5.2" fill="#5576b6"/><circle cx="1582.4" cy="859.4" r="5.0" fill="#93d5f5"/><circle cx="1488.7" cy="864.9" r="4.1" fill="#93d5f5"/><circle cx="1474.0" cy="860.5" r="3.9" fill="#93d5f5"/><circle cx="1634.1" cy="869.4" r="5.5" fill="#5576b6"/><circle cx="1549.5" cy="864.7" r="4.7" fill="#93d5f5"/><circle cx="1628.7" cy="854.3" r="5.4" fill="#5576b6"/><circle cx="1539.2" cy="857.9" r="4.6" fill="#93d5f5"/><circle cx="1638.4" cy="854.4" r="5.5" fill="#5576b6"/><circle cx="1508.0" cy="870.3" r="4.3" fill="#93d5f5"/><circle cx="1662.2" cy="841.3" r="5.7" fill="#5576b6"/><circle cx="1535.4" cy="866.8" r="4.5" fill="#93d5f5"/><circle cx="1577.2" cy="863.7" r="4.9" fill="#93d5f5"/><circle cx="1598.1" cy="859.9" r="5.1" fill="#5576b6"/><circle cx="1632.1" cy="862.4" r="5.4" fill="#5576b6"/><circle cx="1671.5" cy="852.3" r="5.8" fill="#5576b6"/><circle cx="1526.1" cy="866.4" r="4.4" fill="#93d5f5"/><circle cx="1623.3" cy="859.5" r="5.4" fill="#93d5f5"/><circle cx="1618.1" cy="860.6" r="5.3" fill="#93d5f5"/><circle cx="1620.0" cy="856.3" r="5.3" fill="#93d5f5"/><circle cx="1649.9" cy="854.3" r="5.6" fill="#5576b6"/><circle cx="1501.3" cy="874.5" r="4.2" fill="#93d5f5"/><circle cx="1499.7" cy="864.5" r="4.2" fill="#93d5f5"/><circle cx="1612.3" cy="866.9" r="5.3" fill="#93d5f5"/><circle cx="1530.7" cy="862.9" r="4.5" fill="#93d5f5"/><circle cx="1521.9" cy="867.2" r="4.4" fill="#93d5f5"/><circle cx="1553.3" cy="864.6" r="4.7" fill="#93d5f5"/><circle cx="1690.3" cy="837.3" r="6.0" fill="#5576b6"/><circle cx="1586.0" cy="861.3" r="5.0" fill="#93d5f5"/><circle cx="1554.7" cy="854.0" r="4.7" fill="#93d5f5"/><circle cx="1508.3" cy="859.6" r="4.3" fill="#93d5f5"/><circle cx="1519.7" cy="861.0" r="4.4" fill="#93d5f5"/><circle cx="1534.9" cy="866.6" r="4.5" fill="#93d5f5"/><circle cx="1596.5" cy="866.1" r="5.1" fill="#93d5f5"/><circle cx="1465.0" cy="865.0" r="3.8" fill="#93d5f5"/><circle cx="1479.5" cy="866.9" r="4.0" fill="#93d5f5"/><circle cx="1537.6" cy="871.6" r="4.5" fill="#93d5f5"/><circle cx="1556.9" cy="856.5" r="4.7" fill="#93d5f5"/><circle cx="1477.6" cy="860.1" r="4.0" fill="#93d5f5"/><circle cx="1466.3" cy="860.6" r="3.9" fill="#93d5f5"/><circle cx="1500.4" cy="864.1" r="4.2" fill="#93d5f5"/><circle cx="1617.1" cy="854.4" r="5.3" fill="#5576b6"/><circle cx="1532.4" cy="865.7" r="4.5" fill="#93d5f5"/><circle cx="1521.5" cy="862.0" r="4.4" fill="#93d5f5"/><circle cx="1476.0" cy="865.7" r="4.0" fill="#93d5f5"/><circle cx="1672.6" cy="844.5" r="5.8" fill="#5576b6"/><circle cx="1593.2" cy="860.0" r="5.1" fill="#5576b6"/><circle cx="1595.2" cy="866.2" r="5.1" fill="#5576b6"/><circle cx="1505.0" cy="866.1" r="4.2" fill="#93d5f5"/><circle cx="1490.5" cy="871.0" r="4.1" fill="#93d5f5"/><circle cx="1627.8" cy="854.7" r="5.4" fill="#93d5f5"/><circle cx="1662.7" cy="849.9" r="5.7" fill="#5576b6"/><circle cx="1606.4" cy="858.8" r="5.2" fill="#93d5f5"/><circle cx="1602.3" cy="861.4" r="5.2" fill="#93d5f5"/><circle cx="1655.3" cy="857.4" r="5.7" fill="#5576b6"/><circle cx="1667.6" cy="842.9" r="5.8" fill="#5576b6"/><circle cx="1577.4" cy="857.0" r="4.9" fill="#93d5f5"/><circle cx="1618.7" cy="857.9" r="5.3" fill="#5576b6"/><circle cx="1657.0" cy="854.1" r="5.7" fill="#5576b6"/><circle cx="1500.0" cy="867.1" r="4.2" fill="#93d5f5"/><circle cx="1539.9" cy="863.4" r="4.6" fill="#93d5f5"/><circle cx="1634.0" cy="852.6" r="5.5" fill="#5576b6"/><circle cx="1680.9" cy="850.6" r="5.9" fill="#5576b6"/><circle cx="1671.3" cy="846.9" r="5.8" fill="#5576b6"/><circle cx="1528.2" cy="869.4" r="4.5" fill="#93d5f5"/><circle cx="1633.1" cy="856.1" r="5.5" fill="#5576b6"/><circle cx="1626.5" cy="855.0" r="5.4" fill="#93d5f5"/><circle cx="1561.6" cy="857.6" r="4.8" fill="#93d5f5"/><circle cx="1565.0" cy="864.3" r="4.8" fill="#93d5f5"/><circle cx="1667.8" cy="842.0" r="5.8" fill="#5576b6"/><circle cx="1610.9" cy="856.3" r="5.2" fill="#5576b6"/><circle cx="1674.6" cy="854.0" r="5.9" fill="#5576b6"/><circle cx="1581.0" cy="865.9" r="5.0" fill="#93d5f5"/><circle cx="1621.2" cy="850.5" r="5.3" fill="#93d5f5"/><circle cx="1480.6" cy="863.8" r="4.0" fill="#93d5f5"/><circle cx="1517.1" cy="860.2" r="4.3" fill="#93d5f5"/><circle cx="1531.1" cy="871.1" r="4.5" fill="#93d5f5"/><circle cx="1609.0" cy="858.7" r="5.2" fill="#5576b6"/><circle cx="1555.3" cy="859.9" r="4.7" fill="#93d5f5"/><circle cx="1682.3" cy="845.5" r="5.9" fill="#5576b6"/><circle cx="1635.2" cy="855.2" r="5.5" fill="#5576b6"/><circle cx="1657.1" cy="848.3" r="5.7" fill="#5576b6"/><circle cx="1507.4" cy="869.9" r="4.3" fill="#93d5f5"/><circle cx="1615.2" cy="865.2" r="5.3" fill="#93d5f5"/><circle cx="1659.4" cy="850.8" r="5.7" fill="#5576b6"/><circle cx="1474.4" cy="874.0" r="3.9" fill="#93d5f5"/><circle cx="1698.5" cy="842.1" r="6.0" fill="#5576b6"/><circle cx="1622.8" cy="859.6" r="5.4" fill="#93d5f5"/><circle cx="1652.6" cy="848.4" r="5.6" fill="#5576b6"/><circle cx="1632.9" cy="852.8" r="5.5" fill="#5576b6"/><circle cx="1564.4" cy="866.6" r="4.8" fill="#5576b6"/><circle cx="1527.6" cy="865.5" r="4.4" fill="#93d5f5"/><circle cx="1553.5" cy="855.4" r="4.7" fill="#93d5f5"/><circle cx="1510.8" cy="866.1" r="4.3" fill="#93d5f5"/><circle cx="1637.2" cy="851.9" r="5.5" fill="#93d5f5"/><circle cx="1503.4" cy="863.3" r="4.2" fill="#93d5f5"/><circle cx="1605.7" cy="860.9" r="5.2" fill="#93d5f5"/><circle cx="1666.9" cy="843.5" r="5.8" fill="#5576b6"/><circle cx="1644.3" cy="860.0" r="5.6" fill="#5576b6"/><circle cx="1640.2" cy="862.6" r="5.5" fill="#5576b6"/><circle cx="1687.4" cy="841.9" r="6.0" fill="#5576b6"/><circle cx="1669.8" cy="846.1" r="5.8" fill="#5576b6"/><circle cx="1655.9" cy="849.3" r="5.7" fill="#5576b6"/><circle cx="1657.0" cy="861.6" r="5.7" fill="#5576b6"/><circle cx="1476.7" cy="862.4" r="4.0" fill="#93d5f5"/><circle cx="1493.4" cy="870.3" r="4.1" fill="#93d5f5"/><circle cx="1472.2" cy="859.4" r="3.9" fill="#93d5f5"/><circle cx="1634.6" cy="856.8" r="5.5" fill="#93d5f5"/><circle cx="1691.1" cy="847.5" r="6.0" fill="#5576b6"/><circle cx="1667.8" cy="849.3" r="5.8" fill="#5576b6"/><circle cx="1563.7" cy="856.1" r="4.8" fill="#5576b6"/><circle cx="1626.1" cy="858.7" r="5.4" fill="#5576b6"/><circle cx="1658.8" cy="848.9" r="5.7" fill="#5576b6"/><circle cx="1479.6" cy="855.6" r="4.0" fill="#93d5f5"/><circle cx="1660.8" cy="849.3" r="5.7" fill="#5576b6"/><circle cx="1622.1" cy="857.2" r="5.4" fill="#5576b6"/><circle cx="1540.9" cy="864.8" r="4.6" fill="#93d5f5"/><circle cx="1554.6" cy="865.4" r="4.7" fill="#93d5f5"/><circle cx="1668.4" cy="852.2" r="5.8" fill="#5576b6"/><circle cx="1554.1" cy="853.2" r="4.7" fill="#5576b6"/><circle cx="1612.1" cy="861.6" r="5.3" fill="#93d5f5"/><circle cx="1502.4" cy="862.1" r="4.2" fill="#93d5f5"/><circle cx="1519.3" cy="861.5" r="4.4" fill="#93d5f5"/><circle cx="1552.0" cy="867.3" r="4.7" fill="#93d5f5"/><circle cx="1463.6" cy="858.0" r="3.8" fill="#93d5f5"/><circle cx="1526.6" cy="864.3" r="4.4" fill="#93d5f5"/><circle cx="1490.6" cy="862.8" r="4.1" fill="#93d5f5"/><circle cx="1687.1" cy="851.1" r="6.0" fill="#5576b6"/><circle cx="1499.6" cy="860.7" r="4.2" fill="#93d5f5"/><circle cx="1505.1" cy="863.3" r="4.2" fill="#93d5f5"/><circle cx="1654.0" cy="801.1" r="5.6" fill="#5ccff9"/><circle cx="1665.8" cy="801.1" r="5.6" fill="#5ccff9"/><circle cx="1670.8" cy="797.5" r="5.6" fill="#5ccff9"/><circle cx="1677.5" cy="797.5" r="5.6" fill="#5ccff9"/><circle cx="1669.1" cy="805.9" r="5.6" fill="#5ccff9"/><circle cx="1692.5" cy="819.3" r="5.6" fill="#5ccff9"/><circle cx="1654.0" cy="808.4" r="5.6" fill="#5ccff9"/><circle cx="1657.4" cy="814.4" r="5.8" fill="#5576b6"/><circle cx="1674.1" cy="819.3" r="5.8" fill="#5576b6"/><circle cx="1687.5" cy="827.8" r="5.8" fill="#5576b6"/><circle cx="1644.0" cy="837.4" r="5.8" fill="#5576b6"/><circle cx="1612.2" cy="842.3" r="5.8" fill="#5576b6"/><circle cx="1580.4" cy="852.0" r="5.8" fill="#5576b6"/><circle cx="1677.5" cy="839.9" r="5.8" fill="#5576b6"/><circle cx="1694.2" cy="839.9" r="5.8" fill="#5576b6"/><circle cx="1702.6" cy="842.3" r="5.8" fill="#5576b6"/><circle cx="1660.7" cy="842.3" r="5.8" fill="#5576b6"/><circle cx="1627.3" cy="852.0" r="5.8" fill="#5576b6"/><circle cx="1593.8" cy="859.3" r="5.8" fill="#5576b6"/><circle cx="1453.2" cy="655.6" r="2.3" fill="#5576b6"/><circle cx="1411.3" cy="684.7" r="2.6" fill="#5576b6"/></g>
<text x="121.00" y="994.70" font-size="37.00" font-weight="bold">f</text>
<circle cx="356.00" cy="1028.00" r="17.40" fill="#5bcdf8"/>
<text x="396.00" y="1041.00" font-size="21.70" font-weight="bold">SPC</text>
<circle cx="872.50" cy="1028.00" r="17.40" fill="#94d5f5"/>
<text x="909.00" y="1041.00" font-size="21.70" font-weight="bold">SC1</text>
<circle cx="1388.70" cy="1028.00" r="17.40" fill="#5474b6"/>
<text x="1429.50" y="1041.00" font-size="21.70" font-weight="bold">SC2</text>
<rect x="152.80" y="1057.30" width="502.90" height="186.90" fill="#eec8a9" rx="34"/>
<circle cx="191.00" cy="1085.00" r="6.90" fill="#c8221b"/>
<text x="215.50" y="1093.60" font-size="24.00">Chromosome segregation</text>
<circle cx="191.00" cy="1128.70" r="6.90" fill="#c8221b"/>
<text x="215.50" y="1137.30" font-size="24.00">Mitotic nuclear division</text>
<circle cx="191.00" cy="1172.80" r="6.90" fill="#c8221b"/>
<text x="215.50" y="1181.40" font-size="24.00">Microtubule cytoskeleton organization</text>
<circle cx="191.00" cy="1216.40" r="6.90" fill="#c8221b"/>
<text x="215.50" y="1225.00" font-size="24.00">Male sex differentiation</text>
<rect x="667.70" y="1057.30" width="503.60" height="186.90" fill="#eec8a9" rx="34"/>
<circle cx="705.80" cy="1085.00" r="6.90" fill="#c8221b"/>
<text x="730.30" y="1093.60" font-size="24.00">Protein targeting to ER</text>
<circle cx="705.80" cy="1128.70" r="6.90" fill="#c8221b"/>
<text x="730.30" y="1137.30" font-size="24.00">Protein targeting to membrane</text>
<circle cx="705.80" cy="1172.80" r="6.90" fill="#c8221b"/>
<text x="730.30" y="1181.40" font-size="24.00">Translation initiation</text>
<circle cx="705.80" cy="1216.40" r="6.90" fill="#c8221b"/>
<text x="730.30" y="1225.00" font-size="24.00">Ribosome biogenesis</text>
<rect x="1183.30" y="1056.80" width="504.50" height="186.30" fill="#eec8a9" rx="34"/>
<circle cx="1222.00" cy="1083.00" r="6.90" fill="#c8221b"/>
<text x="1246.00" y="1091.60" font-size="24.00">Cell junction organization</text>
<circle cx="1222.00" cy="1127.00" r="6.90" fill="#c8221b"/>
<text x="1246.00" y="1135.60" font-size="24.00">Gland development</text>
<circle cx="1222.00" cy="1170.60" r="6.90" fill="#c8221b"/>
<text x="1246.00" y="1179.20" font-size="24.00">Cell-substrate adhesion</text>
<circle cx="1222.00" cy="1214.80" r="6.90" fill="#c8221b"/>
<text x="1246.00" y="1223.40" font-size="24.00">Epithelial cell migration</text>
<text x="3.50" y="1312.80" font-size="37.00" font-weight="bold">g</text>
<line x1="72.90" y1="1366.80" x2="72.90" y2="1650.60" stroke="#000" stroke-width="1.6"/>
<line x1="72.10" y1="1649.80" x2="548.00" y2="1649.80" stroke="#000" stroke-width="1.6"/>
<line x1="69.30" y1="1370.60" x2="72.90" y2="1370.60" stroke="#000" stroke-width="1.3"/>
<text x="63.40" y="1377.40" font-size="19.00" text-anchor="end">0.8</text>
<line x1="69.30" y1="1430.60" x2="72.90" y2="1430.60" stroke="#000" stroke-width="1.3"/>
<text x="63.40" y="1437.40" font-size="19.00" text-anchor="end">0.6</text>
<line x1="69.30" y1="1490.70" x2="72.90" y2="1490.70" stroke="#000" stroke-width="1.3"/>
<text x="63.40" y="1497.50" font-size="19.00" text-anchor="end">0.4</text>
<line x1="69.30" y1="1550.70" x2="72.90" y2="1550.70" stroke="#000" stroke-width="1.3"/>
<text x="63.40" y="1557.50" font-size="19.00" text-anchor="end">0.2</text>
<line x1="69.30" y1="1610.80" x2="72.90" y2="1610.80" stroke="#000" stroke-width="1.3"/>
<text x="63.40" y="1617.60" font-size="19.00" text-anchor="end">0.0</text>
<line x1="132.30" y1="1379.60" x2="132.30" y2="1444.90" stroke="#000" stroke-width="1.5"/>
<line x1="132.30" y1="1514.00" x2="132.30" y2="1577.70" stroke="#000" stroke-width="1.5"/>
<rect x="106.20" y="1444.90" width="52.20" height="69.10" fill="#58c1bd" stroke="#000" stroke-width="1.5"/>
<line x1="106.20" y1="1485.00" x2="158.40" y2="1485.00" stroke="#000" stroke-width="1.9"/>
<line x1="191.60" y1="1391.20" x2="191.60" y2="1465.20" stroke="#000" stroke-width="1.5"/>
<line x1="191.60" y1="1518.50" x2="191.60" y2="1572.10" stroke="#000" stroke-width="1.5"/>
<rect x="165.50" y="1465.20" width="52.20" height="53.30" fill="#dbbd30" stroke="#000" stroke-width="1.5"/>
<line x1="165.50" y1="1495.20" x2="217.70" y2="1495.20" stroke="#000" stroke-width="1.9"/>
<line x1="281.10" y1="1562.70" x2="281.10" y2="1585.30" stroke="#000" stroke-width="1.5"/>
<line x1="281.10" y1="1601.00" x2="281.10" y2="1623.50" stroke="#000" stroke-width="1.5"/>
<rect x="255.20" y="1585.30" width="51.80" height="15.70" fill="#58c1bd" stroke="#000" stroke-width="1.5"/>
<line x1="255.20" y1="1592.80" x2="307.00" y2="1592.80" stroke="#000" stroke-width="1.9"/>
<line x1="340.60" y1="1558.20" x2="340.60" y2="1580.80" stroke="#000" stroke-width="1.5"/>
<line x1="340.60" y1="1596.10" x2="340.60" y2="1618.30" stroke="#000" stroke-width="1.5"/>
<rect x="314.50" y="1580.80" width="52.20" height="15.30" fill="#dbbd30" stroke="#000" stroke-width="1.5"/>
<line x1="314.50" y1="1588.30" x2="366.70" y2="1588.30" stroke="#000" stroke-width="1.9"/>
<line x1="429.55" y1="1584.50" x2="429.55" y2="1600.30" stroke="#000" stroke-width="1.5"/>
<line x1="429.55" y1="1611.90" x2="429.55" y2="1629.20" stroke="#000" stroke-width="1.5"/>
<rect x="403.50" y="1600.30" width="52.10" height="11.60" fill="#58c1bd" stroke="#000" stroke-width="1.5"/>
<line x1="403.50" y1="1605.90" x2="455.60" y2="1605.90" stroke="#000" stroke-width="1.9"/>
<line x1="488.85" y1="1567.20" x2="488.85" y2="1592.00" stroke="#000" stroke-width="1.5"/>
<line x1="488.85" y1="1609.70" x2="488.85" y2="1631.00" stroke="#000" stroke-width="1.5"/>
<rect x="462.80" y="1592.00" width="52.10" height="17.70" fill="#dbbd30" stroke="#000" stroke-width="1.5"/>
<line x1="462.80" y1="1602.50" x2="514.90" y2="1602.50" stroke="#000" stroke-width="1.9"/>
<line x1="162.10" y1="1649.80" x2="162.10" y2="1654.00" stroke="#000" stroke-width="1.3"/>
<text x="171.10" y="1666.30" font-size="21.50" text-anchor="end" transform="rotate(-45.00 171.10 1666.30)">SPC</text>
<line x1="310.80" y1="1649.80" x2="310.80" y2="1654.00" stroke="#000" stroke-width="1.3"/>
<text x="319.80" y="1666.30" font-size="21.50" text-anchor="end" transform="rotate(-45.00 319.80 1666.30)">SC1</text>
<line x1="459.40" y1="1649.80" x2="459.40" y2="1654.00" stroke="#000" stroke-width="1.3"/>
<text x="468.40" y="1666.30" font-size="21.50" text-anchor="end" transform="rotate(-45.00 468.40 1666.30)">SC2</text>
<text x="73.60" y="1339.40" font-size="21.80">SPC score</text>
<text x="27.00" y="1485.50" font-size="20.60" text-anchor="middle" font-weight="bold" transform="rotate(-90.00 27.00 1485.50)">Gene set score</text>
<text x="129.50" y="1372.40" font-size="18.80"><tspan font-style="italic">P</tspan> = 0.015</text>
<text x="259.00" y="1375.00" font-size="18.80"><tspan font-style="italic">P</tspan> = 1.2×10<tspan font-size="12.8" dy="-7.9">-34</tspan></text>
<text x="412.80" y="1375.00" font-size="18.80"><tspan font-style="italic">P</tspan> = 3.0×10<tspan font-size="12.8" dy="-7.9">-10</tspan></text>
<line x1="657.70" y1="1366.80" x2="657.70" y2="1650.60" stroke="#000" stroke-width="1.6"/>
<line x1="656.90" y1="1649.80" x2="1132.80" y2="1649.80" stroke="#000" stroke-width="1.6"/>
<line x1="654.10" y1="1367.60" x2="657.70" y2="1367.60" stroke="#000" stroke-width="1.3"/>
<text x="648.40" y="1374.40" font-size="19.00" text-anchor="end">0.9</text>
<line x1="654.10" y1="1440.80" x2="657.70" y2="1440.80" stroke="#000" stroke-width="1.3"/>
<text x="648.40" y="1447.60" font-size="19.00" text-anchor="end">0.6</text>
<line x1="654.10" y1="1514.70" x2="657.70" y2="1514.70" stroke="#000" stroke-width="1.3"/>
<text x="648.40" y="1521.50" font-size="19.00" text-anchor="end">0.3</text>
<line x1="654.10" y1="1588.30" x2="657.70" y2="1588.30" stroke="#000" stroke-width="1.3"/>
<text x="648.40" y="1595.10" font-size="19.00" text-anchor="end">0.0</text>
<line x1="717.40" y1="1385.20" x2="717.40" y2="1465.90" stroke="#000" stroke-width="1.5"/>
<line x1="717.40" y1="1535.00" x2="717.40" y2="1599.10" stroke="#000" stroke-width="1.5"/>
<rect x="691.50" y="1465.90" width="51.80" height="69.10" fill="#58c1bd" stroke="#000" stroke-width="1.5"/>
<line x1="691.50" y1="1504.60" x2="743.30" y2="1504.60" stroke="#000" stroke-width="1.9"/>
<line x1="776.85" y1="1404.40" x2="776.85" y2="1486.90" stroke="#000" stroke-width="1.5"/>
<line x1="776.85" y1="1542.80" x2="776.85" y2="1603.60" stroke="#000" stroke-width="1.5"/>
<rect x="750.80" y="1486.90" width="52.10" height="55.90" fill="#dbbd30" stroke="#000" stroke-width="1.5"/>
<line x1="750.80" y1="1513.20" x2="802.90" y2="1513.20" stroke="#000" stroke-width="1.9"/>
<line x1="866.00" y1="1580.40" x2="866.00" y2="1600.30" stroke="#000" stroke-width="1.5"/>
<line x1="866.00" y1="1613.80" x2="866.00" y2="1633.30" stroke="#000" stroke-width="1.5"/>
<rect x="839.70" y="1600.30" width="52.60" height="13.50" fill="#58c1bd" stroke="#000" stroke-width="1.5"/>
<line x1="839.70" y1="1607.00" x2="892.30" y2="1607.00" stroke="#000" stroke-width="1.9"/>
<line x1="925.30" y1="1575.90" x2="925.30" y2="1595.80" stroke="#000" stroke-width="1.5"/>
<line x1="925.30" y1="1609.30" x2="925.30" y2="1628.40" stroke="#000" stroke-width="1.5"/>
<rect x="899.00" y="1595.80" width="52.60" height="13.50" fill="#dbbd30" stroke="#000" stroke-width="1.5"/>
<line x1="899.00" y1="1602.50" x2="951.60" y2="1602.50" stroke="#000" stroke-width="1.9"/>
<line x1="1014.80" y1="1596.10" x2="1014.80" y2="1611.50" stroke="#000" stroke-width="1.5"/>
<line x1="1014.80" y1="1622.40" x2="1014.80" y2="1636.70" stroke="#000" stroke-width="1.5"/>
<rect x="988.70" y="1611.50" width="52.20" height="10.90" fill="#58c1bd" stroke="#000" stroke-width="1.5"/>
<line x1="988.70" y1="1617.50" x2="1040.90" y2="1617.50" stroke="#000" stroke-width="1.9"/>
<line x1="1073.90" y1="1587.50" x2="1073.90" y2="1606.30" stroke="#000" stroke-width="1.5"/>
<line x1="1073.90" y1="1619.00" x2="1073.90" y2="1634.00" stroke="#000" stroke-width="1.5"/>
<rect x="1047.60" y="1606.30" width="52.60" height="12.70" fill="#dbbd30" stroke="#000" stroke-width="1.5"/>
<line x1="1047.60" y1="1613.00" x2="1100.20" y2="1613.00" stroke="#000" stroke-width="1.9"/>
<line x1="747.00" y1="1649.80" x2="747.00" y2="1654.00" stroke="#000" stroke-width="1.3"/>
<text x="756.00" y="1666.30" font-size="21.50" text-anchor="end" transform="rotate(-45.00 756.00 1666.30)">SPC</text>
<line x1="895.60" y1="1649.80" x2="895.60" y2="1654.00" stroke="#000" stroke-width="1.3"/>
<text x="904.60" y="1666.30" font-size="21.50" text-anchor="end" transform="rotate(-45.00 904.60 1666.30)">SC1</text>
<line x1="1038.60" y1="1649.80" x2="1038.60" y2="1654.00" stroke="#000" stroke-width="1.3"/>
<text x="1047.60" y="1666.30" font-size="21.50" text-anchor="end" transform="rotate(-45.00 1047.60 1666.30)">SC2</text>
<text x="656.40" y="1339.40" font-size="21.80">Cell cycle score</text>
<text x="617.00" y="1485.50" font-size="20.60" text-anchor="middle" font-weight="bold" transform="rotate(-90.00 617.00 1485.50)">Gene set score</text>
<text x="709.50" y="1375.30" font-size="18.80"><tspan font-style="italic">P</tspan> = 0.017</text>
<text x="855.80" y="1375.30" font-size="18.80"><tspan font-style="italic">P</tspan> = 1.6×10<tspan font-size="12.8" dy="-7.9">-48</tspan></text>
<text x="1001.00" y="1375.30" font-size="18.80"><tspan font-style="italic">P</tspan> = 3.5×10<tspan font-size="12.8" dy="-7.9">-13</tspan></text>
<line x1="1247.00" y1="1362.50" x2="1247.00" y2="1650.60" stroke="#000" stroke-width="1.6"/>
<line x1="1246.20" y1="1649.80" x2="1722.60" y2="1649.80" stroke="#000" stroke-width="1.6"/>
<line x1="1243.40" y1="1376.20" x2="1247.00" y2="1376.20" stroke="#000" stroke-width="1.3"/>
<text x="1239.60" y="1383.00" font-size="19.00" text-anchor="end">0.75</text>
<line x1="1243.40" y1="1447.40" x2="1247.00" y2="1447.40" stroke="#000" stroke-width="1.3"/>
<text x="1239.60" y="1454.20" font-size="19.00" text-anchor="end">0.50</text>
<line x1="1243.40" y1="1518.20" x2="1247.00" y2="1518.20" stroke="#000" stroke-width="1.3"/>
<text x="1239.60" y="1525.00" font-size="19.00" text-anchor="end">0.25</text>
<line x1="1243.40" y1="1589.00" x2="1247.00" y2="1589.00" stroke="#000" stroke-width="1.3"/>
<text x="1239.60" y="1595.80" font-size="19.00" text-anchor="end">0.00</text>
<line x1="1306.40" y1="1494.00" x2="1306.40" y2="1562.40" stroke="#000" stroke-width="1.5"/>
<line x1="1306.40" y1="1610.70" x2="1306.40" y2="1630.70" stroke="#000" stroke-width="1.5"/>
<rect x="1280.40" y="1562.40" width="52.00" height="48.30" fill="#58c1bd" stroke="#000" stroke-width="1.5"/>
<line x1="1280.40" y1="1591.90" x2="1332.40" y2="1591.90" stroke="#000" stroke-width="1.9"/>
<line x1="1365.95" y1="1555.30" x2="1365.95" y2="1583.20" stroke="#000" stroke-width="1.5"/>
<line x1="1365.95" y1="1603.20" x2="1365.95" y2="1627.30" stroke="#000" stroke-width="1.5"/>
<rect x="1339.90" y="1583.20" width="52.10" height="20.00" fill="#dbbd30" stroke="#000" stroke-width="1.5"/>
<line x1="1339.90" y1="1594.00" x2="1392.00" y2="1594.00" stroke="#000" stroke-width="1.9"/>
<line x1="1455.25" y1="1473.20" x2="1455.25" y2="1547.00" stroke="#000" stroke-width="1.5"/>
<line x1="1455.25" y1="1597.30" x2="1455.25" y2="1634.80" stroke="#000" stroke-width="1.5"/>
<rect x="1429.00" y="1547.00" width="52.50" height="50.30" fill="#58c1bd" stroke="#000" stroke-width="1.5"/>
<line x1="1429.00" y1="1581.50" x2="1481.50" y2="1581.50" stroke="#000" stroke-width="1.9"/>
<line x1="1514.60" y1="1548.20" x2="1514.60" y2="1574.80" stroke="#000" stroke-width="1.5"/>
<line x1="1514.60" y1="1593.20" x2="1514.60" y2="1619.80" stroke="#000" stroke-width="1.5"/>
<rect x="1488.60" y="1574.80" width="52.00" height="18.40" fill="#dbbd30" stroke="#000" stroke-width="1.5"/>
<line x1="1488.60" y1="1584.40" x2="1540.60" y2="1584.40" stroke="#000" stroke-width="1.9"/>
<line x1="1604.15" y1="1389.90" x2="1604.15" y2="1452.00" stroke="#000" stroke-width="1.5"/>
<line x1="1604.15" y1="1494.90" x2="1604.15" y2="1559.40" stroke="#000" stroke-width="1.5"/>
<rect x="1578.10" y="1452.00" width="52.10" height="42.90" fill="#58c1bd" stroke="#000" stroke-width="1.5"/>
<line x1="1578.10" y1="1472.80" x2="1630.20" y2="1472.80" stroke="#000" stroke-width="1.9"/>
<line x1="1663.70" y1="1376.20" x2="1663.70" y2="1454.10" stroke="#000" stroke-width="1.5"/>
<line x1="1663.70" y1="1513.60" x2="1663.70" y2="1596.90" stroke="#000" stroke-width="1.5"/>
<rect x="1637.70" y="1454.10" width="52.00" height="59.50" fill="#dbbd30" stroke="#000" stroke-width="1.5"/>
<line x1="1637.70" y1="1478.20" x2="1689.70" y2="1478.20" stroke="#000" stroke-width="1.9"/>
<line x1="1336.60" y1="1649.80" x2="1336.60" y2="1654.00" stroke="#000" stroke-width="1.3"/>
<text x="1345.60" y="1666.30" font-size="21.50" text-anchor="end" transform="rotate(-45.00 1345.60 1666.30)">SPC</text>
<line x1="1484.80" y1="1649.80" x2="1484.80" y2="1654.00" stroke="#000" stroke-width="1.3"/>
<text x="1493.80" y="1666.30" font-size="21.50" text-anchor="end" transform="rotate(-45.00 1493.80 1666.30)">SC1</text>
<line x1="1622.80" y1="1649.80" x2="1622.80" y2="1654.00" stroke="#000" stroke-width="1.3"/>
<text x="1631.80" y="1666.30" font-size="21.50" text-anchor="end" transform="rotate(-45.00 1631.80 1666.30)">SC2</text>
<text x="1246.70" y="1342.90" font-size="21.80">SC2 score</text>
<text x="1198.50" y="1485.50" font-size="20.60" text-anchor="middle" font-weight="bold" transform="rotate(-90.00 1198.50 1485.50)">Gene set score</text>
<text x="1324.00" y="1370.80" font-size="18.80">NS</text>
<text x="1444.90" y="1372.30" font-size="18.80"><tspan font-style="italic">P</tspan> = 4.8×10<tspan font-size="12.8" dy="-7.9">-9</tspan></text>
<text x="1590.60" y="1372.30" font-size="18.80"><tspan font-style="italic">P</tspan> = 1.9×10<tspan font-size="12.8" dy="-7.9">-5</tspan></text>
<line x1="1763.50" y1="1340.90" x2="1763.50" y2="1346.00" stroke="#000" stroke-width="1.5"/>
<line x1="1763.50" y1="1364.90" x2="1763.50" y2="1370.00" stroke="#000" stroke-width="1.5"/>
<rect x="1750.60" y="1346.00" width="26.00" height="18.90" fill="#58c1bd" stroke="#000" stroke-width="1.5"/>
<line x1="1750.60" y1="1355.50" x2="1776.60" y2="1355.50" stroke="#000" stroke-width="1.6"/>
<text x="1787.40" y="1364.20" font-size="19.50">CtrlM</text>
<line x1="1763.50" y1="1381.60" x2="1763.50" y2="1386.80" stroke="#000" stroke-width="1.5"/>
<line x1="1763.50" y1="1405.60" x2="1763.50" y2="1410.70" stroke="#000" stroke-width="1.5"/>
<rect x="1750.60" y="1386.80" width="26.00" height="18.80" fill="#dbbd30" stroke="#000" stroke-width="1.5"/>
<line x1="1750.60" y1="1396.70" x2="1776.60" y2="1396.70" stroke="#000" stroke-width="1.6"/>
<text x="1787.40" y="1404.80" font-size="19.50">KS</text>
<text x="3.50" y="1757.50" font-size="37.00" font-weight="bold">h</text>
<text x="378.00" y="1784.40" font-size="21.30" text-anchor="middle" font-weight="bold">SPC</text>
<rect x="34.10" y="1799.40" width="33.90" height="34.20" fill="#4538f5"/>
<text x="58.65" y="1839.20" font-size="21.40" text-anchor="end" font-style="italic" transform="rotate(-90.00 58.65 1839.20)">AMH</text>
<rect x="70.70" y="1799.40" width="33.90" height="34.20" fill="#3a1ff5"/>
<text x="95.25" y="1839.20" font-size="21.40" text-anchor="end" font-style="italic" transform="rotate(-90.00 95.25 1839.20)">BEX1</text>
<rect x="107.30" y="1799.40" width="33.90" height="34.20" fill="#402ef5"/>
<text x="131.85" y="1839.20" font-size="21.40" text-anchor="end" font-style="italic" transform="rotate(-90.00 131.85 1839.20)">CLU</text>
<rect x="143.90" y="1799.40" width="33.90" height="34.20" fill="#3c22f5"/>
<text x="168.45" y="1839.20" font-size="21.40" text-anchor="end" font-style="italic" transform="rotate(-90.00 168.45 1839.20)">FSTL3</text>
<rect x="180.50" y="1799.40" width="33.90" height="34.20" fill="#6060ea"/>
<text x="205.05" y="1839.20" font-size="21.40" text-anchor="end" font-style="italic" transform="rotate(-90.00 205.05 1839.20)">GADD45G</text>
<rect x="217.10" y="1799.40" width="33.90" height="34.20" fill="#3f2cf5"/>
<text x="241.65" y="1839.20" font-size="21.40" text-anchor="end" font-style="italic" transform="rotate(-90.00 241.65 1839.20)">INHBB</text>
<rect x="253.70" y="1799.40" width="33.90" height="34.20" fill="#3c22f5"/>
<text x="278.25" y="1839.20" font-size="21.40" text-anchor="end" font-style="italic" transform="rotate(-90.00 278.25 1839.20)">WT1</text>
<rect x="290.30" y="1799.40" width="33.90" height="34.20" fill="#5050f5"/>
<text x="314.85" y="1839.20" font-size="21.40" text-anchor="end" font-style="italic" transform="rotate(-90.00 314.85 1839.20)">TOP2A</text>
<rect x="326.90" y="1799.40" width="33.90" height="34.20" fill="#4030f5"/>
<text x="351.45" y="1839.20" font-size="21.40" text-anchor="end" font-style="italic" transform="rotate(-90.00 351.45 1839.20)">FSCN1</text>
<rect x="363.50" y="1799.40" width="33.90" height="34.20" fill="#3c24f5"/>
<text x="388.05" y="1839.20" font-size="21.40" text-anchor="end" font-style="italic" transform="rotate(-90.00 388.05 1839.20)">JAM2</text>
<rect x="400.10" y="1799.40" width="33.90" height="34.20" fill="#3c24f5"/>
<text x="424.65" y="1839.20" font-size="21.40" text-anchor="end" font-style="italic" transform="rotate(-90.00 424.65 1839.20)">LIMS2</text>
<rect x="436.70" y="1799.40" width="33.90" height="34.20" fill="#4b45f5"/>
<text x="461.25" y="1839.20" font-size="21.40" text-anchor="end" font-style="italic" transform="rotate(-90.00 461.25 1839.20)">MAP1B</text>
<rect x="473.30" y="1799.40" width="33.90" height="34.20" fill="#6767e8"/>
<text x="497.85" y="1839.20" font-size="21.40" text-anchor="end" font-style="italic" transform="rotate(-90.00 497.85 1839.20)">SYNE2</text>
<rect x="509.90" y="1799.40" width="33.90" height="34.20" fill="#3d28f5"/>
<text x="534.45" y="1839.20" font-size="21.40" text-anchor="end" font-style="italic" transform="rotate(-90.00 534.45 1839.20)">TJP1</text>
<rect x="546.50" y="1799.40" width="33.90" height="34.20" fill="#4234f5"/>
<text x="571.05" y="1839.20" font-size="21.40" text-anchor="end" font-style="italic" transform="rotate(-90.00 571.05 1839.20)">ZYX</text>
<rect x="583.10" y="1799.40" width="33.90" height="34.20" fill="#3e2af5"/>
<text x="607.65" y="1839.20" font-size="21.40" text-anchor="end" font-style="italic" transform="rotate(-90.00 607.65 1839.20)">FLNA</text>
<rect x="619.70" y="1799.40" width="33.90" height="34.20" fill="#3f2cf5"/>
<text x="644.25" y="1839.20" font-size="21.40" text-anchor="end" font-style="italic" transform="rotate(-90.00 644.25 1839.20)">MYH9</text>
<rect x="656.30" y="1799.40" width="33.90" height="34.20" fill="#4a40f5"/>
<text x="680.85" y="1839.20" font-size="21.40" text-anchor="end" font-style="italic" transform="rotate(-90.00 680.85 1839.20)">ANLN</text>
<rect x="692.90" y="1799.40" width="33.90" height="34.20" fill="#4234f5"/>
<text x="717.45" y="1839.20" font-size="21.40" text-anchor="end" font-style="italic" transform="rotate(-90.00 717.45 1839.20)">NCAM1</text>
<text x="978.00" y="1784.40" font-size="21.30" text-anchor="middle" font-weight="bold">SC1</text>
<rect x="777.10" y="1799.40" width="33.90" height="34.20" fill="#4535f5"/>
<text x="801.65" y="1839.20" font-size="21.40" text-anchor="end" font-style="italic" transform="rotate(-90.00 801.65 1839.20)">FSTL3</text>
<rect x="813.74" y="1799.40" width="33.90" height="34.20" fill="#5a56f5"/>
<text x="838.29" y="1839.20" font-size="21.40" text-anchor="end" font-style="italic" transform="rotate(-90.00 838.29 1839.20)">GADD45G</text>
<rect x="850.38" y="1799.40" width="33.90" height="34.20" fill="#4a40f5"/>
<text x="874.93" y="1839.20" font-size="21.40" text-anchor="end" font-style="italic" transform="rotate(-90.00 874.93 1839.20)">INHBB</text>
<rect x="887.02" y="1799.40" width="33.90" height="34.20" fill="#7f80dd"/>
<text x="911.57" y="1839.20" font-size="21.40" text-anchor="end" font-style="italic" transform="rotate(-90.00 911.57 1839.20)">SAT1</text>
<rect x="923.66" y="1799.40" width="33.90" height="34.20" fill="#4c48f5"/>
<text x="948.21" y="1839.20" font-size="21.40" text-anchor="end" font-style="italic" transform="rotate(-90.00 948.21 1839.20)">JUN</text>
<rect x="960.30" y="1799.40" width="33.90" height="34.20" fill="#5250f5"/>
<text x="984.85" y="1839.20" font-size="21.40" text-anchor="end" font-style="italic" transform="rotate(-90.00 984.85 1839.20)">JUND</text>
<rect x="996.94" y="1799.40" width="33.90" height="34.20" fill="#3d22f7"/>
<text x="1021.49" y="1839.20" font-size="21.40" text-anchor="end" font-style="italic" transform="rotate(-90.00 1021.49 1839.20)">LIMS2</text>
<rect x="1033.58" y="1799.40" width="33.90" height="34.20" fill="#3d22f7"/>
<text x="1058.13" y="1839.20" font-size="21.40" text-anchor="end" font-style="italic" transform="rotate(-90.00 1058.13 1839.20)">MAP1B</text>
<rect x="1070.22" y="1799.40" width="33.90" height="34.20" fill="#3d22f7"/>
<text x="1094.77" y="1839.20" font-size="21.40" text-anchor="end" font-style="italic" transform="rotate(-90.00 1094.77 1839.20)">SEMA7A</text>
<rect x="1106.86" y="1799.40" width="33.90" height="34.20" fill="#3d22f7"/>
<text x="1131.41" y="1839.20" font-size="21.40" text-anchor="end" font-style="italic" transform="rotate(-90.00 1131.41 1839.20)">VCL</text>
<rect x="1143.50" y="1799.40" width="33.90" height="34.20" fill="#3f28f5"/>
<text x="1168.05" y="1839.20" font-size="21.40" text-anchor="end" font-style="italic" transform="rotate(-90.00 1168.05 1839.20)">ZYX</text>
<text x="1499.70" y="1784.40" font-size="21.30" text-anchor="middle" font-weight="bold">SC2</text>
<rect x="1222.00" y="1799.40" width="33.90" height="34.20" fill="#3b21fa"/>
<text x="1246.55" y="1839.20" font-size="21.40" text-anchor="end" font-style="italic" transform="rotate(-90.00 1246.55 1839.20)">AMH</text>
<rect x="1258.60" y="1799.40" width="33.90" height="34.20" fill="#3e29f8"/>
<text x="1283.15" y="1839.20" font-size="21.40" text-anchor="end" font-style="italic" transform="rotate(-90.00 1283.15 1839.20)">CLU</text>
<rect x="1295.20" y="1799.40" width="33.90" height="34.20" fill="#4535f7"/>
<text x="1319.75" y="1839.20" font-size="21.40" text-anchor="end" font-style="italic" transform="rotate(-90.00 1319.75 1839.20)">CST3</text>
<rect x="1331.80" y="1799.40" width="33.90" height="34.20" fill="#6869e6"/>
<text x="1356.35" y="1839.20" font-size="21.40" text-anchor="end" font-style="italic" transform="rotate(-90.00 1356.35 1839.20)">FLNB</text>
<rect x="1368.40" y="1799.40" width="33.90" height="34.20" fill="#8f94d8"/>
<text x="1392.95" y="1839.20" font-size="21.40" text-anchor="end" font-style="italic" transform="rotate(-90.00 1392.95 1839.20)">FSTL3</text>
<rect x="1405.00" y="1799.40" width="33.90" height="34.20" fill="#5f60f2"/>
<text x="1429.55" y="1839.20" font-size="21.40" text-anchor="end" font-style="italic" transform="rotate(-90.00 1429.55 1839.20)">GADD45G</text>
<rect x="1441.60" y="1799.40" width="33.90" height="34.20" fill="#3c1ffa"/>
<text x="1466.15" y="1839.20" font-size="21.40" text-anchor="end" font-style="italic" transform="rotate(-90.00 1466.15 1839.20)">INHBB</text>
<rect x="1478.20" y="1799.40" width="33.90" height="34.20" fill="#8587dd"/>
<text x="1502.75" y="1839.20" font-size="21.40" text-anchor="end" font-style="italic" transform="rotate(-90.00 1502.75 1839.20)">SAT1</text>
<rect x="1514.80" y="1799.40" width="33.90" height="34.20" fill="#9aa0d8"/>
<text x="1539.35" y="1839.20" font-size="21.40" text-anchor="end" font-style="italic" transform="rotate(-90.00 1539.35 1839.20)">GADD45B</text>
<rect x="1551.40" y="1799.40" width="33.90" height="34.20" fill="#5858f8"/>
<text x="1575.95" y="1839.20" font-size="21.40" text-anchor="end" font-style="italic" transform="rotate(-90.00 1575.95 1839.20)">CITED2</text>
<rect x="1588.00" y="1799.40" width="33.90" height="34.20" fill="#4a44f6"/>
<text x="1612.55" y="1839.20" font-size="21.40" text-anchor="end" font-style="italic" transform="rotate(-90.00 1612.55 1839.20)">JUND</text>
<rect x="1624.60" y="1799.40" width="33.90" height="34.20" fill="#3c1cf8"/>
<text x="1649.15" y="1839.20" font-size="21.40" text-anchor="end" font-style="italic" transform="rotate(-90.00 1649.15 1839.20)">FSCN1</text>
<rect x="1661.20" y="1799.40" width="33.90" height="34.20" fill="#3d1ff8"/>
<text x="1685.75" y="1839.20" font-size="21.40" text-anchor="end" font-style="italic" transform="rotate(-90.00 1685.75 1839.20)">JAM2</text>
<rect x="1697.80" y="1799.40" width="33.90" height="34.20" fill="#4d48f4"/>
<text x="1722.35" y="1839.20" font-size="21.40" text-anchor="end" font-style="italic" transform="rotate(-90.00 1722.35 1839.20)">ZYX</text>
<rect x="1734.40" y="1799.40" width="33.90" height="34.20" fill="#4234f7"/>
<text x="1758.95" y="1839.20" font-size="21.40" text-anchor="end" font-style="italic" transform="rotate(-90.00 1758.95 1839.20)">FLNA</text>
<rect x="1771.00" y="1799.40" width="33.90" height="34.20" fill="#4a40f6"/>
<text x="1795.55" y="1839.20" font-size="21.40" text-anchor="end" font-style="italic" transform="rotate(-90.00 1795.55 1839.20)">NCAM1</text>
<text x="1527.40" y="1982.50" font-size="24.80">log<tspan font-size="16.5" dy="7">2</tspan><tspan dy="-7">[FC (KS/CtrlM)]</tspan></text>
<defs><linearGradient id="fcg" x1="0" y1="0" x2="1" y2="0"><stop offset="0" stop-color="#2208fa"/><stop offset="0.33" stop-color="#4a44f2"/><stop offset="0.67" stop-color="#8585e2"/><stop offset="1" stop-color="#e6e6ee"/></linearGradient></defs>
<rect x="1519.00" y="1995.80" width="230.00" height="24.60" fill="url(#fcg)"/>
<text x="1517.70" y="2045.70" font-size="24.60" text-anchor="middle">−1.5</text>
<text x="1594.30" y="2045.70" font-size="24.60" text-anchor="middle">−1</text>
<text x="1670.70" y="2045.70" font-size="24.60" text-anchor="middle">−0.5</text>
<text x="1747.00" y="2045.70" font-size="24.60" text-anchor="middle">0</text>
<text x="2.00" y="2105.30" font-size="37.00" font-weight="bold">i</text>
<circle cx="136.30" cy="2106.00" r="13.60" fill="#5bcdf8"/>
<text x="172.30" y="2113.20" font-size="21.20" font-weight="bold">SPC</text>
<circle cx="489.50" cy="2106.00" r="13.60" fill="#94d5f5"/>
<text x="528.70" y="2113.20" font-size="21.20" font-weight="bold">SC1</text>
<circle cx="846.90" cy="2106.00" r="13.60" fill="#5474b6"/>
<text x="882.60" y="2113.20" font-size="21.20" font-weight="bold">SC2</text>
<rect x="2.30" y="2123.90" width="343.50" height="191.30" fill="#edbf2f" rx="30" ry="36"/>
<rect x="2.30" y="2327.00" width="343.50" height="191.60" fill="#9ae156" rx="30" ry="36"/>
<text x="174.05" y="2165.40" font-size="16.70" text-anchor="middle" font-weight="bold">Upregulated genes</text>
<text x="174.05" y="2356.60" font-size="16.70" text-anchor="middle" font-weight="bold">Downregulated genes</text>
<circle cx="26.10" cy="2198.10" r="4.90" fill="#c8221b"/>
<text x="36.60" y="2204.10" font-size="16.80">Translational initiation</text>
<circle cx="26.10" cy="2223.60" r="4.90" fill="#c8221b"/>
<text x="36.60" y="2229.60" font-size="16.80">Negative regulation of cell development</text>
<circle cx="26.10" cy="2249.10" r="4.90" fill="#c8221b"/>
<text x="36.60" y="2255.10" font-size="16.80">Negative regulation of cell migration</text>
<circle cx="26.10" cy="2274.60" r="4.90" fill="#c8221b"/>
<text x="36.60" y="2280.60" font-size="16.80">Negative regulation of cell motility</text>
<circle cx="26.10" cy="2394.60" r="4.90" fill="#c8221b"/>
<text x="36.60" y="2400.60" font-size="16.80">Mitotic nuclear division</text>
<circle cx="26.10" cy="2425.00" r="4.90" fill="#c8221b"/>
<text x="36.60" y="2431.00" font-size="16.80">Microtubule cytoskeleton organization</text>
<circle cx="26.10" cy="2455.70" r="4.90" fill="#c8221b"/>
<text x="36.60" y="2461.70" font-size="16.80">Sex differentiation</text>
<circle cx="26.10" cy="2486.10" r="4.90" fill="#c8221b"/>
<text x="36.60" y="2492.10" font-size="16.80">Integrin-mediated signalling pathway</text>
<rect x="354.80" y="2123.90" width="344.30" height="191.30" fill="#edbf2f" rx="30" ry="36"/>
<rect x="354.80" y="2327.00" width="344.30" height="191.60" fill="#9ae156" rx="30" ry="36"/>
<text x="526.95" y="2165.40" font-size="16.70" text-anchor="middle" font-weight="bold">Upregulated genes</text>
<text x="526.95" y="2356.60" font-size="16.70" text-anchor="middle" font-weight="bold">Downregulated genes</text>
<circle cx="379.20" cy="2186.00" r="4.90" fill="#c8221b"/>
<text x="389.00" y="2192.00" font-size="16.80">Translational initiation</text>
<circle cx="379.20" cy="2211.20" r="4.90" fill="#c8221b"/>
<text x="389.00" y="2217.20" font-size="16.80">Protein targeting to ER</text>
<circle cx="379.20" cy="2236.50" r="4.90" fill="#c8221b"/>
<text x="389.00" y="2242.50" font-size="16.80">Oxidative phosphorylation</text>
<circle cx="379.20" cy="2261.80" r="4.90" fill="#c8221b"/>
<text x="389.00" y="2267.80" font-size="16.80">Regulation of cellular carbohydrate</text>
<text x="389.00" y="2293.00" font-size="16.80">metabolic process</text>
<circle cx="379.20" cy="2380.80" r="4.90" fill="#c8221b"/>
<text x="389.00" y="2386.80" font-size="16.80">Positive regulation of microtubule</text>
<text x="389.00" y="2416.80" font-size="16.80">polymerization</text>
<circle cx="379.20" cy="2441.30" r="4.90" fill="#c8221b"/>
<text x="389.00" y="2447.30" font-size="16.80">Homotypic cell-cell adhesion</text>
<circle cx="379.20" cy="2471.80" r="4.90" fill="#c8221b"/>
<text x="389.00" y="2477.80" font-size="16.80">Integrin-mediated signalling pathway</text>
<circle cx="379.20" cy="2502.40" r="4.90" fill="#c8221b"/>
<text x="389.00" y="2508.40" font-size="16.80">Cell junction organization</text>
<rect x="707.40" y="2123.90" width="345.20" height="191.30" fill="#edbf2f" rx="30" ry="36"/>
<rect x="707.40" y="2327.00" width="345.20" height="191.60" fill="#9ae156" rx="30" ry="36"/>
<text x="880.00" y="2165.40" font-size="16.70" text-anchor="middle" font-weight="bold">Upregulated genes</text>
<text x="880.00" y="2356.60" font-size="16.70" text-anchor="middle" font-weight="bold">Downregulated genes</text>
<circle cx="732.30" cy="2185.90" r="4.90" fill="#c8221b"/>
<text x="742.30" y="2191.90" font-size="16.80">Positive regulation of cell cycle process</text>
<circle cx="732.30" cy="2211.20" r="4.90" fill="#c8221b"/>
<text x="742.30" y="2217.20" font-size="16.80">Translational initiation</text>
<circle cx="732.30" cy="2236.50" r="4.90" fill="#c8221b"/>
<text x="742.30" y="2242.50" font-size="16.80">Positive regulation of cell cycle</text>
<circle cx="732.30" cy="2261.80" r="4.90" fill="#c8221b"/>
<text x="742.30" y="2267.80" font-size="16.80">Dosage compensation by inactivation</text>
<text x="742.30" y="2293.00" font-size="16.80">of X chromosome</text>
<circle cx="732.30" cy="2394.70" r="4.90" fill="#c8221b"/>
<text x="742.30" y="2400.70" font-size="16.80">Actin filament organization</text>
<circle cx="732.30" cy="2424.80" r="4.90" fill="#c8221b"/>
<text x="742.30" y="2430.80" font-size="16.80">Cell-substrate adhesion</text>
<circle cx="732.30" cy="2455.30" r="4.90" fill="#c8221b"/>
<text x="742.30" y="2461.30" font-size="16.80">Sex differentiation</text>
<circle cx="732.30" cy="2485.80" r="4.90" fill="#c8221b"/>
<text x="742.30" y="2491.80" font-size="16.80">Gland development</text>
<text x="1079.80" y="2101.00" font-size="37.00" font-weight="bold">j</text>
<line x1="1364.30" y1="2131.80" x2="1364.30" y2="2136.70" stroke="#000" stroke-width="1.5"/>
<line x1="1364.30" y1="2153.10" x2="1364.30" y2="2157.90" stroke="#000" stroke-width="1.5"/>
<rect x="1352.20" y="2136.70" width="24.20" height="16.40" fill="#58c1bd" stroke="#000" stroke-width="1.5"/>
<line x1="1352.20" y1="2144.90" x2="1376.40" y2="2144.90" stroke="#000" stroke-width="1.6"/>
<text x="1386.00" y="2153.20" font-size="21.90">CtrlM</text>
<line x1="1526.10" y1="2131.80" x2="1526.10" y2="2136.70" stroke="#000" stroke-width="1.5"/>
<line x1="1526.10" y1="2153.10" x2="1526.10" y2="2157.90" stroke="#000" stroke-width="1.5"/>
<rect x="1514.00" y="2136.70" width="24.20" height="16.40" fill="#dbbd30" stroke="#000" stroke-width="1.5"/>
<line x1="1514.00" y1="2144.90" x2="1538.20" y2="2144.90" stroke="#000" stroke-width="1.6"/>
<text x="1547.90" y="2153.20" font-size="21.90">KS</text>
<text x="1228.00" y="2206.20" font-size="19.20">Cell adhesion score</text>
<text x="1472.00" y="2206.20" font-size="19.30">Microtubule cytoskeleton organization score</text>
<line x1="1143.10" y1="2239.00" x2="1143.10" y2="2442.80" stroke="#000" stroke-width="1.6"/>
<line x1="1142.30" y1="2442.00" x2="1473.00" y2="2442.00" stroke="#000" stroke-width="1.6"/>
<line x1="1139.50" y1="2258.40" x2="1143.10" y2="2258.40" stroke="#000" stroke-width="1.3"/>
<text x="1138.00" y="2265.20" font-size="19.40" text-anchor="end">0.10</text>
<line x1="1139.50" y1="2318.30" x2="1143.10" y2="2318.30" stroke="#000" stroke-width="1.3"/>
<text x="1138.00" y="2325.10" font-size="19.40" text-anchor="end">0.05</text>
<line x1="1139.50" y1="2377.20" x2="1143.10" y2="2377.20" stroke="#000" stroke-width="1.3"/>
<text x="1138.00" y="2384.00" font-size="19.40" text-anchor="end">0.00</text>
<line x1="1139.50" y1="2435.70" x2="1143.10" y2="2435.70" stroke="#000" stroke-width="1.3"/>
<text x="1138.00" y="2442.50" font-size="19.40" text-anchor="end">−0.05</text>
<line x1="1184.65" y1="2327.50" x2="1184.65" y2="2364.20" stroke="#000" stroke-width="1.5"/>
<line x1="1184.65" y1="2396.00" x2="1184.65" y2="2429.90" stroke="#000" stroke-width="1.5"/>
<rect x="1166.30" y="2364.20" width="36.70" height="31.80" fill="#58c1bd" stroke="#000" stroke-width="1.5"/>
<line x1="1166.30" y1="2378.20" x2="1203.00" y2="2378.20" stroke="#000" stroke-width="1.9"/>
<line x1="1225.90" y1="2339.50" x2="1225.90" y2="2372.40" stroke="#000" stroke-width="1.5"/>
<line x1="1225.90" y1="2394.60" x2="1225.90" y2="2423.60" stroke="#000" stroke-width="1.5"/>
<rect x="1207.80" y="2372.40" width="36.20" height="22.20" fill="#dbbd30" stroke="#000" stroke-width="1.5"/>
<line x1="1207.80" y1="2383.00" x2="1244.00" y2="2383.00" stroke="#000" stroke-width="1.9"/>
<line x1="1288.00" y1="2293.70" x2="1288.00" y2="2345.30" stroke="#000" stroke-width="1.5"/>
<line x1="1288.00" y1="2379.20" x2="1288.00" y2="2426.50" stroke="#000" stroke-width="1.5"/>
<rect x="1269.60" y="2345.30" width="36.80" height="33.90" fill="#58c1bd" stroke="#000" stroke-width="1.5"/>
<line x1="1269.60" y1="2362.70" x2="1306.40" y2="2362.70" stroke="#000" stroke-width="1.9"/>
<line x1="1329.05" y1="2318.30" x2="1329.05" y2="2357.90" stroke="#000" stroke-width="1.5"/>
<line x1="1329.05" y1="2384.50" x2="1329.05" y2="2421.70" stroke="#000" stroke-width="1.5"/>
<rect x="1310.70" y="2357.90" width="36.70" height="26.60" fill="#dbbd30" stroke="#000" stroke-width="1.5"/>
<line x1="1310.70" y1="2371.40" x2="1347.40" y2="2371.40" stroke="#000" stroke-width="1.9"/>
<line x1="1391.10" y1="2291.20" x2="1391.10" y2="2326.00" stroke="#000" stroke-width="1.5"/>
<line x1="1391.10" y1="2349.70" x2="1391.10" y2="2384.50" stroke="#000" stroke-width="1.5"/>
<rect x="1373.00" y="2326.00" width="36.20" height="23.70" fill="#58c1bd" stroke="#000" stroke-width="1.5"/>
<line x1="1373.00" y1="2337.10" x2="1409.20" y2="2337.10" stroke="#000" stroke-width="1.9"/>
<line x1="1432.15" y1="2308.10" x2="1432.15" y2="2341.50" stroke="#000" stroke-width="1.5"/>
<line x1="1432.15" y1="2363.20" x2="1432.15" y2="2394.60" stroke="#000" stroke-width="1.5"/>
<rect x="1414.00" y="2341.50" width="36.30" height="21.70" fill="#dbbd30" stroke="#000" stroke-width="1.5"/>
<line x1="1414.00" y1="2351.10" x2="1450.30" y2="2351.10" stroke="#000" stroke-width="1.9"/>
<line x1="1205.15" y1="2442.00" x2="1205.15" y2="2446.20" stroke="#000" stroke-width="1.3"/>
<text x="1220.15" y="2460.30" font-size="21.50" text-anchor="end" transform="rotate(-45.00 1220.15 2460.30)">SPC</text>
<line x1="1308.50" y1="2442.00" x2="1308.50" y2="2446.20" stroke="#000" stroke-width="1.3"/>
<text x="1323.50" y="2460.30" font-size="21.50" text-anchor="end" transform="rotate(-45.00 1323.50 2460.30)">SC1</text>
<line x1="1411.65" y1="2442.00" x2="1411.65" y2="2446.20" stroke="#000" stroke-width="1.3"/>
<text x="1426.65" y="2460.30" font-size="21.50" text-anchor="end" transform="rotate(-45.00 1426.65 2460.30)">SC2</text>
<text x="1175.00" y="2255.00" font-size="15.40"><tspan font-style="italic">P</tspan> = 0.027</text>
<text x="1264.30" y="2255.00" font-size="15.40"><tspan font-style="italic">P</tspan> = 4.6×10<tspan font-size="10.5" dy="-6.5">-32</tspan></text>
<text x="1370.60" y="2255.00" font-size="15.40"><tspan font-style="italic">P</tspan> = 4.6×10<tspan font-size="10.5" dy="-6.5">-39</tspan></text>
<line x1="1513.10" y1="2243.90" x2="1513.10" y2="2441.80" stroke="#000" stroke-width="1.6"/>
<line x1="1512.30" y1="2441.00" x2="1842.50" y2="2441.00" stroke="#000" stroke-width="1.6"/>
<line x1="1509.50" y1="2282.50" x2="1513.10" y2="2282.50" stroke="#000" stroke-width="1.3"/>
<text x="1505.00" y="2289.30" font-size="19.40" text-anchor="end">0.2</text>
<line x1="1509.50" y1="2344.40" x2="1513.10" y2="2344.40" stroke="#000" stroke-width="1.3"/>
<text x="1505.00" y="2351.20" font-size="19.40" text-anchor="end">0.1</text>
<line x1="1509.50" y1="2406.70" x2="1513.10" y2="2406.70" stroke="#000" stroke-width="1.3"/>
<text x="1505.00" y="2413.50" font-size="19.40" text-anchor="end">0.0</text>
<line x1="1554.40" y1="2271.90" x2="1554.40" y2="2333.70" stroke="#000" stroke-width="1.5"/>
<line x1="1554.40" y1="2374.80" x2="1554.40" y2="2404.80" stroke="#000" stroke-width="1.5"/>
<rect x="1536.30" y="2333.70" width="36.20" height="41.10" fill="#58c1bd" stroke="#000" stroke-width="1.5"/>
<line x1="1536.30" y1="2353.50" x2="1572.50" y2="2353.50" stroke="#000" stroke-width="1.9"/>
<line x1="1595.65" y1="2300.90" x2="1595.65" y2="2349.20" stroke="#000" stroke-width="1.5"/>
<line x1="1595.65" y1="2384.00" x2="1595.65" y2="2414.90" stroke="#000" stroke-width="1.5"/>
<rect x="1577.30" y="2349.20" width="36.70" height="34.80" fill="#dbbd30" stroke="#000" stroke-width="1.5"/>
<line x1="1577.30" y1="2368.50" x2="1614.00" y2="2368.50" stroke="#000" stroke-width="1.9"/>
<line x1="1658.05" y1="2354.00" x2="1658.05" y2="2382.50" stroke="#000" stroke-width="1.5"/>
<line x1="1658.05" y1="2401.90" x2="1658.05" y2="2429.90" stroke="#000" stroke-width="1.5"/>
<rect x="1639.70" y="2382.50" width="36.70" height="19.40" fill="#58c1bd" stroke="#000" stroke-width="1.5"/>
<line x1="1639.70" y1="2391.70" x2="1676.40" y2="2391.70" stroke="#000" stroke-width="1.9"/>
<line x1="1699.30" y1="2363.70" x2="1699.30" y2="2387.80" stroke="#000" stroke-width="1.5"/>
<line x1="1699.30" y1="2404.30" x2="1699.30" y2="2428.90" stroke="#000" stroke-width="1.5"/>
<rect x="1681.20" y="2387.80" width="36.20" height="16.50" fill="#dbbd30" stroke="#000" stroke-width="1.5"/>
<line x1="1681.20" y1="2396.50" x2="1717.40" y2="2396.50" stroke="#000" stroke-width="1.9"/>
<line x1="1761.10" y1="2340.50" x2="1761.10" y2="2362.70" stroke="#000" stroke-width="1.5"/>
<line x1="1761.10" y1="2380.60" x2="1761.10" y2="2406.20" stroke="#000" stroke-width="1.5"/>
<rect x="1742.50" y="2362.70" width="37.20" height="17.90" fill="#58c1bd" stroke="#000" stroke-width="1.5"/>
<line x1="1742.50" y1="2371.90" x2="1779.70" y2="2371.90" stroke="#000" stroke-width="1.9"/>
<line x1="1802.45" y1="2334.70" x2="1802.45" y2="2360.30" stroke="#000" stroke-width="1.5"/>
<line x1="1802.45" y1="2382.00" x2="1802.45" y2="2411.00" stroke="#000" stroke-width="1.5"/>
<rect x="1784.10" y="2360.30" width="36.70" height="21.70" fill="#dbbd30" stroke="#000" stroke-width="1.5"/>
<line x1="1784.10" y1="2370.50" x2="1820.80" y2="2370.50" stroke="#000" stroke-width="1.9"/>
<line x1="1575.15" y1="2441.00" x2="1575.15" y2="2445.20" stroke="#000" stroke-width="1.3"/>
<text x="1590.15" y="2459.30" font-size="21.50" text-anchor="end" transform="rotate(-45.00 1590.15 2459.30)">SPC</text>
<line x1="1678.55" y1="2441.00" x2="1678.55" y2="2445.20" stroke="#000" stroke-width="1.3"/>
<text x="1693.55" y="2459.30" font-size="21.50" text-anchor="end" transform="rotate(-45.00 1693.55 2459.30)">SC1</text>
<line x1="1781.65" y1="2441.00" x2="1781.65" y2="2445.20" stroke="#000" stroke-width="1.3"/>
<text x="1796.65" y="2459.30" font-size="21.50" text-anchor="end" transform="rotate(-45.00 1796.65 2459.30)">SC2</text>
<text x="1534.80" y="2255.00" font-size="15.40"><tspan font-style="italic">P</tspan> = 1.6×10<tspan font-size="10.5" dy="-6.5">-7</tspan></text>
<text x="1634.80" y="2255.00" font-size="15.40"><tspan font-style="italic">P</tspan> = 2.0×10<tspan font-size="10.5" dy="-6.5">-22</tspan></text>
<text x="1775.00" y="2252.00" font-size="15.40">NS</text>
<text x="1083.00" y="2345.30" font-size="20.80" text-anchor="middle" transform="rotate(-90.00 1083.00 2345.30)">Gene set score</text>
</svg>
</body></html>
